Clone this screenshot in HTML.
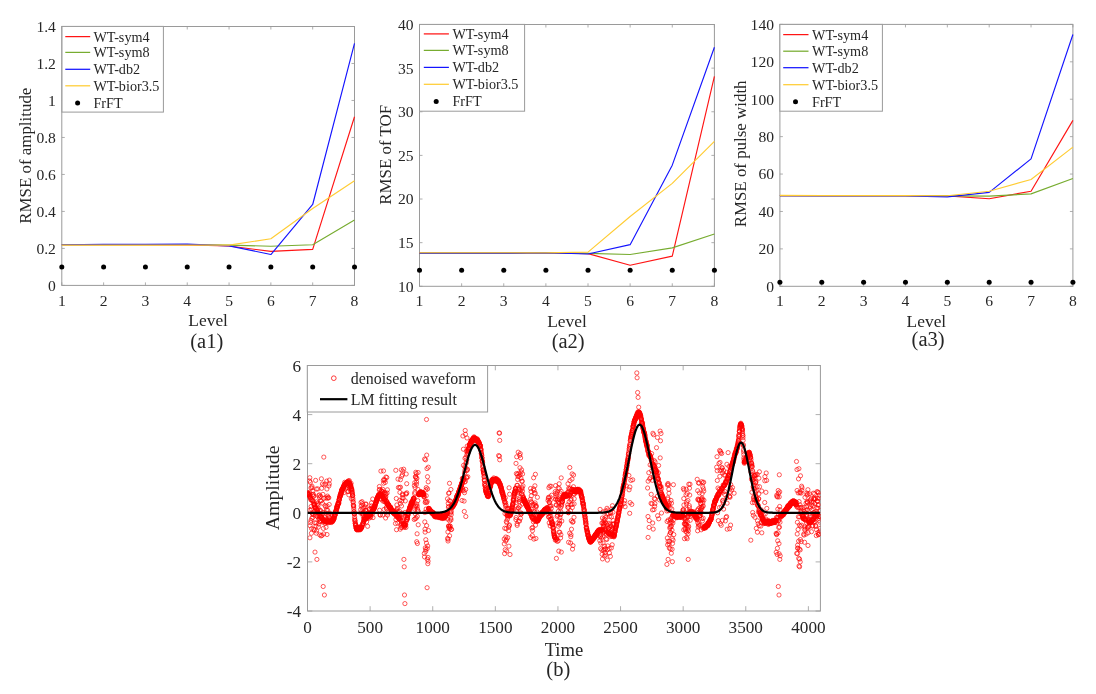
<!DOCTYPE html>
<html><head><meta charset="utf-8"><title>figure</title>
<style>html,body{margin:0;padding:0;background:#fff;width:1096px;height:694px;overflow:hidden}svg{display:block;will-change:transform}</style>
</head><body>
<svg width="1096" height="694" viewBox="0 0 1096 694" font-family='"Liberation Serif", serif'>
<defs><clipPath id="cb"><rect x="307.5" y="365.5" width="512.9" height="245.5"/></clipPath></defs>
<rect width="100%" height="100%" fill="#fff"/>
<rect x="61.8" y="26.5" width="292.7" height="258.9" fill="none" stroke="#9a9a9a" stroke-width="1"/>
<line x1="61.8" y1="285.4" x2="61.8" y2="282.4" stroke="#9a9a9a" stroke-width="0.8"/>
<line x1="61.8" y1="26.5" x2="61.8" y2="29.5" stroke="#9a9a9a" stroke-width="0.8"/>
<text x="61.8" y="306.2" font-size="15.6" text-anchor="middle" fill="#262626">1</text>
<line x1="103.61" y1="285.4" x2="103.61" y2="282.4" stroke="#9a9a9a" stroke-width="0.8"/>
<line x1="103.61" y1="26.5" x2="103.61" y2="29.5" stroke="#9a9a9a" stroke-width="0.8"/>
<text x="103.61" y="306.2" font-size="15.6" text-anchor="middle" fill="#262626">2</text>
<line x1="145.43" y1="285.4" x2="145.43" y2="282.4" stroke="#9a9a9a" stroke-width="0.8"/>
<line x1="145.43" y1="26.5" x2="145.43" y2="29.5" stroke="#9a9a9a" stroke-width="0.8"/>
<text x="145.43" y="306.2" font-size="15.6" text-anchor="middle" fill="#262626">3</text>
<line x1="187.24" y1="285.4" x2="187.24" y2="282.4" stroke="#9a9a9a" stroke-width="0.8"/>
<line x1="187.24" y1="26.5" x2="187.24" y2="29.5" stroke="#9a9a9a" stroke-width="0.8"/>
<text x="187.24" y="306.2" font-size="15.6" text-anchor="middle" fill="#262626">4</text>
<line x1="229.06" y1="285.4" x2="229.06" y2="282.4" stroke="#9a9a9a" stroke-width="0.8"/>
<line x1="229.06" y1="26.5" x2="229.06" y2="29.5" stroke="#9a9a9a" stroke-width="0.8"/>
<text x="229.06" y="306.2" font-size="15.6" text-anchor="middle" fill="#262626">5</text>
<line x1="270.87" y1="285.4" x2="270.87" y2="282.4" stroke="#9a9a9a" stroke-width="0.8"/>
<line x1="270.87" y1="26.5" x2="270.87" y2="29.5" stroke="#9a9a9a" stroke-width="0.8"/>
<text x="270.87" y="306.2" font-size="15.6" text-anchor="middle" fill="#262626">6</text>
<line x1="312.69" y1="285.4" x2="312.69" y2="282.4" stroke="#9a9a9a" stroke-width="0.8"/>
<line x1="312.69" y1="26.5" x2="312.69" y2="29.5" stroke="#9a9a9a" stroke-width="0.8"/>
<text x="312.69" y="306.2" font-size="15.6" text-anchor="middle" fill="#262626">7</text>
<line x1="354.5" y1="285.4" x2="354.5" y2="282.4" stroke="#9a9a9a" stroke-width="0.8"/>
<line x1="354.5" y1="26.5" x2="354.5" y2="29.5" stroke="#9a9a9a" stroke-width="0.8"/>
<text x="354.5" y="306.2" font-size="15.6" text-anchor="middle" fill="#262626">8</text>
<line x1="61.8" y1="285.4" x2="64.8" y2="285.4" stroke="#9a9a9a" stroke-width="0.8"/>
<line x1="354.5" y1="285.4" x2="351.5" y2="285.4" stroke="#9a9a9a" stroke-width="0.8"/>
<text x="55.9" y="290.8" font-size="15.6" text-anchor="end" fill="#262626">0</text>
<line x1="61.8" y1="248.41" x2="64.8" y2="248.41" stroke="#9a9a9a" stroke-width="0.8"/>
<line x1="354.5" y1="248.41" x2="351.5" y2="248.41" stroke="#9a9a9a" stroke-width="0.8"/>
<text x="55.9" y="253.81" font-size="15.6" text-anchor="end" fill="#262626">0.2</text>
<line x1="61.8" y1="211.43" x2="64.8" y2="211.43" stroke="#9a9a9a" stroke-width="0.8"/>
<line x1="354.5" y1="211.43" x2="351.5" y2="211.43" stroke="#9a9a9a" stroke-width="0.8"/>
<text x="55.9" y="216.83" font-size="15.6" text-anchor="end" fill="#262626">0.4</text>
<line x1="61.8" y1="174.44" x2="64.8" y2="174.44" stroke="#9a9a9a" stroke-width="0.8"/>
<line x1="354.5" y1="174.44" x2="351.5" y2="174.44" stroke="#9a9a9a" stroke-width="0.8"/>
<text x="55.9" y="179.84" font-size="15.6" text-anchor="end" fill="#262626">0.6</text>
<line x1="61.8" y1="137.46" x2="64.8" y2="137.46" stroke="#9a9a9a" stroke-width="0.8"/>
<line x1="354.5" y1="137.46" x2="351.5" y2="137.46" stroke="#9a9a9a" stroke-width="0.8"/>
<text x="55.9" y="142.86" font-size="15.6" text-anchor="end" fill="#262626">0.8</text>
<line x1="61.8" y1="100.47" x2="64.8" y2="100.47" stroke="#9a9a9a" stroke-width="0.8"/>
<line x1="354.5" y1="100.47" x2="351.5" y2="100.47" stroke="#9a9a9a" stroke-width="0.8"/>
<text x="55.9" y="105.87" font-size="15.6" text-anchor="end" fill="#262626">1</text>
<line x1="61.8" y1="63.49" x2="64.8" y2="63.49" stroke="#9a9a9a" stroke-width="0.8"/>
<line x1="354.5" y1="63.49" x2="351.5" y2="63.49" stroke="#9a9a9a" stroke-width="0.8"/>
<text x="55.9" y="68.89" font-size="15.6" text-anchor="end" fill="#262626">1.2</text>
<line x1="61.8" y1="26.5" x2="64.8" y2="26.5" stroke="#9a9a9a" stroke-width="0.8"/>
<line x1="354.5" y1="26.5" x2="351.5" y2="26.5" stroke="#9a9a9a" stroke-width="0.8"/>
<text x="55.9" y="31.9" font-size="15.6" text-anchor="end" fill="#262626">1.4</text>
<polyline points="61.8,244.72 103.61,244.72 145.43,244.72 187.24,244.9 229.06,246.01 270.87,251.37 312.69,249.34 354.5,116.75" fill="none" stroke="#ff1414" stroke-width="1.15" stroke-linejoin="round"/>
<polyline points="61.8,244.72 103.61,244.72 145.43,244.72 187.24,244.53 229.06,245.09 270.87,246.2 312.69,244.79 354.5,220.12" fill="none" stroke="#77ac30" stroke-width="1.15" stroke-linejoin="round"/>
<polyline points="61.8,244.72 103.61,244.35 145.43,244.35 187.24,244.16 229.06,245.83 270.87,254.52 312.69,204.49 354.5,43.33" fill="none" stroke="#1414ff" stroke-width="1.15" stroke-linejoin="round"/>
<polyline points="61.8,245.09 103.61,245.09 145.43,245.09 187.24,245.09 229.06,245.09 270.87,238.8 312.69,208.47 354.5,180.73" fill="none" stroke="#ffcc33" stroke-width="1.15" stroke-linejoin="round"/>
<circle cx="61.8" cy="266.91" r="2.5" fill="#000"/>
<circle cx="103.61" cy="266.91" r="2.5" fill="#000"/>
<circle cx="145.43" cy="266.91" r="2.5" fill="#000"/>
<circle cx="187.24" cy="266.91" r="2.5" fill="#000"/>
<circle cx="229.06" cy="266.91" r="2.5" fill="#000"/>
<circle cx="270.87" cy="266.91" r="2.5" fill="#000"/>
<circle cx="312.69" cy="266.91" r="2.5" fill="#000"/>
<circle cx="354.5" cy="266.91" r="2.5" fill="#000"/>
<rect x="62" y="26.4" width="101.4" height="85.7" fill="#fff" stroke="#9a9a9a" stroke-width="1"/>
<line x1="65.3" y1="36.6" x2="90.2" y2="36.6" stroke="#ff1414" stroke-width="1.25"/>
<text x="93.4" y="41.5" font-size="14.2" text-anchor="start" fill="#262626">WT-sym4</text>
<line x1="65.3" y1="52.4" x2="90.2" y2="52.4" stroke="#77ac30" stroke-width="1.25"/>
<text x="93.4" y="57.3" font-size="14.2" text-anchor="start" fill="#262626">WT-sym8</text>
<line x1="65.3" y1="69.3" x2="90.2" y2="69.3" stroke="#1414ff" stroke-width="1.25"/>
<text x="93.4" y="74.2" font-size="14.2" text-anchor="start" fill="#262626">WT-db2</text>
<line x1="65.3" y1="85.8" x2="90.2" y2="85.8" stroke="#ffcc33" stroke-width="1.25"/>
<text x="93.4" y="90.7" font-size="14.2" text-anchor="start" fill="#262626">WT-bior3.5</text>
<circle cx="77.6" cy="103.1" r="2.5" fill="#000"/>
<text x="93.4" y="108" font-size="14.2" text-anchor="start" fill="#262626">FrFT</text>
<text x="208.15" y="326.3" font-size="17.4" text-anchor="middle" fill="#262626">Level</text>
<text x="0" y="0" transform="translate(30.6 155.7) rotate(-90)" font-size="16.9" text-anchor="middle" fill="#262626">RMSE of amplitude</text>
<text x="206.8" y="347.8" font-size="20.5" text-anchor="middle" fill="#262626">(a1)</text>
<rect x="419.5" y="24.5" width="294.9" height="261.8" fill="none" stroke="#9a9a9a" stroke-width="1"/>
<line x1="419.5" y1="286.3" x2="419.5" y2="283.3" stroke="#9a9a9a" stroke-width="0.8"/>
<line x1="419.5" y1="24.5" x2="419.5" y2="27.5" stroke="#9a9a9a" stroke-width="0.8"/>
<text x="419.5" y="306.2" font-size="15.6" text-anchor="middle" fill="#262626">1</text>
<line x1="461.63" y1="286.3" x2="461.63" y2="283.3" stroke="#9a9a9a" stroke-width="0.8"/>
<line x1="461.63" y1="24.5" x2="461.63" y2="27.5" stroke="#9a9a9a" stroke-width="0.8"/>
<text x="461.63" y="306.2" font-size="15.6" text-anchor="middle" fill="#262626">2</text>
<line x1="503.76" y1="286.3" x2="503.76" y2="283.3" stroke="#9a9a9a" stroke-width="0.8"/>
<line x1="503.76" y1="24.5" x2="503.76" y2="27.5" stroke="#9a9a9a" stroke-width="0.8"/>
<text x="503.76" y="306.2" font-size="15.6" text-anchor="middle" fill="#262626">3</text>
<line x1="545.89" y1="286.3" x2="545.89" y2="283.3" stroke="#9a9a9a" stroke-width="0.8"/>
<line x1="545.89" y1="24.5" x2="545.89" y2="27.5" stroke="#9a9a9a" stroke-width="0.8"/>
<text x="545.89" y="306.2" font-size="15.6" text-anchor="middle" fill="#262626">4</text>
<line x1="588.01" y1="286.3" x2="588.01" y2="283.3" stroke="#9a9a9a" stroke-width="0.8"/>
<line x1="588.01" y1="24.5" x2="588.01" y2="27.5" stroke="#9a9a9a" stroke-width="0.8"/>
<text x="588.01" y="306.2" font-size="15.6" text-anchor="middle" fill="#262626">5</text>
<line x1="630.14" y1="286.3" x2="630.14" y2="283.3" stroke="#9a9a9a" stroke-width="0.8"/>
<line x1="630.14" y1="24.5" x2="630.14" y2="27.5" stroke="#9a9a9a" stroke-width="0.8"/>
<text x="630.14" y="306.2" font-size="15.6" text-anchor="middle" fill="#262626">6</text>
<line x1="672.27" y1="286.3" x2="672.27" y2="283.3" stroke="#9a9a9a" stroke-width="0.8"/>
<line x1="672.27" y1="24.5" x2="672.27" y2="27.5" stroke="#9a9a9a" stroke-width="0.8"/>
<text x="672.27" y="306.2" font-size="15.6" text-anchor="middle" fill="#262626">7</text>
<line x1="714.4" y1="286.3" x2="714.4" y2="283.3" stroke="#9a9a9a" stroke-width="0.8"/>
<line x1="714.4" y1="24.5" x2="714.4" y2="27.5" stroke="#9a9a9a" stroke-width="0.8"/>
<text x="714.4" y="306.2" font-size="15.6" text-anchor="middle" fill="#262626">8</text>
<line x1="419.5" y1="286.3" x2="422.5" y2="286.3" stroke="#9a9a9a" stroke-width="0.8"/>
<line x1="714.4" y1="286.3" x2="711.4" y2="286.3" stroke="#9a9a9a" stroke-width="0.8"/>
<text x="413.6" y="291.7" font-size="15.6" text-anchor="end" fill="#262626">10</text>
<line x1="419.5" y1="242.67" x2="422.5" y2="242.67" stroke="#9a9a9a" stroke-width="0.8"/>
<line x1="714.4" y1="242.67" x2="711.4" y2="242.67" stroke="#9a9a9a" stroke-width="0.8"/>
<text x="413.6" y="248.07" font-size="15.6" text-anchor="end" fill="#262626">15</text>
<line x1="419.5" y1="199.03" x2="422.5" y2="199.03" stroke="#9a9a9a" stroke-width="0.8"/>
<line x1="714.4" y1="199.03" x2="711.4" y2="199.03" stroke="#9a9a9a" stroke-width="0.8"/>
<text x="413.6" y="204.43" font-size="15.6" text-anchor="end" fill="#262626">20</text>
<line x1="419.5" y1="155.4" x2="422.5" y2="155.4" stroke="#9a9a9a" stroke-width="0.8"/>
<line x1="714.4" y1="155.4" x2="711.4" y2="155.4" stroke="#9a9a9a" stroke-width="0.8"/>
<text x="413.6" y="160.8" font-size="15.6" text-anchor="end" fill="#262626">25</text>
<line x1="419.5" y1="111.77" x2="422.5" y2="111.77" stroke="#9a9a9a" stroke-width="0.8"/>
<line x1="714.4" y1="111.77" x2="711.4" y2="111.77" stroke="#9a9a9a" stroke-width="0.8"/>
<text x="413.6" y="117.17" font-size="15.6" text-anchor="end" fill="#262626">30</text>
<line x1="419.5" y1="68.13" x2="422.5" y2="68.13" stroke="#9a9a9a" stroke-width="0.8"/>
<line x1="714.4" y1="68.13" x2="711.4" y2="68.13" stroke="#9a9a9a" stroke-width="0.8"/>
<text x="413.6" y="73.53" font-size="15.6" text-anchor="end" fill="#262626">35</text>
<line x1="419.5" y1="24.5" x2="422.5" y2="24.5" stroke="#9a9a9a" stroke-width="0.8"/>
<line x1="714.4" y1="24.5" x2="711.4" y2="24.5" stroke="#9a9a9a" stroke-width="0.8"/>
<text x="413.6" y="29.9" font-size="15.6" text-anchor="end" fill="#262626">40</text>
<polyline points="419.5,253.14 461.63,253.14 503.76,253.14 545.89,252.7 588.01,253.58 630.14,265.27 672.27,256.11 714.4,76.42" fill="none" stroke="#ff1414" stroke-width="1.15" stroke-linejoin="round"/>
<polyline points="419.5,253.14 461.63,253.14 503.76,253.14 545.89,252.7 588.01,253.31 630.14,254.53 672.27,247.9 714.4,233.94" fill="none" stroke="#77ac30" stroke-width="1.15" stroke-linejoin="round"/>
<polyline points="419.5,253.14 461.63,253.14 503.76,253.14 545.89,252.7 588.01,254.01 630.14,244.67 672.27,165.17 714.4,47.19" fill="none" stroke="#1414ff" stroke-width="1.15" stroke-linejoin="round"/>
<polyline points="419.5,252.7 461.63,252.7 503.76,252.7 545.89,252.7 588.01,252.09 630.14,216.49 672.27,183.33 714.4,141.44" fill="none" stroke="#ffcc33" stroke-width="1.15" stroke-linejoin="round"/>
<circle cx="419.5" cy="270.33" r="2.5" fill="#000"/>
<circle cx="461.63" cy="270.33" r="2.5" fill="#000"/>
<circle cx="503.76" cy="270.33" r="2.5" fill="#000"/>
<circle cx="545.89" cy="270.33" r="2.5" fill="#000"/>
<circle cx="588.01" cy="270.33" r="2.5" fill="#000"/>
<circle cx="630.14" cy="270.33" r="2.5" fill="#000"/>
<circle cx="672.27" cy="270.33" r="2.5" fill="#000"/>
<circle cx="714.4" cy="270.33" r="2.5" fill="#000"/>
<rect x="419.5" y="24.4" width="105.1" height="86.8" fill="#fff" stroke="#9a9a9a" stroke-width="1"/>
<line x1="423.8" y1="33.9" x2="448.9" y2="33.9" stroke="#ff1414" stroke-width="1.25"/>
<text x="452.4" y="38.8" font-size="14.2" text-anchor="start" fill="#262626">WT-sym4</text>
<line x1="423.8" y1="50.4" x2="448.9" y2="50.4" stroke="#77ac30" stroke-width="1.25"/>
<text x="452.4" y="55.3" font-size="14.2" text-anchor="start" fill="#262626">WT-sym8</text>
<line x1="423.8" y1="67.4" x2="448.9" y2="67.4" stroke="#1414ff" stroke-width="1.25"/>
<text x="452.4" y="72.3" font-size="14.2" text-anchor="start" fill="#262626">WT-db2</text>
<line x1="423.8" y1="84.3" x2="448.9" y2="84.3" stroke="#ffcc33" stroke-width="1.25"/>
<text x="452.4" y="89.2" font-size="14.2" text-anchor="start" fill="#262626">WT-bior3.5</text>
<circle cx="436.2" cy="101.4" r="2.5" fill="#000"/>
<text x="452.4" y="106.3" font-size="14.2" text-anchor="start" fill="#262626">FrFT</text>
<text x="566.95" y="327" font-size="17.4" text-anchor="middle" fill="#262626">Level</text>
<text x="0" y="0" transform="translate(391 154.8) rotate(-90)" font-size="16.9" text-anchor="middle" fill="#262626">RMSE of TOF</text>
<text x="568.2" y="347.7" font-size="20.5" text-anchor="middle" fill="#262626">(a2)</text>
<rect x="779.9" y="24.4" width="293" height="261.9" fill="none" stroke="#9a9a9a" stroke-width="1"/>
<line x1="779.9" y1="286.3" x2="779.9" y2="283.3" stroke="#9a9a9a" stroke-width="0.8"/>
<line x1="779.9" y1="24.4" x2="779.9" y2="27.4" stroke="#9a9a9a" stroke-width="0.8"/>
<text x="779.9" y="306.2" font-size="15.6" text-anchor="middle" fill="#262626">1</text>
<line x1="821.76" y1="286.3" x2="821.76" y2="283.3" stroke="#9a9a9a" stroke-width="0.8"/>
<line x1="821.76" y1="24.4" x2="821.76" y2="27.4" stroke="#9a9a9a" stroke-width="0.8"/>
<text x="821.76" y="306.2" font-size="15.6" text-anchor="middle" fill="#262626">2</text>
<line x1="863.61" y1="286.3" x2="863.61" y2="283.3" stroke="#9a9a9a" stroke-width="0.8"/>
<line x1="863.61" y1="24.4" x2="863.61" y2="27.4" stroke="#9a9a9a" stroke-width="0.8"/>
<text x="863.61" y="306.2" font-size="15.6" text-anchor="middle" fill="#262626">3</text>
<line x1="905.47" y1="286.3" x2="905.47" y2="283.3" stroke="#9a9a9a" stroke-width="0.8"/>
<line x1="905.47" y1="24.4" x2="905.47" y2="27.4" stroke="#9a9a9a" stroke-width="0.8"/>
<text x="905.47" y="306.2" font-size="15.6" text-anchor="middle" fill="#262626">4</text>
<line x1="947.33" y1="286.3" x2="947.33" y2="283.3" stroke="#9a9a9a" stroke-width="0.8"/>
<line x1="947.33" y1="24.4" x2="947.33" y2="27.4" stroke="#9a9a9a" stroke-width="0.8"/>
<text x="947.33" y="306.2" font-size="15.6" text-anchor="middle" fill="#262626">5</text>
<line x1="989.19" y1="286.3" x2="989.19" y2="283.3" stroke="#9a9a9a" stroke-width="0.8"/>
<line x1="989.19" y1="24.4" x2="989.19" y2="27.4" stroke="#9a9a9a" stroke-width="0.8"/>
<text x="989.19" y="306.2" font-size="15.6" text-anchor="middle" fill="#262626">6</text>
<line x1="1031.04" y1="286.3" x2="1031.04" y2="283.3" stroke="#9a9a9a" stroke-width="0.8"/>
<line x1="1031.04" y1="24.4" x2="1031.04" y2="27.4" stroke="#9a9a9a" stroke-width="0.8"/>
<text x="1031.04" y="306.2" font-size="15.6" text-anchor="middle" fill="#262626">7</text>
<line x1="1072.9" y1="286.3" x2="1072.9" y2="283.3" stroke="#9a9a9a" stroke-width="0.8"/>
<line x1="1072.9" y1="24.4" x2="1072.9" y2="27.4" stroke="#9a9a9a" stroke-width="0.8"/>
<text x="1072.9" y="306.2" font-size="15.6" text-anchor="middle" fill="#262626">8</text>
<line x1="779.9" y1="286.3" x2="782.9" y2="286.3" stroke="#9a9a9a" stroke-width="0.8"/>
<line x1="1072.9" y1="286.3" x2="1069.9" y2="286.3" stroke="#9a9a9a" stroke-width="0.8"/>
<text x="774" y="291.7" font-size="15.6" text-anchor="end" fill="#262626">0</text>
<line x1="779.9" y1="248.89" x2="782.9" y2="248.89" stroke="#9a9a9a" stroke-width="0.8"/>
<line x1="1072.9" y1="248.89" x2="1069.9" y2="248.89" stroke="#9a9a9a" stroke-width="0.8"/>
<text x="774" y="254.29" font-size="15.6" text-anchor="end" fill="#262626">20</text>
<line x1="779.9" y1="211.47" x2="782.9" y2="211.47" stroke="#9a9a9a" stroke-width="0.8"/>
<line x1="1072.9" y1="211.47" x2="1069.9" y2="211.47" stroke="#9a9a9a" stroke-width="0.8"/>
<text x="774" y="216.87" font-size="15.6" text-anchor="end" fill="#262626">40</text>
<line x1="779.9" y1="174.06" x2="782.9" y2="174.06" stroke="#9a9a9a" stroke-width="0.8"/>
<line x1="1072.9" y1="174.06" x2="1069.9" y2="174.06" stroke="#9a9a9a" stroke-width="0.8"/>
<text x="774" y="179.46" font-size="15.6" text-anchor="end" fill="#262626">60</text>
<line x1="779.9" y1="136.64" x2="782.9" y2="136.64" stroke="#9a9a9a" stroke-width="0.8"/>
<line x1="1072.9" y1="136.64" x2="1069.9" y2="136.64" stroke="#9a9a9a" stroke-width="0.8"/>
<text x="774" y="142.04" font-size="15.6" text-anchor="end" fill="#262626">80</text>
<line x1="779.9" y1="99.23" x2="782.9" y2="99.23" stroke="#9a9a9a" stroke-width="0.8"/>
<line x1="1072.9" y1="99.23" x2="1069.9" y2="99.23" stroke="#9a9a9a" stroke-width="0.8"/>
<text x="774" y="104.63" font-size="15.6" text-anchor="end" fill="#262626">100</text>
<line x1="779.9" y1="61.81" x2="782.9" y2="61.81" stroke="#9a9a9a" stroke-width="0.8"/>
<line x1="1072.9" y1="61.81" x2="1069.9" y2="61.81" stroke="#9a9a9a" stroke-width="0.8"/>
<text x="774" y="67.21" font-size="15.6" text-anchor="end" fill="#262626">120</text>
<line x1="779.9" y1="24.4" x2="782.9" y2="24.4" stroke="#9a9a9a" stroke-width="0.8"/>
<line x1="1072.9" y1="24.4" x2="1069.9" y2="24.4" stroke="#9a9a9a" stroke-width="0.8"/>
<text x="774" y="29.8" font-size="15.6" text-anchor="end" fill="#262626">140</text>
<polyline points="779.9,195.57 821.76,195.57 863.61,195.57 905.47,195.57 947.33,195.94 989.19,198.75 1031.04,191.27 1072.9,120.37" fill="none" stroke="#ff1414" stroke-width="1.15" stroke-linejoin="round"/>
<polyline points="779.9,195.57 821.76,195.57 863.61,195.57 905.47,195.57 947.33,195.94 989.19,196.13 1031.04,193.89 1072.9,178.55" fill="none" stroke="#77ac30" stroke-width="1.15" stroke-linejoin="round"/>
<polyline points="779.9,195.57 821.76,195.94 863.61,195.94 905.47,195.94 947.33,196.88 989.19,192.39 1031.04,158.9 1072.9,34.5" fill="none" stroke="#1414ff" stroke-width="1.15" stroke-linejoin="round"/>
<polyline points="779.9,195.38 821.76,195.57 863.61,195.57 905.47,195.57 947.33,195.76 989.19,191.27 1031.04,179.48 1072.9,147.12" fill="none" stroke="#ffcc33" stroke-width="1.15" stroke-linejoin="round"/>
<circle cx="779.9" cy="282.37" r="2.5" fill="#000"/>
<circle cx="821.76" cy="282.37" r="2.5" fill="#000"/>
<circle cx="863.61" cy="282.37" r="2.5" fill="#000"/>
<circle cx="905.47" cy="282.37" r="2.5" fill="#000"/>
<circle cx="947.33" cy="282.37" r="2.5" fill="#000"/>
<circle cx="989.19" cy="282.37" r="2.5" fill="#000"/>
<circle cx="1031.04" cy="282.37" r="2.5" fill="#000"/>
<circle cx="1072.9" cy="282.37" r="2.5" fill="#000"/>
<rect x="779.9" y="24.4" width="102.5" height="86.8" fill="#fff" stroke="#9a9a9a" stroke-width="1"/>
<line x1="783.2" y1="34.6" x2="808.5" y2="34.6" stroke="#ff1414" stroke-width="1.25"/>
<text x="812" y="39.5" font-size="14.2" text-anchor="start" fill="#262626">WT-sym4</text>
<line x1="783.2" y1="51.2" x2="808.5" y2="51.2" stroke="#77ac30" stroke-width="1.25"/>
<text x="812" y="56.1" font-size="14.2" text-anchor="start" fill="#262626">WT-sym8</text>
<line x1="783.2" y1="67.7" x2="808.5" y2="67.7" stroke="#1414ff" stroke-width="1.25"/>
<text x="812" y="72.6" font-size="14.2" text-anchor="start" fill="#262626">WT-db2</text>
<line x1="783.2" y1="84.7" x2="808.5" y2="84.7" stroke="#ffcc33" stroke-width="1.25"/>
<text x="812" y="89.6" font-size="14.2" text-anchor="start" fill="#262626">WT-bior3.5</text>
<circle cx="795.5" cy="101.8" r="2.5" fill="#000"/>
<text x="812" y="106.7" font-size="14.2" text-anchor="start" fill="#262626">FrFT</text>
<text x="926.4" y="326.8" font-size="17.4" text-anchor="middle" fill="#262626">Level</text>
<text x="0" y="0" transform="translate(745.7 153.9) rotate(-90)" font-size="16.9" text-anchor="middle" fill="#262626">RMSE of pulse width</text>
<text x="928.1" y="345.5" font-size="20.5" text-anchor="middle" fill="#262626">(a3)</text>
<rect x="307.5" y="365.5" width="512.9" height="245.5" fill="none" stroke="#9a9a9a" stroke-width="1"/>
<line x1="307.5" y1="611" x2="307.5" y2="606.2" stroke="#9a9a9a" stroke-width="0.8"/>
<line x1="307.5" y1="365.5" x2="307.5" y2="370.3" stroke="#9a9a9a" stroke-width="0.8"/>
<text x="307.5" y="633.4" font-size="17.2" text-anchor="middle" fill="#262626">0</text>
<line x1="370.11" y1="611" x2="370.11" y2="606.2" stroke="#9a9a9a" stroke-width="0.8"/>
<line x1="370.11" y1="365.5" x2="370.11" y2="370.3" stroke="#9a9a9a" stroke-width="0.8"/>
<text x="370.11" y="633.4" font-size="17.2" text-anchor="middle" fill="#262626">500</text>
<line x1="432.72" y1="611" x2="432.72" y2="606.2" stroke="#9a9a9a" stroke-width="0.8"/>
<line x1="432.72" y1="365.5" x2="432.72" y2="370.3" stroke="#9a9a9a" stroke-width="0.8"/>
<text x="432.72" y="633.4" font-size="17.2" text-anchor="middle" fill="#262626">1000</text>
<line x1="495.33" y1="611" x2="495.33" y2="606.2" stroke="#9a9a9a" stroke-width="0.8"/>
<line x1="495.33" y1="365.5" x2="495.33" y2="370.3" stroke="#9a9a9a" stroke-width="0.8"/>
<text x="495.33" y="633.4" font-size="17.2" text-anchor="middle" fill="#262626">1500</text>
<line x1="557.94" y1="611" x2="557.94" y2="606.2" stroke="#9a9a9a" stroke-width="0.8"/>
<line x1="557.94" y1="365.5" x2="557.94" y2="370.3" stroke="#9a9a9a" stroke-width="0.8"/>
<text x="557.94" y="633.4" font-size="17.2" text-anchor="middle" fill="#262626">2000</text>
<line x1="620.55" y1="611" x2="620.55" y2="606.2" stroke="#9a9a9a" stroke-width="0.8"/>
<line x1="620.55" y1="365.5" x2="620.55" y2="370.3" stroke="#9a9a9a" stroke-width="0.8"/>
<text x="620.55" y="633.4" font-size="17.2" text-anchor="middle" fill="#262626">2500</text>
<line x1="683.16" y1="611" x2="683.16" y2="606.2" stroke="#9a9a9a" stroke-width="0.8"/>
<line x1="683.16" y1="365.5" x2="683.16" y2="370.3" stroke="#9a9a9a" stroke-width="0.8"/>
<text x="683.16" y="633.4" font-size="17.2" text-anchor="middle" fill="#262626">3000</text>
<line x1="745.77" y1="611" x2="745.77" y2="606.2" stroke="#9a9a9a" stroke-width="0.8"/>
<line x1="745.77" y1="365.5" x2="745.77" y2="370.3" stroke="#9a9a9a" stroke-width="0.8"/>
<text x="745.77" y="633.4" font-size="17.2" text-anchor="middle" fill="#262626">3500</text>
<line x1="808.38" y1="611" x2="808.38" y2="606.2" stroke="#9a9a9a" stroke-width="0.8"/>
<line x1="808.38" y1="365.5" x2="808.38" y2="370.3" stroke="#9a9a9a" stroke-width="0.8"/>
<text x="808.38" y="633.4" font-size="17.2" text-anchor="middle" fill="#262626">4000</text>
<line x1="307.5" y1="611" x2="312.3" y2="611" stroke="#9a9a9a" stroke-width="0.8"/>
<line x1="820.4" y1="611" x2="815.6" y2="611" stroke="#9a9a9a" stroke-width="0.8"/>
<text x="301" y="617" font-size="17.2" text-anchor="end" fill="#262626">-4</text>
<line x1="307.5" y1="561.9" x2="312.3" y2="561.9" stroke="#9a9a9a" stroke-width="0.8"/>
<line x1="820.4" y1="561.9" x2="815.6" y2="561.9" stroke="#9a9a9a" stroke-width="0.8"/>
<text x="301" y="567.9" font-size="17.2" text-anchor="end" fill="#262626">-2</text>
<line x1="307.5" y1="512.8" x2="312.3" y2="512.8" stroke="#9a9a9a" stroke-width="0.8"/>
<line x1="820.4" y1="512.8" x2="815.6" y2="512.8" stroke="#9a9a9a" stroke-width="0.8"/>
<text x="301" y="518.8" font-size="17.2" text-anchor="end" fill="#262626">0</text>
<line x1="307.5" y1="463.7" x2="312.3" y2="463.7" stroke="#9a9a9a" stroke-width="0.8"/>
<line x1="820.4" y1="463.7" x2="815.6" y2="463.7" stroke="#9a9a9a" stroke-width="0.8"/>
<text x="301" y="469.7" font-size="17.2" text-anchor="end" fill="#262626">2</text>
<line x1="307.5" y1="414.6" x2="312.3" y2="414.6" stroke="#9a9a9a" stroke-width="0.8"/>
<line x1="820.4" y1="414.6" x2="815.6" y2="414.6" stroke="#9a9a9a" stroke-width="0.8"/>
<text x="301" y="420.6" font-size="17.2" text-anchor="end" fill="#262626">4</text>
<line x1="307.5" y1="365.5" x2="312.3" y2="365.5" stroke="#9a9a9a" stroke-width="0.8"/>
<line x1="820.4" y1="365.5" x2="815.6" y2="365.5" stroke="#9a9a9a" stroke-width="0.8"/>
<text x="301" y="371.5" font-size="17.2" text-anchor="end" fill="#262626">6</text>
<g clip-path="url(#cb)"><path d="M305.4 492.9a2.1 2.1 0 1 0 4.2 0a2.1 2.1 0 1 0 -4.2 0M305.5 492.8a2.1 2.1 0 1 0 4.2 0a2.1 2.1 0 1 0 -4.2 0M305.7 493.4a2.1 2.1 0 1 0 4.2 0a2.1 2.1 0 1 0 -4.2 0M305.8 494.1a2.1 2.1 0 1 0 4.2 0a2.1 2.1 0 1 0 -4.2 0M305.9 493.9a2.1 2.1 0 1 0 4.2 0a2.1 2.1 0 1 0 -4.2 0M306.0 494.5a2.1 2.1 0 1 0 4.2 0a2.1 2.1 0 1 0 -4.2 0M306.2 493.9a2.1 2.1 0 1 0 4.2 0a2.1 2.1 0 1 0 -4.2 0M306.3 493.2a2.1 2.1 0 1 0 4.2 0a2.1 2.1 0 1 0 -4.2 0M306.4 494.7a2.1 2.1 0 1 0 4.2 0a2.1 2.1 0 1 0 -4.2 0M306.5 495.0a2.1 2.1 0 1 0 4.2 0a2.1 2.1 0 1 0 -4.2 0M306.7 494.3a2.1 2.1 0 1 0 4.2 0a2.1 2.1 0 1 0 -4.2 0M306.8 494.6a2.1 2.1 0 1 0 4.2 0a2.1 2.1 0 1 0 -4.2 0M306.9 495.0a2.1 2.1 0 1 0 4.2 0a2.1 2.1 0 1 0 -4.2 0M307.0 496.0a2.1 2.1 0 1 0 4.2 0a2.1 2.1 0 1 0 -4.2 0M307.2 495.5a2.1 2.1 0 1 0 4.2 0a2.1 2.1 0 1 0 -4.2 0M307.3 492.5a2.1 2.1 0 1 0 4.2 0a2.1 2.1 0 1 0 -4.2 0M307.4 496.9a2.1 2.1 0 1 0 4.2 0a2.1 2.1 0 1 0 -4.2 0M307.5 481.0a2.1 2.1 0 1 0 4.2 0a2.1 2.1 0 1 0 -4.2 0M307.7 477.7a2.1 2.1 0 1 0 4.2 0a2.1 2.1 0 1 0 -4.2 0M307.8 537.8a2.1 2.1 0 1 0 4.2 0a2.1 2.1 0 1 0 -4.2 0M307.9 510.1a2.1 2.1 0 1 0 4.2 0a2.1 2.1 0 1 0 -4.2 0M308.0 525.7a2.1 2.1 0 1 0 4.2 0a2.1 2.1 0 1 0 -4.2 0M308.2 498.0a2.1 2.1 0 1 0 4.2 0a2.1 2.1 0 1 0 -4.2 0M308.3 482.4a2.1 2.1 0 1 0 4.2 0a2.1 2.1 0 1 0 -4.2 0M308.4 497.4a2.1 2.1 0 1 0 4.2 0a2.1 2.1 0 1 0 -4.2 0M308.5 522.5a2.1 2.1 0 1 0 4.2 0a2.1 2.1 0 1 0 -4.2 0M308.7 499.7a2.1 2.1 0 1 0 4.2 0a2.1 2.1 0 1 0 -4.2 0M308.8 487.9a2.1 2.1 0 1 0 4.2 0a2.1 2.1 0 1 0 -4.2 0M308.9 520.4a2.1 2.1 0 1 0 4.2 0a2.1 2.1 0 1 0 -4.2 0M309.0 506.5a2.1 2.1 0 1 0 4.2 0a2.1 2.1 0 1 0 -4.2 0M309.2 499.8a2.1 2.1 0 1 0 4.2 0a2.1 2.1 0 1 0 -4.2 0M309.3 533.3a2.1 2.1 0 1 0 4.2 0a2.1 2.1 0 1 0 -4.2 0M309.4 509.2a2.1 2.1 0 1 0 4.2 0a2.1 2.1 0 1 0 -4.2 0M309.5 528.6a2.1 2.1 0 1 0 4.2 0a2.1 2.1 0 1 0 -4.2 0M309.7 518.3a2.1 2.1 0 1 0 4.2 0a2.1 2.1 0 1 0 -4.2 0M309.8 487.8a2.1 2.1 0 1 0 4.2 0a2.1 2.1 0 1 0 -4.2 0M309.9 486.3a2.1 2.1 0 1 0 4.2 0a2.1 2.1 0 1 0 -4.2 0M310.0 499.5a2.1 2.1 0 1 0 4.2 0a2.1 2.1 0 1 0 -4.2 0M310.2 500.8a2.1 2.1 0 1 0 4.2 0a2.1 2.1 0 1 0 -4.2 0M310.3 512.9a2.1 2.1 0 1 0 4.2 0a2.1 2.1 0 1 0 -4.2 0M310.4 513.9a2.1 2.1 0 1 0 4.2 0a2.1 2.1 0 1 0 -4.2 0M310.5 494.7a2.1 2.1 0 1 0 4.2 0a2.1 2.1 0 1 0 -4.2 0M310.7 517.5a2.1 2.1 0 1 0 4.2 0a2.1 2.1 0 1 0 -4.2 0M310.8 491.0a2.1 2.1 0 1 0 4.2 0a2.1 2.1 0 1 0 -4.2 0M310.9 500.8a2.1 2.1 0 1 0 4.2 0a2.1 2.1 0 1 0 -4.2 0M311.0 514.5a2.1 2.1 0 1 0 4.2 0a2.1 2.1 0 1 0 -4.2 0M311.2 501.7a2.1 2.1 0 1 0 4.2 0a2.1 2.1 0 1 0 -4.2 0M311.3 494.2a2.1 2.1 0 1 0 4.2 0a2.1 2.1 0 1 0 -4.2 0M311.4 496.0a2.1 2.1 0 1 0 4.2 0a2.1 2.1 0 1 0 -4.2 0M311.5 529.2a2.1 2.1 0 1 0 4.2 0a2.1 2.1 0 1 0 -4.2 0M311.7 496.2a2.1 2.1 0 1 0 4.2 0a2.1 2.1 0 1 0 -4.2 0M311.8 504.5a2.1 2.1 0 1 0 4.2 0a2.1 2.1 0 1 0 -4.2 0M311.9 503.9a2.1 2.1 0 1 0 4.2 0a2.1 2.1 0 1 0 -4.2 0M312.0 503.8a2.1 2.1 0 1 0 4.2 0a2.1 2.1 0 1 0 -4.2 0M312.2 505.5a2.1 2.1 0 1 0 4.2 0a2.1 2.1 0 1 0 -4.2 0M312.3 530.0a2.1 2.1 0 1 0 4.2 0a2.1 2.1 0 1 0 -4.2 0M312.4 511.5a2.1 2.1 0 1 0 4.2 0a2.1 2.1 0 1 0 -4.2 0M312.5 504.8a2.1 2.1 0 1 0 4.2 0a2.1 2.1 0 1 0 -4.2 0M312.7 522.8a2.1 2.1 0 1 0 4.2 0a2.1 2.1 0 1 0 -4.2 0M312.8 506.4a2.1 2.1 0 1 0 4.2 0a2.1 2.1 0 1 0 -4.2 0M312.9 508.4a2.1 2.1 0 1 0 4.2 0a2.1 2.1 0 1 0 -4.2 0M313.0 506.8a2.1 2.1 0 1 0 4.2 0a2.1 2.1 0 1 0 -4.2 0M313.2 515.3a2.1 2.1 0 1 0 4.2 0a2.1 2.1 0 1 0 -4.2 0M313.3 507.9a2.1 2.1 0 1 0 4.2 0a2.1 2.1 0 1 0 -4.2 0M313.4 507.7a2.1 2.1 0 1 0 4.2 0a2.1 2.1 0 1 0 -4.2 0M313.5 480.4a2.1 2.1 0 1 0 4.2 0a2.1 2.1 0 1 0 -4.2 0M313.7 507.9a2.1 2.1 0 1 0 4.2 0a2.1 2.1 0 1 0 -4.2 0M313.8 512.9a2.1 2.1 0 1 0 4.2 0a2.1 2.1 0 1 0 -4.2 0M313.9 526.1a2.1 2.1 0 1 0 4.2 0a2.1 2.1 0 1 0 -4.2 0M314.0 523.1a2.1 2.1 0 1 0 4.2 0a2.1 2.1 0 1 0 -4.2 0M314.2 533.2a2.1 2.1 0 1 0 4.2 0a2.1 2.1 0 1 0 -4.2 0M314.3 489.0a2.1 2.1 0 1 0 4.2 0a2.1 2.1 0 1 0 -4.2 0M314.4 501.8a2.1 2.1 0 1 0 4.2 0a2.1 2.1 0 1 0 -4.2 0M314.5 530.9a2.1 2.1 0 1 0 4.2 0a2.1 2.1 0 1 0 -4.2 0M314.7 509.1a2.1 2.1 0 1 0 4.2 0a2.1 2.1 0 1 0 -4.2 0M314.8 509.5a2.1 2.1 0 1 0 4.2 0a2.1 2.1 0 1 0 -4.2 0M314.9 510.8a2.1 2.1 0 1 0 4.2 0a2.1 2.1 0 1 0 -4.2 0M315.0 516.2a2.1 2.1 0 1 0 4.2 0a2.1 2.1 0 1 0 -4.2 0M315.2 504.1a2.1 2.1 0 1 0 4.2 0a2.1 2.1 0 1 0 -4.2 0M315.3 510.2a2.1 2.1 0 1 0 4.2 0a2.1 2.1 0 1 0 -4.2 0M315.4 512.0a2.1 2.1 0 1 0 4.2 0a2.1 2.1 0 1 0 -4.2 0M315.5 516.7a2.1 2.1 0 1 0 4.2 0a2.1 2.1 0 1 0 -4.2 0M315.7 488.9a2.1 2.1 0 1 0 4.2 0a2.1 2.1 0 1 0 -4.2 0M315.8 512.3a2.1 2.1 0 1 0 4.2 0a2.1 2.1 0 1 0 -4.2 0M315.9 503.1a2.1 2.1 0 1 0 4.2 0a2.1 2.1 0 1 0 -4.2 0M316.0 505.2a2.1 2.1 0 1 0 4.2 0a2.1 2.1 0 1 0 -4.2 0M316.2 508.6a2.1 2.1 0 1 0 4.2 0a2.1 2.1 0 1 0 -4.2 0M316.3 527.0a2.1 2.1 0 1 0 4.2 0a2.1 2.1 0 1 0 -4.2 0M316.4 512.5a2.1 2.1 0 1 0 4.2 0a2.1 2.1 0 1 0 -4.2 0M316.5 495.7a2.1 2.1 0 1 0 4.2 0a2.1 2.1 0 1 0 -4.2 0M316.7 519.3a2.1 2.1 0 1 0 4.2 0a2.1 2.1 0 1 0 -4.2 0M316.8 513.4a2.1 2.1 0 1 0 4.2 0a2.1 2.1 0 1 0 -4.2 0M316.9 524.0a2.1 2.1 0 1 0 4.2 0a2.1 2.1 0 1 0 -4.2 0M317.0 515.9a2.1 2.1 0 1 0 4.2 0a2.1 2.1 0 1 0 -4.2 0M317.2 518.5a2.1 2.1 0 1 0 4.2 0a2.1 2.1 0 1 0 -4.2 0M317.3 494.9a2.1 2.1 0 1 0 4.2 0a2.1 2.1 0 1 0 -4.2 0M317.4 497.6a2.1 2.1 0 1 0 4.2 0a2.1 2.1 0 1 0 -4.2 0M317.5 521.6a2.1 2.1 0 1 0 4.2 0a2.1 2.1 0 1 0 -4.2 0M317.7 534.9a2.1 2.1 0 1 0 4.2 0a2.1 2.1 0 1 0 -4.2 0M317.8 516.8a2.1 2.1 0 1 0 4.2 0a2.1 2.1 0 1 0 -4.2 0M317.9 510.7a2.1 2.1 0 1 0 4.2 0a2.1 2.1 0 1 0 -4.2 0M318.0 516.3a2.1 2.1 0 1 0 4.2 0a2.1 2.1 0 1 0 -4.2 0M318.2 521.7a2.1 2.1 0 1 0 4.2 0a2.1 2.1 0 1 0 -4.2 0M318.3 500.8a2.1 2.1 0 1 0 4.2 0a2.1 2.1 0 1 0 -4.2 0M318.4 510.4a2.1 2.1 0 1 0 4.2 0a2.1 2.1 0 1 0 -4.2 0M318.5 496.2a2.1 2.1 0 1 0 4.2 0a2.1 2.1 0 1 0 -4.2 0M318.7 520.4a2.1 2.1 0 1 0 4.2 0a2.1 2.1 0 1 0 -4.2 0M318.8 516.3a2.1 2.1 0 1 0 4.2 0a2.1 2.1 0 1 0 -4.2 0M318.9 517.0a2.1 2.1 0 1 0 4.2 0a2.1 2.1 0 1 0 -4.2 0M319.0 535.9a2.1 2.1 0 1 0 4.2 0a2.1 2.1 0 1 0 -4.2 0M319.2 516.7a2.1 2.1 0 1 0 4.2 0a2.1 2.1 0 1 0 -4.2 0M319.3 478.8a2.1 2.1 0 1 0 4.2 0a2.1 2.1 0 1 0 -4.2 0M319.4 500.8a2.1 2.1 0 1 0 4.2 0a2.1 2.1 0 1 0 -4.2 0M319.5 488.3a2.1 2.1 0 1 0 4.2 0a2.1 2.1 0 1 0 -4.2 0M319.7 517.8a2.1 2.1 0 1 0 4.2 0a2.1 2.1 0 1 0 -4.2 0M319.8 535.4a2.1 2.1 0 1 0 4.2 0a2.1 2.1 0 1 0 -4.2 0M319.9 518.0a2.1 2.1 0 1 0 4.2 0a2.1 2.1 0 1 0 -4.2 0M320.1 514.2a2.1 2.1 0 1 0 4.2 0a2.1 2.1 0 1 0 -4.2 0M320.2 517.8a2.1 2.1 0 1 0 4.2 0a2.1 2.1 0 1 0 -4.2 0M320.3 484.0a2.1 2.1 0 1 0 4.2 0a2.1 2.1 0 1 0 -4.2 0M320.4 503.2a2.1 2.1 0 1 0 4.2 0a2.1 2.1 0 1 0 -4.2 0M320.6 519.4a2.1 2.1 0 1 0 4.2 0a2.1 2.1 0 1 0 -4.2 0M320.7 512.4a2.1 2.1 0 1 0 4.2 0a2.1 2.1 0 1 0 -4.2 0M320.8 494.4a2.1 2.1 0 1 0 4.2 0a2.1 2.1 0 1 0 -4.2 0M320.9 520.2a2.1 2.1 0 1 0 4.2 0a2.1 2.1 0 1 0 -4.2 0M321.1 520.0a2.1 2.1 0 1 0 4.2 0a2.1 2.1 0 1 0 -4.2 0M321.2 520.0a2.1 2.1 0 1 0 4.2 0a2.1 2.1 0 1 0 -4.2 0M321.3 528.4a2.1 2.1 0 1 0 4.2 0a2.1 2.1 0 1 0 -4.2 0M321.4 522.2a2.1 2.1 0 1 0 4.2 0a2.1 2.1 0 1 0 -4.2 0M321.6 533.9a2.1 2.1 0 1 0 4.2 0a2.1 2.1 0 1 0 -4.2 0M321.7 498.5a2.1 2.1 0 1 0 4.2 0a2.1 2.1 0 1 0 -4.2 0M321.8 484.9a2.1 2.1 0 1 0 4.2 0a2.1 2.1 0 1 0 -4.2 0M321.9 520.3a2.1 2.1 0 1 0 4.2 0a2.1 2.1 0 1 0 -4.2 0M322.1 521.6a2.1 2.1 0 1 0 4.2 0a2.1 2.1 0 1 0 -4.2 0M322.2 520.8a2.1 2.1 0 1 0 4.2 0a2.1 2.1 0 1 0 -4.2 0M322.3 517.4a2.1 2.1 0 1 0 4.2 0a2.1 2.1 0 1 0 -4.2 0M322.4 520.9a2.1 2.1 0 1 0 4.2 0a2.1 2.1 0 1 0 -4.2 0M322.6 521.1a2.1 2.1 0 1 0 4.2 0a2.1 2.1 0 1 0 -4.2 0M322.7 521.1a2.1 2.1 0 1 0 4.2 0a2.1 2.1 0 1 0 -4.2 0M322.8 523.4a2.1 2.1 0 1 0 4.2 0a2.1 2.1 0 1 0 -4.2 0M322.9 505.5a2.1 2.1 0 1 0 4.2 0a2.1 2.1 0 1 0 -4.2 0M323.1 521.6a2.1 2.1 0 1 0 4.2 0a2.1 2.1 0 1 0 -4.2 0M323.2 484.0a2.1 2.1 0 1 0 4.2 0a2.1 2.1 0 1 0 -4.2 0M323.3 512.8a2.1 2.1 0 1 0 4.2 0a2.1 2.1 0 1 0 -4.2 0M323.4 521.8a2.1 2.1 0 1 0 4.2 0a2.1 2.1 0 1 0 -4.2 0M323.6 506.9a2.1 2.1 0 1 0 4.2 0a2.1 2.1 0 1 0 -4.2 0M323.7 520.5a2.1 2.1 0 1 0 4.2 0a2.1 2.1 0 1 0 -4.2 0M323.8 497.9a2.1 2.1 0 1 0 4.2 0a2.1 2.1 0 1 0 -4.2 0M323.9 527.3a2.1 2.1 0 1 0 4.2 0a2.1 2.1 0 1 0 -4.2 0M324.1 519.4a2.1 2.1 0 1 0 4.2 0a2.1 2.1 0 1 0 -4.2 0M324.2 522.0a2.1 2.1 0 1 0 4.2 0a2.1 2.1 0 1 0 -4.2 0M324.3 510.1a2.1 2.1 0 1 0 4.2 0a2.1 2.1 0 1 0 -4.2 0M324.4 521.9a2.1 2.1 0 1 0 4.2 0a2.1 2.1 0 1 0 -4.2 0M324.6 481.1a2.1 2.1 0 1 0 4.2 0a2.1 2.1 0 1 0 -4.2 0M324.7 521.8a2.1 2.1 0 1 0 4.2 0a2.1 2.1 0 1 0 -4.2 0M324.8 489.0a2.1 2.1 0 1 0 4.2 0a2.1 2.1 0 1 0 -4.2 0M324.9 534.5a2.1 2.1 0 1 0 4.2 0a2.1 2.1 0 1 0 -4.2 0M325.1 506.0a2.1 2.1 0 1 0 4.2 0a2.1 2.1 0 1 0 -4.2 0M325.2 520.3a2.1 2.1 0 1 0 4.2 0a2.1 2.1 0 1 0 -4.2 0M325.3 498.3a2.1 2.1 0 1 0 4.2 0a2.1 2.1 0 1 0 -4.2 0M325.4 496.1a2.1 2.1 0 1 0 4.2 0a2.1 2.1 0 1 0 -4.2 0M325.6 510.3a2.1 2.1 0 1 0 4.2 0a2.1 2.1 0 1 0 -4.2 0M325.7 520.5a2.1 2.1 0 1 0 4.2 0a2.1 2.1 0 1 0 -4.2 0M325.8 522.6a2.1 2.1 0 1 0 4.2 0a2.1 2.1 0 1 0 -4.2 0M325.9 515.0a2.1 2.1 0 1 0 4.2 0a2.1 2.1 0 1 0 -4.2 0M326.1 497.6a2.1 2.1 0 1 0 4.2 0a2.1 2.1 0 1 0 -4.2 0M326.2 522.8a2.1 2.1 0 1 0 4.2 0a2.1 2.1 0 1 0 -4.2 0M326.3 521.0a2.1 2.1 0 1 0 4.2 0a2.1 2.1 0 1 0 -4.2 0M326.4 521.5a2.1 2.1 0 1 0 4.2 0a2.1 2.1 0 1 0 -4.2 0M326.6 516.6a2.1 2.1 0 1 0 4.2 0a2.1 2.1 0 1 0 -4.2 0M326.7 497.8a2.1 2.1 0 1 0 4.2 0a2.1 2.1 0 1 0 -4.2 0M326.8 486.0a2.1 2.1 0 1 0 4.2 0a2.1 2.1 0 1 0 -4.2 0M326.9 515.5a2.1 2.1 0 1 0 4.2 0a2.1 2.1 0 1 0 -4.2 0M327.1 504.5a2.1 2.1 0 1 0 4.2 0a2.1 2.1 0 1 0 -4.2 0M327.2 483.9a2.1 2.1 0 1 0 4.2 0a2.1 2.1 0 1 0 -4.2 0M327.3 480.1a2.1 2.1 0 1 0 4.2 0a2.1 2.1 0 1 0 -4.2 0M327.4 517.6a2.1 2.1 0 1 0 4.2 0a2.1 2.1 0 1 0 -4.2 0M327.6 513.2a2.1 2.1 0 1 0 4.2 0a2.1 2.1 0 1 0 -4.2 0M327.7 521.3a2.1 2.1 0 1 0 4.2 0a2.1 2.1 0 1 0 -4.2 0M327.8 521.5a2.1 2.1 0 1 0 4.2 0a2.1 2.1 0 1 0 -4.2 0M327.9 521.8a2.1 2.1 0 1 0 4.2 0a2.1 2.1 0 1 0 -4.2 0M328.1 521.9a2.1 2.1 0 1 0 4.2 0a2.1 2.1 0 1 0 -4.2 0M328.2 521.0a2.1 2.1 0 1 0 4.2 0a2.1 2.1 0 1 0 -4.2 0M328.3 521.7a2.1 2.1 0 1 0 4.2 0a2.1 2.1 0 1 0 -4.2 0M328.4 521.6a2.1 2.1 0 1 0 4.2 0a2.1 2.1 0 1 0 -4.2 0M328.6 521.5a2.1 2.1 0 1 0 4.2 0a2.1 2.1 0 1 0 -4.2 0M328.7 520.6a2.1 2.1 0 1 0 4.2 0a2.1 2.1 0 1 0 -4.2 0M328.8 521.0a2.1 2.1 0 1 0 4.2 0a2.1 2.1 0 1 0 -4.2 0M328.9 521.2a2.1 2.1 0 1 0 4.2 0a2.1 2.1 0 1 0 -4.2 0M329.1 521.9a2.1 2.1 0 1 0 4.2 0a2.1 2.1 0 1 0 -4.2 0M329.2 522.5a2.1 2.1 0 1 0 4.2 0a2.1 2.1 0 1 0 -4.2 0M329.3 520.8a2.1 2.1 0 1 0 4.2 0a2.1 2.1 0 1 0 -4.2 0M329.4 520.8a2.1 2.1 0 1 0 4.2 0a2.1 2.1 0 1 0 -4.2 0M329.6 521.6a2.1 2.1 0 1 0 4.2 0a2.1 2.1 0 1 0 -4.2 0M329.7 521.1a2.1 2.1 0 1 0 4.2 0a2.1 2.1 0 1 0 -4.2 0M329.8 520.9a2.1 2.1 0 1 0 4.2 0a2.1 2.1 0 1 0 -4.2 0M329.9 520.8a2.1 2.1 0 1 0 4.2 0a2.1 2.1 0 1 0 -4.2 0M330.1 520.6a2.1 2.1 0 1 0 4.2 0a2.1 2.1 0 1 0 -4.2 0M330.2 521.5a2.1 2.1 0 1 0 4.2 0a2.1 2.1 0 1 0 -4.2 0M330.3 519.9a2.1 2.1 0 1 0 4.2 0a2.1 2.1 0 1 0 -4.2 0M330.4 521.8a2.1 2.1 0 1 0 4.2 0a2.1 2.1 0 1 0 -4.2 0M330.6 520.0a2.1 2.1 0 1 0 4.2 0a2.1 2.1 0 1 0 -4.2 0M330.7 520.1a2.1 2.1 0 1 0 4.2 0a2.1 2.1 0 1 0 -4.2 0M330.8 519.6a2.1 2.1 0 1 0 4.2 0a2.1 2.1 0 1 0 -4.2 0M330.9 518.6a2.1 2.1 0 1 0 4.2 0a2.1 2.1 0 1 0 -4.2 0M331.1 518.6a2.1 2.1 0 1 0 4.2 0a2.1 2.1 0 1 0 -4.2 0M331.2 520.2a2.1 2.1 0 1 0 4.2 0a2.1 2.1 0 1 0 -4.2 0M331.3 520.3a2.1 2.1 0 1 0 4.2 0a2.1 2.1 0 1 0 -4.2 0M331.4 518.1a2.1 2.1 0 1 0 4.2 0a2.1 2.1 0 1 0 -4.2 0M331.6 519.2a2.1 2.1 0 1 0 4.2 0a2.1 2.1 0 1 0 -4.2 0M331.7 518.1a2.1 2.1 0 1 0 4.2 0a2.1 2.1 0 1 0 -4.2 0M331.8 517.1a2.1 2.1 0 1 0 4.2 0a2.1 2.1 0 1 0 -4.2 0M331.9 518.5a2.1 2.1 0 1 0 4.2 0a2.1 2.1 0 1 0 -4.2 0M332.1 518.5a2.1 2.1 0 1 0 4.2 0a2.1 2.1 0 1 0 -4.2 0M332.2 516.3a2.1 2.1 0 1 0 4.2 0a2.1 2.1 0 1 0 -4.2 0M332.3 516.1a2.1 2.1 0 1 0 4.2 0a2.1 2.1 0 1 0 -4.2 0M332.4 515.9a2.1 2.1 0 1 0 4.2 0a2.1 2.1 0 1 0 -4.2 0M332.6 515.2a2.1 2.1 0 1 0 4.2 0a2.1 2.1 0 1 0 -4.2 0M332.7 515.5a2.1 2.1 0 1 0 4.2 0a2.1 2.1 0 1 0 -4.2 0M332.8 515.5a2.1 2.1 0 1 0 4.2 0a2.1 2.1 0 1 0 -4.2 0M332.9 514.1a2.1 2.1 0 1 0 4.2 0a2.1 2.1 0 1 0 -4.2 0M333.1 514.2a2.1 2.1 0 1 0 4.2 0a2.1 2.1 0 1 0 -4.2 0M333.2 514.3a2.1 2.1 0 1 0 4.2 0a2.1 2.1 0 1 0 -4.2 0M333.3 512.3a2.1 2.1 0 1 0 4.2 0a2.1 2.1 0 1 0 -4.2 0M333.4 512.2a2.1 2.1 0 1 0 4.2 0a2.1 2.1 0 1 0 -4.2 0M333.6 511.4a2.1 2.1 0 1 0 4.2 0a2.1 2.1 0 1 0 -4.2 0M333.7 512.0a2.1 2.1 0 1 0 4.2 0a2.1 2.1 0 1 0 -4.2 0M333.8 511.3a2.1 2.1 0 1 0 4.2 0a2.1 2.1 0 1 0 -4.2 0M334.0 511.1a2.1 2.1 0 1 0 4.2 0a2.1 2.1 0 1 0 -4.2 0M334.1 510.6a2.1 2.1 0 1 0 4.2 0a2.1 2.1 0 1 0 -4.2 0M334.2 509.4a2.1 2.1 0 1 0 4.2 0a2.1 2.1 0 1 0 -4.2 0M334.3 509.7a2.1 2.1 0 1 0 4.2 0a2.1 2.1 0 1 0 -4.2 0M334.5 508.4a2.1 2.1 0 1 0 4.2 0a2.1 2.1 0 1 0 -4.2 0M334.6 508.1a2.1 2.1 0 1 0 4.2 0a2.1 2.1 0 1 0 -4.2 0M334.7 506.4a2.1 2.1 0 1 0 4.2 0a2.1 2.1 0 1 0 -4.2 0M334.8 508.6a2.1 2.1 0 1 0 4.2 0a2.1 2.1 0 1 0 -4.2 0M335.0 506.5a2.1 2.1 0 1 0 4.2 0a2.1 2.1 0 1 0 -4.2 0M335.1 506.8a2.1 2.1 0 1 0 4.2 0a2.1 2.1 0 1 0 -4.2 0M335.2 506.4a2.1 2.1 0 1 0 4.2 0a2.1 2.1 0 1 0 -4.2 0M335.3 507.0a2.1 2.1 0 1 0 4.2 0a2.1 2.1 0 1 0 -4.2 0M335.5 505.9a2.1 2.1 0 1 0 4.2 0a2.1 2.1 0 1 0 -4.2 0M335.6 504.6a2.1 2.1 0 1 0 4.2 0a2.1 2.1 0 1 0 -4.2 0M335.7 504.8a2.1 2.1 0 1 0 4.2 0a2.1 2.1 0 1 0 -4.2 0M335.8 504.2a2.1 2.1 0 1 0 4.2 0a2.1 2.1 0 1 0 -4.2 0M336.0 504.0a2.1 2.1 0 1 0 4.2 0a2.1 2.1 0 1 0 -4.2 0M336.1 502.5a2.1 2.1 0 1 0 4.2 0a2.1 2.1 0 1 0 -4.2 0M336.2 502.9a2.1 2.1 0 1 0 4.2 0a2.1 2.1 0 1 0 -4.2 0M336.3 504.1a2.1 2.1 0 1 0 4.2 0a2.1 2.1 0 1 0 -4.2 0M336.5 502.5a2.1 2.1 0 1 0 4.2 0a2.1 2.1 0 1 0 -4.2 0M336.6 502.9a2.1 2.1 0 1 0 4.2 0a2.1 2.1 0 1 0 -4.2 0M336.7 503.4a2.1 2.1 0 1 0 4.2 0a2.1 2.1 0 1 0 -4.2 0M336.8 500.9a2.1 2.1 0 1 0 4.2 0a2.1 2.1 0 1 0 -4.2 0M337.0 499.1a2.1 2.1 0 1 0 4.2 0a2.1 2.1 0 1 0 -4.2 0M337.1 499.5a2.1 2.1 0 1 0 4.2 0a2.1 2.1 0 1 0 -4.2 0M337.2 500.0a2.1 2.1 0 1 0 4.2 0a2.1 2.1 0 1 0 -4.2 0M337.3 499.3a2.1 2.1 0 1 0 4.2 0a2.1 2.1 0 1 0 -4.2 0M337.5 497.3a2.1 2.1 0 1 0 4.2 0a2.1 2.1 0 1 0 -4.2 0M337.6 497.5a2.1 2.1 0 1 0 4.2 0a2.1 2.1 0 1 0 -4.2 0M337.7 497.2a2.1 2.1 0 1 0 4.2 0a2.1 2.1 0 1 0 -4.2 0M337.8 496.8a2.1 2.1 0 1 0 4.2 0a2.1 2.1 0 1 0 -4.2 0M338.0 496.2a2.1 2.1 0 1 0 4.2 0a2.1 2.1 0 1 0 -4.2 0M338.1 495.2a2.1 2.1 0 1 0 4.2 0a2.1 2.1 0 1 0 -4.2 0M338.2 494.9a2.1 2.1 0 1 0 4.2 0a2.1 2.1 0 1 0 -4.2 0M338.3 494.7a2.1 2.1 0 1 0 4.2 0a2.1 2.1 0 1 0 -4.2 0M338.5 495.2a2.1 2.1 0 1 0 4.2 0a2.1 2.1 0 1 0 -4.2 0M338.6 493.7a2.1 2.1 0 1 0 4.2 0a2.1 2.1 0 1 0 -4.2 0M338.7 494.1a2.1 2.1 0 1 0 4.2 0a2.1 2.1 0 1 0 -4.2 0M338.8 495.0a2.1 2.1 0 1 0 4.2 0a2.1 2.1 0 1 0 -4.2 0M339.0 492.1a2.1 2.1 0 1 0 4.2 0a2.1 2.1 0 1 0 -4.2 0M339.1 492.5a2.1 2.1 0 1 0 4.2 0a2.1 2.1 0 1 0 -4.2 0M339.2 492.1a2.1 2.1 0 1 0 4.2 0a2.1 2.1 0 1 0 -4.2 0M339.3 492.7a2.1 2.1 0 1 0 4.2 0a2.1 2.1 0 1 0 -4.2 0M339.5 490.1a2.1 2.1 0 1 0 4.2 0a2.1 2.1 0 1 0 -4.2 0M339.6 489.9a2.1 2.1 0 1 0 4.2 0a2.1 2.1 0 1 0 -4.2 0M339.7 491.0a2.1 2.1 0 1 0 4.2 0a2.1 2.1 0 1 0 -4.2 0M339.8 489.8a2.1 2.1 0 1 0 4.2 0a2.1 2.1 0 1 0 -4.2 0M340.0 489.8a2.1 2.1 0 1 0 4.2 0a2.1 2.1 0 1 0 -4.2 0M340.1 491.7a2.1 2.1 0 1 0 4.2 0a2.1 2.1 0 1 0 -4.2 0M340.2 489.4a2.1 2.1 0 1 0 4.2 0a2.1 2.1 0 1 0 -4.2 0M340.3 489.4a2.1 2.1 0 1 0 4.2 0a2.1 2.1 0 1 0 -4.2 0M340.5 489.0a2.1 2.1 0 1 0 4.2 0a2.1 2.1 0 1 0 -4.2 0M340.6 489.6a2.1 2.1 0 1 0 4.2 0a2.1 2.1 0 1 0 -4.2 0M340.7 488.8a2.1 2.1 0 1 0 4.2 0a2.1 2.1 0 1 0 -4.2 0M340.8 488.5a2.1 2.1 0 1 0 4.2 0a2.1 2.1 0 1 0 -4.2 0M341.0 487.2a2.1 2.1 0 1 0 4.2 0a2.1 2.1 0 1 0 -4.2 0M341.1 487.6a2.1 2.1 0 1 0 4.2 0a2.1 2.1 0 1 0 -4.2 0M341.2 487.6a2.1 2.1 0 1 0 4.2 0a2.1 2.1 0 1 0 -4.2 0M341.3 486.3a2.1 2.1 0 1 0 4.2 0a2.1 2.1 0 1 0 -4.2 0M341.5 487.6a2.1 2.1 0 1 0 4.2 0a2.1 2.1 0 1 0 -4.2 0M341.6 487.2a2.1 2.1 0 1 0 4.2 0a2.1 2.1 0 1 0 -4.2 0M341.7 488.0a2.1 2.1 0 1 0 4.2 0a2.1 2.1 0 1 0 -4.2 0M341.8 485.3a2.1 2.1 0 1 0 4.2 0a2.1 2.1 0 1 0 -4.2 0M342.0 492.6a2.1 2.1 0 1 0 4.2 0a2.1 2.1 0 1 0 -4.2 0M342.1 485.3a2.1 2.1 0 1 0 4.2 0a2.1 2.1 0 1 0 -4.2 0M342.2 485.3a2.1 2.1 0 1 0 4.2 0a2.1 2.1 0 1 0 -4.2 0M342.3 485.5a2.1 2.1 0 1 0 4.2 0a2.1 2.1 0 1 0 -4.2 0M342.5 485.2a2.1 2.1 0 1 0 4.2 0a2.1 2.1 0 1 0 -4.2 0M342.6 482.3a2.1 2.1 0 1 0 4.2 0a2.1 2.1 0 1 0 -4.2 0M342.7 485.1a2.1 2.1 0 1 0 4.2 0a2.1 2.1 0 1 0 -4.2 0M342.8 484.7a2.1 2.1 0 1 0 4.2 0a2.1 2.1 0 1 0 -4.2 0M343.0 483.5a2.1 2.1 0 1 0 4.2 0a2.1 2.1 0 1 0 -4.2 0M343.1 484.0a2.1 2.1 0 1 0 4.2 0a2.1 2.1 0 1 0 -4.2 0M343.2 484.3a2.1 2.1 0 1 0 4.2 0a2.1 2.1 0 1 0 -4.2 0M343.3 485.1a2.1 2.1 0 1 0 4.2 0a2.1 2.1 0 1 0 -4.2 0M343.5 484.3a2.1 2.1 0 1 0 4.2 0a2.1 2.1 0 1 0 -4.2 0M343.6 488.1a2.1 2.1 0 1 0 4.2 0a2.1 2.1 0 1 0 -4.2 0M343.7 483.2a2.1 2.1 0 1 0 4.2 0a2.1 2.1 0 1 0 -4.2 0M343.8 483.4a2.1 2.1 0 1 0 4.2 0a2.1 2.1 0 1 0 -4.2 0M344.0 483.5a2.1 2.1 0 1 0 4.2 0a2.1 2.1 0 1 0 -4.2 0M344.1 484.0a2.1 2.1 0 1 0 4.2 0a2.1 2.1 0 1 0 -4.2 0M344.2 483.1a2.1 2.1 0 1 0 4.2 0a2.1 2.1 0 1 0 -4.2 0M344.3 482.3a2.1 2.1 0 1 0 4.2 0a2.1 2.1 0 1 0 -4.2 0M344.5 483.1a2.1 2.1 0 1 0 4.2 0a2.1 2.1 0 1 0 -4.2 0M344.6 482.9a2.1 2.1 0 1 0 4.2 0a2.1 2.1 0 1 0 -4.2 0M344.7 482.8a2.1 2.1 0 1 0 4.2 0a2.1 2.1 0 1 0 -4.2 0M344.8 482.5a2.1 2.1 0 1 0 4.2 0a2.1 2.1 0 1 0 -4.2 0M345.0 483.7a2.1 2.1 0 1 0 4.2 0a2.1 2.1 0 1 0 -4.2 0M345.1 482.6a2.1 2.1 0 1 0 4.2 0a2.1 2.1 0 1 0 -4.2 0M345.2 483.1a2.1 2.1 0 1 0 4.2 0a2.1 2.1 0 1 0 -4.2 0M345.3 481.7a2.1 2.1 0 1 0 4.2 0a2.1 2.1 0 1 0 -4.2 0M345.5 482.9a2.1 2.1 0 1 0 4.2 0a2.1 2.1 0 1 0 -4.2 0M345.6 482.0a2.1 2.1 0 1 0 4.2 0a2.1 2.1 0 1 0 -4.2 0M345.7 491.7a2.1 2.1 0 1 0 4.2 0a2.1 2.1 0 1 0 -4.2 0M345.8 482.6a2.1 2.1 0 1 0 4.2 0a2.1 2.1 0 1 0 -4.2 0M346.0 482.9a2.1 2.1 0 1 0 4.2 0a2.1 2.1 0 1 0 -4.2 0M346.1 482.4a2.1 2.1 0 1 0 4.2 0a2.1 2.1 0 1 0 -4.2 0M346.2 491.4a2.1 2.1 0 1 0 4.2 0a2.1 2.1 0 1 0 -4.2 0M346.3 480.8a2.1 2.1 0 1 0 4.2 0a2.1 2.1 0 1 0 -4.2 0M346.5 482.5a2.1 2.1 0 1 0 4.2 0a2.1 2.1 0 1 0 -4.2 0M346.6 481.4a2.1 2.1 0 1 0 4.2 0a2.1 2.1 0 1 0 -4.2 0M346.7 494.8a2.1 2.1 0 1 0 4.2 0a2.1 2.1 0 1 0 -4.2 0M346.8 486.2a2.1 2.1 0 1 0 4.2 0a2.1 2.1 0 1 0 -4.2 0M347.0 488.4a2.1 2.1 0 1 0 4.2 0a2.1 2.1 0 1 0 -4.2 0M347.1 483.3a2.1 2.1 0 1 0 4.2 0a2.1 2.1 0 1 0 -4.2 0M347.2 484.1a2.1 2.1 0 1 0 4.2 0a2.1 2.1 0 1 0 -4.2 0M347.3 480.7a2.1 2.1 0 1 0 4.2 0a2.1 2.1 0 1 0 -4.2 0M347.5 483.2a2.1 2.1 0 1 0 4.2 0a2.1 2.1 0 1 0 -4.2 0M347.6 485.1a2.1 2.1 0 1 0 4.2 0a2.1 2.1 0 1 0 -4.2 0M347.7 483.8a2.1 2.1 0 1 0 4.2 0a2.1 2.1 0 1 0 -4.2 0M347.8 483.7a2.1 2.1 0 1 0 4.2 0a2.1 2.1 0 1 0 -4.2 0M348.0 490.0a2.1 2.1 0 1 0 4.2 0a2.1 2.1 0 1 0 -4.2 0M348.1 485.0a2.1 2.1 0 1 0 4.2 0a2.1 2.1 0 1 0 -4.2 0M348.2 484.2a2.1 2.1 0 1 0 4.2 0a2.1 2.1 0 1 0 -4.2 0M348.4 486.0a2.1 2.1 0 1 0 4.2 0a2.1 2.1 0 1 0 -4.2 0M348.5 486.6a2.1 2.1 0 1 0 4.2 0a2.1 2.1 0 1 0 -4.2 0M348.6 487.4a2.1 2.1 0 1 0 4.2 0a2.1 2.1 0 1 0 -4.2 0M348.7 486.7a2.1 2.1 0 1 0 4.2 0a2.1 2.1 0 1 0 -4.2 0M348.9 485.9a2.1 2.1 0 1 0 4.2 0a2.1 2.1 0 1 0 -4.2 0M349.0 483.3a2.1 2.1 0 1 0 4.2 0a2.1 2.1 0 1 0 -4.2 0M349.1 488.3a2.1 2.1 0 1 0 4.2 0a2.1 2.1 0 1 0 -4.2 0M349.2 498.8a2.1 2.1 0 1 0 4.2 0a2.1 2.1 0 1 0 -4.2 0M349.4 488.7a2.1 2.1 0 1 0 4.2 0a2.1 2.1 0 1 0 -4.2 0M349.5 488.7a2.1 2.1 0 1 0 4.2 0a2.1 2.1 0 1 0 -4.2 0M349.6 489.7a2.1 2.1 0 1 0 4.2 0a2.1 2.1 0 1 0 -4.2 0M349.7 490.1a2.1 2.1 0 1 0 4.2 0a2.1 2.1 0 1 0 -4.2 0M349.9 490.8a2.1 2.1 0 1 0 4.2 0a2.1 2.1 0 1 0 -4.2 0M350.0 492.1a2.1 2.1 0 1 0 4.2 0a2.1 2.1 0 1 0 -4.2 0M350.1 492.8a2.1 2.1 0 1 0 4.2 0a2.1 2.1 0 1 0 -4.2 0M350.2 493.6a2.1 2.1 0 1 0 4.2 0a2.1 2.1 0 1 0 -4.2 0M350.4 494.9a2.1 2.1 0 1 0 4.2 0a2.1 2.1 0 1 0 -4.2 0M350.5 495.6a2.1 2.1 0 1 0 4.2 0a2.1 2.1 0 1 0 -4.2 0M350.6 495.7a2.1 2.1 0 1 0 4.2 0a2.1 2.1 0 1 0 -4.2 0M350.7 497.9a2.1 2.1 0 1 0 4.2 0a2.1 2.1 0 1 0 -4.2 0M350.9 499.5a2.1 2.1 0 1 0 4.2 0a2.1 2.1 0 1 0 -4.2 0M351.0 502.1a2.1 2.1 0 1 0 4.2 0a2.1 2.1 0 1 0 -4.2 0M351.1 501.9a2.1 2.1 0 1 0 4.2 0a2.1 2.1 0 1 0 -4.2 0M351.2 504.9a2.1 2.1 0 1 0 4.2 0a2.1 2.1 0 1 0 -4.2 0M351.4 505.9a2.1 2.1 0 1 0 4.2 0a2.1 2.1 0 1 0 -4.2 0M351.5 505.6a2.1 2.1 0 1 0 4.2 0a2.1 2.1 0 1 0 -4.2 0M351.6 507.1a2.1 2.1 0 1 0 4.2 0a2.1 2.1 0 1 0 -4.2 0M351.7 509.1a2.1 2.1 0 1 0 4.2 0a2.1 2.1 0 1 0 -4.2 0M351.9 511.6a2.1 2.1 0 1 0 4.2 0a2.1 2.1 0 1 0 -4.2 0M352.0 511.9a2.1 2.1 0 1 0 4.2 0a2.1 2.1 0 1 0 -4.2 0M352.1 513.5a2.1 2.1 0 1 0 4.2 0a2.1 2.1 0 1 0 -4.2 0M352.2 513.9a2.1 2.1 0 1 0 4.2 0a2.1 2.1 0 1 0 -4.2 0M352.4 514.0a2.1 2.1 0 1 0 4.2 0a2.1 2.1 0 1 0 -4.2 0M352.5 516.7a2.1 2.1 0 1 0 4.2 0a2.1 2.1 0 1 0 -4.2 0M352.6 518.7a2.1 2.1 0 1 0 4.2 0a2.1 2.1 0 1 0 -4.2 0M352.7 520.2a2.1 2.1 0 1 0 4.2 0a2.1 2.1 0 1 0 -4.2 0M352.9 520.5a2.1 2.1 0 1 0 4.2 0a2.1 2.1 0 1 0 -4.2 0M353.0 521.7a2.1 2.1 0 1 0 4.2 0a2.1 2.1 0 1 0 -4.2 0M353.1 523.4a2.1 2.1 0 1 0 4.2 0a2.1 2.1 0 1 0 -4.2 0M353.2 523.5a2.1 2.1 0 1 0 4.2 0a2.1 2.1 0 1 0 -4.2 0M353.4 525.3a2.1 2.1 0 1 0 4.2 0a2.1 2.1 0 1 0 -4.2 0M353.5 524.5a2.1 2.1 0 1 0 4.2 0a2.1 2.1 0 1 0 -4.2 0M353.6 525.2a2.1 2.1 0 1 0 4.2 0a2.1 2.1 0 1 0 -4.2 0M353.7 525.9a2.1 2.1 0 1 0 4.2 0a2.1 2.1 0 1 0 -4.2 0M353.9 527.6a2.1 2.1 0 1 0 4.2 0a2.1 2.1 0 1 0 -4.2 0M354.0 527.4a2.1 2.1 0 1 0 4.2 0a2.1 2.1 0 1 0 -4.2 0M354.1 528.2a2.1 2.1 0 1 0 4.2 0a2.1 2.1 0 1 0 -4.2 0M354.2 528.7a2.1 2.1 0 1 0 4.2 0a2.1 2.1 0 1 0 -4.2 0M354.4 528.8a2.1 2.1 0 1 0 4.2 0a2.1 2.1 0 1 0 -4.2 0M354.5 529.6a2.1 2.1 0 1 0 4.2 0a2.1 2.1 0 1 0 -4.2 0M354.6 529.7a2.1 2.1 0 1 0 4.2 0a2.1 2.1 0 1 0 -4.2 0M354.7 528.0a2.1 2.1 0 1 0 4.2 0a2.1 2.1 0 1 0 -4.2 0M354.9 528.8a2.1 2.1 0 1 0 4.2 0a2.1 2.1 0 1 0 -4.2 0M355.0 528.5a2.1 2.1 0 1 0 4.2 0a2.1 2.1 0 1 0 -4.2 0M355.1 527.9a2.1 2.1 0 1 0 4.2 0a2.1 2.1 0 1 0 -4.2 0M355.2 529.9a2.1 2.1 0 1 0 4.2 0a2.1 2.1 0 1 0 -4.2 0M355.4 529.2a2.1 2.1 0 1 0 4.2 0a2.1 2.1 0 1 0 -4.2 0M355.5 528.5a2.1 2.1 0 1 0 4.2 0a2.1 2.1 0 1 0 -4.2 0M355.6 528.3a2.1 2.1 0 1 0 4.2 0a2.1 2.1 0 1 0 -4.2 0M355.7 528.9a2.1 2.1 0 1 0 4.2 0a2.1 2.1 0 1 0 -4.2 0M355.9 527.9a2.1 2.1 0 1 0 4.2 0a2.1 2.1 0 1 0 -4.2 0M356.0 528.5a2.1 2.1 0 1 0 4.2 0a2.1 2.1 0 1 0 -4.2 0M356.1 529.5a2.1 2.1 0 1 0 4.2 0a2.1 2.1 0 1 0 -4.2 0M356.2 529.3a2.1 2.1 0 1 0 4.2 0a2.1 2.1 0 1 0 -4.2 0M356.4 528.0a2.1 2.1 0 1 0 4.2 0a2.1 2.1 0 1 0 -4.2 0M356.5 528.3a2.1 2.1 0 1 0 4.2 0a2.1 2.1 0 1 0 -4.2 0M356.6 530.0a2.1 2.1 0 1 0 4.2 0a2.1 2.1 0 1 0 -4.2 0M356.7 527.6a2.1 2.1 0 1 0 4.2 0a2.1 2.1 0 1 0 -4.2 0M356.9 528.2a2.1 2.1 0 1 0 4.2 0a2.1 2.1 0 1 0 -4.2 0M357.0 527.6a2.1 2.1 0 1 0 4.2 0a2.1 2.1 0 1 0 -4.2 0M357.1 528.9a2.1 2.1 0 1 0 4.2 0a2.1 2.1 0 1 0 -4.2 0M357.2 528.8a2.1 2.1 0 1 0 4.2 0a2.1 2.1 0 1 0 -4.2 0M357.4 529.4a2.1 2.1 0 1 0 4.2 0a2.1 2.1 0 1 0 -4.2 0M357.5 526.7a2.1 2.1 0 1 0 4.2 0a2.1 2.1 0 1 0 -4.2 0M357.6 528.7a2.1 2.1 0 1 0 4.2 0a2.1 2.1 0 1 0 -4.2 0M357.7 527.4a2.1 2.1 0 1 0 4.2 0a2.1 2.1 0 1 0 -4.2 0M357.9 529.1a2.1 2.1 0 1 0 4.2 0a2.1 2.1 0 1 0 -4.2 0M358.0 528.5a2.1 2.1 0 1 0 4.2 0a2.1 2.1 0 1 0 -4.2 0M358.1 529.8a2.1 2.1 0 1 0 4.2 0a2.1 2.1 0 1 0 -4.2 0M358.2 528.9a2.1 2.1 0 1 0 4.2 0a2.1 2.1 0 1 0 -4.2 0M358.4 513.0a2.1 2.1 0 1 0 4.2 0a2.1 2.1 0 1 0 -4.2 0M358.5 529.4a2.1 2.1 0 1 0 4.2 0a2.1 2.1 0 1 0 -4.2 0M358.6 509.6a2.1 2.1 0 1 0 4.2 0a2.1 2.1 0 1 0 -4.2 0M358.7 528.0a2.1 2.1 0 1 0 4.2 0a2.1 2.1 0 1 0 -4.2 0M358.9 502.5a2.1 2.1 0 1 0 4.2 0a2.1 2.1 0 1 0 -4.2 0M359.0 528.3a2.1 2.1 0 1 0 4.2 0a2.1 2.1 0 1 0 -4.2 0M359.1 506.0a2.1 2.1 0 1 0 4.2 0a2.1 2.1 0 1 0 -4.2 0M359.2 527.5a2.1 2.1 0 1 0 4.2 0a2.1 2.1 0 1 0 -4.2 0M359.4 527.7a2.1 2.1 0 1 0 4.2 0a2.1 2.1 0 1 0 -4.2 0M359.5 527.6a2.1 2.1 0 1 0 4.2 0a2.1 2.1 0 1 0 -4.2 0M359.6 527.0a2.1 2.1 0 1 0 4.2 0a2.1 2.1 0 1 0 -4.2 0M359.7 527.3a2.1 2.1 0 1 0 4.2 0a2.1 2.1 0 1 0 -4.2 0M359.9 501.6a2.1 2.1 0 1 0 4.2 0a2.1 2.1 0 1 0 -4.2 0M360.0 508.2a2.1 2.1 0 1 0 4.2 0a2.1 2.1 0 1 0 -4.2 0M360.1 525.0a2.1 2.1 0 1 0 4.2 0a2.1 2.1 0 1 0 -4.2 0M360.2 513.7a2.1 2.1 0 1 0 4.2 0a2.1 2.1 0 1 0 -4.2 0M360.4 503.8a2.1 2.1 0 1 0 4.2 0a2.1 2.1 0 1 0 -4.2 0M360.5 513.5a2.1 2.1 0 1 0 4.2 0a2.1 2.1 0 1 0 -4.2 0M360.6 525.1a2.1 2.1 0 1 0 4.2 0a2.1 2.1 0 1 0 -4.2 0M360.7 523.4a2.1 2.1 0 1 0 4.2 0a2.1 2.1 0 1 0 -4.2 0M360.9 523.7a2.1 2.1 0 1 0 4.2 0a2.1 2.1 0 1 0 -4.2 0M361.0 522.8a2.1 2.1 0 1 0 4.2 0a2.1 2.1 0 1 0 -4.2 0M361.1 516.0a2.1 2.1 0 1 0 4.2 0a2.1 2.1 0 1 0 -4.2 0M361.2 524.0a2.1 2.1 0 1 0 4.2 0a2.1 2.1 0 1 0 -4.2 0M361.4 508.2a2.1 2.1 0 1 0 4.2 0a2.1 2.1 0 1 0 -4.2 0M361.5 521.2a2.1 2.1 0 1 0 4.2 0a2.1 2.1 0 1 0 -4.2 0M361.6 519.5a2.1 2.1 0 1 0 4.2 0a2.1 2.1 0 1 0 -4.2 0M361.7 521.5a2.1 2.1 0 1 0 4.2 0a2.1 2.1 0 1 0 -4.2 0M361.9 518.3a2.1 2.1 0 1 0 4.2 0a2.1 2.1 0 1 0 -4.2 0M362.0 520.7a2.1 2.1 0 1 0 4.2 0a2.1 2.1 0 1 0 -4.2 0M362.1 512.4a2.1 2.1 0 1 0 4.2 0a2.1 2.1 0 1 0 -4.2 0M362.2 517.7a2.1 2.1 0 1 0 4.2 0a2.1 2.1 0 1 0 -4.2 0M362.4 519.8a2.1 2.1 0 1 0 4.2 0a2.1 2.1 0 1 0 -4.2 0M362.5 517.5a2.1 2.1 0 1 0 4.2 0a2.1 2.1 0 1 0 -4.2 0M362.6 512.8a2.1 2.1 0 1 0 4.2 0a2.1 2.1 0 1 0 -4.2 0M362.8 519.0a2.1 2.1 0 1 0 4.2 0a2.1 2.1 0 1 0 -4.2 0M362.9 506.8a2.1 2.1 0 1 0 4.2 0a2.1 2.1 0 1 0 -4.2 0M363.0 518.6a2.1 2.1 0 1 0 4.2 0a2.1 2.1 0 1 0 -4.2 0M363.1 519.1a2.1 2.1 0 1 0 4.2 0a2.1 2.1 0 1 0 -4.2 0M363.3 510.6a2.1 2.1 0 1 0 4.2 0a2.1 2.1 0 1 0 -4.2 0M363.4 518.0a2.1 2.1 0 1 0 4.2 0a2.1 2.1 0 1 0 -4.2 0M363.5 510.0a2.1 2.1 0 1 0 4.2 0a2.1 2.1 0 1 0 -4.2 0M363.6 518.7a2.1 2.1 0 1 0 4.2 0a2.1 2.1 0 1 0 -4.2 0M363.8 503.9a2.1 2.1 0 1 0 4.2 0a2.1 2.1 0 1 0 -4.2 0M363.9 504.5a2.1 2.1 0 1 0 4.2 0a2.1 2.1 0 1 0 -4.2 0M364.0 518.0a2.1 2.1 0 1 0 4.2 0a2.1 2.1 0 1 0 -4.2 0M364.1 516.7a2.1 2.1 0 1 0 4.2 0a2.1 2.1 0 1 0 -4.2 0M364.3 510.7a2.1 2.1 0 1 0 4.2 0a2.1 2.1 0 1 0 -4.2 0M364.4 517.2a2.1 2.1 0 1 0 4.2 0a2.1 2.1 0 1 0 -4.2 0M364.5 521.9a2.1 2.1 0 1 0 4.2 0a2.1 2.1 0 1 0 -4.2 0M364.6 518.4a2.1 2.1 0 1 0 4.2 0a2.1 2.1 0 1 0 -4.2 0M364.8 514.9a2.1 2.1 0 1 0 4.2 0a2.1 2.1 0 1 0 -4.2 0M364.9 516.9a2.1 2.1 0 1 0 4.2 0a2.1 2.1 0 1 0 -4.2 0M365.0 517.0a2.1 2.1 0 1 0 4.2 0a2.1 2.1 0 1 0 -4.2 0M365.1 517.3a2.1 2.1 0 1 0 4.2 0a2.1 2.1 0 1 0 -4.2 0M365.3 514.5a2.1 2.1 0 1 0 4.2 0a2.1 2.1 0 1 0 -4.2 0M365.4 518.1a2.1 2.1 0 1 0 4.2 0a2.1 2.1 0 1 0 -4.2 0M365.5 526.3a2.1 2.1 0 1 0 4.2 0a2.1 2.1 0 1 0 -4.2 0M365.6 516.0a2.1 2.1 0 1 0 4.2 0a2.1 2.1 0 1 0 -4.2 0M365.8 515.3a2.1 2.1 0 1 0 4.2 0a2.1 2.1 0 1 0 -4.2 0M365.9 515.2a2.1 2.1 0 1 0 4.2 0a2.1 2.1 0 1 0 -4.2 0M366.0 513.8a2.1 2.1 0 1 0 4.2 0a2.1 2.1 0 1 0 -4.2 0M366.1 515.8a2.1 2.1 0 1 0 4.2 0a2.1 2.1 0 1 0 -4.2 0M366.3 516.1a2.1 2.1 0 1 0 4.2 0a2.1 2.1 0 1 0 -4.2 0M366.4 515.6a2.1 2.1 0 1 0 4.2 0a2.1 2.1 0 1 0 -4.2 0M366.5 515.7a2.1 2.1 0 1 0 4.2 0a2.1 2.1 0 1 0 -4.2 0M366.6 514.1a2.1 2.1 0 1 0 4.2 0a2.1 2.1 0 1 0 -4.2 0M366.8 515.9a2.1 2.1 0 1 0 4.2 0a2.1 2.1 0 1 0 -4.2 0M366.9 515.2a2.1 2.1 0 1 0 4.2 0a2.1 2.1 0 1 0 -4.2 0M367.0 518.2a2.1 2.1 0 1 0 4.2 0a2.1 2.1 0 1 0 -4.2 0M367.1 514.5a2.1 2.1 0 1 0 4.2 0a2.1 2.1 0 1 0 -4.2 0M367.3 509.5a2.1 2.1 0 1 0 4.2 0a2.1 2.1 0 1 0 -4.2 0M367.4 516.1a2.1 2.1 0 1 0 4.2 0a2.1 2.1 0 1 0 -4.2 0M367.5 508.7a2.1 2.1 0 1 0 4.2 0a2.1 2.1 0 1 0 -4.2 0M367.6 514.6a2.1 2.1 0 1 0 4.2 0a2.1 2.1 0 1 0 -4.2 0M367.8 513.0a2.1 2.1 0 1 0 4.2 0a2.1 2.1 0 1 0 -4.2 0M367.9 515.5a2.1 2.1 0 1 0 4.2 0a2.1 2.1 0 1 0 -4.2 0M368.0 513.7a2.1 2.1 0 1 0 4.2 0a2.1 2.1 0 1 0 -4.2 0M368.1 514.5a2.1 2.1 0 1 0 4.2 0a2.1 2.1 0 1 0 -4.2 0M368.3 514.0a2.1 2.1 0 1 0 4.2 0a2.1 2.1 0 1 0 -4.2 0M368.4 516.6a2.1 2.1 0 1 0 4.2 0a2.1 2.1 0 1 0 -4.2 0M368.5 513.1a2.1 2.1 0 1 0 4.2 0a2.1 2.1 0 1 0 -4.2 0M368.6 517.2a2.1 2.1 0 1 0 4.2 0a2.1 2.1 0 1 0 -4.2 0M368.8 513.5a2.1 2.1 0 1 0 4.2 0a2.1 2.1 0 1 0 -4.2 0M368.9 514.1a2.1 2.1 0 1 0 4.2 0a2.1 2.1 0 1 0 -4.2 0M369.0 512.9a2.1 2.1 0 1 0 4.2 0a2.1 2.1 0 1 0 -4.2 0M369.1 512.5a2.1 2.1 0 1 0 4.2 0a2.1 2.1 0 1 0 -4.2 0M369.3 505.9a2.1 2.1 0 1 0 4.2 0a2.1 2.1 0 1 0 -4.2 0M369.4 502.9a2.1 2.1 0 1 0 4.2 0a2.1 2.1 0 1 0 -4.2 0M369.5 512.9a2.1 2.1 0 1 0 4.2 0a2.1 2.1 0 1 0 -4.2 0M369.6 511.9a2.1 2.1 0 1 0 4.2 0a2.1 2.1 0 1 0 -4.2 0M369.8 507.9a2.1 2.1 0 1 0 4.2 0a2.1 2.1 0 1 0 -4.2 0M369.9 508.7a2.1 2.1 0 1 0 4.2 0a2.1 2.1 0 1 0 -4.2 0M370.0 508.5a2.1 2.1 0 1 0 4.2 0a2.1 2.1 0 1 0 -4.2 0M370.1 511.4a2.1 2.1 0 1 0 4.2 0a2.1 2.1 0 1 0 -4.2 0M370.3 514.1a2.1 2.1 0 1 0 4.2 0a2.1 2.1 0 1 0 -4.2 0M370.4 511.0a2.1 2.1 0 1 0 4.2 0a2.1 2.1 0 1 0 -4.2 0M370.5 511.2a2.1 2.1 0 1 0 4.2 0a2.1 2.1 0 1 0 -4.2 0M370.6 499.0a2.1 2.1 0 1 0 4.2 0a2.1 2.1 0 1 0 -4.2 0M370.8 510.4a2.1 2.1 0 1 0 4.2 0a2.1 2.1 0 1 0 -4.2 0M370.9 517.6a2.1 2.1 0 1 0 4.2 0a2.1 2.1 0 1 0 -4.2 0M371.0 509.5a2.1 2.1 0 1 0 4.2 0a2.1 2.1 0 1 0 -4.2 0M371.1 509.8a2.1 2.1 0 1 0 4.2 0a2.1 2.1 0 1 0 -4.2 0M371.3 509.2a2.1 2.1 0 1 0 4.2 0a2.1 2.1 0 1 0 -4.2 0M371.4 509.3a2.1 2.1 0 1 0 4.2 0a2.1 2.1 0 1 0 -4.2 0M371.5 509.4a2.1 2.1 0 1 0 4.2 0a2.1 2.1 0 1 0 -4.2 0M371.6 509.3a2.1 2.1 0 1 0 4.2 0a2.1 2.1 0 1 0 -4.2 0M371.8 508.4a2.1 2.1 0 1 0 4.2 0a2.1 2.1 0 1 0 -4.2 0M371.9 508.3a2.1 2.1 0 1 0 4.2 0a2.1 2.1 0 1 0 -4.2 0M372.0 507.4a2.1 2.1 0 1 0 4.2 0a2.1 2.1 0 1 0 -4.2 0M372.1 507.3a2.1 2.1 0 1 0 4.2 0a2.1 2.1 0 1 0 -4.2 0M372.3 507.9a2.1 2.1 0 1 0 4.2 0a2.1 2.1 0 1 0 -4.2 0M372.4 506.5a2.1 2.1 0 1 0 4.2 0a2.1 2.1 0 1 0 -4.2 0M372.5 507.2a2.1 2.1 0 1 0 4.2 0a2.1 2.1 0 1 0 -4.2 0M372.6 506.3a2.1 2.1 0 1 0 4.2 0a2.1 2.1 0 1 0 -4.2 0M372.8 505.7a2.1 2.1 0 1 0 4.2 0a2.1 2.1 0 1 0 -4.2 0M372.9 506.6a2.1 2.1 0 1 0 4.2 0a2.1 2.1 0 1 0 -4.2 0M373.0 504.6a2.1 2.1 0 1 0 4.2 0a2.1 2.1 0 1 0 -4.2 0M373.1 504.2a2.1 2.1 0 1 0 4.2 0a2.1 2.1 0 1 0 -4.2 0M373.3 504.1a2.1 2.1 0 1 0 4.2 0a2.1 2.1 0 1 0 -4.2 0M373.4 503.9a2.1 2.1 0 1 0 4.2 0a2.1 2.1 0 1 0 -4.2 0M373.5 503.5a2.1 2.1 0 1 0 4.2 0a2.1 2.1 0 1 0 -4.2 0M373.6 503.5a2.1 2.1 0 1 0 4.2 0a2.1 2.1 0 1 0 -4.2 0M373.8 502.6a2.1 2.1 0 1 0 4.2 0a2.1 2.1 0 1 0 -4.2 0M373.9 502.4a2.1 2.1 0 1 0 4.2 0a2.1 2.1 0 1 0 -4.2 0M374.0 501.6a2.1 2.1 0 1 0 4.2 0a2.1 2.1 0 1 0 -4.2 0M374.1 502.2a2.1 2.1 0 1 0 4.2 0a2.1 2.1 0 1 0 -4.2 0M374.3 500.7a2.1 2.1 0 1 0 4.2 0a2.1 2.1 0 1 0 -4.2 0M374.4 500.4a2.1 2.1 0 1 0 4.2 0a2.1 2.1 0 1 0 -4.2 0M374.5 500.3a2.1 2.1 0 1 0 4.2 0a2.1 2.1 0 1 0 -4.2 0M374.6 500.1a2.1 2.1 0 1 0 4.2 0a2.1 2.1 0 1 0 -4.2 0M374.8 499.0a2.1 2.1 0 1 0 4.2 0a2.1 2.1 0 1 0 -4.2 0M374.9 500.3a2.1 2.1 0 1 0 4.2 0a2.1 2.1 0 1 0 -4.2 0M375.0 498.4a2.1 2.1 0 1 0 4.2 0a2.1 2.1 0 1 0 -4.2 0M375.1 498.3a2.1 2.1 0 1 0 4.2 0a2.1 2.1 0 1 0 -4.2 0M375.3 497.9a2.1 2.1 0 1 0 4.2 0a2.1 2.1 0 1 0 -4.2 0M375.4 497.5a2.1 2.1 0 1 0 4.2 0a2.1 2.1 0 1 0 -4.2 0M375.5 498.0a2.1 2.1 0 1 0 4.2 0a2.1 2.1 0 1 0 -4.2 0M375.6 497.4a2.1 2.1 0 1 0 4.2 0a2.1 2.1 0 1 0 -4.2 0M375.8 496.5a2.1 2.1 0 1 0 4.2 0a2.1 2.1 0 1 0 -4.2 0M375.9 496.4a2.1 2.1 0 1 0 4.2 0a2.1 2.1 0 1 0 -4.2 0M376.0 496.3a2.1 2.1 0 1 0 4.2 0a2.1 2.1 0 1 0 -4.2 0M376.1 497.3a2.1 2.1 0 1 0 4.2 0a2.1 2.1 0 1 0 -4.2 0M376.3 495.6a2.1 2.1 0 1 0 4.2 0a2.1 2.1 0 1 0 -4.2 0M376.4 494.9a2.1 2.1 0 1 0 4.2 0a2.1 2.1 0 1 0 -4.2 0M376.5 494.9a2.1 2.1 0 1 0 4.2 0a2.1 2.1 0 1 0 -4.2 0M376.7 495.3a2.1 2.1 0 1 0 4.2 0a2.1 2.1 0 1 0 -4.2 0M376.8 496.4a2.1 2.1 0 1 0 4.2 0a2.1 2.1 0 1 0 -4.2 0M376.9 494.5a2.1 2.1 0 1 0 4.2 0a2.1 2.1 0 1 0 -4.2 0M377.0 495.2a2.1 2.1 0 1 0 4.2 0a2.1 2.1 0 1 0 -4.2 0M377.2 489.9a2.1 2.1 0 1 0 4.2 0a2.1 2.1 0 1 0 -4.2 0M377.3 486.5a2.1 2.1 0 1 0 4.2 0a2.1 2.1 0 1 0 -4.2 0M377.4 496.0a2.1 2.1 0 1 0 4.2 0a2.1 2.1 0 1 0 -4.2 0M377.5 510.2a2.1 2.1 0 1 0 4.2 0a2.1 2.1 0 1 0 -4.2 0M377.7 489.4a2.1 2.1 0 1 0 4.2 0a2.1 2.1 0 1 0 -4.2 0M377.8 493.6a2.1 2.1 0 1 0 4.2 0a2.1 2.1 0 1 0 -4.2 0M377.9 495.1a2.1 2.1 0 1 0 4.2 0a2.1 2.1 0 1 0 -4.2 0M378.0 514.9a2.1 2.1 0 1 0 4.2 0a2.1 2.1 0 1 0 -4.2 0M378.2 515.0a2.1 2.1 0 1 0 4.2 0a2.1 2.1 0 1 0 -4.2 0M378.3 493.8a2.1 2.1 0 1 0 4.2 0a2.1 2.1 0 1 0 -4.2 0M378.4 495.1a2.1 2.1 0 1 0 4.2 0a2.1 2.1 0 1 0 -4.2 0M378.5 495.3a2.1 2.1 0 1 0 4.2 0a2.1 2.1 0 1 0 -4.2 0M378.7 499.2a2.1 2.1 0 1 0 4.2 0a2.1 2.1 0 1 0 -4.2 0M378.8 471.1a2.1 2.1 0 1 0 4.2 0a2.1 2.1 0 1 0 -4.2 0M378.9 498.9a2.1 2.1 0 1 0 4.2 0a2.1 2.1 0 1 0 -4.2 0M379.0 495.1a2.1 2.1 0 1 0 4.2 0a2.1 2.1 0 1 0 -4.2 0M379.2 494.4a2.1 2.1 0 1 0 4.2 0a2.1 2.1 0 1 0 -4.2 0M379.3 490.6a2.1 2.1 0 1 0 4.2 0a2.1 2.1 0 1 0 -4.2 0M379.4 491.3a2.1 2.1 0 1 0 4.2 0a2.1 2.1 0 1 0 -4.2 0M379.5 495.9a2.1 2.1 0 1 0 4.2 0a2.1 2.1 0 1 0 -4.2 0M379.7 494.2a2.1 2.1 0 1 0 4.2 0a2.1 2.1 0 1 0 -4.2 0M379.8 494.0a2.1 2.1 0 1 0 4.2 0a2.1 2.1 0 1 0 -4.2 0M379.9 495.5a2.1 2.1 0 1 0 4.2 0a2.1 2.1 0 1 0 -4.2 0M380.0 496.1a2.1 2.1 0 1 0 4.2 0a2.1 2.1 0 1 0 -4.2 0M380.2 496.8a2.1 2.1 0 1 0 4.2 0a2.1 2.1 0 1 0 -4.2 0M380.3 491.9a2.1 2.1 0 1 0 4.2 0a2.1 2.1 0 1 0 -4.2 0M380.4 492.0a2.1 2.1 0 1 0 4.2 0a2.1 2.1 0 1 0 -4.2 0M380.5 515.0a2.1 2.1 0 1 0 4.2 0a2.1 2.1 0 1 0 -4.2 0M380.7 489.3a2.1 2.1 0 1 0 4.2 0a2.1 2.1 0 1 0 -4.2 0M380.8 501.1a2.1 2.1 0 1 0 4.2 0a2.1 2.1 0 1 0 -4.2 0M380.9 497.3a2.1 2.1 0 1 0 4.2 0a2.1 2.1 0 1 0 -4.2 0M381.0 498.9a2.1 2.1 0 1 0 4.2 0a2.1 2.1 0 1 0 -4.2 0M381.2 498.1a2.1 2.1 0 1 0 4.2 0a2.1 2.1 0 1 0 -4.2 0M381.3 480.5a2.1 2.1 0 1 0 4.2 0a2.1 2.1 0 1 0 -4.2 0M381.4 470.9a2.1 2.1 0 1 0 4.2 0a2.1 2.1 0 1 0 -4.2 0M381.5 483.2a2.1 2.1 0 1 0 4.2 0a2.1 2.1 0 1 0 -4.2 0M381.7 493.2a2.1 2.1 0 1 0 4.2 0a2.1 2.1 0 1 0 -4.2 0M381.8 498.0a2.1 2.1 0 1 0 4.2 0a2.1 2.1 0 1 0 -4.2 0M381.9 479.3a2.1 2.1 0 1 0 4.2 0a2.1 2.1 0 1 0 -4.2 0M382.0 509.4a2.1 2.1 0 1 0 4.2 0a2.1 2.1 0 1 0 -4.2 0M382.2 496.5a2.1 2.1 0 1 0 4.2 0a2.1 2.1 0 1 0 -4.2 0M382.3 498.8a2.1 2.1 0 1 0 4.2 0a2.1 2.1 0 1 0 -4.2 0M382.4 501.5a2.1 2.1 0 1 0 4.2 0a2.1 2.1 0 1 0 -4.2 0M382.5 499.8a2.1 2.1 0 1 0 4.2 0a2.1 2.1 0 1 0 -4.2 0M382.7 492.4a2.1 2.1 0 1 0 4.2 0a2.1 2.1 0 1 0 -4.2 0M382.8 480.1a2.1 2.1 0 1 0 4.2 0a2.1 2.1 0 1 0 -4.2 0M382.9 501.7a2.1 2.1 0 1 0 4.2 0a2.1 2.1 0 1 0 -4.2 0M383.0 499.5a2.1 2.1 0 1 0 4.2 0a2.1 2.1 0 1 0 -4.2 0M383.2 482.4a2.1 2.1 0 1 0 4.2 0a2.1 2.1 0 1 0 -4.2 0M383.3 494.1a2.1 2.1 0 1 0 4.2 0a2.1 2.1 0 1 0 -4.2 0M383.4 497.8a2.1 2.1 0 1 0 4.2 0a2.1 2.1 0 1 0 -4.2 0M383.5 518.0a2.1 2.1 0 1 0 4.2 0a2.1 2.1 0 1 0 -4.2 0M383.7 496.7a2.1 2.1 0 1 0 4.2 0a2.1 2.1 0 1 0 -4.2 0M383.8 500.6a2.1 2.1 0 1 0 4.2 0a2.1 2.1 0 1 0 -4.2 0M383.9 477.0a2.1 2.1 0 1 0 4.2 0a2.1 2.1 0 1 0 -4.2 0M384.0 494.1a2.1 2.1 0 1 0 4.2 0a2.1 2.1 0 1 0 -4.2 0M384.2 507.4a2.1 2.1 0 1 0 4.2 0a2.1 2.1 0 1 0 -4.2 0M384.3 508.7a2.1 2.1 0 1 0 4.2 0a2.1 2.1 0 1 0 -4.2 0M384.4 501.2a2.1 2.1 0 1 0 4.2 0a2.1 2.1 0 1 0 -4.2 0M384.5 503.5a2.1 2.1 0 1 0 4.2 0a2.1 2.1 0 1 0 -4.2 0M384.7 477.5a2.1 2.1 0 1 0 4.2 0a2.1 2.1 0 1 0 -4.2 0M384.8 501.6a2.1 2.1 0 1 0 4.2 0a2.1 2.1 0 1 0 -4.2 0M384.9 503.1a2.1 2.1 0 1 0 4.2 0a2.1 2.1 0 1 0 -4.2 0M385.0 493.0a2.1 2.1 0 1 0 4.2 0a2.1 2.1 0 1 0 -4.2 0M385.2 502.8a2.1 2.1 0 1 0 4.2 0a2.1 2.1 0 1 0 -4.2 0M385.3 489.8a2.1 2.1 0 1 0 4.2 0a2.1 2.1 0 1 0 -4.2 0M385.4 515.1a2.1 2.1 0 1 0 4.2 0a2.1 2.1 0 1 0 -4.2 0M385.5 504.6a2.1 2.1 0 1 0 4.2 0a2.1 2.1 0 1 0 -4.2 0M385.7 503.9a2.1 2.1 0 1 0 4.2 0a2.1 2.1 0 1 0 -4.2 0M385.8 513.0a2.1 2.1 0 1 0 4.2 0a2.1 2.1 0 1 0 -4.2 0M385.9 505.7a2.1 2.1 0 1 0 4.2 0a2.1 2.1 0 1 0 -4.2 0M386.0 504.0a2.1 2.1 0 1 0 4.2 0a2.1 2.1 0 1 0 -4.2 0M386.2 504.6a2.1 2.1 0 1 0 4.2 0a2.1 2.1 0 1 0 -4.2 0M386.3 504.8a2.1 2.1 0 1 0 4.2 0a2.1 2.1 0 1 0 -4.2 0M386.4 505.7a2.1 2.1 0 1 0 4.2 0a2.1 2.1 0 1 0 -4.2 0M386.5 504.8a2.1 2.1 0 1 0 4.2 0a2.1 2.1 0 1 0 -4.2 0M386.7 506.0a2.1 2.1 0 1 0 4.2 0a2.1 2.1 0 1 0 -4.2 0M386.8 505.2a2.1 2.1 0 1 0 4.2 0a2.1 2.1 0 1 0 -4.2 0M386.9 506.9a2.1 2.1 0 1 0 4.2 0a2.1 2.1 0 1 0 -4.2 0M387.0 507.0a2.1 2.1 0 1 0 4.2 0a2.1 2.1 0 1 0 -4.2 0M387.2 506.5a2.1 2.1 0 1 0 4.2 0a2.1 2.1 0 1 0 -4.2 0M387.3 507.3a2.1 2.1 0 1 0 4.2 0a2.1 2.1 0 1 0 -4.2 0M387.4 506.5a2.1 2.1 0 1 0 4.2 0a2.1 2.1 0 1 0 -4.2 0M387.5 507.0a2.1 2.1 0 1 0 4.2 0a2.1 2.1 0 1 0 -4.2 0M387.7 508.1a2.1 2.1 0 1 0 4.2 0a2.1 2.1 0 1 0 -4.2 0M387.8 507.6a2.1 2.1 0 1 0 4.2 0a2.1 2.1 0 1 0 -4.2 0M387.9 508.1a2.1 2.1 0 1 0 4.2 0a2.1 2.1 0 1 0 -4.2 0M388.0 507.3a2.1 2.1 0 1 0 4.2 0a2.1 2.1 0 1 0 -4.2 0M388.2 508.7a2.1 2.1 0 1 0 4.2 0a2.1 2.1 0 1 0 -4.2 0M388.3 508.7a2.1 2.1 0 1 0 4.2 0a2.1 2.1 0 1 0 -4.2 0M388.4 507.7a2.1 2.1 0 1 0 4.2 0a2.1 2.1 0 1 0 -4.2 0M388.5 507.1a2.1 2.1 0 1 0 4.2 0a2.1 2.1 0 1 0 -4.2 0M388.7 507.5a2.1 2.1 0 1 0 4.2 0a2.1 2.1 0 1 0 -4.2 0M388.8 509.1a2.1 2.1 0 1 0 4.2 0a2.1 2.1 0 1 0 -4.2 0M388.9 509.2a2.1 2.1 0 1 0 4.2 0a2.1 2.1 0 1 0 -4.2 0M389.0 508.4a2.1 2.1 0 1 0 4.2 0a2.1 2.1 0 1 0 -4.2 0M389.2 509.8a2.1 2.1 0 1 0 4.2 0a2.1 2.1 0 1 0 -4.2 0M389.3 510.6a2.1 2.1 0 1 0 4.2 0a2.1 2.1 0 1 0 -4.2 0M389.4 510.0a2.1 2.1 0 1 0 4.2 0a2.1 2.1 0 1 0 -4.2 0M389.5 509.9a2.1 2.1 0 1 0 4.2 0a2.1 2.1 0 1 0 -4.2 0M389.7 511.0a2.1 2.1 0 1 0 4.2 0a2.1 2.1 0 1 0 -4.2 0M389.8 511.7a2.1 2.1 0 1 0 4.2 0a2.1 2.1 0 1 0 -4.2 0M389.9 511.7a2.1 2.1 0 1 0 4.2 0a2.1 2.1 0 1 0 -4.2 0M390.0 510.3a2.1 2.1 0 1 0 4.2 0a2.1 2.1 0 1 0 -4.2 0M390.2 511.5a2.1 2.1 0 1 0 4.2 0a2.1 2.1 0 1 0 -4.2 0M390.3 511.2a2.1 2.1 0 1 0 4.2 0a2.1 2.1 0 1 0 -4.2 0M390.4 511.1a2.1 2.1 0 1 0 4.2 0a2.1 2.1 0 1 0 -4.2 0M390.5 511.0a2.1 2.1 0 1 0 4.2 0a2.1 2.1 0 1 0 -4.2 0M390.7 511.8a2.1 2.1 0 1 0 4.2 0a2.1 2.1 0 1 0 -4.2 0M390.8 511.3a2.1 2.1 0 1 0 4.2 0a2.1 2.1 0 1 0 -4.2 0M390.9 512.5a2.1 2.1 0 1 0 4.2 0a2.1 2.1 0 1 0 -4.2 0M391.1 512.2a2.1 2.1 0 1 0 4.2 0a2.1 2.1 0 1 0 -4.2 0M391.2 512.9a2.1 2.1 0 1 0 4.2 0a2.1 2.1 0 1 0 -4.2 0M391.3 511.4a2.1 2.1 0 1 0 4.2 0a2.1 2.1 0 1 0 -4.2 0M391.4 512.4a2.1 2.1 0 1 0 4.2 0a2.1 2.1 0 1 0 -4.2 0M391.6 513.0a2.1 2.1 0 1 0 4.2 0a2.1 2.1 0 1 0 -4.2 0M391.7 512.9a2.1 2.1 0 1 0 4.2 0a2.1 2.1 0 1 0 -4.2 0M391.8 512.9a2.1 2.1 0 1 0 4.2 0a2.1 2.1 0 1 0 -4.2 0M391.9 512.3a2.1 2.1 0 1 0 4.2 0a2.1 2.1 0 1 0 -4.2 0M392.1 514.2a2.1 2.1 0 1 0 4.2 0a2.1 2.1 0 1 0 -4.2 0M392.2 513.9a2.1 2.1 0 1 0 4.2 0a2.1 2.1 0 1 0 -4.2 0M392.3 513.5a2.1 2.1 0 1 0 4.2 0a2.1 2.1 0 1 0 -4.2 0M392.4 511.5a2.1 2.1 0 1 0 4.2 0a2.1 2.1 0 1 0 -4.2 0M392.6 512.8a2.1 2.1 0 1 0 4.2 0a2.1 2.1 0 1 0 -4.2 0M392.7 513.7a2.1 2.1 0 1 0 4.2 0a2.1 2.1 0 1 0 -4.2 0M392.8 513.2a2.1 2.1 0 1 0 4.2 0a2.1 2.1 0 1 0 -4.2 0M392.9 512.3a2.1 2.1 0 1 0 4.2 0a2.1 2.1 0 1 0 -4.2 0M393.1 514.1a2.1 2.1 0 1 0 4.2 0a2.1 2.1 0 1 0 -4.2 0M393.2 514.3a2.1 2.1 0 1 0 4.2 0a2.1 2.1 0 1 0 -4.2 0M393.3 513.3a2.1 2.1 0 1 0 4.2 0a2.1 2.1 0 1 0 -4.2 0M393.4 523.5a2.1 2.1 0 1 0 4.2 0a2.1 2.1 0 1 0 -4.2 0M393.6 513.9a2.1 2.1 0 1 0 4.2 0a2.1 2.1 0 1 0 -4.2 0M393.7 470.3a2.1 2.1 0 1 0 4.2 0a2.1 2.1 0 1 0 -4.2 0M393.8 519.4a2.1 2.1 0 1 0 4.2 0a2.1 2.1 0 1 0 -4.2 0M393.9 510.6a2.1 2.1 0 1 0 4.2 0a2.1 2.1 0 1 0 -4.2 0M394.1 514.4a2.1 2.1 0 1 0 4.2 0a2.1 2.1 0 1 0 -4.2 0M394.2 498.5a2.1 2.1 0 1 0 4.2 0a2.1 2.1 0 1 0 -4.2 0M394.3 516.6a2.1 2.1 0 1 0 4.2 0a2.1 2.1 0 1 0 -4.2 0M394.4 529.7a2.1 2.1 0 1 0 4.2 0a2.1 2.1 0 1 0 -4.2 0M394.6 515.4a2.1 2.1 0 1 0 4.2 0a2.1 2.1 0 1 0 -4.2 0M394.7 509.5a2.1 2.1 0 1 0 4.2 0a2.1 2.1 0 1 0 -4.2 0M394.8 504.9a2.1 2.1 0 1 0 4.2 0a2.1 2.1 0 1 0 -4.2 0M394.9 515.9a2.1 2.1 0 1 0 4.2 0a2.1 2.1 0 1 0 -4.2 0M395.1 517.0a2.1 2.1 0 1 0 4.2 0a2.1 2.1 0 1 0 -4.2 0M395.2 515.6a2.1 2.1 0 1 0 4.2 0a2.1 2.1 0 1 0 -4.2 0M395.3 508.5a2.1 2.1 0 1 0 4.2 0a2.1 2.1 0 1 0 -4.2 0M395.4 516.4a2.1 2.1 0 1 0 4.2 0a2.1 2.1 0 1 0 -4.2 0M395.6 523.2a2.1 2.1 0 1 0 4.2 0a2.1 2.1 0 1 0 -4.2 0M395.7 511.3a2.1 2.1 0 1 0 4.2 0a2.1 2.1 0 1 0 -4.2 0M395.8 514.3a2.1 2.1 0 1 0 4.2 0a2.1 2.1 0 1 0 -4.2 0M395.9 479.1a2.1 2.1 0 1 0 4.2 0a2.1 2.1 0 1 0 -4.2 0M396.1 516.6a2.1 2.1 0 1 0 4.2 0a2.1 2.1 0 1 0 -4.2 0M396.2 516.5a2.1 2.1 0 1 0 4.2 0a2.1 2.1 0 1 0 -4.2 0M396.3 487.5a2.1 2.1 0 1 0 4.2 0a2.1 2.1 0 1 0 -4.2 0M396.4 517.1a2.1 2.1 0 1 0 4.2 0a2.1 2.1 0 1 0 -4.2 0M396.6 518.6a2.1 2.1 0 1 0 4.2 0a2.1 2.1 0 1 0 -4.2 0M396.7 518.1a2.1 2.1 0 1 0 4.2 0a2.1 2.1 0 1 0 -4.2 0M396.8 518.4a2.1 2.1 0 1 0 4.2 0a2.1 2.1 0 1 0 -4.2 0M396.9 518.1a2.1 2.1 0 1 0 4.2 0a2.1 2.1 0 1 0 -4.2 0M397.1 516.9a2.1 2.1 0 1 0 4.2 0a2.1 2.1 0 1 0 -4.2 0M397.2 519.5a2.1 2.1 0 1 0 4.2 0a2.1 2.1 0 1 0 -4.2 0M397.3 511.1a2.1 2.1 0 1 0 4.2 0a2.1 2.1 0 1 0 -4.2 0M397.4 487.6a2.1 2.1 0 1 0 4.2 0a2.1 2.1 0 1 0 -4.2 0M397.6 518.2a2.1 2.1 0 1 0 4.2 0a2.1 2.1 0 1 0 -4.2 0M397.7 500.5a2.1 2.1 0 1 0 4.2 0a2.1 2.1 0 1 0 -4.2 0M397.8 492.4a2.1 2.1 0 1 0 4.2 0a2.1 2.1 0 1 0 -4.2 0M397.9 515.3a2.1 2.1 0 1 0 4.2 0a2.1 2.1 0 1 0 -4.2 0M398.1 529.2a2.1 2.1 0 1 0 4.2 0a2.1 2.1 0 1 0 -4.2 0M398.2 503.7a2.1 2.1 0 1 0 4.2 0a2.1 2.1 0 1 0 -4.2 0M398.3 479.7a2.1 2.1 0 1 0 4.2 0a2.1 2.1 0 1 0 -4.2 0M398.4 487.2a2.1 2.1 0 1 0 4.2 0a2.1 2.1 0 1 0 -4.2 0M398.6 518.7a2.1 2.1 0 1 0 4.2 0a2.1 2.1 0 1 0 -4.2 0M398.7 524.9a2.1 2.1 0 1 0 4.2 0a2.1 2.1 0 1 0 -4.2 0M398.8 527.5a2.1 2.1 0 1 0 4.2 0a2.1 2.1 0 1 0 -4.2 0M398.9 520.2a2.1 2.1 0 1 0 4.2 0a2.1 2.1 0 1 0 -4.2 0M399.1 523.8a2.1 2.1 0 1 0 4.2 0a2.1 2.1 0 1 0 -4.2 0M399.2 469.8a2.1 2.1 0 1 0 4.2 0a2.1 2.1 0 1 0 -4.2 0M399.3 521.4a2.1 2.1 0 1 0 4.2 0a2.1 2.1 0 1 0 -4.2 0M399.4 506.0a2.1 2.1 0 1 0 4.2 0a2.1 2.1 0 1 0 -4.2 0M399.6 476.3a2.1 2.1 0 1 0 4.2 0a2.1 2.1 0 1 0 -4.2 0M399.7 501.0a2.1 2.1 0 1 0 4.2 0a2.1 2.1 0 1 0 -4.2 0M399.8 513.2a2.1 2.1 0 1 0 4.2 0a2.1 2.1 0 1 0 -4.2 0M399.9 527.4a2.1 2.1 0 1 0 4.2 0a2.1 2.1 0 1 0 -4.2 0M400.1 497.7a2.1 2.1 0 1 0 4.2 0a2.1 2.1 0 1 0 -4.2 0M400.2 474.8a2.1 2.1 0 1 0 4.2 0a2.1 2.1 0 1 0 -4.2 0M400.3 494.1a2.1 2.1 0 1 0 4.2 0a2.1 2.1 0 1 0 -4.2 0M400.4 523.3a2.1 2.1 0 1 0 4.2 0a2.1 2.1 0 1 0 -4.2 0M400.6 520.7a2.1 2.1 0 1 0 4.2 0a2.1 2.1 0 1 0 -4.2 0M400.7 471.2a2.1 2.1 0 1 0 4.2 0a2.1 2.1 0 1 0 -4.2 0M400.8 495.1a2.1 2.1 0 1 0 4.2 0a2.1 2.1 0 1 0 -4.2 0M400.9 514.4a2.1 2.1 0 1 0 4.2 0a2.1 2.1 0 1 0 -4.2 0M401.1 498.2a2.1 2.1 0 1 0 4.2 0a2.1 2.1 0 1 0 -4.2 0M401.2 523.6a2.1 2.1 0 1 0 4.2 0a2.1 2.1 0 1 0 -4.2 0M401.3 524.2a2.1 2.1 0 1 0 4.2 0a2.1 2.1 0 1 0 -4.2 0M401.4 524.4a2.1 2.1 0 1 0 4.2 0a2.1 2.1 0 1 0 -4.2 0M401.6 469.2a2.1 2.1 0 1 0 4.2 0a2.1 2.1 0 1 0 -4.2 0M401.7 525.2a2.1 2.1 0 1 0 4.2 0a2.1 2.1 0 1 0 -4.2 0M401.8 524.8a2.1 2.1 0 1 0 4.2 0a2.1 2.1 0 1 0 -4.2 0M401.9 525.3a2.1 2.1 0 1 0 4.2 0a2.1 2.1 0 1 0 -4.2 0M402.1 523.9a2.1 2.1 0 1 0 4.2 0a2.1 2.1 0 1 0 -4.2 0M402.2 527.3a2.1 2.1 0 1 0 4.2 0a2.1 2.1 0 1 0 -4.2 0M402.3 525.5a2.1 2.1 0 1 0 4.2 0a2.1 2.1 0 1 0 -4.2 0M402.4 526.7a2.1 2.1 0 1 0 4.2 0a2.1 2.1 0 1 0 -4.2 0M402.6 524.6a2.1 2.1 0 1 0 4.2 0a2.1 2.1 0 1 0 -4.2 0M402.7 524.6a2.1 2.1 0 1 0 4.2 0a2.1 2.1 0 1 0 -4.2 0M402.8 512.5a2.1 2.1 0 1 0 4.2 0a2.1 2.1 0 1 0 -4.2 0M402.9 525.9a2.1 2.1 0 1 0 4.2 0a2.1 2.1 0 1 0 -4.2 0M403.1 516.4a2.1 2.1 0 1 0 4.2 0a2.1 2.1 0 1 0 -4.2 0M403.2 500.9a2.1 2.1 0 1 0 4.2 0a2.1 2.1 0 1 0 -4.2 0M403.3 524.7a2.1 2.1 0 1 0 4.2 0a2.1 2.1 0 1 0 -4.2 0M403.4 523.5a2.1 2.1 0 1 0 4.2 0a2.1 2.1 0 1 0 -4.2 0M403.6 493.8a2.1 2.1 0 1 0 4.2 0a2.1 2.1 0 1 0 -4.2 0M403.7 524.8a2.1 2.1 0 1 0 4.2 0a2.1 2.1 0 1 0 -4.2 0M403.8 527.5a2.1 2.1 0 1 0 4.2 0a2.1 2.1 0 1 0 -4.2 0M403.9 515.9a2.1 2.1 0 1 0 4.2 0a2.1 2.1 0 1 0 -4.2 0M404.1 474.0a2.1 2.1 0 1 0 4.2 0a2.1 2.1 0 1 0 -4.2 0M404.2 521.4a2.1 2.1 0 1 0 4.2 0a2.1 2.1 0 1 0 -4.2 0M404.3 493.9a2.1 2.1 0 1 0 4.2 0a2.1 2.1 0 1 0 -4.2 0M404.4 519.6a2.1 2.1 0 1 0 4.2 0a2.1 2.1 0 1 0 -4.2 0M404.6 483.7a2.1 2.1 0 1 0 4.2 0a2.1 2.1 0 1 0 -4.2 0M404.7 492.8a2.1 2.1 0 1 0 4.2 0a2.1 2.1 0 1 0 -4.2 0M404.8 519.8a2.1 2.1 0 1 0 4.2 0a2.1 2.1 0 1 0 -4.2 0M404.9 519.4a2.1 2.1 0 1 0 4.2 0a2.1 2.1 0 1 0 -4.2 0M405.1 519.1a2.1 2.1 0 1 0 4.2 0a2.1 2.1 0 1 0 -4.2 0M405.2 517.3a2.1 2.1 0 1 0 4.2 0a2.1 2.1 0 1 0 -4.2 0M405.3 517.6a2.1 2.1 0 1 0 4.2 0a2.1 2.1 0 1 0 -4.2 0M405.5 518.0a2.1 2.1 0 1 0 4.2 0a2.1 2.1 0 1 0 -4.2 0M405.6 515.5a2.1 2.1 0 1 0 4.2 0a2.1 2.1 0 1 0 -4.2 0M405.7 515.5a2.1 2.1 0 1 0 4.2 0a2.1 2.1 0 1 0 -4.2 0M405.8 514.6a2.1 2.1 0 1 0 4.2 0a2.1 2.1 0 1 0 -4.2 0M406.0 514.2a2.1 2.1 0 1 0 4.2 0a2.1 2.1 0 1 0 -4.2 0M406.1 513.3a2.1 2.1 0 1 0 4.2 0a2.1 2.1 0 1 0 -4.2 0M406.2 513.2a2.1 2.1 0 1 0 4.2 0a2.1 2.1 0 1 0 -4.2 0M406.3 511.7a2.1 2.1 0 1 0 4.2 0a2.1 2.1 0 1 0 -4.2 0M406.5 511.8a2.1 2.1 0 1 0 4.2 0a2.1 2.1 0 1 0 -4.2 0M406.6 511.3a2.1 2.1 0 1 0 4.2 0a2.1 2.1 0 1 0 -4.2 0M406.7 510.8a2.1 2.1 0 1 0 4.2 0a2.1 2.1 0 1 0 -4.2 0M406.8 511.6a2.1 2.1 0 1 0 4.2 0a2.1 2.1 0 1 0 -4.2 0M407.0 510.2a2.1 2.1 0 1 0 4.2 0a2.1 2.1 0 1 0 -4.2 0M407.1 509.8a2.1 2.1 0 1 0 4.2 0a2.1 2.1 0 1 0 -4.2 0M407.2 509.0a2.1 2.1 0 1 0 4.2 0a2.1 2.1 0 1 0 -4.2 0M407.3 509.7a2.1 2.1 0 1 0 4.2 0a2.1 2.1 0 1 0 -4.2 0M407.5 507.1a2.1 2.1 0 1 0 4.2 0a2.1 2.1 0 1 0 -4.2 0M407.6 507.9a2.1 2.1 0 1 0 4.2 0a2.1 2.1 0 1 0 -4.2 0M407.7 508.5a2.1 2.1 0 1 0 4.2 0a2.1 2.1 0 1 0 -4.2 0M407.8 508.5a2.1 2.1 0 1 0 4.2 0a2.1 2.1 0 1 0 -4.2 0M408.0 507.2a2.1 2.1 0 1 0 4.2 0a2.1 2.1 0 1 0 -4.2 0M408.1 506.7a2.1 2.1 0 1 0 4.2 0a2.1 2.1 0 1 0 -4.2 0M408.2 506.9a2.1 2.1 0 1 0 4.2 0a2.1 2.1 0 1 0 -4.2 0M408.3 505.9a2.1 2.1 0 1 0 4.2 0a2.1 2.1 0 1 0 -4.2 0M408.5 506.2a2.1 2.1 0 1 0 4.2 0a2.1 2.1 0 1 0 -4.2 0M408.6 505.0a2.1 2.1 0 1 0 4.2 0a2.1 2.1 0 1 0 -4.2 0M408.7 505.6a2.1 2.1 0 1 0 4.2 0a2.1 2.1 0 1 0 -4.2 0M408.8 504.8a2.1 2.1 0 1 0 4.2 0a2.1 2.1 0 1 0 -4.2 0M409.0 503.7a2.1 2.1 0 1 0 4.2 0a2.1 2.1 0 1 0 -4.2 0M409.1 502.2a2.1 2.1 0 1 0 4.2 0a2.1 2.1 0 1 0 -4.2 0M409.2 504.6a2.1 2.1 0 1 0 4.2 0a2.1 2.1 0 1 0 -4.2 0M409.3 503.9a2.1 2.1 0 1 0 4.2 0a2.1 2.1 0 1 0 -4.2 0M409.5 503.8a2.1 2.1 0 1 0 4.2 0a2.1 2.1 0 1 0 -4.2 0M409.6 502.3a2.1 2.1 0 1 0 4.2 0a2.1 2.1 0 1 0 -4.2 0M409.7 503.5a2.1 2.1 0 1 0 4.2 0a2.1 2.1 0 1 0 -4.2 0M409.8 502.7a2.1 2.1 0 1 0 4.2 0a2.1 2.1 0 1 0 -4.2 0M410.0 502.0a2.1 2.1 0 1 0 4.2 0a2.1 2.1 0 1 0 -4.2 0M410.1 502.5a2.1 2.1 0 1 0 4.2 0a2.1 2.1 0 1 0 -4.2 0M410.2 502.2a2.1 2.1 0 1 0 4.2 0a2.1 2.1 0 1 0 -4.2 0M410.3 501.5a2.1 2.1 0 1 0 4.2 0a2.1 2.1 0 1 0 -4.2 0M410.5 502.4a2.1 2.1 0 1 0 4.2 0a2.1 2.1 0 1 0 -4.2 0M410.6 501.7a2.1 2.1 0 1 0 4.2 0a2.1 2.1 0 1 0 -4.2 0M410.7 500.7a2.1 2.1 0 1 0 4.2 0a2.1 2.1 0 1 0 -4.2 0M410.8 500.0a2.1 2.1 0 1 0 4.2 0a2.1 2.1 0 1 0 -4.2 0M411.0 500.0a2.1 2.1 0 1 0 4.2 0a2.1 2.1 0 1 0 -4.2 0M411.1 500.9a2.1 2.1 0 1 0 4.2 0a2.1 2.1 0 1 0 -4.2 0M411.2 499.7a2.1 2.1 0 1 0 4.2 0a2.1 2.1 0 1 0 -4.2 0M411.3 498.5a2.1 2.1 0 1 0 4.2 0a2.1 2.1 0 1 0 -4.2 0M411.5 498.5a2.1 2.1 0 1 0 4.2 0a2.1 2.1 0 1 0 -4.2 0M411.6 498.7a2.1 2.1 0 1 0 4.2 0a2.1 2.1 0 1 0 -4.2 0M411.7 499.1a2.1 2.1 0 1 0 4.2 0a2.1 2.1 0 1 0 -4.2 0M411.8 497.8a2.1 2.1 0 1 0 4.2 0a2.1 2.1 0 1 0 -4.2 0M412.0 498.5a2.1 2.1 0 1 0 4.2 0a2.1 2.1 0 1 0 -4.2 0M412.1 519.5a2.1 2.1 0 1 0 4.2 0a2.1 2.1 0 1 0 -4.2 0M412.2 508.9a2.1 2.1 0 1 0 4.2 0a2.1 2.1 0 1 0 -4.2 0M412.3 485.5a2.1 2.1 0 1 0 4.2 0a2.1 2.1 0 1 0 -4.2 0M412.5 507.2a2.1 2.1 0 1 0 4.2 0a2.1 2.1 0 1 0 -4.2 0M412.6 493.8a2.1 2.1 0 1 0 4.2 0a2.1 2.1 0 1 0 -4.2 0M412.7 482.6a2.1 2.1 0 1 0 4.2 0a2.1 2.1 0 1 0 -4.2 0M412.8 492.3a2.1 2.1 0 1 0 4.2 0a2.1 2.1 0 1 0 -4.2 0M413.0 487.6a2.1 2.1 0 1 0 4.2 0a2.1 2.1 0 1 0 -4.2 0M413.1 518.6a2.1 2.1 0 1 0 4.2 0a2.1 2.1 0 1 0 -4.2 0M413.2 513.8a2.1 2.1 0 1 0 4.2 0a2.1 2.1 0 1 0 -4.2 0M413.3 476.8a2.1 2.1 0 1 0 4.2 0a2.1 2.1 0 1 0 -4.2 0M413.5 506.4a2.1 2.1 0 1 0 4.2 0a2.1 2.1 0 1 0 -4.2 0M413.6 476.6a2.1 2.1 0 1 0 4.2 0a2.1 2.1 0 1 0 -4.2 0M413.7 472.3a2.1 2.1 0 1 0 4.2 0a2.1 2.1 0 1 0 -4.2 0M413.8 505.7a2.1 2.1 0 1 0 4.2 0a2.1 2.1 0 1 0 -4.2 0M414.0 478.0a2.1 2.1 0 1 0 4.2 0a2.1 2.1 0 1 0 -4.2 0M414.1 518.1a2.1 2.1 0 1 0 4.2 0a2.1 2.1 0 1 0 -4.2 0M414.2 473.7a2.1 2.1 0 1 0 4.2 0a2.1 2.1 0 1 0 -4.2 0M414.3 484.3a2.1 2.1 0 1 0 4.2 0a2.1 2.1 0 1 0 -4.2 0M414.5 482.1a2.1 2.1 0 1 0 4.2 0a2.1 2.1 0 1 0 -4.2 0M414.6 541.7a2.1 2.1 0 1 0 4.2 0a2.1 2.1 0 1 0 -4.2 0M414.7 504.1a2.1 2.1 0 1 0 4.2 0a2.1 2.1 0 1 0 -4.2 0M414.8 478.4a2.1 2.1 0 1 0 4.2 0a2.1 2.1 0 1 0 -4.2 0M415.0 533.8a2.1 2.1 0 1 0 4.2 0a2.1 2.1 0 1 0 -4.2 0M415.1 506.0a2.1 2.1 0 1 0 4.2 0a2.1 2.1 0 1 0 -4.2 0M415.2 516.4a2.1 2.1 0 1 0 4.2 0a2.1 2.1 0 1 0 -4.2 0M415.3 543.5a2.1 2.1 0 1 0 4.2 0a2.1 2.1 0 1 0 -4.2 0M415.5 509.0a2.1 2.1 0 1 0 4.2 0a2.1 2.1 0 1 0 -4.2 0M415.6 510.7a2.1 2.1 0 1 0 4.2 0a2.1 2.1 0 1 0 -4.2 0M415.7 500.7a2.1 2.1 0 1 0 4.2 0a2.1 2.1 0 1 0 -4.2 0M415.8 489.3a2.1 2.1 0 1 0 4.2 0a2.1 2.1 0 1 0 -4.2 0M416.0 472.5a2.1 2.1 0 1 0 4.2 0a2.1 2.1 0 1 0 -4.2 0M416.1 524.8a2.1 2.1 0 1 0 4.2 0a2.1 2.1 0 1 0 -4.2 0M416.2 511.3a2.1 2.1 0 1 0 4.2 0a2.1 2.1 0 1 0 -4.2 0M416.3 494.6a2.1 2.1 0 1 0 4.2 0a2.1 2.1 0 1 0 -4.2 0M416.5 494.0a2.1 2.1 0 1 0 4.2 0a2.1 2.1 0 1 0 -4.2 0M416.6 494.4a2.1 2.1 0 1 0 4.2 0a2.1 2.1 0 1 0 -4.2 0M416.7 494.0a2.1 2.1 0 1 0 4.2 0a2.1 2.1 0 1 0 -4.2 0M416.8 494.1a2.1 2.1 0 1 0 4.2 0a2.1 2.1 0 1 0 -4.2 0M417.0 494.8a2.1 2.1 0 1 0 4.2 0a2.1 2.1 0 1 0 -4.2 0M417.1 493.9a2.1 2.1 0 1 0 4.2 0a2.1 2.1 0 1 0 -4.2 0M417.2 493.2a2.1 2.1 0 1 0 4.2 0a2.1 2.1 0 1 0 -4.2 0M417.3 494.5a2.1 2.1 0 1 0 4.2 0a2.1 2.1 0 1 0 -4.2 0M417.5 493.9a2.1 2.1 0 1 0 4.2 0a2.1 2.1 0 1 0 -4.2 0M417.6 493.2a2.1 2.1 0 1 0 4.2 0a2.1 2.1 0 1 0 -4.2 0M417.7 494.4a2.1 2.1 0 1 0 4.2 0a2.1 2.1 0 1 0 -4.2 0M417.8 493.4a2.1 2.1 0 1 0 4.2 0a2.1 2.1 0 1 0 -4.2 0M418.0 494.3a2.1 2.1 0 1 0 4.2 0a2.1 2.1 0 1 0 -4.2 0M418.1 492.6a2.1 2.1 0 1 0 4.2 0a2.1 2.1 0 1 0 -4.2 0M418.2 491.7a2.1 2.1 0 1 0 4.2 0a2.1 2.1 0 1 0 -4.2 0M418.3 491.9a2.1 2.1 0 1 0 4.2 0a2.1 2.1 0 1 0 -4.2 0M418.5 493.5a2.1 2.1 0 1 0 4.2 0a2.1 2.1 0 1 0 -4.2 0M418.6 492.8a2.1 2.1 0 1 0 4.2 0a2.1 2.1 0 1 0 -4.2 0M418.7 493.2a2.1 2.1 0 1 0 4.2 0a2.1 2.1 0 1 0 -4.2 0M418.8 493.2a2.1 2.1 0 1 0 4.2 0a2.1 2.1 0 1 0 -4.2 0M419.0 492.1a2.1 2.1 0 1 0 4.2 0a2.1 2.1 0 1 0 -4.2 0M419.1 494.1a2.1 2.1 0 1 0 4.2 0a2.1 2.1 0 1 0 -4.2 0M419.2 492.4a2.1 2.1 0 1 0 4.2 0a2.1 2.1 0 1 0 -4.2 0M419.3 493.2a2.1 2.1 0 1 0 4.2 0a2.1 2.1 0 1 0 -4.2 0M419.5 492.1a2.1 2.1 0 1 0 4.2 0a2.1 2.1 0 1 0 -4.2 0M419.6 492.9a2.1 2.1 0 1 0 4.2 0a2.1 2.1 0 1 0 -4.2 0M419.7 493.6a2.1 2.1 0 1 0 4.2 0a2.1 2.1 0 1 0 -4.2 0M419.9 492.9a2.1 2.1 0 1 0 4.2 0a2.1 2.1 0 1 0 -4.2 0M420.0 492.5a2.1 2.1 0 1 0 4.2 0a2.1 2.1 0 1 0 -4.2 0M420.1 493.0a2.1 2.1 0 1 0 4.2 0a2.1 2.1 0 1 0 -4.2 0M420.2 492.7a2.1 2.1 0 1 0 4.2 0a2.1 2.1 0 1 0 -4.2 0M420.4 493.4a2.1 2.1 0 1 0 4.2 0a2.1 2.1 0 1 0 -4.2 0M420.5 494.7a2.1 2.1 0 1 0 4.2 0a2.1 2.1 0 1 0 -4.2 0M420.6 492.5a2.1 2.1 0 1 0 4.2 0a2.1 2.1 0 1 0 -4.2 0M420.7 492.8a2.1 2.1 0 1 0 4.2 0a2.1 2.1 0 1 0 -4.2 0M420.9 493.3a2.1 2.1 0 1 0 4.2 0a2.1 2.1 0 1 0 -4.2 0M421.0 493.6a2.1 2.1 0 1 0 4.2 0a2.1 2.1 0 1 0 -4.2 0M421.1 493.0a2.1 2.1 0 1 0 4.2 0a2.1 2.1 0 1 0 -4.2 0M421.2 494.4a2.1 2.1 0 1 0 4.2 0a2.1 2.1 0 1 0 -4.2 0M421.4 494.8a2.1 2.1 0 1 0 4.2 0a2.1 2.1 0 1 0 -4.2 0M421.5 494.7a2.1 2.1 0 1 0 4.2 0a2.1 2.1 0 1 0 -4.2 0M421.6 494.0a2.1 2.1 0 1 0 4.2 0a2.1 2.1 0 1 0 -4.2 0M421.7 496.2a2.1 2.1 0 1 0 4.2 0a2.1 2.1 0 1 0 -4.2 0M421.9 494.7a2.1 2.1 0 1 0 4.2 0a2.1 2.1 0 1 0 -4.2 0M422.0 496.4a2.1 2.1 0 1 0 4.2 0a2.1 2.1 0 1 0 -4.2 0M422.1 497.1a2.1 2.1 0 1 0 4.2 0a2.1 2.1 0 1 0 -4.2 0M422.2 553.4a2.1 2.1 0 1 0 4.2 0a2.1 2.1 0 1 0 -4.2 0M422.4 556.9a2.1 2.1 0 1 0 4.2 0a2.1 2.1 0 1 0 -4.2 0M422.5 459.1a2.1 2.1 0 1 0 4.2 0a2.1 2.1 0 1 0 -4.2 0M422.6 512.5a2.1 2.1 0 1 0 4.2 0a2.1 2.1 0 1 0 -4.2 0M422.7 521.9a2.1 2.1 0 1 0 4.2 0a2.1 2.1 0 1 0 -4.2 0M422.9 529.2a2.1 2.1 0 1 0 4.2 0a2.1 2.1 0 1 0 -4.2 0M423.0 532.1a2.1 2.1 0 1 0 4.2 0a2.1 2.1 0 1 0 -4.2 0M423.1 502.5a2.1 2.1 0 1 0 4.2 0a2.1 2.1 0 1 0 -4.2 0M423.2 547.9a2.1 2.1 0 1 0 4.2 0a2.1 2.1 0 1 0 -4.2 0M423.4 501.2a2.1 2.1 0 1 0 4.2 0a2.1 2.1 0 1 0 -4.2 0M423.5 459.8a2.1 2.1 0 1 0 4.2 0a2.1 2.1 0 1 0 -4.2 0M423.6 551.4a2.1 2.1 0 1 0 4.2 0a2.1 2.1 0 1 0 -4.2 0M423.7 539.7a2.1 2.1 0 1 0 4.2 0a2.1 2.1 0 1 0 -4.2 0M423.9 489.8a2.1 2.1 0 1 0 4.2 0a2.1 2.1 0 1 0 -4.2 0M424.0 509.0a2.1 2.1 0 1 0 4.2 0a2.1 2.1 0 1 0 -4.2 0M424.1 495.7a2.1 2.1 0 1 0 4.2 0a2.1 2.1 0 1 0 -4.2 0M424.2 487.6a2.1 2.1 0 1 0 4.2 0a2.1 2.1 0 1 0 -4.2 0M424.4 543.1a2.1 2.1 0 1 0 4.2 0a2.1 2.1 0 1 0 -4.2 0M424.5 525.6a2.1 2.1 0 1 0 4.2 0a2.1 2.1 0 1 0 -4.2 0M424.6 502.6a2.1 2.1 0 1 0 4.2 0a2.1 2.1 0 1 0 -4.2 0M424.7 511.8a2.1 2.1 0 1 0 4.2 0a2.1 2.1 0 1 0 -4.2 0M424.9 468.6a2.1 2.1 0 1 0 4.2 0a2.1 2.1 0 1 0 -4.2 0M425.0 501.4a2.1 2.1 0 1 0 4.2 0a2.1 2.1 0 1 0 -4.2 0M425.1 548.6a2.1 2.1 0 1 0 4.2 0a2.1 2.1 0 1 0 -4.2 0M425.2 559.2a2.1 2.1 0 1 0 4.2 0a2.1 2.1 0 1 0 -4.2 0M425.4 476.7a2.1 2.1 0 1 0 4.2 0a2.1 2.1 0 1 0 -4.2 0M425.5 488.9a2.1 2.1 0 1 0 4.2 0a2.1 2.1 0 1 0 -4.2 0M425.6 546.0a2.1 2.1 0 1 0 4.2 0a2.1 2.1 0 1 0 -4.2 0M425.7 563.7a2.1 2.1 0 1 0 4.2 0a2.1 2.1 0 1 0 -4.2 0M425.9 557.4a2.1 2.1 0 1 0 4.2 0a2.1 2.1 0 1 0 -4.2 0M426.0 561.2a2.1 2.1 0 1 0 4.2 0a2.1 2.1 0 1 0 -4.2 0M426.1 481.8a2.1 2.1 0 1 0 4.2 0a2.1 2.1 0 1 0 -4.2 0M426.2 467.2a2.1 2.1 0 1 0 4.2 0a2.1 2.1 0 1 0 -4.2 0M426.4 530.5a2.1 2.1 0 1 0 4.2 0a2.1 2.1 0 1 0 -4.2 0M426.5 508.6a2.1 2.1 0 1 0 4.2 0a2.1 2.1 0 1 0 -4.2 0M426.6 508.4a2.1 2.1 0 1 0 4.2 0a2.1 2.1 0 1 0 -4.2 0M426.7 508.4a2.1 2.1 0 1 0 4.2 0a2.1 2.1 0 1 0 -4.2 0M426.9 509.1a2.1 2.1 0 1 0 4.2 0a2.1 2.1 0 1 0 -4.2 0M427.0 508.5a2.1 2.1 0 1 0 4.2 0a2.1 2.1 0 1 0 -4.2 0M427.1 511.1a2.1 2.1 0 1 0 4.2 0a2.1 2.1 0 1 0 -4.2 0M427.2 509.1a2.1 2.1 0 1 0 4.2 0a2.1 2.1 0 1 0 -4.2 0M427.4 510.5a2.1 2.1 0 1 0 4.2 0a2.1 2.1 0 1 0 -4.2 0M427.5 509.2a2.1 2.1 0 1 0 4.2 0a2.1 2.1 0 1 0 -4.2 0M427.6 510.2a2.1 2.1 0 1 0 4.2 0a2.1 2.1 0 1 0 -4.2 0M427.7 510.9a2.1 2.1 0 1 0 4.2 0a2.1 2.1 0 1 0 -4.2 0M427.9 510.1a2.1 2.1 0 1 0 4.2 0a2.1 2.1 0 1 0 -4.2 0M428.0 511.2a2.1 2.1 0 1 0 4.2 0a2.1 2.1 0 1 0 -4.2 0M428.1 511.4a2.1 2.1 0 1 0 4.2 0a2.1 2.1 0 1 0 -4.2 0M428.2 512.0a2.1 2.1 0 1 0 4.2 0a2.1 2.1 0 1 0 -4.2 0M428.4 511.0a2.1 2.1 0 1 0 4.2 0a2.1 2.1 0 1 0 -4.2 0M428.5 510.8a2.1 2.1 0 1 0 4.2 0a2.1 2.1 0 1 0 -4.2 0M428.6 510.6a2.1 2.1 0 1 0 4.2 0a2.1 2.1 0 1 0 -4.2 0M428.7 511.6a2.1 2.1 0 1 0 4.2 0a2.1 2.1 0 1 0 -4.2 0M428.9 510.9a2.1 2.1 0 1 0 4.2 0a2.1 2.1 0 1 0 -4.2 0M429.0 511.8a2.1 2.1 0 1 0 4.2 0a2.1 2.1 0 1 0 -4.2 0M429.1 512.0a2.1 2.1 0 1 0 4.2 0a2.1 2.1 0 1 0 -4.2 0M429.2 511.6a2.1 2.1 0 1 0 4.2 0a2.1 2.1 0 1 0 -4.2 0M429.4 511.4a2.1 2.1 0 1 0 4.2 0a2.1 2.1 0 1 0 -4.2 0M429.5 512.6a2.1 2.1 0 1 0 4.2 0a2.1 2.1 0 1 0 -4.2 0M429.6 512.7a2.1 2.1 0 1 0 4.2 0a2.1 2.1 0 1 0 -4.2 0M429.7 512.7a2.1 2.1 0 1 0 4.2 0a2.1 2.1 0 1 0 -4.2 0M429.9 512.7a2.1 2.1 0 1 0 4.2 0a2.1 2.1 0 1 0 -4.2 0M430.0 513.5a2.1 2.1 0 1 0 4.2 0a2.1 2.1 0 1 0 -4.2 0M430.1 512.2a2.1 2.1 0 1 0 4.2 0a2.1 2.1 0 1 0 -4.2 0M430.2 513.4a2.1 2.1 0 1 0 4.2 0a2.1 2.1 0 1 0 -4.2 0M430.4 512.9a2.1 2.1 0 1 0 4.2 0a2.1 2.1 0 1 0 -4.2 0M430.5 514.0a2.1 2.1 0 1 0 4.2 0a2.1 2.1 0 1 0 -4.2 0M430.6 513.2a2.1 2.1 0 1 0 4.2 0a2.1 2.1 0 1 0 -4.2 0M430.7 513.3a2.1 2.1 0 1 0 4.2 0a2.1 2.1 0 1 0 -4.2 0M430.9 514.0a2.1 2.1 0 1 0 4.2 0a2.1 2.1 0 1 0 -4.2 0M431.0 512.3a2.1 2.1 0 1 0 4.2 0a2.1 2.1 0 1 0 -4.2 0M431.1 513.7a2.1 2.1 0 1 0 4.2 0a2.1 2.1 0 1 0 -4.2 0M431.2 512.7a2.1 2.1 0 1 0 4.2 0a2.1 2.1 0 1 0 -4.2 0M431.4 513.4a2.1 2.1 0 1 0 4.2 0a2.1 2.1 0 1 0 -4.2 0M431.5 514.7a2.1 2.1 0 1 0 4.2 0a2.1 2.1 0 1 0 -4.2 0M431.6 514.6a2.1 2.1 0 1 0 4.2 0a2.1 2.1 0 1 0 -4.2 0M431.7 514.1a2.1 2.1 0 1 0 4.2 0a2.1 2.1 0 1 0 -4.2 0M431.9 514.5a2.1 2.1 0 1 0 4.2 0a2.1 2.1 0 1 0 -4.2 0M432.0 514.6a2.1 2.1 0 1 0 4.2 0a2.1 2.1 0 1 0 -4.2 0M432.1 514.9a2.1 2.1 0 1 0 4.2 0a2.1 2.1 0 1 0 -4.2 0M432.2 516.1a2.1 2.1 0 1 0 4.2 0a2.1 2.1 0 1 0 -4.2 0M432.4 515.0a2.1 2.1 0 1 0 4.2 0a2.1 2.1 0 1 0 -4.2 0M432.5 516.6a2.1 2.1 0 1 0 4.2 0a2.1 2.1 0 1 0 -4.2 0M432.6 514.8a2.1 2.1 0 1 0 4.2 0a2.1 2.1 0 1 0 -4.2 0M432.7 515.6a2.1 2.1 0 1 0 4.2 0a2.1 2.1 0 1 0 -4.2 0M432.9 515.7a2.1 2.1 0 1 0 4.2 0a2.1 2.1 0 1 0 -4.2 0M433.0 515.4a2.1 2.1 0 1 0 4.2 0a2.1 2.1 0 1 0 -4.2 0M433.1 515.1a2.1 2.1 0 1 0 4.2 0a2.1 2.1 0 1 0 -4.2 0M433.2 516.4a2.1 2.1 0 1 0 4.2 0a2.1 2.1 0 1 0 -4.2 0M433.4 516.7a2.1 2.1 0 1 0 4.2 0a2.1 2.1 0 1 0 -4.2 0M433.5 516.3a2.1 2.1 0 1 0 4.2 0a2.1 2.1 0 1 0 -4.2 0M433.6 517.0a2.1 2.1 0 1 0 4.2 0a2.1 2.1 0 1 0 -4.2 0M433.8 516.3a2.1 2.1 0 1 0 4.2 0a2.1 2.1 0 1 0 -4.2 0M433.9 514.5a2.1 2.1 0 1 0 4.2 0a2.1 2.1 0 1 0 -4.2 0M434.0 516.5a2.1 2.1 0 1 0 4.2 0a2.1 2.1 0 1 0 -4.2 0M434.1 515.2a2.1 2.1 0 1 0 4.2 0a2.1 2.1 0 1 0 -4.2 0M434.3 516.8a2.1 2.1 0 1 0 4.2 0a2.1 2.1 0 1 0 -4.2 0M434.4 515.6a2.1 2.1 0 1 0 4.2 0a2.1 2.1 0 1 0 -4.2 0M434.5 516.0a2.1 2.1 0 1 0 4.2 0a2.1 2.1 0 1 0 -4.2 0M434.6 515.9a2.1 2.1 0 1 0 4.2 0a2.1 2.1 0 1 0 -4.2 0M434.8 515.4a2.1 2.1 0 1 0 4.2 0a2.1 2.1 0 1 0 -4.2 0M434.9 514.6a2.1 2.1 0 1 0 4.2 0a2.1 2.1 0 1 0 -4.2 0M435.0 515.8a2.1 2.1 0 1 0 4.2 0a2.1 2.1 0 1 0 -4.2 0M435.1 515.8a2.1 2.1 0 1 0 4.2 0a2.1 2.1 0 1 0 -4.2 0M435.3 516.7a2.1 2.1 0 1 0 4.2 0a2.1 2.1 0 1 0 -4.2 0M435.4 515.6a2.1 2.1 0 1 0 4.2 0a2.1 2.1 0 1 0 -4.2 0M435.5 516.2a2.1 2.1 0 1 0 4.2 0a2.1 2.1 0 1 0 -4.2 0M435.6 515.4a2.1 2.1 0 1 0 4.2 0a2.1 2.1 0 1 0 -4.2 0M435.8 516.1a2.1 2.1 0 1 0 4.2 0a2.1 2.1 0 1 0 -4.2 0M435.9 514.8a2.1 2.1 0 1 0 4.2 0a2.1 2.1 0 1 0 -4.2 0M436.0 517.6a2.1 2.1 0 1 0 4.2 0a2.1 2.1 0 1 0 -4.2 0M436.1 516.4a2.1 2.1 0 1 0 4.2 0a2.1 2.1 0 1 0 -4.2 0M436.3 515.5a2.1 2.1 0 1 0 4.2 0a2.1 2.1 0 1 0 -4.2 0M436.4 516.4a2.1 2.1 0 1 0 4.2 0a2.1 2.1 0 1 0 -4.2 0M436.5 516.8a2.1 2.1 0 1 0 4.2 0a2.1 2.1 0 1 0 -4.2 0M436.6 516.4a2.1 2.1 0 1 0 4.2 0a2.1 2.1 0 1 0 -4.2 0M436.8 517.3a2.1 2.1 0 1 0 4.2 0a2.1 2.1 0 1 0 -4.2 0M436.9 516.2a2.1 2.1 0 1 0 4.2 0a2.1 2.1 0 1 0 -4.2 0M437.0 514.5a2.1 2.1 0 1 0 4.2 0a2.1 2.1 0 1 0 -4.2 0M437.1 515.5a2.1 2.1 0 1 0 4.2 0a2.1 2.1 0 1 0 -4.2 0M437.3 517.1a2.1 2.1 0 1 0 4.2 0a2.1 2.1 0 1 0 -4.2 0M437.4 517.0a2.1 2.1 0 1 0 4.2 0a2.1 2.1 0 1 0 -4.2 0M437.5 516.7a2.1 2.1 0 1 0 4.2 0a2.1 2.1 0 1 0 -4.2 0M437.6 515.7a2.1 2.1 0 1 0 4.2 0a2.1 2.1 0 1 0 -4.2 0M437.8 517.0a2.1 2.1 0 1 0 4.2 0a2.1 2.1 0 1 0 -4.2 0M437.9 516.9a2.1 2.1 0 1 0 4.2 0a2.1 2.1 0 1 0 -4.2 0M438.0 515.8a2.1 2.1 0 1 0 4.2 0a2.1 2.1 0 1 0 -4.2 0M438.1 515.8a2.1 2.1 0 1 0 4.2 0a2.1 2.1 0 1 0 -4.2 0M438.3 516.8a2.1 2.1 0 1 0 4.2 0a2.1 2.1 0 1 0 -4.2 0M438.4 517.3a2.1 2.1 0 1 0 4.2 0a2.1 2.1 0 1 0 -4.2 0M438.5 517.7a2.1 2.1 0 1 0 4.2 0a2.1 2.1 0 1 0 -4.2 0M438.6 517.1a2.1 2.1 0 1 0 4.2 0a2.1 2.1 0 1 0 -4.2 0M438.8 518.2a2.1 2.1 0 1 0 4.2 0a2.1 2.1 0 1 0 -4.2 0M438.9 516.0a2.1 2.1 0 1 0 4.2 0a2.1 2.1 0 1 0 -4.2 0M439.0 517.1a2.1 2.1 0 1 0 4.2 0a2.1 2.1 0 1 0 -4.2 0M439.1 516.2a2.1 2.1 0 1 0 4.2 0a2.1 2.1 0 1 0 -4.2 0M439.3 515.2a2.1 2.1 0 1 0 4.2 0a2.1 2.1 0 1 0 -4.2 0M439.4 515.8a2.1 2.1 0 1 0 4.2 0a2.1 2.1 0 1 0 -4.2 0M439.5 517.5a2.1 2.1 0 1 0 4.2 0a2.1 2.1 0 1 0 -4.2 0M439.6 516.0a2.1 2.1 0 1 0 4.2 0a2.1 2.1 0 1 0 -4.2 0M439.8 515.8a2.1 2.1 0 1 0 4.2 0a2.1 2.1 0 1 0 -4.2 0M439.9 517.2a2.1 2.1 0 1 0 4.2 0a2.1 2.1 0 1 0 -4.2 0M440.0 517.4a2.1 2.1 0 1 0 4.2 0a2.1 2.1 0 1 0 -4.2 0M440.1 516.8a2.1 2.1 0 1 0 4.2 0a2.1 2.1 0 1 0 -4.2 0M440.3 517.9a2.1 2.1 0 1 0 4.2 0a2.1 2.1 0 1 0 -4.2 0M440.4 515.7a2.1 2.1 0 1 0 4.2 0a2.1 2.1 0 1 0 -4.2 0M440.5 518.5a2.1 2.1 0 1 0 4.2 0a2.1 2.1 0 1 0 -4.2 0M440.6 517.6a2.1 2.1 0 1 0 4.2 0a2.1 2.1 0 1 0 -4.2 0M440.8 517.0a2.1 2.1 0 1 0 4.2 0a2.1 2.1 0 1 0 -4.2 0M440.9 516.9a2.1 2.1 0 1 0 4.2 0a2.1 2.1 0 1 0 -4.2 0M441.0 516.7a2.1 2.1 0 1 0 4.2 0a2.1 2.1 0 1 0 -4.2 0M441.1 516.6a2.1 2.1 0 1 0 4.2 0a2.1 2.1 0 1 0 -4.2 0M441.3 517.0a2.1 2.1 0 1 0 4.2 0a2.1 2.1 0 1 0 -4.2 0M441.4 516.0a2.1 2.1 0 1 0 4.2 0a2.1 2.1 0 1 0 -4.2 0M441.5 518.4a2.1 2.1 0 1 0 4.2 0a2.1 2.1 0 1 0 -4.2 0M441.6 516.8a2.1 2.1 0 1 0 4.2 0a2.1 2.1 0 1 0 -4.2 0M441.8 517.4a2.1 2.1 0 1 0 4.2 0a2.1 2.1 0 1 0 -4.2 0M441.9 516.7a2.1 2.1 0 1 0 4.2 0a2.1 2.1 0 1 0 -4.2 0M442.0 516.7a2.1 2.1 0 1 0 4.2 0a2.1 2.1 0 1 0 -4.2 0M442.1 517.5a2.1 2.1 0 1 0 4.2 0a2.1 2.1 0 1 0 -4.2 0M442.3 517.3a2.1 2.1 0 1 0 4.2 0a2.1 2.1 0 1 0 -4.2 0M442.4 516.3a2.1 2.1 0 1 0 4.2 0a2.1 2.1 0 1 0 -4.2 0M442.5 516.6a2.1 2.1 0 1 0 4.2 0a2.1 2.1 0 1 0 -4.2 0M442.6 517.4a2.1 2.1 0 1 0 4.2 0a2.1 2.1 0 1 0 -4.2 0M442.8 515.4a2.1 2.1 0 1 0 4.2 0a2.1 2.1 0 1 0 -4.2 0M442.9 515.2a2.1 2.1 0 1 0 4.2 0a2.1 2.1 0 1 0 -4.2 0M443.0 518.0a2.1 2.1 0 1 0 4.2 0a2.1 2.1 0 1 0 -4.2 0M443.1 516.7a2.1 2.1 0 1 0 4.2 0a2.1 2.1 0 1 0 -4.2 0M443.3 515.0a2.1 2.1 0 1 0 4.2 0a2.1 2.1 0 1 0 -4.2 0M443.4 516.3a2.1 2.1 0 1 0 4.2 0a2.1 2.1 0 1 0 -4.2 0M443.5 516.1a2.1 2.1 0 1 0 4.2 0a2.1 2.1 0 1 0 -4.2 0M443.6 515.5a2.1 2.1 0 1 0 4.2 0a2.1 2.1 0 1 0 -4.2 0M443.8 515.5a2.1 2.1 0 1 0 4.2 0a2.1 2.1 0 1 0 -4.2 0M443.9 514.9a2.1 2.1 0 1 0 4.2 0a2.1 2.1 0 1 0 -4.2 0M444.0 514.9a2.1 2.1 0 1 0 4.2 0a2.1 2.1 0 1 0 -4.2 0M444.1 513.7a2.1 2.1 0 1 0 4.2 0a2.1 2.1 0 1 0 -4.2 0M444.3 514.3a2.1 2.1 0 1 0 4.2 0a2.1 2.1 0 1 0 -4.2 0M444.4 514.1a2.1 2.1 0 1 0 4.2 0a2.1 2.1 0 1 0 -4.2 0M444.5 514.5a2.1 2.1 0 1 0 4.2 0a2.1 2.1 0 1 0 -4.2 0M444.6 513.5a2.1 2.1 0 1 0 4.2 0a2.1 2.1 0 1 0 -4.2 0M444.8 513.9a2.1 2.1 0 1 0 4.2 0a2.1 2.1 0 1 0 -4.2 0M444.9 513.2a2.1 2.1 0 1 0 4.2 0a2.1 2.1 0 1 0 -4.2 0M445.0 512.2a2.1 2.1 0 1 0 4.2 0a2.1 2.1 0 1 0 -4.2 0M445.1 512.5a2.1 2.1 0 1 0 4.2 0a2.1 2.1 0 1 0 -4.2 0M445.3 512.3a2.1 2.1 0 1 0 4.2 0a2.1 2.1 0 1 0 -4.2 0M445.4 498.8a2.1 2.1 0 1 0 4.2 0a2.1 2.1 0 1 0 -4.2 0M445.5 538.4a2.1 2.1 0 1 0 4.2 0a2.1 2.1 0 1 0 -4.2 0M445.6 519.1a2.1 2.1 0 1 0 4.2 0a2.1 2.1 0 1 0 -4.2 0M445.8 531.9a2.1 2.1 0 1 0 4.2 0a2.1 2.1 0 1 0 -4.2 0M445.9 541.0a2.1 2.1 0 1 0 4.2 0a2.1 2.1 0 1 0 -4.2 0M446.0 539.2a2.1 2.1 0 1 0 4.2 0a2.1 2.1 0 1 0 -4.2 0M446.1 503.3a2.1 2.1 0 1 0 4.2 0a2.1 2.1 0 1 0 -4.2 0M446.3 507.1a2.1 2.1 0 1 0 4.2 0a2.1 2.1 0 1 0 -4.2 0M446.4 526.1a2.1 2.1 0 1 0 4.2 0a2.1 2.1 0 1 0 -4.2 0M446.5 526.2a2.1 2.1 0 1 0 4.2 0a2.1 2.1 0 1 0 -4.2 0M446.6 493.4a2.1 2.1 0 1 0 4.2 0a2.1 2.1 0 1 0 -4.2 0M446.8 506.6a2.1 2.1 0 1 0 4.2 0a2.1 2.1 0 1 0 -4.2 0M446.9 492.9a2.1 2.1 0 1 0 4.2 0a2.1 2.1 0 1 0 -4.2 0M447.0 500.7a2.1 2.1 0 1 0 4.2 0a2.1 2.1 0 1 0 -4.2 0M447.1 528.5a2.1 2.1 0 1 0 4.2 0a2.1 2.1 0 1 0 -4.2 0M447.3 527.2a2.1 2.1 0 1 0 4.2 0a2.1 2.1 0 1 0 -4.2 0M447.4 483.3a2.1 2.1 0 1 0 4.2 0a2.1 2.1 0 1 0 -4.2 0M447.5 535.8a2.1 2.1 0 1 0 4.2 0a2.1 2.1 0 1 0 -4.2 0M447.6 520.9a2.1 2.1 0 1 0 4.2 0a2.1 2.1 0 1 0 -4.2 0M447.8 528.1a2.1 2.1 0 1 0 4.2 0a2.1 2.1 0 1 0 -4.2 0M447.9 526.1a2.1 2.1 0 1 0 4.2 0a2.1 2.1 0 1 0 -4.2 0M448.0 526.1a2.1 2.1 0 1 0 4.2 0a2.1 2.1 0 1 0 -4.2 0M448.2 508.0a2.1 2.1 0 1 0 4.2 0a2.1 2.1 0 1 0 -4.2 0M448.3 501.1a2.1 2.1 0 1 0 4.2 0a2.1 2.1 0 1 0 -4.2 0M448.4 513.3a2.1 2.1 0 1 0 4.2 0a2.1 2.1 0 1 0 -4.2 0M448.5 512.1a2.1 2.1 0 1 0 4.2 0a2.1 2.1 0 1 0 -4.2 0M448.7 518.3a2.1 2.1 0 1 0 4.2 0a2.1 2.1 0 1 0 -4.2 0M448.8 489.5a2.1 2.1 0 1 0 4.2 0a2.1 2.1 0 1 0 -4.2 0M448.9 519.9a2.1 2.1 0 1 0 4.2 0a2.1 2.1 0 1 0 -4.2 0M449.0 529.5a2.1 2.1 0 1 0 4.2 0a2.1 2.1 0 1 0 -4.2 0M449.2 514.6a2.1 2.1 0 1 0 4.2 0a2.1 2.1 0 1 0 -4.2 0M449.3 511.6a2.1 2.1 0 1 0 4.2 0a2.1 2.1 0 1 0 -4.2 0M449.4 505.3a2.1 2.1 0 1 0 4.2 0a2.1 2.1 0 1 0 -4.2 0M449.5 529.3a2.1 2.1 0 1 0 4.2 0a2.1 2.1 0 1 0 -4.2 0M449.7 506.7a2.1 2.1 0 1 0 4.2 0a2.1 2.1 0 1 0 -4.2 0M449.8 508.1a2.1 2.1 0 1 0 4.2 0a2.1 2.1 0 1 0 -4.2 0M449.9 507.3a2.1 2.1 0 1 0 4.2 0a2.1 2.1 0 1 0 -4.2 0M450.0 507.0a2.1 2.1 0 1 0 4.2 0a2.1 2.1 0 1 0 -4.2 0M450.2 505.1a2.1 2.1 0 1 0 4.2 0a2.1 2.1 0 1 0 -4.2 0M450.3 507.2a2.1 2.1 0 1 0 4.2 0a2.1 2.1 0 1 0 -4.2 0M450.4 506.5a2.1 2.1 0 1 0 4.2 0a2.1 2.1 0 1 0 -4.2 0M450.5 506.3a2.1 2.1 0 1 0 4.2 0a2.1 2.1 0 1 0 -4.2 0M450.7 505.7a2.1 2.1 0 1 0 4.2 0a2.1 2.1 0 1 0 -4.2 0M450.8 505.0a2.1 2.1 0 1 0 4.2 0a2.1 2.1 0 1 0 -4.2 0M450.9 505.9a2.1 2.1 0 1 0 4.2 0a2.1 2.1 0 1 0 -4.2 0M451.0 505.9a2.1 2.1 0 1 0 4.2 0a2.1 2.1 0 1 0 -4.2 0M451.2 506.3a2.1 2.1 0 1 0 4.2 0a2.1 2.1 0 1 0 -4.2 0M451.3 505.5a2.1 2.1 0 1 0 4.2 0a2.1 2.1 0 1 0 -4.2 0M451.4 504.2a2.1 2.1 0 1 0 4.2 0a2.1 2.1 0 1 0 -4.2 0M451.5 504.4a2.1 2.1 0 1 0 4.2 0a2.1 2.1 0 1 0 -4.2 0M451.7 504.9a2.1 2.1 0 1 0 4.2 0a2.1 2.1 0 1 0 -4.2 0M451.8 504.2a2.1 2.1 0 1 0 4.2 0a2.1 2.1 0 1 0 -4.2 0M451.9 503.7a2.1 2.1 0 1 0 4.2 0a2.1 2.1 0 1 0 -4.2 0M452.0 503.1a2.1 2.1 0 1 0 4.2 0a2.1 2.1 0 1 0 -4.2 0M452.2 503.7a2.1 2.1 0 1 0 4.2 0a2.1 2.1 0 1 0 -4.2 0M452.3 503.2a2.1 2.1 0 1 0 4.2 0a2.1 2.1 0 1 0 -4.2 0M452.4 504.1a2.1 2.1 0 1 0 4.2 0a2.1 2.1 0 1 0 -4.2 0M452.5 503.3a2.1 2.1 0 1 0 4.2 0a2.1 2.1 0 1 0 -4.2 0M452.7 501.0a2.1 2.1 0 1 0 4.2 0a2.1 2.1 0 1 0 -4.2 0M452.8 503.6a2.1 2.1 0 1 0 4.2 0a2.1 2.1 0 1 0 -4.2 0M452.9 501.9a2.1 2.1 0 1 0 4.2 0a2.1 2.1 0 1 0 -4.2 0M453.0 501.3a2.1 2.1 0 1 0 4.2 0a2.1 2.1 0 1 0 -4.2 0M453.2 501.4a2.1 2.1 0 1 0 4.2 0a2.1 2.1 0 1 0 -4.2 0M453.3 501.5a2.1 2.1 0 1 0 4.2 0a2.1 2.1 0 1 0 -4.2 0M453.4 500.6a2.1 2.1 0 1 0 4.2 0a2.1 2.1 0 1 0 -4.2 0M453.5 500.3a2.1 2.1 0 1 0 4.2 0a2.1 2.1 0 1 0 -4.2 0M453.7 500.1a2.1 2.1 0 1 0 4.2 0a2.1 2.1 0 1 0 -4.2 0M453.8 501.1a2.1 2.1 0 1 0 4.2 0a2.1 2.1 0 1 0 -4.2 0M453.9 499.5a2.1 2.1 0 1 0 4.2 0a2.1 2.1 0 1 0 -4.2 0M454.0 499.8a2.1 2.1 0 1 0 4.2 0a2.1 2.1 0 1 0 -4.2 0M454.2 499.2a2.1 2.1 0 1 0 4.2 0a2.1 2.1 0 1 0 -4.2 0M454.3 498.4a2.1 2.1 0 1 0 4.2 0a2.1 2.1 0 1 0 -4.2 0M454.4 497.8a2.1 2.1 0 1 0 4.2 0a2.1 2.1 0 1 0 -4.2 0M454.5 497.3a2.1 2.1 0 1 0 4.2 0a2.1 2.1 0 1 0 -4.2 0M454.7 498.0a2.1 2.1 0 1 0 4.2 0a2.1 2.1 0 1 0 -4.2 0M454.8 496.6a2.1 2.1 0 1 0 4.2 0a2.1 2.1 0 1 0 -4.2 0M454.9 496.1a2.1 2.1 0 1 0 4.2 0a2.1 2.1 0 1 0 -4.2 0M455.0 495.8a2.1 2.1 0 1 0 4.2 0a2.1 2.1 0 1 0 -4.2 0M455.2 495.3a2.1 2.1 0 1 0 4.2 0a2.1 2.1 0 1 0 -4.2 0M455.3 496.1a2.1 2.1 0 1 0 4.2 0a2.1 2.1 0 1 0 -4.2 0M455.4 495.8a2.1 2.1 0 1 0 4.2 0a2.1 2.1 0 1 0 -4.2 0M455.5 494.8a2.1 2.1 0 1 0 4.2 0a2.1 2.1 0 1 0 -4.2 0M455.7 496.1a2.1 2.1 0 1 0 4.2 0a2.1 2.1 0 1 0 -4.2 0M455.8 494.6a2.1 2.1 0 1 0 4.2 0a2.1 2.1 0 1 0 -4.2 0M455.9 494.8a2.1 2.1 0 1 0 4.2 0a2.1 2.1 0 1 0 -4.2 0M456.0 494.3a2.1 2.1 0 1 0 4.2 0a2.1 2.1 0 1 0 -4.2 0M456.2 495.0a2.1 2.1 0 1 0 4.2 0a2.1 2.1 0 1 0 -4.2 0M456.3 494.0a2.1 2.1 0 1 0 4.2 0a2.1 2.1 0 1 0 -4.2 0M456.4 493.1a2.1 2.1 0 1 0 4.2 0a2.1 2.1 0 1 0 -4.2 0M456.5 492.1a2.1 2.1 0 1 0 4.2 0a2.1 2.1 0 1 0 -4.2 0M456.7 491.6a2.1 2.1 0 1 0 4.2 0a2.1 2.1 0 1 0 -4.2 0M456.8 492.1a2.1 2.1 0 1 0 4.2 0a2.1 2.1 0 1 0 -4.2 0M456.9 491.8a2.1 2.1 0 1 0 4.2 0a2.1 2.1 0 1 0 -4.2 0M457.0 492.0a2.1 2.1 0 1 0 4.2 0a2.1 2.1 0 1 0 -4.2 0M457.2 490.7a2.1 2.1 0 1 0 4.2 0a2.1 2.1 0 1 0 -4.2 0M457.3 490.9a2.1 2.1 0 1 0 4.2 0a2.1 2.1 0 1 0 -4.2 0M457.4 489.9a2.1 2.1 0 1 0 4.2 0a2.1 2.1 0 1 0 -4.2 0M457.5 488.7a2.1 2.1 0 1 0 4.2 0a2.1 2.1 0 1 0 -4.2 0M457.7 489.7a2.1 2.1 0 1 0 4.2 0a2.1 2.1 0 1 0 -4.2 0M457.8 490.4a2.1 2.1 0 1 0 4.2 0a2.1 2.1 0 1 0 -4.2 0M457.9 489.6a2.1 2.1 0 1 0 4.2 0a2.1 2.1 0 1 0 -4.2 0M458.0 489.7a2.1 2.1 0 1 0 4.2 0a2.1 2.1 0 1 0 -4.2 0M458.2 489.1a2.1 2.1 0 1 0 4.2 0a2.1 2.1 0 1 0 -4.2 0M458.3 487.0a2.1 2.1 0 1 0 4.2 0a2.1 2.1 0 1 0 -4.2 0M458.4 487.4a2.1 2.1 0 1 0 4.2 0a2.1 2.1 0 1 0 -4.2 0M458.5 488.4a2.1 2.1 0 1 0 4.2 0a2.1 2.1 0 1 0 -4.2 0M458.7 486.4a2.1 2.1 0 1 0 4.2 0a2.1 2.1 0 1 0 -4.2 0M458.8 485.6a2.1 2.1 0 1 0 4.2 0a2.1 2.1 0 1 0 -4.2 0M458.9 486.5a2.1 2.1 0 1 0 4.2 0a2.1 2.1 0 1 0 -4.2 0M459.0 486.4a2.1 2.1 0 1 0 4.2 0a2.1 2.1 0 1 0 -4.2 0M459.2 485.8a2.1 2.1 0 1 0 4.2 0a2.1 2.1 0 1 0 -4.2 0M459.3 485.0a2.1 2.1 0 1 0 4.2 0a2.1 2.1 0 1 0 -4.2 0M459.4 484.4a2.1 2.1 0 1 0 4.2 0a2.1 2.1 0 1 0 -4.2 0M459.5 483.6a2.1 2.1 0 1 0 4.2 0a2.1 2.1 0 1 0 -4.2 0M459.7 483.3a2.1 2.1 0 1 0 4.2 0a2.1 2.1 0 1 0 -4.2 0M459.8 482.9a2.1 2.1 0 1 0 4.2 0a2.1 2.1 0 1 0 -4.2 0M459.9 500.5a2.1 2.1 0 1 0 4.2 0a2.1 2.1 0 1 0 -4.2 0M460.0 482.5a2.1 2.1 0 1 0 4.2 0a2.1 2.1 0 1 0 -4.2 0M460.2 478.4a2.1 2.1 0 1 0 4.2 0a2.1 2.1 0 1 0 -4.2 0M460.3 488.0a2.1 2.1 0 1 0 4.2 0a2.1 2.1 0 1 0 -4.2 0M460.4 483.2a2.1 2.1 0 1 0 4.2 0a2.1 2.1 0 1 0 -4.2 0M460.5 490.0a2.1 2.1 0 1 0 4.2 0a2.1 2.1 0 1 0 -4.2 0M460.7 480.3a2.1 2.1 0 1 0 4.2 0a2.1 2.1 0 1 0 -4.2 0M460.8 436.0a2.1 2.1 0 1 0 4.2 0a2.1 2.1 0 1 0 -4.2 0M460.9 480.7a2.1 2.1 0 1 0 4.2 0a2.1 2.1 0 1 0 -4.2 0M461.0 478.5a2.1 2.1 0 1 0 4.2 0a2.1 2.1 0 1 0 -4.2 0M461.2 478.5a2.1 2.1 0 1 0 4.2 0a2.1 2.1 0 1 0 -4.2 0M461.3 449.2a2.1 2.1 0 1 0 4.2 0a2.1 2.1 0 1 0 -4.2 0M461.4 465.4a2.1 2.1 0 1 0 4.2 0a2.1 2.1 0 1 0 -4.2 0M461.5 480.3a2.1 2.1 0 1 0 4.2 0a2.1 2.1 0 1 0 -4.2 0M461.7 479.8a2.1 2.1 0 1 0 4.2 0a2.1 2.1 0 1 0 -4.2 0M461.8 477.8a2.1 2.1 0 1 0 4.2 0a2.1 2.1 0 1 0 -4.2 0M461.9 490.7a2.1 2.1 0 1 0 4.2 0a2.1 2.1 0 1 0 -4.2 0M462.0 501.1a2.1 2.1 0 1 0 4.2 0a2.1 2.1 0 1 0 -4.2 0M462.2 511.5a2.1 2.1 0 1 0 4.2 0a2.1 2.1 0 1 0 -4.2 0M462.3 473.0a2.1 2.1 0 1 0 4.2 0a2.1 2.1 0 1 0 -4.2 0M462.4 492.7a2.1 2.1 0 1 0 4.2 0a2.1 2.1 0 1 0 -4.2 0M462.6 482.1a2.1 2.1 0 1 0 4.2 0a2.1 2.1 0 1 0 -4.2 0M462.7 466.6a2.1 2.1 0 1 0 4.2 0a2.1 2.1 0 1 0 -4.2 0M462.8 470.4a2.1 2.1 0 1 0 4.2 0a2.1 2.1 0 1 0 -4.2 0M462.9 458.4a2.1 2.1 0 1 0 4.2 0a2.1 2.1 0 1 0 -4.2 0M463.1 430.5a2.1 2.1 0 1 0 4.2 0a2.1 2.1 0 1 0 -4.2 0M463.2 467.7a2.1 2.1 0 1 0 4.2 0a2.1 2.1 0 1 0 -4.2 0M463.3 481.3a2.1 2.1 0 1 0 4.2 0a2.1 2.1 0 1 0 -4.2 0M463.4 434.3a2.1 2.1 0 1 0 4.2 0a2.1 2.1 0 1 0 -4.2 0M463.6 489.4a2.1 2.1 0 1 0 4.2 0a2.1 2.1 0 1 0 -4.2 0M463.7 516.5a2.1 2.1 0 1 0 4.2 0a2.1 2.1 0 1 0 -4.2 0M463.8 457.2a2.1 2.1 0 1 0 4.2 0a2.1 2.1 0 1 0 -4.2 0M463.9 463.5a2.1 2.1 0 1 0 4.2 0a2.1 2.1 0 1 0 -4.2 0M464.1 462.3a2.1 2.1 0 1 0 4.2 0a2.1 2.1 0 1 0 -4.2 0M464.2 451.1a2.1 2.1 0 1 0 4.2 0a2.1 2.1 0 1 0 -4.2 0M464.3 470.7a2.1 2.1 0 1 0 4.2 0a2.1 2.1 0 1 0 -4.2 0M464.4 477.1a2.1 2.1 0 1 0 4.2 0a2.1 2.1 0 1 0 -4.2 0M464.6 477.9a2.1 2.1 0 1 0 4.2 0a2.1 2.1 0 1 0 -4.2 0M464.7 459.6a2.1 2.1 0 1 0 4.2 0a2.1 2.1 0 1 0 -4.2 0M464.8 454.6a2.1 2.1 0 1 0 4.2 0a2.1 2.1 0 1 0 -4.2 0M464.9 438.0a2.1 2.1 0 1 0 4.2 0a2.1 2.1 0 1 0 -4.2 0M465.1 446.1a2.1 2.1 0 1 0 4.2 0a2.1 2.1 0 1 0 -4.2 0M465.2 470.1a2.1 2.1 0 1 0 4.2 0a2.1 2.1 0 1 0 -4.2 0M465.3 469.2a2.1 2.1 0 1 0 4.2 0a2.1 2.1 0 1 0 -4.2 0M465.4 451.2a2.1 2.1 0 1 0 4.2 0a2.1 2.1 0 1 0 -4.2 0M465.6 453.5a2.1 2.1 0 1 0 4.2 0a2.1 2.1 0 1 0 -4.2 0M465.7 476.8a2.1 2.1 0 1 0 4.2 0a2.1 2.1 0 1 0 -4.2 0M465.8 452.8a2.1 2.1 0 1 0 4.2 0a2.1 2.1 0 1 0 -4.2 0M465.9 451.3a2.1 2.1 0 1 0 4.2 0a2.1 2.1 0 1 0 -4.2 0M466.1 450.6a2.1 2.1 0 1 0 4.2 0a2.1 2.1 0 1 0 -4.2 0M466.2 449.4a2.1 2.1 0 1 0 4.2 0a2.1 2.1 0 1 0 -4.2 0M466.3 449.5a2.1 2.1 0 1 0 4.2 0a2.1 2.1 0 1 0 -4.2 0M466.4 448.5a2.1 2.1 0 1 0 4.2 0a2.1 2.1 0 1 0 -4.2 0M466.6 447.7a2.1 2.1 0 1 0 4.2 0a2.1 2.1 0 1 0 -4.2 0M466.7 448.2a2.1 2.1 0 1 0 4.2 0a2.1 2.1 0 1 0 -4.2 0M466.8 449.0a2.1 2.1 0 1 0 4.2 0a2.1 2.1 0 1 0 -4.2 0M466.9 448.3a2.1 2.1 0 1 0 4.2 0a2.1 2.1 0 1 0 -4.2 0M467.1 448.1a2.1 2.1 0 1 0 4.2 0a2.1 2.1 0 1 0 -4.2 0M467.2 445.4a2.1 2.1 0 1 0 4.2 0a2.1 2.1 0 1 0 -4.2 0M467.3 446.8a2.1 2.1 0 1 0 4.2 0a2.1 2.1 0 1 0 -4.2 0M467.4 444.9a2.1 2.1 0 1 0 4.2 0a2.1 2.1 0 1 0 -4.2 0M467.6 445.0a2.1 2.1 0 1 0 4.2 0a2.1 2.1 0 1 0 -4.2 0M467.7 443.8a2.1 2.1 0 1 0 4.2 0a2.1 2.1 0 1 0 -4.2 0M467.8 444.0a2.1 2.1 0 1 0 4.2 0a2.1 2.1 0 1 0 -4.2 0M467.9 444.4a2.1 2.1 0 1 0 4.2 0a2.1 2.1 0 1 0 -4.2 0M468.1 444.1a2.1 2.1 0 1 0 4.2 0a2.1 2.1 0 1 0 -4.2 0M468.2 443.6a2.1 2.1 0 1 0 4.2 0a2.1 2.1 0 1 0 -4.2 0M468.3 443.2a2.1 2.1 0 1 0 4.2 0a2.1 2.1 0 1 0 -4.2 0M468.4 443.4a2.1 2.1 0 1 0 4.2 0a2.1 2.1 0 1 0 -4.2 0M468.6 442.8a2.1 2.1 0 1 0 4.2 0a2.1 2.1 0 1 0 -4.2 0M468.7 441.3a2.1 2.1 0 1 0 4.2 0a2.1 2.1 0 1 0 -4.2 0M468.8 443.4a2.1 2.1 0 1 0 4.2 0a2.1 2.1 0 1 0 -4.2 0M468.9 441.8a2.1 2.1 0 1 0 4.2 0a2.1 2.1 0 1 0 -4.2 0M469.1 442.4a2.1 2.1 0 1 0 4.2 0a2.1 2.1 0 1 0 -4.2 0M469.2 441.4a2.1 2.1 0 1 0 4.2 0a2.1 2.1 0 1 0 -4.2 0M469.3 440.7a2.1 2.1 0 1 0 4.2 0a2.1 2.1 0 1 0 -4.2 0M469.4 441.2a2.1 2.1 0 1 0 4.2 0a2.1 2.1 0 1 0 -4.2 0M469.6 440.4a2.1 2.1 0 1 0 4.2 0a2.1 2.1 0 1 0 -4.2 0M469.7 442.0a2.1 2.1 0 1 0 4.2 0a2.1 2.1 0 1 0 -4.2 0M469.8 439.8a2.1 2.1 0 1 0 4.2 0a2.1 2.1 0 1 0 -4.2 0M469.9 441.0a2.1 2.1 0 1 0 4.2 0a2.1 2.1 0 1 0 -4.2 0M470.1 439.9a2.1 2.1 0 1 0 4.2 0a2.1 2.1 0 1 0 -4.2 0M470.2 440.1a2.1 2.1 0 1 0 4.2 0a2.1 2.1 0 1 0 -4.2 0M470.3 442.0a2.1 2.1 0 1 0 4.2 0a2.1 2.1 0 1 0 -4.2 0M470.4 440.5a2.1 2.1 0 1 0 4.2 0a2.1 2.1 0 1 0 -4.2 0M470.6 439.7a2.1 2.1 0 1 0 4.2 0a2.1 2.1 0 1 0 -4.2 0M470.7 438.6a2.1 2.1 0 1 0 4.2 0a2.1 2.1 0 1 0 -4.2 0M470.8 439.4a2.1 2.1 0 1 0 4.2 0a2.1 2.1 0 1 0 -4.2 0M470.9 439.3a2.1 2.1 0 1 0 4.2 0a2.1 2.1 0 1 0 -4.2 0M471.1 440.4a2.1 2.1 0 1 0 4.2 0a2.1 2.1 0 1 0 -4.2 0M471.2 438.2a2.1 2.1 0 1 0 4.2 0a2.1 2.1 0 1 0 -4.2 0M471.3 437.8a2.1 2.1 0 1 0 4.2 0a2.1 2.1 0 1 0 -4.2 0M471.4 439.1a2.1 2.1 0 1 0 4.2 0a2.1 2.1 0 1 0 -4.2 0M471.6 439.2a2.1 2.1 0 1 0 4.2 0a2.1 2.1 0 1 0 -4.2 0M471.7 440.1a2.1 2.1 0 1 0 4.2 0a2.1 2.1 0 1 0 -4.2 0M471.8 438.2a2.1 2.1 0 1 0 4.2 0a2.1 2.1 0 1 0 -4.2 0M471.9 436.8a2.1 2.1 0 1 0 4.2 0a2.1 2.1 0 1 0 -4.2 0M472.1 438.2a2.1 2.1 0 1 0 4.2 0a2.1 2.1 0 1 0 -4.2 0M472.2 437.8a2.1 2.1 0 1 0 4.2 0a2.1 2.1 0 1 0 -4.2 0M472.3 438.3a2.1 2.1 0 1 0 4.2 0a2.1 2.1 0 1 0 -4.2 0M472.4 439.4a2.1 2.1 0 1 0 4.2 0a2.1 2.1 0 1 0 -4.2 0M472.6 437.7a2.1 2.1 0 1 0 4.2 0a2.1 2.1 0 1 0 -4.2 0M472.7 439.6a2.1 2.1 0 1 0 4.2 0a2.1 2.1 0 1 0 -4.2 0M472.8 438.9a2.1 2.1 0 1 0 4.2 0a2.1 2.1 0 1 0 -4.2 0M472.9 438.6a2.1 2.1 0 1 0 4.2 0a2.1 2.1 0 1 0 -4.2 0M473.1 438.1a2.1 2.1 0 1 0 4.2 0a2.1 2.1 0 1 0 -4.2 0M473.2 438.5a2.1 2.1 0 1 0 4.2 0a2.1 2.1 0 1 0 -4.2 0M473.3 438.6a2.1 2.1 0 1 0 4.2 0a2.1 2.1 0 1 0 -4.2 0M473.4 439.5a2.1 2.1 0 1 0 4.2 0a2.1 2.1 0 1 0 -4.2 0M473.6 440.0a2.1 2.1 0 1 0 4.2 0a2.1 2.1 0 1 0 -4.2 0M473.7 439.0a2.1 2.1 0 1 0 4.2 0a2.1 2.1 0 1 0 -4.2 0M473.8 439.7a2.1 2.1 0 1 0 4.2 0a2.1 2.1 0 1 0 -4.2 0M473.9 440.2a2.1 2.1 0 1 0 4.2 0a2.1 2.1 0 1 0 -4.2 0M474.1 440.3a2.1 2.1 0 1 0 4.2 0a2.1 2.1 0 1 0 -4.2 0M474.2 439.8a2.1 2.1 0 1 0 4.2 0a2.1 2.1 0 1 0 -4.2 0M474.3 440.9a2.1 2.1 0 1 0 4.2 0a2.1 2.1 0 1 0 -4.2 0M474.4 440.6a2.1 2.1 0 1 0 4.2 0a2.1 2.1 0 1 0 -4.2 0M474.6 441.0a2.1 2.1 0 1 0 4.2 0a2.1 2.1 0 1 0 -4.2 0M474.7 439.7a2.1 2.1 0 1 0 4.2 0a2.1 2.1 0 1 0 -4.2 0M474.8 439.7a2.1 2.1 0 1 0 4.2 0a2.1 2.1 0 1 0 -4.2 0M474.9 438.6a2.1 2.1 0 1 0 4.2 0a2.1 2.1 0 1 0 -4.2 0M475.1 441.3a2.1 2.1 0 1 0 4.2 0a2.1 2.1 0 1 0 -4.2 0M475.2 440.9a2.1 2.1 0 1 0 4.2 0a2.1 2.1 0 1 0 -4.2 0M475.3 439.8a2.1 2.1 0 1 0 4.2 0a2.1 2.1 0 1 0 -4.2 0M475.4 440.8a2.1 2.1 0 1 0 4.2 0a2.1 2.1 0 1 0 -4.2 0M475.6 441.0a2.1 2.1 0 1 0 4.2 0a2.1 2.1 0 1 0 -4.2 0M475.7 439.6a2.1 2.1 0 1 0 4.2 0a2.1 2.1 0 1 0 -4.2 0M475.8 441.3a2.1 2.1 0 1 0 4.2 0a2.1 2.1 0 1 0 -4.2 0M475.9 442.0a2.1 2.1 0 1 0 4.2 0a2.1 2.1 0 1 0 -4.2 0M476.1 442.3a2.1 2.1 0 1 0 4.2 0a2.1 2.1 0 1 0 -4.2 0M476.2 441.3a2.1 2.1 0 1 0 4.2 0a2.1 2.1 0 1 0 -4.2 0M476.3 441.5a2.1 2.1 0 1 0 4.2 0a2.1 2.1 0 1 0 -4.2 0M476.5 443.0a2.1 2.1 0 1 0 4.2 0a2.1 2.1 0 1 0 -4.2 0M476.6 442.9a2.1 2.1 0 1 0 4.2 0a2.1 2.1 0 1 0 -4.2 0M476.7 442.1a2.1 2.1 0 1 0 4.2 0a2.1 2.1 0 1 0 -4.2 0M476.8 442.3a2.1 2.1 0 1 0 4.2 0a2.1 2.1 0 1 0 -4.2 0M477.0 443.5a2.1 2.1 0 1 0 4.2 0a2.1 2.1 0 1 0 -4.2 0M477.1 442.8a2.1 2.1 0 1 0 4.2 0a2.1 2.1 0 1 0 -4.2 0M477.2 443.2a2.1 2.1 0 1 0 4.2 0a2.1 2.1 0 1 0 -4.2 0M477.3 445.2a2.1 2.1 0 1 0 4.2 0a2.1 2.1 0 1 0 -4.2 0M477.5 444.5a2.1 2.1 0 1 0 4.2 0a2.1 2.1 0 1 0 -4.2 0M477.6 444.3a2.1 2.1 0 1 0 4.2 0a2.1 2.1 0 1 0 -4.2 0M477.7 445.4a2.1 2.1 0 1 0 4.2 0a2.1 2.1 0 1 0 -4.2 0M477.8 446.9a2.1 2.1 0 1 0 4.2 0a2.1 2.1 0 1 0 -4.2 0M478.0 446.0a2.1 2.1 0 1 0 4.2 0a2.1 2.1 0 1 0 -4.2 0M478.1 445.6a2.1 2.1 0 1 0 4.2 0a2.1 2.1 0 1 0 -4.2 0M478.2 445.5a2.1 2.1 0 1 0 4.2 0a2.1 2.1 0 1 0 -4.2 0M478.3 448.9a2.1 2.1 0 1 0 4.2 0a2.1 2.1 0 1 0 -4.2 0M478.5 446.0a2.1 2.1 0 1 0 4.2 0a2.1 2.1 0 1 0 -4.2 0M478.6 449.5a2.1 2.1 0 1 0 4.2 0a2.1 2.1 0 1 0 -4.2 0M478.7 448.7a2.1 2.1 0 1 0 4.2 0a2.1 2.1 0 1 0 -4.2 0M478.8 449.3a2.1 2.1 0 1 0 4.2 0a2.1 2.1 0 1 0 -4.2 0M479.0 450.4a2.1 2.1 0 1 0 4.2 0a2.1 2.1 0 1 0 -4.2 0M479.1 451.9a2.1 2.1 0 1 0 4.2 0a2.1 2.1 0 1 0 -4.2 0M479.2 453.8a2.1 2.1 0 1 0 4.2 0a2.1 2.1 0 1 0 -4.2 0M479.3 453.5a2.1 2.1 0 1 0 4.2 0a2.1 2.1 0 1 0 -4.2 0M479.5 455.5a2.1 2.1 0 1 0 4.2 0a2.1 2.1 0 1 0 -4.2 0M479.6 457.9a2.1 2.1 0 1 0 4.2 0a2.1 2.1 0 1 0 -4.2 0M479.7 455.1a2.1 2.1 0 1 0 4.2 0a2.1 2.1 0 1 0 -4.2 0M479.8 457.7a2.1 2.1 0 1 0 4.2 0a2.1 2.1 0 1 0 -4.2 0M480.0 458.0a2.1 2.1 0 1 0 4.2 0a2.1 2.1 0 1 0 -4.2 0M480.1 461.1a2.1 2.1 0 1 0 4.2 0a2.1 2.1 0 1 0 -4.2 0M480.2 460.5a2.1 2.1 0 1 0 4.2 0a2.1 2.1 0 1 0 -4.2 0M480.3 461.5a2.1 2.1 0 1 0 4.2 0a2.1 2.1 0 1 0 -4.2 0M480.5 462.6a2.1 2.1 0 1 0 4.2 0a2.1 2.1 0 1 0 -4.2 0M480.6 464.9a2.1 2.1 0 1 0 4.2 0a2.1 2.1 0 1 0 -4.2 0M480.7 466.8a2.1 2.1 0 1 0 4.2 0a2.1 2.1 0 1 0 -4.2 0M480.8 467.1a2.1 2.1 0 1 0 4.2 0a2.1 2.1 0 1 0 -4.2 0M481.0 469.7a2.1 2.1 0 1 0 4.2 0a2.1 2.1 0 1 0 -4.2 0M481.1 470.3a2.1 2.1 0 1 0 4.2 0a2.1 2.1 0 1 0 -4.2 0M481.2 469.9a2.1 2.1 0 1 0 4.2 0a2.1 2.1 0 1 0 -4.2 0M481.3 471.7a2.1 2.1 0 1 0 4.2 0a2.1 2.1 0 1 0 -4.2 0M481.5 472.2a2.1 2.1 0 1 0 4.2 0a2.1 2.1 0 1 0 -4.2 0M481.6 473.2a2.1 2.1 0 1 0 4.2 0a2.1 2.1 0 1 0 -4.2 0M481.7 472.8a2.1 2.1 0 1 0 4.2 0a2.1 2.1 0 1 0 -4.2 0M481.8 474.4a2.1 2.1 0 1 0 4.2 0a2.1 2.1 0 1 0 -4.2 0M482.0 476.6a2.1 2.1 0 1 0 4.2 0a2.1 2.1 0 1 0 -4.2 0M482.1 476.9a2.1 2.1 0 1 0 4.2 0a2.1 2.1 0 1 0 -4.2 0M482.2 479.5a2.1 2.1 0 1 0 4.2 0a2.1 2.1 0 1 0 -4.2 0M482.3 480.4a2.1 2.1 0 1 0 4.2 0a2.1 2.1 0 1 0 -4.2 0M482.5 480.6a2.1 2.1 0 1 0 4.2 0a2.1 2.1 0 1 0 -4.2 0M482.6 483.3a2.1 2.1 0 1 0 4.2 0a2.1 2.1 0 1 0 -4.2 0M482.7 483.8a2.1 2.1 0 1 0 4.2 0a2.1 2.1 0 1 0 -4.2 0M482.8 485.6a2.1 2.1 0 1 0 4.2 0a2.1 2.1 0 1 0 -4.2 0M483.0 485.6a2.1 2.1 0 1 0 4.2 0a2.1 2.1 0 1 0 -4.2 0M483.1 485.5a2.1 2.1 0 1 0 4.2 0a2.1 2.1 0 1 0 -4.2 0M483.2 488.2a2.1 2.1 0 1 0 4.2 0a2.1 2.1 0 1 0 -4.2 0M483.3 488.4a2.1 2.1 0 1 0 4.2 0a2.1 2.1 0 1 0 -4.2 0M483.5 490.0a2.1 2.1 0 1 0 4.2 0a2.1 2.1 0 1 0 -4.2 0M483.6 491.0a2.1 2.1 0 1 0 4.2 0a2.1 2.1 0 1 0 -4.2 0M483.7 491.7a2.1 2.1 0 1 0 4.2 0a2.1 2.1 0 1 0 -4.2 0M483.8 490.3a2.1 2.1 0 1 0 4.2 0a2.1 2.1 0 1 0 -4.2 0M484.0 490.1a2.1 2.1 0 1 0 4.2 0a2.1 2.1 0 1 0 -4.2 0M484.1 491.8a2.1 2.1 0 1 0 4.2 0a2.1 2.1 0 1 0 -4.2 0M484.2 493.0a2.1 2.1 0 1 0 4.2 0a2.1 2.1 0 1 0 -4.2 0M484.3 492.3a2.1 2.1 0 1 0 4.2 0a2.1 2.1 0 1 0 -4.2 0M484.5 493.4a2.1 2.1 0 1 0 4.2 0a2.1 2.1 0 1 0 -4.2 0M484.6 492.8a2.1 2.1 0 1 0 4.2 0a2.1 2.1 0 1 0 -4.2 0M484.7 493.5a2.1 2.1 0 1 0 4.2 0a2.1 2.1 0 1 0 -4.2 0M484.8 493.8a2.1 2.1 0 1 0 4.2 0a2.1 2.1 0 1 0 -4.2 0M485.0 493.8a2.1 2.1 0 1 0 4.2 0a2.1 2.1 0 1 0 -4.2 0M485.1 494.9a2.1 2.1 0 1 0 4.2 0a2.1 2.1 0 1 0 -4.2 0M485.2 495.0a2.1 2.1 0 1 0 4.2 0a2.1 2.1 0 1 0 -4.2 0M485.3 496.2a2.1 2.1 0 1 0 4.2 0a2.1 2.1 0 1 0 -4.2 0M485.5 495.4a2.1 2.1 0 1 0 4.2 0a2.1 2.1 0 1 0 -4.2 0M485.6 496.3a2.1 2.1 0 1 0 4.2 0a2.1 2.1 0 1 0 -4.2 0M485.7 495.5a2.1 2.1 0 1 0 4.2 0a2.1 2.1 0 1 0 -4.2 0M485.8 496.2a2.1 2.1 0 1 0 4.2 0a2.1 2.1 0 1 0 -4.2 0M486.0 495.5a2.1 2.1 0 1 0 4.2 0a2.1 2.1 0 1 0 -4.2 0M486.1 495.3a2.1 2.1 0 1 0 4.2 0a2.1 2.1 0 1 0 -4.2 0M486.2 496.7a2.1 2.1 0 1 0 4.2 0a2.1 2.1 0 1 0 -4.2 0M486.3 496.2a2.1 2.1 0 1 0 4.2 0a2.1 2.1 0 1 0 -4.2 0M486.5 496.1a2.1 2.1 0 1 0 4.2 0a2.1 2.1 0 1 0 -4.2 0M486.6 494.5a2.1 2.1 0 1 0 4.2 0a2.1 2.1 0 1 0 -4.2 0M486.7 493.4a2.1 2.1 0 1 0 4.2 0a2.1 2.1 0 1 0 -4.2 0M486.8 493.4a2.1 2.1 0 1 0 4.2 0a2.1 2.1 0 1 0 -4.2 0M487.0 493.7a2.1 2.1 0 1 0 4.2 0a2.1 2.1 0 1 0 -4.2 0M487.1 491.7a2.1 2.1 0 1 0 4.2 0a2.1 2.1 0 1 0 -4.2 0M487.2 493.2a2.1 2.1 0 1 0 4.2 0a2.1 2.1 0 1 0 -4.2 0M487.3 490.2a2.1 2.1 0 1 0 4.2 0a2.1 2.1 0 1 0 -4.2 0M487.5 491.0a2.1 2.1 0 1 0 4.2 0a2.1 2.1 0 1 0 -4.2 0M487.6 491.8a2.1 2.1 0 1 0 4.2 0a2.1 2.1 0 1 0 -4.2 0M487.7 487.0a2.1 2.1 0 1 0 4.2 0a2.1 2.1 0 1 0 -4.2 0M487.8 487.0a2.1 2.1 0 1 0 4.2 0a2.1 2.1 0 1 0 -4.2 0M488.0 488.2a2.1 2.1 0 1 0 4.2 0a2.1 2.1 0 1 0 -4.2 0M488.1 486.7a2.1 2.1 0 1 0 4.2 0a2.1 2.1 0 1 0 -4.2 0M488.2 486.4a2.1 2.1 0 1 0 4.2 0a2.1 2.1 0 1 0 -4.2 0M488.3 485.6a2.1 2.1 0 1 0 4.2 0a2.1 2.1 0 1 0 -4.2 0M488.5 486.4a2.1 2.1 0 1 0 4.2 0a2.1 2.1 0 1 0 -4.2 0M488.6 485.3a2.1 2.1 0 1 0 4.2 0a2.1 2.1 0 1 0 -4.2 0M488.7 484.0a2.1 2.1 0 1 0 4.2 0a2.1 2.1 0 1 0 -4.2 0M488.8 483.8a2.1 2.1 0 1 0 4.2 0a2.1 2.1 0 1 0 -4.2 0M489.0 482.6a2.1 2.1 0 1 0 4.2 0a2.1 2.1 0 1 0 -4.2 0M489.1 483.0a2.1 2.1 0 1 0 4.2 0a2.1 2.1 0 1 0 -4.2 0M489.2 480.9a2.1 2.1 0 1 0 4.2 0a2.1 2.1 0 1 0 -4.2 0M489.3 482.7a2.1 2.1 0 1 0 4.2 0a2.1 2.1 0 1 0 -4.2 0M489.5 481.6a2.1 2.1 0 1 0 4.2 0a2.1 2.1 0 1 0 -4.2 0M489.6 482.8a2.1 2.1 0 1 0 4.2 0a2.1 2.1 0 1 0 -4.2 0M489.7 481.9a2.1 2.1 0 1 0 4.2 0a2.1 2.1 0 1 0 -4.2 0M489.8 479.7a2.1 2.1 0 1 0 4.2 0a2.1 2.1 0 1 0 -4.2 0M490.0 481.1a2.1 2.1 0 1 0 4.2 0a2.1 2.1 0 1 0 -4.2 0M490.1 479.8a2.1 2.1 0 1 0 4.2 0a2.1 2.1 0 1 0 -4.2 0M490.2 480.1a2.1 2.1 0 1 0 4.2 0a2.1 2.1 0 1 0 -4.2 0M490.3 480.7a2.1 2.1 0 1 0 4.2 0a2.1 2.1 0 1 0 -4.2 0M490.5 480.1a2.1 2.1 0 1 0 4.2 0a2.1 2.1 0 1 0 -4.2 0M490.6 480.2a2.1 2.1 0 1 0 4.2 0a2.1 2.1 0 1 0 -4.2 0M490.7 480.2a2.1 2.1 0 1 0 4.2 0a2.1 2.1 0 1 0 -4.2 0M490.9 479.3a2.1 2.1 0 1 0 4.2 0a2.1 2.1 0 1 0 -4.2 0M491.0 479.3a2.1 2.1 0 1 0 4.2 0a2.1 2.1 0 1 0 -4.2 0M491.1 480.3a2.1 2.1 0 1 0 4.2 0a2.1 2.1 0 1 0 -4.2 0M491.2 480.5a2.1 2.1 0 1 0 4.2 0a2.1 2.1 0 1 0 -4.2 0M491.4 479.6a2.1 2.1 0 1 0 4.2 0a2.1 2.1 0 1 0 -4.2 0M491.5 479.9a2.1 2.1 0 1 0 4.2 0a2.1 2.1 0 1 0 -4.2 0M491.6 479.1a2.1 2.1 0 1 0 4.2 0a2.1 2.1 0 1 0 -4.2 0M491.7 477.9a2.1 2.1 0 1 0 4.2 0a2.1 2.1 0 1 0 -4.2 0M491.9 479.3a2.1 2.1 0 1 0 4.2 0a2.1 2.1 0 1 0 -4.2 0M492.0 479.9a2.1 2.1 0 1 0 4.2 0a2.1 2.1 0 1 0 -4.2 0M492.1 480.1a2.1 2.1 0 1 0 4.2 0a2.1 2.1 0 1 0 -4.2 0M492.2 480.6a2.1 2.1 0 1 0 4.2 0a2.1 2.1 0 1 0 -4.2 0M492.4 480.6a2.1 2.1 0 1 0 4.2 0a2.1 2.1 0 1 0 -4.2 0M492.5 480.7a2.1 2.1 0 1 0 4.2 0a2.1 2.1 0 1 0 -4.2 0M492.6 480.3a2.1 2.1 0 1 0 4.2 0a2.1 2.1 0 1 0 -4.2 0M492.7 480.4a2.1 2.1 0 1 0 4.2 0a2.1 2.1 0 1 0 -4.2 0M492.9 479.5a2.1 2.1 0 1 0 4.2 0a2.1 2.1 0 1 0 -4.2 0M493.0 480.4a2.1 2.1 0 1 0 4.2 0a2.1 2.1 0 1 0 -4.2 0M493.1 480.3a2.1 2.1 0 1 0 4.2 0a2.1 2.1 0 1 0 -4.2 0M493.2 481.1a2.1 2.1 0 1 0 4.2 0a2.1 2.1 0 1 0 -4.2 0M493.4 479.0a2.1 2.1 0 1 0 4.2 0a2.1 2.1 0 1 0 -4.2 0M493.5 479.9a2.1 2.1 0 1 0 4.2 0a2.1 2.1 0 1 0 -4.2 0M493.6 479.0a2.1 2.1 0 1 0 4.2 0a2.1 2.1 0 1 0 -4.2 0M493.7 479.7a2.1 2.1 0 1 0 4.2 0a2.1 2.1 0 1 0 -4.2 0M493.9 479.2a2.1 2.1 0 1 0 4.2 0a2.1 2.1 0 1 0 -4.2 0M494.0 480.6a2.1 2.1 0 1 0 4.2 0a2.1 2.1 0 1 0 -4.2 0M494.1 479.9a2.1 2.1 0 1 0 4.2 0a2.1 2.1 0 1 0 -4.2 0M494.2 478.5a2.1 2.1 0 1 0 4.2 0a2.1 2.1 0 1 0 -4.2 0M494.4 481.4a2.1 2.1 0 1 0 4.2 0a2.1 2.1 0 1 0 -4.2 0M494.5 479.7a2.1 2.1 0 1 0 4.2 0a2.1 2.1 0 1 0 -4.2 0M494.6 479.3a2.1 2.1 0 1 0 4.2 0a2.1 2.1 0 1 0 -4.2 0M494.7 480.3a2.1 2.1 0 1 0 4.2 0a2.1 2.1 0 1 0 -4.2 0M494.9 480.1a2.1 2.1 0 1 0 4.2 0a2.1 2.1 0 1 0 -4.2 0M495.0 479.8a2.1 2.1 0 1 0 4.2 0a2.1 2.1 0 1 0 -4.2 0M495.1 481.3a2.1 2.1 0 1 0 4.2 0a2.1 2.1 0 1 0 -4.2 0M495.2 480.5a2.1 2.1 0 1 0 4.2 0a2.1 2.1 0 1 0 -4.2 0M495.4 481.5a2.1 2.1 0 1 0 4.2 0a2.1 2.1 0 1 0 -4.2 0M495.5 481.4a2.1 2.1 0 1 0 4.2 0a2.1 2.1 0 1 0 -4.2 0M495.6 481.4a2.1 2.1 0 1 0 4.2 0a2.1 2.1 0 1 0 -4.2 0M495.7 481.1a2.1 2.1 0 1 0 4.2 0a2.1 2.1 0 1 0 -4.2 0M495.9 481.0a2.1 2.1 0 1 0 4.2 0a2.1 2.1 0 1 0 -4.2 0M496.0 480.9a2.1 2.1 0 1 0 4.2 0a2.1 2.1 0 1 0 -4.2 0M496.1 482.4a2.1 2.1 0 1 0 4.2 0a2.1 2.1 0 1 0 -4.2 0M496.2 480.0a2.1 2.1 0 1 0 4.2 0a2.1 2.1 0 1 0 -4.2 0M496.4 480.7a2.1 2.1 0 1 0 4.2 0a2.1 2.1 0 1 0 -4.2 0M496.5 455.6a2.1 2.1 0 1 0 4.2 0a2.1 2.1 0 1 0 -4.2 0M496.6 482.2a2.1 2.1 0 1 0 4.2 0a2.1 2.1 0 1 0 -4.2 0M496.7 482.2a2.1 2.1 0 1 0 4.2 0a2.1 2.1 0 1 0 -4.2 0M496.9 481.9a2.1 2.1 0 1 0 4.2 0a2.1 2.1 0 1 0 -4.2 0M497.0 482.3a2.1 2.1 0 1 0 4.2 0a2.1 2.1 0 1 0 -4.2 0M497.1 484.1a2.1 2.1 0 1 0 4.2 0a2.1 2.1 0 1 0 -4.2 0M497.2 482.5a2.1 2.1 0 1 0 4.2 0a2.1 2.1 0 1 0 -4.2 0M497.4 456.2a2.1 2.1 0 1 0 4.2 0a2.1 2.1 0 1 0 -4.2 0M497.5 433.1a2.1 2.1 0 1 0 4.2 0a2.1 2.1 0 1 0 -4.2 0M497.6 459.8a2.1 2.1 0 1 0 4.2 0a2.1 2.1 0 1 0 -4.2 0M497.7 483.9a2.1 2.1 0 1 0 4.2 0a2.1 2.1 0 1 0 -4.2 0M497.9 484.6a2.1 2.1 0 1 0 4.2 0a2.1 2.1 0 1 0 -4.2 0M498.0 483.8a2.1 2.1 0 1 0 4.2 0a2.1 2.1 0 1 0 -4.2 0M498.1 486.1a2.1 2.1 0 1 0 4.2 0a2.1 2.1 0 1 0 -4.2 0M498.2 485.4a2.1 2.1 0 1 0 4.2 0a2.1 2.1 0 1 0 -4.2 0M498.4 484.8a2.1 2.1 0 1 0 4.2 0a2.1 2.1 0 1 0 -4.2 0M498.5 486.5a2.1 2.1 0 1 0 4.2 0a2.1 2.1 0 1 0 -4.2 0M498.6 487.0a2.1 2.1 0 1 0 4.2 0a2.1 2.1 0 1 0 -4.2 0M498.7 487.0a2.1 2.1 0 1 0 4.2 0a2.1 2.1 0 1 0 -4.2 0M498.9 487.8a2.1 2.1 0 1 0 4.2 0a2.1 2.1 0 1 0 -4.2 0M499.0 486.7a2.1 2.1 0 1 0 4.2 0a2.1 2.1 0 1 0 -4.2 0M499.1 489.0a2.1 2.1 0 1 0 4.2 0a2.1 2.1 0 1 0 -4.2 0M499.2 488.1a2.1 2.1 0 1 0 4.2 0a2.1 2.1 0 1 0 -4.2 0M499.4 490.1a2.1 2.1 0 1 0 4.2 0a2.1 2.1 0 1 0 -4.2 0M499.5 489.1a2.1 2.1 0 1 0 4.2 0a2.1 2.1 0 1 0 -4.2 0M499.6 490.1a2.1 2.1 0 1 0 4.2 0a2.1 2.1 0 1 0 -4.2 0M499.7 492.5a2.1 2.1 0 1 0 4.2 0a2.1 2.1 0 1 0 -4.2 0M499.9 491.0a2.1 2.1 0 1 0 4.2 0a2.1 2.1 0 1 0 -4.2 0M500.0 492.3a2.1 2.1 0 1 0 4.2 0a2.1 2.1 0 1 0 -4.2 0M500.1 492.3a2.1 2.1 0 1 0 4.2 0a2.1 2.1 0 1 0 -4.2 0M500.2 491.2a2.1 2.1 0 1 0 4.2 0a2.1 2.1 0 1 0 -4.2 0M500.4 493.7a2.1 2.1 0 1 0 4.2 0a2.1 2.1 0 1 0 -4.2 0M500.5 494.2a2.1 2.1 0 1 0 4.2 0a2.1 2.1 0 1 0 -4.2 0M500.6 492.8a2.1 2.1 0 1 0 4.2 0a2.1 2.1 0 1 0 -4.2 0M500.7 494.3a2.1 2.1 0 1 0 4.2 0a2.1 2.1 0 1 0 -4.2 0M500.9 493.7a2.1 2.1 0 1 0 4.2 0a2.1 2.1 0 1 0 -4.2 0M501.0 495.1a2.1 2.1 0 1 0 4.2 0a2.1 2.1 0 1 0 -4.2 0M501.1 496.5a2.1 2.1 0 1 0 4.2 0a2.1 2.1 0 1 0 -4.2 0M501.2 496.4a2.1 2.1 0 1 0 4.2 0a2.1 2.1 0 1 0 -4.2 0M501.4 496.0a2.1 2.1 0 1 0 4.2 0a2.1 2.1 0 1 0 -4.2 0M501.5 496.7a2.1 2.1 0 1 0 4.2 0a2.1 2.1 0 1 0 -4.2 0M501.6 497.9a2.1 2.1 0 1 0 4.2 0a2.1 2.1 0 1 0 -4.2 0M501.7 498.4a2.1 2.1 0 1 0 4.2 0a2.1 2.1 0 1 0 -4.2 0M501.9 499.0a2.1 2.1 0 1 0 4.2 0a2.1 2.1 0 1 0 -4.2 0M502.0 499.9a2.1 2.1 0 1 0 4.2 0a2.1 2.1 0 1 0 -4.2 0M502.1 539.0a2.1 2.1 0 1 0 4.2 0a2.1 2.1 0 1 0 -4.2 0M502.2 543.9a2.1 2.1 0 1 0 4.2 0a2.1 2.1 0 1 0 -4.2 0M502.4 501.8a2.1 2.1 0 1 0 4.2 0a2.1 2.1 0 1 0 -4.2 0M502.5 553.6a2.1 2.1 0 1 0 4.2 0a2.1 2.1 0 1 0 -4.2 0M502.6 528.2a2.1 2.1 0 1 0 4.2 0a2.1 2.1 0 1 0 -4.2 0M502.7 502.0a2.1 2.1 0 1 0 4.2 0a2.1 2.1 0 1 0 -4.2 0M502.9 513.6a2.1 2.1 0 1 0 4.2 0a2.1 2.1 0 1 0 -4.2 0M503.0 504.0a2.1 2.1 0 1 0 4.2 0a2.1 2.1 0 1 0 -4.2 0M503.1 549.7a2.1 2.1 0 1 0 4.2 0a2.1 2.1 0 1 0 -4.2 0M503.2 497.9a2.1 2.1 0 1 0 4.2 0a2.1 2.1 0 1 0 -4.2 0M503.4 506.2a2.1 2.1 0 1 0 4.2 0a2.1 2.1 0 1 0 -4.2 0M503.5 502.5a2.1 2.1 0 1 0 4.2 0a2.1 2.1 0 1 0 -4.2 0M503.6 541.1a2.1 2.1 0 1 0 4.2 0a2.1 2.1 0 1 0 -4.2 0M503.7 537.0a2.1 2.1 0 1 0 4.2 0a2.1 2.1 0 1 0 -4.2 0M503.9 508.7a2.1 2.1 0 1 0 4.2 0a2.1 2.1 0 1 0 -4.2 0M504.0 505.0a2.1 2.1 0 1 0 4.2 0a2.1 2.1 0 1 0 -4.2 0M504.1 528.7a2.1 2.1 0 1 0 4.2 0a2.1 2.1 0 1 0 -4.2 0M504.2 521.4a2.1 2.1 0 1 0 4.2 0a2.1 2.1 0 1 0 -4.2 0M504.4 539.7a2.1 2.1 0 1 0 4.2 0a2.1 2.1 0 1 0 -4.2 0M504.5 512.6a2.1 2.1 0 1 0 4.2 0a2.1 2.1 0 1 0 -4.2 0M504.6 551.0a2.1 2.1 0 1 0 4.2 0a2.1 2.1 0 1 0 -4.2 0M504.7 522.7a2.1 2.1 0 1 0 4.2 0a2.1 2.1 0 1 0 -4.2 0M504.9 515.2a2.1 2.1 0 1 0 4.2 0a2.1 2.1 0 1 0 -4.2 0M505.0 515.1a2.1 2.1 0 1 0 4.2 0a2.1 2.1 0 1 0 -4.2 0M505.1 515.8a2.1 2.1 0 1 0 4.2 0a2.1 2.1 0 1 0 -4.2 0M505.3 519.4a2.1 2.1 0 1 0 4.2 0a2.1 2.1 0 1 0 -4.2 0M505.4 508.4a2.1 2.1 0 1 0 4.2 0a2.1 2.1 0 1 0 -4.2 0M505.5 509.2a2.1 2.1 0 1 0 4.2 0a2.1 2.1 0 1 0 -4.2 0M505.6 537.7a2.1 2.1 0 1 0 4.2 0a2.1 2.1 0 1 0 -4.2 0M505.8 514.6a2.1 2.1 0 1 0 4.2 0a2.1 2.1 0 1 0 -4.2 0M505.9 517.1a2.1 2.1 0 1 0 4.2 0a2.1 2.1 0 1 0 -4.2 0M506.0 511.9a2.1 2.1 0 1 0 4.2 0a2.1 2.1 0 1 0 -4.2 0M506.1 515.7a2.1 2.1 0 1 0 4.2 0a2.1 2.1 0 1 0 -4.2 0M506.3 508.4a2.1 2.1 0 1 0 4.2 0a2.1 2.1 0 1 0 -4.2 0M506.4 514.3a2.1 2.1 0 1 0 4.2 0a2.1 2.1 0 1 0 -4.2 0M506.5 530.6a2.1 2.1 0 1 0 4.2 0a2.1 2.1 0 1 0 -4.2 0M506.6 527.3a2.1 2.1 0 1 0 4.2 0a2.1 2.1 0 1 0 -4.2 0M506.8 546.2a2.1 2.1 0 1 0 4.2 0a2.1 2.1 0 1 0 -4.2 0M506.9 512.9a2.1 2.1 0 1 0 4.2 0a2.1 2.1 0 1 0 -4.2 0M507.0 487.8a2.1 2.1 0 1 0 4.2 0a2.1 2.1 0 1 0 -4.2 0M507.1 525.8a2.1 2.1 0 1 0 4.2 0a2.1 2.1 0 1 0 -4.2 0M507.3 516.0a2.1 2.1 0 1 0 4.2 0a2.1 2.1 0 1 0 -4.2 0M507.4 525.0a2.1 2.1 0 1 0 4.2 0a2.1 2.1 0 1 0 -4.2 0M507.5 494.2a2.1 2.1 0 1 0 4.2 0a2.1 2.1 0 1 0 -4.2 0M507.6 514.5a2.1 2.1 0 1 0 4.2 0a2.1 2.1 0 1 0 -4.2 0M507.8 508.3a2.1 2.1 0 1 0 4.2 0a2.1 2.1 0 1 0 -4.2 0M507.9 554.5a2.1 2.1 0 1 0 4.2 0a2.1 2.1 0 1 0 -4.2 0M508.0 515.5a2.1 2.1 0 1 0 4.2 0a2.1 2.1 0 1 0 -4.2 0M508.1 515.3a2.1 2.1 0 1 0 4.2 0a2.1 2.1 0 1 0 -4.2 0M508.3 515.0a2.1 2.1 0 1 0 4.2 0a2.1 2.1 0 1 0 -4.2 0M508.4 514.8a2.1 2.1 0 1 0 4.2 0a2.1 2.1 0 1 0 -4.2 0M508.5 513.7a2.1 2.1 0 1 0 4.2 0a2.1 2.1 0 1 0 -4.2 0M508.6 514.3a2.1 2.1 0 1 0 4.2 0a2.1 2.1 0 1 0 -4.2 0M508.8 513.2a2.1 2.1 0 1 0 4.2 0a2.1 2.1 0 1 0 -4.2 0M508.9 512.6a2.1 2.1 0 1 0 4.2 0a2.1 2.1 0 1 0 -4.2 0M509.0 513.0a2.1 2.1 0 1 0 4.2 0a2.1 2.1 0 1 0 -4.2 0M509.1 511.9a2.1 2.1 0 1 0 4.2 0a2.1 2.1 0 1 0 -4.2 0M509.3 510.3a2.1 2.1 0 1 0 4.2 0a2.1 2.1 0 1 0 -4.2 0M509.4 510.8a2.1 2.1 0 1 0 4.2 0a2.1 2.1 0 1 0 -4.2 0M509.5 510.9a2.1 2.1 0 1 0 4.2 0a2.1 2.1 0 1 0 -4.2 0M509.6 509.9a2.1 2.1 0 1 0 4.2 0a2.1 2.1 0 1 0 -4.2 0M509.8 509.9a2.1 2.1 0 1 0 4.2 0a2.1 2.1 0 1 0 -4.2 0M509.9 508.4a2.1 2.1 0 1 0 4.2 0a2.1 2.1 0 1 0 -4.2 0M510.0 507.3a2.1 2.1 0 1 0 4.2 0a2.1 2.1 0 1 0 -4.2 0M510.1 507.9a2.1 2.1 0 1 0 4.2 0a2.1 2.1 0 1 0 -4.2 0M510.3 506.7a2.1 2.1 0 1 0 4.2 0a2.1 2.1 0 1 0 -4.2 0M510.4 505.0a2.1 2.1 0 1 0 4.2 0a2.1 2.1 0 1 0 -4.2 0M510.5 505.5a2.1 2.1 0 1 0 4.2 0a2.1 2.1 0 1 0 -4.2 0M510.6 504.2a2.1 2.1 0 1 0 4.2 0a2.1 2.1 0 1 0 -4.2 0M510.8 504.4a2.1 2.1 0 1 0 4.2 0a2.1 2.1 0 1 0 -4.2 0M510.9 503.5a2.1 2.1 0 1 0 4.2 0a2.1 2.1 0 1 0 -4.2 0M511.0 502.5a2.1 2.1 0 1 0 4.2 0a2.1 2.1 0 1 0 -4.2 0M511.1 499.7a2.1 2.1 0 1 0 4.2 0a2.1 2.1 0 1 0 -4.2 0M511.3 500.8a2.1 2.1 0 1 0 4.2 0a2.1 2.1 0 1 0 -4.2 0M511.4 500.1a2.1 2.1 0 1 0 4.2 0a2.1 2.1 0 1 0 -4.2 0M511.5 499.4a2.1 2.1 0 1 0 4.2 0a2.1 2.1 0 1 0 -4.2 0M511.6 498.3a2.1 2.1 0 1 0 4.2 0a2.1 2.1 0 1 0 -4.2 0M511.8 496.9a2.1 2.1 0 1 0 4.2 0a2.1 2.1 0 1 0 -4.2 0M511.9 496.5a2.1 2.1 0 1 0 4.2 0a2.1 2.1 0 1 0 -4.2 0M512.0 494.4a2.1 2.1 0 1 0 4.2 0a2.1 2.1 0 1 0 -4.2 0M512.1 495.0a2.1 2.1 0 1 0 4.2 0a2.1 2.1 0 1 0 -4.2 0M512.3 493.3a2.1 2.1 0 1 0 4.2 0a2.1 2.1 0 1 0 -4.2 0M512.4 493.5a2.1 2.1 0 1 0 4.2 0a2.1 2.1 0 1 0 -4.2 0M512.5 492.5a2.1 2.1 0 1 0 4.2 0a2.1 2.1 0 1 0 -4.2 0M512.6 493.4a2.1 2.1 0 1 0 4.2 0a2.1 2.1 0 1 0 -4.2 0M512.8 491.7a2.1 2.1 0 1 0 4.2 0a2.1 2.1 0 1 0 -4.2 0M512.9 491.1a2.1 2.1 0 1 0 4.2 0a2.1 2.1 0 1 0 -4.2 0M513.0 490.6a2.1 2.1 0 1 0 4.2 0a2.1 2.1 0 1 0 -4.2 0M513.1 491.4a2.1 2.1 0 1 0 4.2 0a2.1 2.1 0 1 0 -4.2 0M513.3 488.6a2.1 2.1 0 1 0 4.2 0a2.1 2.1 0 1 0 -4.2 0M513.4 489.0a2.1 2.1 0 1 0 4.2 0a2.1 2.1 0 1 0 -4.2 0M513.5 488.6a2.1 2.1 0 1 0 4.2 0a2.1 2.1 0 1 0 -4.2 0M513.6 488.0a2.1 2.1 0 1 0 4.2 0a2.1 2.1 0 1 0 -4.2 0M513.8 519.6a2.1 2.1 0 1 0 4.2 0a2.1 2.1 0 1 0 -4.2 0M513.9 463.4a2.1 2.1 0 1 0 4.2 0a2.1 2.1 0 1 0 -4.2 0M514.0 517.5a2.1 2.1 0 1 0 4.2 0a2.1 2.1 0 1 0 -4.2 0M514.1 502.5a2.1 2.1 0 1 0 4.2 0a2.1 2.1 0 1 0 -4.2 0M514.3 473.6a2.1 2.1 0 1 0 4.2 0a2.1 2.1 0 1 0 -4.2 0M514.4 499.9a2.1 2.1 0 1 0 4.2 0a2.1 2.1 0 1 0 -4.2 0M514.5 510.9a2.1 2.1 0 1 0 4.2 0a2.1 2.1 0 1 0 -4.2 0M514.6 456.8a2.1 2.1 0 1 0 4.2 0a2.1 2.1 0 1 0 -4.2 0M514.8 485.4a2.1 2.1 0 1 0 4.2 0a2.1 2.1 0 1 0 -4.2 0M514.9 509.2a2.1 2.1 0 1 0 4.2 0a2.1 2.1 0 1 0 -4.2 0M515.0 523.8a2.1 2.1 0 1 0 4.2 0a2.1 2.1 0 1 0 -4.2 0M515.1 525.4a2.1 2.1 0 1 0 4.2 0a2.1 2.1 0 1 0 -4.2 0M515.3 474.2a2.1 2.1 0 1 0 4.2 0a2.1 2.1 0 1 0 -4.2 0M515.4 485.3a2.1 2.1 0 1 0 4.2 0a2.1 2.1 0 1 0 -4.2 0M515.5 479.4a2.1 2.1 0 1 0 4.2 0a2.1 2.1 0 1 0 -4.2 0M515.6 492.0a2.1 2.1 0 1 0 4.2 0a2.1 2.1 0 1 0 -4.2 0M515.8 494.4a2.1 2.1 0 1 0 4.2 0a2.1 2.1 0 1 0 -4.2 0M515.9 476.7a2.1 2.1 0 1 0 4.2 0a2.1 2.1 0 1 0 -4.2 0M516.0 507.7a2.1 2.1 0 1 0 4.2 0a2.1 2.1 0 1 0 -4.2 0M516.1 452.2a2.1 2.1 0 1 0 4.2 0a2.1 2.1 0 1 0 -4.2 0M516.3 521.3a2.1 2.1 0 1 0 4.2 0a2.1 2.1 0 1 0 -4.2 0M516.4 489.4a2.1 2.1 0 1 0 4.2 0a2.1 2.1 0 1 0 -4.2 0M516.5 508.2a2.1 2.1 0 1 0 4.2 0a2.1 2.1 0 1 0 -4.2 0M516.6 487.7a2.1 2.1 0 1 0 4.2 0a2.1 2.1 0 1 0 -4.2 0M516.8 473.2a2.1 2.1 0 1 0 4.2 0a2.1 2.1 0 1 0 -4.2 0M516.9 476.4a2.1 2.1 0 1 0 4.2 0a2.1 2.1 0 1 0 -4.2 0M517.0 501.5a2.1 2.1 0 1 0 4.2 0a2.1 2.1 0 1 0 -4.2 0M517.1 499.4a2.1 2.1 0 1 0 4.2 0a2.1 2.1 0 1 0 -4.2 0M517.3 493.1a2.1 2.1 0 1 0 4.2 0a2.1 2.1 0 1 0 -4.2 0M517.4 489.4a2.1 2.1 0 1 0 4.2 0a2.1 2.1 0 1 0 -4.2 0M517.5 521.0a2.1 2.1 0 1 0 4.2 0a2.1 2.1 0 1 0 -4.2 0M517.6 455.4a2.1 2.1 0 1 0 4.2 0a2.1 2.1 0 1 0 -4.2 0M517.8 506.1a2.1 2.1 0 1 0 4.2 0a2.1 2.1 0 1 0 -4.2 0M517.9 467.7a2.1 2.1 0 1 0 4.2 0a2.1 2.1 0 1 0 -4.2 0M518.0 474.7a2.1 2.1 0 1 0 4.2 0a2.1 2.1 0 1 0 -4.2 0M518.1 453.6a2.1 2.1 0 1 0 4.2 0a2.1 2.1 0 1 0 -4.2 0M518.3 518.3a2.1 2.1 0 1 0 4.2 0a2.1 2.1 0 1 0 -4.2 0M518.4 490.2a2.1 2.1 0 1 0 4.2 0a2.1 2.1 0 1 0 -4.2 0M518.5 457.9a2.1 2.1 0 1 0 4.2 0a2.1 2.1 0 1 0 -4.2 0M518.6 514.6a2.1 2.1 0 1 0 4.2 0a2.1 2.1 0 1 0 -4.2 0M518.8 512.9a2.1 2.1 0 1 0 4.2 0a2.1 2.1 0 1 0 -4.2 0M518.9 478.3a2.1 2.1 0 1 0 4.2 0a2.1 2.1 0 1 0 -4.2 0M519.0 472.1a2.1 2.1 0 1 0 4.2 0a2.1 2.1 0 1 0 -4.2 0M519.2 500.1a2.1 2.1 0 1 0 4.2 0a2.1 2.1 0 1 0 -4.2 0M519.3 513.8a2.1 2.1 0 1 0 4.2 0a2.1 2.1 0 1 0 -4.2 0M519.4 493.9a2.1 2.1 0 1 0 4.2 0a2.1 2.1 0 1 0 -4.2 0M519.5 469.9a2.1 2.1 0 1 0 4.2 0a2.1 2.1 0 1 0 -4.2 0M519.7 481.2a2.1 2.1 0 1 0 4.2 0a2.1 2.1 0 1 0 -4.2 0M519.8 487.3a2.1 2.1 0 1 0 4.2 0a2.1 2.1 0 1 0 -4.2 0M519.9 493.8a2.1 2.1 0 1 0 4.2 0a2.1 2.1 0 1 0 -4.2 0M520.0 488.7a2.1 2.1 0 1 0 4.2 0a2.1 2.1 0 1 0 -4.2 0M520.2 481.2a2.1 2.1 0 1 0 4.2 0a2.1 2.1 0 1 0 -4.2 0M520.3 504.0a2.1 2.1 0 1 0 4.2 0a2.1 2.1 0 1 0 -4.2 0M520.4 491.2a2.1 2.1 0 1 0 4.2 0a2.1 2.1 0 1 0 -4.2 0M520.5 473.9a2.1 2.1 0 1 0 4.2 0a2.1 2.1 0 1 0 -4.2 0M520.7 495.7a2.1 2.1 0 1 0 4.2 0a2.1 2.1 0 1 0 -4.2 0M520.8 499.6a2.1 2.1 0 1 0 4.2 0a2.1 2.1 0 1 0 -4.2 0M520.9 485.9a2.1 2.1 0 1 0 4.2 0a2.1 2.1 0 1 0 -4.2 0M521.0 497.0a2.1 2.1 0 1 0 4.2 0a2.1 2.1 0 1 0 -4.2 0M521.2 497.4a2.1 2.1 0 1 0 4.2 0a2.1 2.1 0 1 0 -4.2 0M521.3 499.5a2.1 2.1 0 1 0 4.2 0a2.1 2.1 0 1 0 -4.2 0M521.4 498.3a2.1 2.1 0 1 0 4.2 0a2.1 2.1 0 1 0 -4.2 0M521.5 498.1a2.1 2.1 0 1 0 4.2 0a2.1 2.1 0 1 0 -4.2 0M521.7 499.5a2.1 2.1 0 1 0 4.2 0a2.1 2.1 0 1 0 -4.2 0M521.8 499.1a2.1 2.1 0 1 0 4.2 0a2.1 2.1 0 1 0 -4.2 0M521.9 501.3a2.1 2.1 0 1 0 4.2 0a2.1 2.1 0 1 0 -4.2 0M522.0 499.4a2.1 2.1 0 1 0 4.2 0a2.1 2.1 0 1 0 -4.2 0M522.2 500.6a2.1 2.1 0 1 0 4.2 0a2.1 2.1 0 1 0 -4.2 0M522.3 499.8a2.1 2.1 0 1 0 4.2 0a2.1 2.1 0 1 0 -4.2 0M522.4 502.1a2.1 2.1 0 1 0 4.2 0a2.1 2.1 0 1 0 -4.2 0M522.5 500.6a2.1 2.1 0 1 0 4.2 0a2.1 2.1 0 1 0 -4.2 0M522.7 501.5a2.1 2.1 0 1 0 4.2 0a2.1 2.1 0 1 0 -4.2 0M522.8 501.1a2.1 2.1 0 1 0 4.2 0a2.1 2.1 0 1 0 -4.2 0M522.9 502.6a2.1 2.1 0 1 0 4.2 0a2.1 2.1 0 1 0 -4.2 0M523.0 502.7a2.1 2.1 0 1 0 4.2 0a2.1 2.1 0 1 0 -4.2 0M523.2 500.8a2.1 2.1 0 1 0 4.2 0a2.1 2.1 0 1 0 -4.2 0M523.3 503.4a2.1 2.1 0 1 0 4.2 0a2.1 2.1 0 1 0 -4.2 0M523.4 503.5a2.1 2.1 0 1 0 4.2 0a2.1 2.1 0 1 0 -4.2 0M523.5 503.5a2.1 2.1 0 1 0 4.2 0a2.1 2.1 0 1 0 -4.2 0M523.7 504.2a2.1 2.1 0 1 0 4.2 0a2.1 2.1 0 1 0 -4.2 0M523.8 502.9a2.1 2.1 0 1 0 4.2 0a2.1 2.1 0 1 0 -4.2 0M523.9 502.7a2.1 2.1 0 1 0 4.2 0a2.1 2.1 0 1 0 -4.2 0M524.0 504.7a2.1 2.1 0 1 0 4.2 0a2.1 2.1 0 1 0 -4.2 0M524.2 505.7a2.1 2.1 0 1 0 4.2 0a2.1 2.1 0 1 0 -4.2 0M524.3 503.8a2.1 2.1 0 1 0 4.2 0a2.1 2.1 0 1 0 -4.2 0M524.4 504.1a2.1 2.1 0 1 0 4.2 0a2.1 2.1 0 1 0 -4.2 0M524.5 504.5a2.1 2.1 0 1 0 4.2 0a2.1 2.1 0 1 0 -4.2 0M524.7 504.5a2.1 2.1 0 1 0 4.2 0a2.1 2.1 0 1 0 -4.2 0M524.8 506.3a2.1 2.1 0 1 0 4.2 0a2.1 2.1 0 1 0 -4.2 0M524.9 506.0a2.1 2.1 0 1 0 4.2 0a2.1 2.1 0 1 0 -4.2 0M525.0 507.1a2.1 2.1 0 1 0 4.2 0a2.1 2.1 0 1 0 -4.2 0M525.2 507.4a2.1 2.1 0 1 0 4.2 0a2.1 2.1 0 1 0 -4.2 0M525.3 505.9a2.1 2.1 0 1 0 4.2 0a2.1 2.1 0 1 0 -4.2 0M525.4 507.4a2.1 2.1 0 1 0 4.2 0a2.1 2.1 0 1 0 -4.2 0M525.5 505.5a2.1 2.1 0 1 0 4.2 0a2.1 2.1 0 1 0 -4.2 0M525.7 507.4a2.1 2.1 0 1 0 4.2 0a2.1 2.1 0 1 0 -4.2 0M525.8 508.2a2.1 2.1 0 1 0 4.2 0a2.1 2.1 0 1 0 -4.2 0M525.9 507.4a2.1 2.1 0 1 0 4.2 0a2.1 2.1 0 1 0 -4.2 0M526.0 506.9a2.1 2.1 0 1 0 4.2 0a2.1 2.1 0 1 0 -4.2 0M526.2 508.1a2.1 2.1 0 1 0 4.2 0a2.1 2.1 0 1 0 -4.2 0M526.3 509.7a2.1 2.1 0 1 0 4.2 0a2.1 2.1 0 1 0 -4.2 0M526.4 508.8a2.1 2.1 0 1 0 4.2 0a2.1 2.1 0 1 0 -4.2 0M526.5 508.3a2.1 2.1 0 1 0 4.2 0a2.1 2.1 0 1 0 -4.2 0M526.7 509.9a2.1 2.1 0 1 0 4.2 0a2.1 2.1 0 1 0 -4.2 0M526.8 510.4a2.1 2.1 0 1 0 4.2 0a2.1 2.1 0 1 0 -4.2 0M526.9 509.4a2.1 2.1 0 1 0 4.2 0a2.1 2.1 0 1 0 -4.2 0M527.0 510.3a2.1 2.1 0 1 0 4.2 0a2.1 2.1 0 1 0 -4.2 0M527.2 511.5a2.1 2.1 0 1 0 4.2 0a2.1 2.1 0 1 0 -4.2 0M527.3 511.2a2.1 2.1 0 1 0 4.2 0a2.1 2.1 0 1 0 -4.2 0M527.4 511.8a2.1 2.1 0 1 0 4.2 0a2.1 2.1 0 1 0 -4.2 0M527.5 511.3a2.1 2.1 0 1 0 4.2 0a2.1 2.1 0 1 0 -4.2 0M527.7 511.7a2.1 2.1 0 1 0 4.2 0a2.1 2.1 0 1 0 -4.2 0M527.8 511.2a2.1 2.1 0 1 0 4.2 0a2.1 2.1 0 1 0 -4.2 0M527.9 511.8a2.1 2.1 0 1 0 4.2 0a2.1 2.1 0 1 0 -4.2 0M528.0 513.7a2.1 2.1 0 1 0 4.2 0a2.1 2.1 0 1 0 -4.2 0M528.2 512.5a2.1 2.1 0 1 0 4.2 0a2.1 2.1 0 1 0 -4.2 0M528.3 499.4a2.1 2.1 0 1 0 4.2 0a2.1 2.1 0 1 0 -4.2 0M528.4 537.5a2.1 2.1 0 1 0 4.2 0a2.1 2.1 0 1 0 -4.2 0M528.5 488.5a2.1 2.1 0 1 0 4.2 0a2.1 2.1 0 1 0 -4.2 0M528.7 514.3a2.1 2.1 0 1 0 4.2 0a2.1 2.1 0 1 0 -4.2 0M528.8 501.6a2.1 2.1 0 1 0 4.2 0a2.1 2.1 0 1 0 -4.2 0M528.9 513.7a2.1 2.1 0 1 0 4.2 0a2.1 2.1 0 1 0 -4.2 0M529.0 491.6a2.1 2.1 0 1 0 4.2 0a2.1 2.1 0 1 0 -4.2 0M529.2 495.9a2.1 2.1 0 1 0 4.2 0a2.1 2.1 0 1 0 -4.2 0M529.3 509.4a2.1 2.1 0 1 0 4.2 0a2.1 2.1 0 1 0 -4.2 0M529.4 515.9a2.1 2.1 0 1 0 4.2 0a2.1 2.1 0 1 0 -4.2 0M529.5 502.4a2.1 2.1 0 1 0 4.2 0a2.1 2.1 0 1 0 -4.2 0M529.7 516.9a2.1 2.1 0 1 0 4.2 0a2.1 2.1 0 1 0 -4.2 0M529.8 528.1a2.1 2.1 0 1 0 4.2 0a2.1 2.1 0 1 0 -4.2 0M529.9 517.1a2.1 2.1 0 1 0 4.2 0a2.1 2.1 0 1 0 -4.2 0M530.0 516.8a2.1 2.1 0 1 0 4.2 0a2.1 2.1 0 1 0 -4.2 0M530.2 535.6a2.1 2.1 0 1 0 4.2 0a2.1 2.1 0 1 0 -4.2 0M530.3 518.6a2.1 2.1 0 1 0 4.2 0a2.1 2.1 0 1 0 -4.2 0M530.4 530.6a2.1 2.1 0 1 0 4.2 0a2.1 2.1 0 1 0 -4.2 0M530.5 517.9a2.1 2.1 0 1 0 4.2 0a2.1 2.1 0 1 0 -4.2 0M530.7 527.4a2.1 2.1 0 1 0 4.2 0a2.1 2.1 0 1 0 -4.2 0M530.8 504.1a2.1 2.1 0 1 0 4.2 0a2.1 2.1 0 1 0 -4.2 0M530.9 518.4a2.1 2.1 0 1 0 4.2 0a2.1 2.1 0 1 0 -4.2 0M531.0 505.5a2.1 2.1 0 1 0 4.2 0a2.1 2.1 0 1 0 -4.2 0M531.2 516.2a2.1 2.1 0 1 0 4.2 0a2.1 2.1 0 1 0 -4.2 0M531.3 521.8a2.1 2.1 0 1 0 4.2 0a2.1 2.1 0 1 0 -4.2 0M531.4 488.8a2.1 2.1 0 1 0 4.2 0a2.1 2.1 0 1 0 -4.2 0M531.5 477.8a2.1 2.1 0 1 0 4.2 0a2.1 2.1 0 1 0 -4.2 0M531.7 511.3a2.1 2.1 0 1 0 4.2 0a2.1 2.1 0 1 0 -4.2 0M531.8 539.1a2.1 2.1 0 1 0 4.2 0a2.1 2.1 0 1 0 -4.2 0M531.9 518.1a2.1 2.1 0 1 0 4.2 0a2.1 2.1 0 1 0 -4.2 0M532.0 490.4a2.1 2.1 0 1 0 4.2 0a2.1 2.1 0 1 0 -4.2 0M532.2 493.0a2.1 2.1 0 1 0 4.2 0a2.1 2.1 0 1 0 -4.2 0M532.3 520.3a2.1 2.1 0 1 0 4.2 0a2.1 2.1 0 1 0 -4.2 0M532.4 520.1a2.1 2.1 0 1 0 4.2 0a2.1 2.1 0 1 0 -4.2 0M532.5 504.5a2.1 2.1 0 1 0 4.2 0a2.1 2.1 0 1 0 -4.2 0M532.7 512.0a2.1 2.1 0 1 0 4.2 0a2.1 2.1 0 1 0 -4.2 0M532.8 485.8a2.1 2.1 0 1 0 4.2 0a2.1 2.1 0 1 0 -4.2 0M532.9 520.2a2.1 2.1 0 1 0 4.2 0a2.1 2.1 0 1 0 -4.2 0M533.0 502.9a2.1 2.1 0 1 0 4.2 0a2.1 2.1 0 1 0 -4.2 0M533.2 493.3a2.1 2.1 0 1 0 4.2 0a2.1 2.1 0 1 0 -4.2 0M533.3 474.3a2.1 2.1 0 1 0 4.2 0a2.1 2.1 0 1 0 -4.2 0M533.4 525.2a2.1 2.1 0 1 0 4.2 0a2.1 2.1 0 1 0 -4.2 0M533.6 519.8a2.1 2.1 0 1 0 4.2 0a2.1 2.1 0 1 0 -4.2 0M533.7 506.4a2.1 2.1 0 1 0 4.2 0a2.1 2.1 0 1 0 -4.2 0M533.8 538.5a2.1 2.1 0 1 0 4.2 0a2.1 2.1 0 1 0 -4.2 0M533.9 505.5a2.1 2.1 0 1 0 4.2 0a2.1 2.1 0 1 0 -4.2 0M534.1 518.0a2.1 2.1 0 1 0 4.2 0a2.1 2.1 0 1 0 -4.2 0M534.2 506.7a2.1 2.1 0 1 0 4.2 0a2.1 2.1 0 1 0 -4.2 0M534.3 521.5a2.1 2.1 0 1 0 4.2 0a2.1 2.1 0 1 0 -4.2 0M534.4 515.1a2.1 2.1 0 1 0 4.2 0a2.1 2.1 0 1 0 -4.2 0M534.6 519.9a2.1 2.1 0 1 0 4.2 0a2.1 2.1 0 1 0 -4.2 0M534.7 511.8a2.1 2.1 0 1 0 4.2 0a2.1 2.1 0 1 0 -4.2 0M534.8 516.3a2.1 2.1 0 1 0 4.2 0a2.1 2.1 0 1 0 -4.2 0M534.9 520.8a2.1 2.1 0 1 0 4.2 0a2.1 2.1 0 1 0 -4.2 0M535.1 520.3a2.1 2.1 0 1 0 4.2 0a2.1 2.1 0 1 0 -4.2 0M535.2 521.3a2.1 2.1 0 1 0 4.2 0a2.1 2.1 0 1 0 -4.2 0M535.3 497.3a2.1 2.1 0 1 0 4.2 0a2.1 2.1 0 1 0 -4.2 0M535.4 516.7a2.1 2.1 0 1 0 4.2 0a2.1 2.1 0 1 0 -4.2 0M535.6 520.5a2.1 2.1 0 1 0 4.2 0a2.1 2.1 0 1 0 -4.2 0M535.7 520.9a2.1 2.1 0 1 0 4.2 0a2.1 2.1 0 1 0 -4.2 0M535.8 520.6a2.1 2.1 0 1 0 4.2 0a2.1 2.1 0 1 0 -4.2 0M535.9 519.3a2.1 2.1 0 1 0 4.2 0a2.1 2.1 0 1 0 -4.2 0M536.1 520.2a2.1 2.1 0 1 0 4.2 0a2.1 2.1 0 1 0 -4.2 0M536.2 519.2a2.1 2.1 0 1 0 4.2 0a2.1 2.1 0 1 0 -4.2 0M536.3 518.3a2.1 2.1 0 1 0 4.2 0a2.1 2.1 0 1 0 -4.2 0M536.4 518.2a2.1 2.1 0 1 0 4.2 0a2.1 2.1 0 1 0 -4.2 0M536.6 517.6a2.1 2.1 0 1 0 4.2 0a2.1 2.1 0 1 0 -4.2 0M536.7 518.8a2.1 2.1 0 1 0 4.2 0a2.1 2.1 0 1 0 -4.2 0M536.8 519.1a2.1 2.1 0 1 0 4.2 0a2.1 2.1 0 1 0 -4.2 0M536.9 517.4a2.1 2.1 0 1 0 4.2 0a2.1 2.1 0 1 0 -4.2 0M537.1 517.7a2.1 2.1 0 1 0 4.2 0a2.1 2.1 0 1 0 -4.2 0M537.2 516.9a2.1 2.1 0 1 0 4.2 0a2.1 2.1 0 1 0 -4.2 0M537.3 517.5a2.1 2.1 0 1 0 4.2 0a2.1 2.1 0 1 0 -4.2 0M537.4 516.4a2.1 2.1 0 1 0 4.2 0a2.1 2.1 0 1 0 -4.2 0M537.6 516.5a2.1 2.1 0 1 0 4.2 0a2.1 2.1 0 1 0 -4.2 0M537.7 516.4a2.1 2.1 0 1 0 4.2 0a2.1 2.1 0 1 0 -4.2 0M537.8 516.3a2.1 2.1 0 1 0 4.2 0a2.1 2.1 0 1 0 -4.2 0M537.9 516.2a2.1 2.1 0 1 0 4.2 0a2.1 2.1 0 1 0 -4.2 0M538.1 516.1a2.1 2.1 0 1 0 4.2 0a2.1 2.1 0 1 0 -4.2 0M538.2 515.9a2.1 2.1 0 1 0 4.2 0a2.1 2.1 0 1 0 -4.2 0M538.3 515.1a2.1 2.1 0 1 0 4.2 0a2.1 2.1 0 1 0 -4.2 0M538.4 516.1a2.1 2.1 0 1 0 4.2 0a2.1 2.1 0 1 0 -4.2 0M538.6 514.2a2.1 2.1 0 1 0 4.2 0a2.1 2.1 0 1 0 -4.2 0M538.7 515.4a2.1 2.1 0 1 0 4.2 0a2.1 2.1 0 1 0 -4.2 0M538.8 514.4a2.1 2.1 0 1 0 4.2 0a2.1 2.1 0 1 0 -4.2 0M538.9 515.0a2.1 2.1 0 1 0 4.2 0a2.1 2.1 0 1 0 -4.2 0M539.1 515.0a2.1 2.1 0 1 0 4.2 0a2.1 2.1 0 1 0 -4.2 0M539.2 513.1a2.1 2.1 0 1 0 4.2 0a2.1 2.1 0 1 0 -4.2 0M539.3 514.7a2.1 2.1 0 1 0 4.2 0a2.1 2.1 0 1 0 -4.2 0M539.4 515.3a2.1 2.1 0 1 0 4.2 0a2.1 2.1 0 1 0 -4.2 0M539.6 514.7a2.1 2.1 0 1 0 4.2 0a2.1 2.1 0 1 0 -4.2 0M539.7 514.3a2.1 2.1 0 1 0 4.2 0a2.1 2.1 0 1 0 -4.2 0M539.8 512.3a2.1 2.1 0 1 0 4.2 0a2.1 2.1 0 1 0 -4.2 0M539.9 513.6a2.1 2.1 0 1 0 4.2 0a2.1 2.1 0 1 0 -4.2 0M540.1 512.9a2.1 2.1 0 1 0 4.2 0a2.1 2.1 0 1 0 -4.2 0M540.2 514.1a2.1 2.1 0 1 0 4.2 0a2.1 2.1 0 1 0 -4.2 0M540.3 513.0a2.1 2.1 0 1 0 4.2 0a2.1 2.1 0 1 0 -4.2 0M540.4 512.6a2.1 2.1 0 1 0 4.2 0a2.1 2.1 0 1 0 -4.2 0M540.6 511.6a2.1 2.1 0 1 0 4.2 0a2.1 2.1 0 1 0 -4.2 0M540.7 513.3a2.1 2.1 0 1 0 4.2 0a2.1 2.1 0 1 0 -4.2 0M540.8 512.1a2.1 2.1 0 1 0 4.2 0a2.1 2.1 0 1 0 -4.2 0M540.9 512.2a2.1 2.1 0 1 0 4.2 0a2.1 2.1 0 1 0 -4.2 0M541.1 513.0a2.1 2.1 0 1 0 4.2 0a2.1 2.1 0 1 0 -4.2 0M541.2 512.1a2.1 2.1 0 1 0 4.2 0a2.1 2.1 0 1 0 -4.2 0M541.3 512.1a2.1 2.1 0 1 0 4.2 0a2.1 2.1 0 1 0 -4.2 0M541.4 513.5a2.1 2.1 0 1 0 4.2 0a2.1 2.1 0 1 0 -4.2 0M541.6 511.1a2.1 2.1 0 1 0 4.2 0a2.1 2.1 0 1 0 -4.2 0M541.7 511.0a2.1 2.1 0 1 0 4.2 0a2.1 2.1 0 1 0 -4.2 0M541.8 511.6a2.1 2.1 0 1 0 4.2 0a2.1 2.1 0 1 0 -4.2 0M541.9 512.1a2.1 2.1 0 1 0 4.2 0a2.1 2.1 0 1 0 -4.2 0M542.1 509.9a2.1 2.1 0 1 0 4.2 0a2.1 2.1 0 1 0 -4.2 0M542.2 510.6a2.1 2.1 0 1 0 4.2 0a2.1 2.1 0 1 0 -4.2 0M542.3 509.9a2.1 2.1 0 1 0 4.2 0a2.1 2.1 0 1 0 -4.2 0M542.4 509.5a2.1 2.1 0 1 0 4.2 0a2.1 2.1 0 1 0 -4.2 0M542.6 510.8a2.1 2.1 0 1 0 4.2 0a2.1 2.1 0 1 0 -4.2 0M542.7 509.6a2.1 2.1 0 1 0 4.2 0a2.1 2.1 0 1 0 -4.2 0M542.8 510.3a2.1 2.1 0 1 0 4.2 0a2.1 2.1 0 1 0 -4.2 0M542.9 510.0a2.1 2.1 0 1 0 4.2 0a2.1 2.1 0 1 0 -4.2 0M543.1 509.9a2.1 2.1 0 1 0 4.2 0a2.1 2.1 0 1 0 -4.2 0M543.2 509.8a2.1 2.1 0 1 0 4.2 0a2.1 2.1 0 1 0 -4.2 0M543.3 508.8a2.1 2.1 0 1 0 4.2 0a2.1 2.1 0 1 0 -4.2 0M543.4 509.5a2.1 2.1 0 1 0 4.2 0a2.1 2.1 0 1 0 -4.2 0M543.6 509.6a2.1 2.1 0 1 0 4.2 0a2.1 2.1 0 1 0 -4.2 0M543.7 509.6a2.1 2.1 0 1 0 4.2 0a2.1 2.1 0 1 0 -4.2 0M543.8 509.1a2.1 2.1 0 1 0 4.2 0a2.1 2.1 0 1 0 -4.2 0M543.9 509.9a2.1 2.1 0 1 0 4.2 0a2.1 2.1 0 1 0 -4.2 0M544.1 509.6a2.1 2.1 0 1 0 4.2 0a2.1 2.1 0 1 0 -4.2 0M544.2 509.2a2.1 2.1 0 1 0 4.2 0a2.1 2.1 0 1 0 -4.2 0M544.3 509.5a2.1 2.1 0 1 0 4.2 0a2.1 2.1 0 1 0 -4.2 0M544.4 509.2a2.1 2.1 0 1 0 4.2 0a2.1 2.1 0 1 0 -4.2 0M544.6 509.5a2.1 2.1 0 1 0 4.2 0a2.1 2.1 0 1 0 -4.2 0M544.7 507.6a2.1 2.1 0 1 0 4.2 0a2.1 2.1 0 1 0 -4.2 0M544.8 508.1a2.1 2.1 0 1 0 4.2 0a2.1 2.1 0 1 0 -4.2 0M544.9 508.8a2.1 2.1 0 1 0 4.2 0a2.1 2.1 0 1 0 -4.2 0M545.1 509.3a2.1 2.1 0 1 0 4.2 0a2.1 2.1 0 1 0 -4.2 0M545.2 507.7a2.1 2.1 0 1 0 4.2 0a2.1 2.1 0 1 0 -4.2 0M545.3 509.2a2.1 2.1 0 1 0 4.2 0a2.1 2.1 0 1 0 -4.2 0M545.4 509.6a2.1 2.1 0 1 0 4.2 0a2.1 2.1 0 1 0 -4.2 0M545.6 509.5a2.1 2.1 0 1 0 4.2 0a2.1 2.1 0 1 0 -4.2 0M545.7 509.7a2.1 2.1 0 1 0 4.2 0a2.1 2.1 0 1 0 -4.2 0M545.8 513.2a2.1 2.1 0 1 0 4.2 0a2.1 2.1 0 1 0 -4.2 0M545.9 500.4a2.1 2.1 0 1 0 4.2 0a2.1 2.1 0 1 0 -4.2 0M546.1 509.0a2.1 2.1 0 1 0 4.2 0a2.1 2.1 0 1 0 -4.2 0M546.2 511.4a2.1 2.1 0 1 0 4.2 0a2.1 2.1 0 1 0 -4.2 0M546.3 498.5a2.1 2.1 0 1 0 4.2 0a2.1 2.1 0 1 0 -4.2 0M546.4 497.3a2.1 2.1 0 1 0 4.2 0a2.1 2.1 0 1 0 -4.2 0M546.6 517.0a2.1 2.1 0 1 0 4.2 0a2.1 2.1 0 1 0 -4.2 0M546.7 517.1a2.1 2.1 0 1 0 4.2 0a2.1 2.1 0 1 0 -4.2 0M546.8 487.7a2.1 2.1 0 1 0 4.2 0a2.1 2.1 0 1 0 -4.2 0M546.9 510.8a2.1 2.1 0 1 0 4.2 0a2.1 2.1 0 1 0 -4.2 0M547.1 522.9a2.1 2.1 0 1 0 4.2 0a2.1 2.1 0 1 0 -4.2 0M547.2 502.1a2.1 2.1 0 1 0 4.2 0a2.1 2.1 0 1 0 -4.2 0M547.3 506.3a2.1 2.1 0 1 0 4.2 0a2.1 2.1 0 1 0 -4.2 0M547.4 502.6a2.1 2.1 0 1 0 4.2 0a2.1 2.1 0 1 0 -4.2 0M547.6 516.1a2.1 2.1 0 1 0 4.2 0a2.1 2.1 0 1 0 -4.2 0M547.7 486.1a2.1 2.1 0 1 0 4.2 0a2.1 2.1 0 1 0 -4.2 0M547.8 497.0a2.1 2.1 0 1 0 4.2 0a2.1 2.1 0 1 0 -4.2 0M548.0 512.6a2.1 2.1 0 1 0 4.2 0a2.1 2.1 0 1 0 -4.2 0M548.1 525.9a2.1 2.1 0 1 0 4.2 0a2.1 2.1 0 1 0 -4.2 0M548.2 500.3a2.1 2.1 0 1 0 4.2 0a2.1 2.1 0 1 0 -4.2 0M548.3 506.1a2.1 2.1 0 1 0 4.2 0a2.1 2.1 0 1 0 -4.2 0M548.5 519.7a2.1 2.1 0 1 0 4.2 0a2.1 2.1 0 1 0 -4.2 0M548.6 519.2a2.1 2.1 0 1 0 4.2 0a2.1 2.1 0 1 0 -4.2 0M548.7 516.1a2.1 2.1 0 1 0 4.2 0a2.1 2.1 0 1 0 -4.2 0M548.8 511.8a2.1 2.1 0 1 0 4.2 0a2.1 2.1 0 1 0 -4.2 0M549.0 486.3a2.1 2.1 0 1 0 4.2 0a2.1 2.1 0 1 0 -4.2 0M549.1 505.9a2.1 2.1 0 1 0 4.2 0a2.1 2.1 0 1 0 -4.2 0M549.2 508.3a2.1 2.1 0 1 0 4.2 0a2.1 2.1 0 1 0 -4.2 0M549.3 523.6a2.1 2.1 0 1 0 4.2 0a2.1 2.1 0 1 0 -4.2 0M549.5 495.2a2.1 2.1 0 1 0 4.2 0a2.1 2.1 0 1 0 -4.2 0M549.6 518.7a2.1 2.1 0 1 0 4.2 0a2.1 2.1 0 1 0 -4.2 0M549.7 521.7a2.1 2.1 0 1 0 4.2 0a2.1 2.1 0 1 0 -4.2 0M549.8 521.7a2.1 2.1 0 1 0 4.2 0a2.1 2.1 0 1 0 -4.2 0M550.0 522.6a2.1 2.1 0 1 0 4.2 0a2.1 2.1 0 1 0 -4.2 0M550.1 524.1a2.1 2.1 0 1 0 4.2 0a2.1 2.1 0 1 0 -4.2 0M550.2 523.0a2.1 2.1 0 1 0 4.2 0a2.1 2.1 0 1 0 -4.2 0M550.3 523.9a2.1 2.1 0 1 0 4.2 0a2.1 2.1 0 1 0 -4.2 0M550.5 524.8a2.1 2.1 0 1 0 4.2 0a2.1 2.1 0 1 0 -4.2 0M550.6 524.6a2.1 2.1 0 1 0 4.2 0a2.1 2.1 0 1 0 -4.2 0M550.7 525.2a2.1 2.1 0 1 0 4.2 0a2.1 2.1 0 1 0 -4.2 0M550.8 527.6a2.1 2.1 0 1 0 4.2 0a2.1 2.1 0 1 0 -4.2 0M551.0 528.1a2.1 2.1 0 1 0 4.2 0a2.1 2.1 0 1 0 -4.2 0M551.1 527.2a2.1 2.1 0 1 0 4.2 0a2.1 2.1 0 1 0 -4.2 0M551.2 528.0a2.1 2.1 0 1 0 4.2 0a2.1 2.1 0 1 0 -4.2 0M551.3 530.4a2.1 2.1 0 1 0 4.2 0a2.1 2.1 0 1 0 -4.2 0M551.5 531.5a2.1 2.1 0 1 0 4.2 0a2.1 2.1 0 1 0 -4.2 0M551.6 531.9a2.1 2.1 0 1 0 4.2 0a2.1 2.1 0 1 0 -4.2 0M551.7 532.6a2.1 2.1 0 1 0 4.2 0a2.1 2.1 0 1 0 -4.2 0M551.8 534.2a2.1 2.1 0 1 0 4.2 0a2.1 2.1 0 1 0 -4.2 0M552.0 533.7a2.1 2.1 0 1 0 4.2 0a2.1 2.1 0 1 0 -4.2 0M552.1 535.4a2.1 2.1 0 1 0 4.2 0a2.1 2.1 0 1 0 -4.2 0M552.2 536.1a2.1 2.1 0 1 0 4.2 0a2.1 2.1 0 1 0 -4.2 0M552.3 535.2a2.1 2.1 0 1 0 4.2 0a2.1 2.1 0 1 0 -4.2 0M552.5 537.1a2.1 2.1 0 1 0 4.2 0a2.1 2.1 0 1 0 -4.2 0M552.6 537.2a2.1 2.1 0 1 0 4.2 0a2.1 2.1 0 1 0 -4.2 0M552.7 537.3a2.1 2.1 0 1 0 4.2 0a2.1 2.1 0 1 0 -4.2 0M552.8 537.7a2.1 2.1 0 1 0 4.2 0a2.1 2.1 0 1 0 -4.2 0M553.0 537.4a2.1 2.1 0 1 0 4.2 0a2.1 2.1 0 1 0 -4.2 0M553.1 491.6a2.1 2.1 0 1 0 4.2 0a2.1 2.1 0 1 0 -4.2 0M553.2 540.1a2.1 2.1 0 1 0 4.2 0a2.1 2.1 0 1 0 -4.2 0M553.3 499.2a2.1 2.1 0 1 0 4.2 0a2.1 2.1 0 1 0 -4.2 0M553.5 485.6a2.1 2.1 0 1 0 4.2 0a2.1 2.1 0 1 0 -4.2 0M553.6 493.4a2.1 2.1 0 1 0 4.2 0a2.1 2.1 0 1 0 -4.2 0M553.7 499.1a2.1 2.1 0 1 0 4.2 0a2.1 2.1 0 1 0 -4.2 0M553.8 539.7a2.1 2.1 0 1 0 4.2 0a2.1 2.1 0 1 0 -4.2 0M554.0 496.8a2.1 2.1 0 1 0 4.2 0a2.1 2.1 0 1 0 -4.2 0M554.1 504.8a2.1 2.1 0 1 0 4.2 0a2.1 2.1 0 1 0 -4.2 0M554.2 538.7a2.1 2.1 0 1 0 4.2 0a2.1 2.1 0 1 0 -4.2 0M554.3 558.4a2.1 2.1 0 1 0 4.2 0a2.1 2.1 0 1 0 -4.2 0M554.5 505.1a2.1 2.1 0 1 0 4.2 0a2.1 2.1 0 1 0 -4.2 0M554.6 539.5a2.1 2.1 0 1 0 4.2 0a2.1 2.1 0 1 0 -4.2 0M554.7 537.9a2.1 2.1 0 1 0 4.2 0a2.1 2.1 0 1 0 -4.2 0M554.8 494.1a2.1 2.1 0 1 0 4.2 0a2.1 2.1 0 1 0 -4.2 0M555.0 516.4a2.1 2.1 0 1 0 4.2 0a2.1 2.1 0 1 0 -4.2 0M555.1 541.3a2.1 2.1 0 1 0 4.2 0a2.1 2.1 0 1 0 -4.2 0M555.2 492.1a2.1 2.1 0 1 0 4.2 0a2.1 2.1 0 1 0 -4.2 0M555.3 499.9a2.1 2.1 0 1 0 4.2 0a2.1 2.1 0 1 0 -4.2 0M555.5 499.9a2.1 2.1 0 1 0 4.2 0a2.1 2.1 0 1 0 -4.2 0M555.6 515.3a2.1 2.1 0 1 0 4.2 0a2.1 2.1 0 1 0 -4.2 0M555.7 522.9a2.1 2.1 0 1 0 4.2 0a2.1 2.1 0 1 0 -4.2 0M555.8 498.4a2.1 2.1 0 1 0 4.2 0a2.1 2.1 0 1 0 -4.2 0M556.0 487.8a2.1 2.1 0 1 0 4.2 0a2.1 2.1 0 1 0 -4.2 0M556.1 540.9a2.1 2.1 0 1 0 4.2 0a2.1 2.1 0 1 0 -4.2 0M556.2 526.2a2.1 2.1 0 1 0 4.2 0a2.1 2.1 0 1 0 -4.2 0M556.3 511.2a2.1 2.1 0 1 0 4.2 0a2.1 2.1 0 1 0 -4.2 0M556.5 502.1a2.1 2.1 0 1 0 4.2 0a2.1 2.1 0 1 0 -4.2 0M556.6 506.4a2.1 2.1 0 1 0 4.2 0a2.1 2.1 0 1 0 -4.2 0M556.7 551.1a2.1 2.1 0 1 0 4.2 0a2.1 2.1 0 1 0 -4.2 0M556.8 503.8a2.1 2.1 0 1 0 4.2 0a2.1 2.1 0 1 0 -4.2 0M557.0 532.1a2.1 2.1 0 1 0 4.2 0a2.1 2.1 0 1 0 -4.2 0M557.1 483.8a2.1 2.1 0 1 0 4.2 0a2.1 2.1 0 1 0 -4.2 0M557.2 488.6a2.1 2.1 0 1 0 4.2 0a2.1 2.1 0 1 0 -4.2 0M557.3 524.5a2.1 2.1 0 1 0 4.2 0a2.1 2.1 0 1 0 -4.2 0M557.5 520.8a2.1 2.1 0 1 0 4.2 0a2.1 2.1 0 1 0 -4.2 0M557.6 523.3a2.1 2.1 0 1 0 4.2 0a2.1 2.1 0 1 0 -4.2 0M557.7 532.3a2.1 2.1 0 1 0 4.2 0a2.1 2.1 0 1 0 -4.2 0M557.8 517.3a2.1 2.1 0 1 0 4.2 0a2.1 2.1 0 1 0 -4.2 0M558.0 499.7a2.1 2.1 0 1 0 4.2 0a2.1 2.1 0 1 0 -4.2 0M558.1 514.8a2.1 2.1 0 1 0 4.2 0a2.1 2.1 0 1 0 -4.2 0M558.2 493.3a2.1 2.1 0 1 0 4.2 0a2.1 2.1 0 1 0 -4.2 0M558.3 508.1a2.1 2.1 0 1 0 4.2 0a2.1 2.1 0 1 0 -4.2 0M558.5 537.9a2.1 2.1 0 1 0 4.2 0a2.1 2.1 0 1 0 -4.2 0M558.6 511.7a2.1 2.1 0 1 0 4.2 0a2.1 2.1 0 1 0 -4.2 0M558.7 514.2a2.1 2.1 0 1 0 4.2 0a2.1 2.1 0 1 0 -4.2 0M558.8 534.7a2.1 2.1 0 1 0 4.2 0a2.1 2.1 0 1 0 -4.2 0M559.0 491.3a2.1 2.1 0 1 0 4.2 0a2.1 2.1 0 1 0 -4.2 0M559.1 477.9a2.1 2.1 0 1 0 4.2 0a2.1 2.1 0 1 0 -4.2 0M559.2 552.1a2.1 2.1 0 1 0 4.2 0a2.1 2.1 0 1 0 -4.2 0M559.3 506.3a2.1 2.1 0 1 0 4.2 0a2.1 2.1 0 1 0 -4.2 0M559.5 503.3a2.1 2.1 0 1 0 4.2 0a2.1 2.1 0 1 0 -4.2 0M559.6 504.6a2.1 2.1 0 1 0 4.2 0a2.1 2.1 0 1 0 -4.2 0M559.7 521.0a2.1 2.1 0 1 0 4.2 0a2.1 2.1 0 1 0 -4.2 0M559.8 501.2a2.1 2.1 0 1 0 4.2 0a2.1 2.1 0 1 0 -4.2 0M560.0 497.4a2.1 2.1 0 1 0 4.2 0a2.1 2.1 0 1 0 -4.2 0M560.1 501.5a2.1 2.1 0 1 0 4.2 0a2.1 2.1 0 1 0 -4.2 0M560.2 501.5a2.1 2.1 0 1 0 4.2 0a2.1 2.1 0 1 0 -4.2 0M560.3 502.0a2.1 2.1 0 1 0 4.2 0a2.1 2.1 0 1 0 -4.2 0M560.5 498.9a2.1 2.1 0 1 0 4.2 0a2.1 2.1 0 1 0 -4.2 0M560.6 498.8a2.1 2.1 0 1 0 4.2 0a2.1 2.1 0 1 0 -4.2 0M560.7 498.6a2.1 2.1 0 1 0 4.2 0a2.1 2.1 0 1 0 -4.2 0M560.8 496.2a2.1 2.1 0 1 0 4.2 0a2.1 2.1 0 1 0 -4.2 0M561.0 497.2a2.1 2.1 0 1 0 4.2 0a2.1 2.1 0 1 0 -4.2 0M561.1 497.4a2.1 2.1 0 1 0 4.2 0a2.1 2.1 0 1 0 -4.2 0M561.2 496.5a2.1 2.1 0 1 0 4.2 0a2.1 2.1 0 1 0 -4.2 0M561.3 497.1a2.1 2.1 0 1 0 4.2 0a2.1 2.1 0 1 0 -4.2 0M561.5 496.7a2.1 2.1 0 1 0 4.2 0a2.1 2.1 0 1 0 -4.2 0M561.6 495.8a2.1 2.1 0 1 0 4.2 0a2.1 2.1 0 1 0 -4.2 0M561.7 496.4a2.1 2.1 0 1 0 4.2 0a2.1 2.1 0 1 0 -4.2 0M561.9 496.3a2.1 2.1 0 1 0 4.2 0a2.1 2.1 0 1 0 -4.2 0M562.0 494.6a2.1 2.1 0 1 0 4.2 0a2.1 2.1 0 1 0 -4.2 0M562.1 495.2a2.1 2.1 0 1 0 4.2 0a2.1 2.1 0 1 0 -4.2 0M562.2 495.1a2.1 2.1 0 1 0 4.2 0a2.1 2.1 0 1 0 -4.2 0M562.4 495.3a2.1 2.1 0 1 0 4.2 0a2.1 2.1 0 1 0 -4.2 0M562.5 495.3a2.1 2.1 0 1 0 4.2 0a2.1 2.1 0 1 0 -4.2 0M562.6 494.5a2.1 2.1 0 1 0 4.2 0a2.1 2.1 0 1 0 -4.2 0M562.7 495.6a2.1 2.1 0 1 0 4.2 0a2.1 2.1 0 1 0 -4.2 0M562.9 494.1a2.1 2.1 0 1 0 4.2 0a2.1 2.1 0 1 0 -4.2 0M563.0 496.2a2.1 2.1 0 1 0 4.2 0a2.1 2.1 0 1 0 -4.2 0M563.1 495.6a2.1 2.1 0 1 0 4.2 0a2.1 2.1 0 1 0 -4.2 0M563.2 496.4a2.1 2.1 0 1 0 4.2 0a2.1 2.1 0 1 0 -4.2 0M563.4 495.6a2.1 2.1 0 1 0 4.2 0a2.1 2.1 0 1 0 -4.2 0M563.5 494.9a2.1 2.1 0 1 0 4.2 0a2.1 2.1 0 1 0 -4.2 0M563.6 494.2a2.1 2.1 0 1 0 4.2 0a2.1 2.1 0 1 0 -4.2 0M563.7 495.7a2.1 2.1 0 1 0 4.2 0a2.1 2.1 0 1 0 -4.2 0M563.9 495.2a2.1 2.1 0 1 0 4.2 0a2.1 2.1 0 1 0 -4.2 0M564.0 495.5a2.1 2.1 0 1 0 4.2 0a2.1 2.1 0 1 0 -4.2 0M564.1 495.7a2.1 2.1 0 1 0 4.2 0a2.1 2.1 0 1 0 -4.2 0M564.2 496.0a2.1 2.1 0 1 0 4.2 0a2.1 2.1 0 1 0 -4.2 0M564.4 495.1a2.1 2.1 0 1 0 4.2 0a2.1 2.1 0 1 0 -4.2 0M564.5 496.4a2.1 2.1 0 1 0 4.2 0a2.1 2.1 0 1 0 -4.2 0M564.6 495.0a2.1 2.1 0 1 0 4.2 0a2.1 2.1 0 1 0 -4.2 0M564.7 495.0a2.1 2.1 0 1 0 4.2 0a2.1 2.1 0 1 0 -4.2 0M564.9 495.5a2.1 2.1 0 1 0 4.2 0a2.1 2.1 0 1 0 -4.2 0M565.0 495.7a2.1 2.1 0 1 0 4.2 0a2.1 2.1 0 1 0 -4.2 0M565.1 495.9a2.1 2.1 0 1 0 4.2 0a2.1 2.1 0 1 0 -4.2 0M565.2 493.5a2.1 2.1 0 1 0 4.2 0a2.1 2.1 0 1 0 -4.2 0M565.4 495.8a2.1 2.1 0 1 0 4.2 0a2.1 2.1 0 1 0 -4.2 0M565.5 492.3a2.1 2.1 0 1 0 4.2 0a2.1 2.1 0 1 0 -4.2 0M565.6 504.9a2.1 2.1 0 1 0 4.2 0a2.1 2.1 0 1 0 -4.2 0M565.7 507.4a2.1 2.1 0 1 0 4.2 0a2.1 2.1 0 1 0 -4.2 0M565.9 483.8a2.1 2.1 0 1 0 4.2 0a2.1 2.1 0 1 0 -4.2 0M566.0 495.2a2.1 2.1 0 1 0 4.2 0a2.1 2.1 0 1 0 -4.2 0M566.1 507.2a2.1 2.1 0 1 0 4.2 0a2.1 2.1 0 1 0 -4.2 0M566.2 512.7a2.1 2.1 0 1 0 4.2 0a2.1 2.1 0 1 0 -4.2 0M566.4 512.6a2.1 2.1 0 1 0 4.2 0a2.1 2.1 0 1 0 -4.2 0M566.5 542.3a2.1 2.1 0 1 0 4.2 0a2.1 2.1 0 1 0 -4.2 0M566.6 488.3a2.1 2.1 0 1 0 4.2 0a2.1 2.1 0 1 0 -4.2 0M566.7 491.6a2.1 2.1 0 1 0 4.2 0a2.1 2.1 0 1 0 -4.2 0M566.9 494.7a2.1 2.1 0 1 0 4.2 0a2.1 2.1 0 1 0 -4.2 0M567.0 501.8a2.1 2.1 0 1 0 4.2 0a2.1 2.1 0 1 0 -4.2 0M567.1 495.1a2.1 2.1 0 1 0 4.2 0a2.1 2.1 0 1 0 -4.2 0M567.2 489.1a2.1 2.1 0 1 0 4.2 0a2.1 2.1 0 1 0 -4.2 0M567.4 496.1a2.1 2.1 0 1 0 4.2 0a2.1 2.1 0 1 0 -4.2 0M567.5 495.6a2.1 2.1 0 1 0 4.2 0a2.1 2.1 0 1 0 -4.2 0M567.6 533.2a2.1 2.1 0 1 0 4.2 0a2.1 2.1 0 1 0 -4.2 0M567.7 467.5a2.1 2.1 0 1 0 4.2 0a2.1 2.1 0 1 0 -4.2 0M567.9 480.6a2.1 2.1 0 1 0 4.2 0a2.1 2.1 0 1 0 -4.2 0M568.0 495.1a2.1 2.1 0 1 0 4.2 0a2.1 2.1 0 1 0 -4.2 0M568.1 493.3a2.1 2.1 0 1 0 4.2 0a2.1 2.1 0 1 0 -4.2 0M568.2 488.1a2.1 2.1 0 1 0 4.2 0a2.1 2.1 0 1 0 -4.2 0M568.4 510.8a2.1 2.1 0 1 0 4.2 0a2.1 2.1 0 1 0 -4.2 0M568.5 543.0a2.1 2.1 0 1 0 4.2 0a2.1 2.1 0 1 0 -4.2 0M568.6 500.1a2.1 2.1 0 1 0 4.2 0a2.1 2.1 0 1 0 -4.2 0M568.7 536.7a2.1 2.1 0 1 0 4.2 0a2.1 2.1 0 1 0 -4.2 0M568.9 534.7a2.1 2.1 0 1 0 4.2 0a2.1 2.1 0 1 0 -4.2 0M569.0 504.8a2.1 2.1 0 1 0 4.2 0a2.1 2.1 0 1 0 -4.2 0M569.1 499.0a2.1 2.1 0 1 0 4.2 0a2.1 2.1 0 1 0 -4.2 0M569.2 520.8a2.1 2.1 0 1 0 4.2 0a2.1 2.1 0 1 0 -4.2 0M569.4 529.2a2.1 2.1 0 1 0 4.2 0a2.1 2.1 0 1 0 -4.2 0M569.5 489.2a2.1 2.1 0 1 0 4.2 0a2.1 2.1 0 1 0 -4.2 0M569.6 489.8a2.1 2.1 0 1 0 4.2 0a2.1 2.1 0 1 0 -4.2 0M569.7 492.2a2.1 2.1 0 1 0 4.2 0a2.1 2.1 0 1 0 -4.2 0M569.9 479.1a2.1 2.1 0 1 0 4.2 0a2.1 2.1 0 1 0 -4.2 0M570.0 473.9a2.1 2.1 0 1 0 4.2 0a2.1 2.1 0 1 0 -4.2 0M570.1 504.2a2.1 2.1 0 1 0 4.2 0a2.1 2.1 0 1 0 -4.2 0M570.2 507.5a2.1 2.1 0 1 0 4.2 0a2.1 2.1 0 1 0 -4.2 0M570.4 549.1a2.1 2.1 0 1 0 4.2 0a2.1 2.1 0 1 0 -4.2 0M570.5 522.2a2.1 2.1 0 1 0 4.2 0a2.1 2.1 0 1 0 -4.2 0M570.6 491.7a2.1 2.1 0 1 0 4.2 0a2.1 2.1 0 1 0 -4.2 0M570.7 489.4a2.1 2.1 0 1 0 4.2 0a2.1 2.1 0 1 0 -4.2 0M570.9 545.6a2.1 2.1 0 1 0 4.2 0a2.1 2.1 0 1 0 -4.2 0M571.0 521.7a2.1 2.1 0 1 0 4.2 0a2.1 2.1 0 1 0 -4.2 0M571.1 491.2a2.1 2.1 0 1 0 4.2 0a2.1 2.1 0 1 0 -4.2 0M571.2 489.5a2.1 2.1 0 1 0 4.2 0a2.1 2.1 0 1 0 -4.2 0M571.4 486.7a2.1 2.1 0 1 0 4.2 0a2.1 2.1 0 1 0 -4.2 0M571.5 475.0a2.1 2.1 0 1 0 4.2 0a2.1 2.1 0 1 0 -4.2 0M571.6 491.4a2.1 2.1 0 1 0 4.2 0a2.1 2.1 0 1 0 -4.2 0M571.7 494.0a2.1 2.1 0 1 0 4.2 0a2.1 2.1 0 1 0 -4.2 0M571.9 517.3a2.1 2.1 0 1 0 4.2 0a2.1 2.1 0 1 0 -4.2 0M572.0 503.9a2.1 2.1 0 1 0 4.2 0a2.1 2.1 0 1 0 -4.2 0M572.1 498.8a2.1 2.1 0 1 0 4.2 0a2.1 2.1 0 1 0 -4.2 0M572.2 489.8a2.1 2.1 0 1 0 4.2 0a2.1 2.1 0 1 0 -4.2 0M572.4 494.0a2.1 2.1 0 1 0 4.2 0a2.1 2.1 0 1 0 -4.2 0M572.5 491.5a2.1 2.1 0 1 0 4.2 0a2.1 2.1 0 1 0 -4.2 0M572.6 491.7a2.1 2.1 0 1 0 4.2 0a2.1 2.1 0 1 0 -4.2 0M572.7 491.2a2.1 2.1 0 1 0 4.2 0a2.1 2.1 0 1 0 -4.2 0M572.9 490.9a2.1 2.1 0 1 0 4.2 0a2.1 2.1 0 1 0 -4.2 0M573.0 490.4a2.1 2.1 0 1 0 4.2 0a2.1 2.1 0 1 0 -4.2 0M573.1 492.0a2.1 2.1 0 1 0 4.2 0a2.1 2.1 0 1 0 -4.2 0M573.2 490.1a2.1 2.1 0 1 0 4.2 0a2.1 2.1 0 1 0 -4.2 0M573.4 491.9a2.1 2.1 0 1 0 4.2 0a2.1 2.1 0 1 0 -4.2 0M573.5 490.9a2.1 2.1 0 1 0 4.2 0a2.1 2.1 0 1 0 -4.2 0M573.6 490.3a2.1 2.1 0 1 0 4.2 0a2.1 2.1 0 1 0 -4.2 0M573.7 490.5a2.1 2.1 0 1 0 4.2 0a2.1 2.1 0 1 0 -4.2 0M573.9 491.7a2.1 2.1 0 1 0 4.2 0a2.1 2.1 0 1 0 -4.2 0M574.0 491.5a2.1 2.1 0 1 0 4.2 0a2.1 2.1 0 1 0 -4.2 0M574.1 491.3a2.1 2.1 0 1 0 4.2 0a2.1 2.1 0 1 0 -4.2 0M574.2 490.9a2.1 2.1 0 1 0 4.2 0a2.1 2.1 0 1 0 -4.2 0M574.4 490.0a2.1 2.1 0 1 0 4.2 0a2.1 2.1 0 1 0 -4.2 0M574.5 491.8a2.1 2.1 0 1 0 4.2 0a2.1 2.1 0 1 0 -4.2 0M574.6 490.4a2.1 2.1 0 1 0 4.2 0a2.1 2.1 0 1 0 -4.2 0M574.7 490.3a2.1 2.1 0 1 0 4.2 0a2.1 2.1 0 1 0 -4.2 0M574.9 490.3a2.1 2.1 0 1 0 4.2 0a2.1 2.1 0 1 0 -4.2 0M575.0 490.3a2.1 2.1 0 1 0 4.2 0a2.1 2.1 0 1 0 -4.2 0M575.1 489.5a2.1 2.1 0 1 0 4.2 0a2.1 2.1 0 1 0 -4.2 0M575.2 490.2a2.1 2.1 0 1 0 4.2 0a2.1 2.1 0 1 0 -4.2 0M575.4 489.9a2.1 2.1 0 1 0 4.2 0a2.1 2.1 0 1 0 -4.2 0M575.5 490.1a2.1 2.1 0 1 0 4.2 0a2.1 2.1 0 1 0 -4.2 0M575.6 489.2a2.1 2.1 0 1 0 4.2 0a2.1 2.1 0 1 0 -4.2 0M575.7 491.9a2.1 2.1 0 1 0 4.2 0a2.1 2.1 0 1 0 -4.2 0M575.9 489.5a2.1 2.1 0 1 0 4.2 0a2.1 2.1 0 1 0 -4.2 0M576.0 490.6a2.1 2.1 0 1 0 4.2 0a2.1 2.1 0 1 0 -4.2 0M576.1 490.6a2.1 2.1 0 1 0 4.2 0a2.1 2.1 0 1 0 -4.2 0M576.3 491.1a2.1 2.1 0 1 0 4.2 0a2.1 2.1 0 1 0 -4.2 0M576.4 491.8a2.1 2.1 0 1 0 4.2 0a2.1 2.1 0 1 0 -4.2 0M576.5 490.7a2.1 2.1 0 1 0 4.2 0a2.1 2.1 0 1 0 -4.2 0M576.6 490.9a2.1 2.1 0 1 0 4.2 0a2.1 2.1 0 1 0 -4.2 0M576.8 490.0a2.1 2.1 0 1 0 4.2 0a2.1 2.1 0 1 0 -4.2 0M576.9 491.4a2.1 2.1 0 1 0 4.2 0a2.1 2.1 0 1 0 -4.2 0M577.0 489.3a2.1 2.1 0 1 0 4.2 0a2.1 2.1 0 1 0 -4.2 0M577.1 490.1a2.1 2.1 0 1 0 4.2 0a2.1 2.1 0 1 0 -4.2 0M577.3 490.5a2.1 2.1 0 1 0 4.2 0a2.1 2.1 0 1 0 -4.2 0M577.4 490.8a2.1 2.1 0 1 0 4.2 0a2.1 2.1 0 1 0 -4.2 0M577.5 490.9a2.1 2.1 0 1 0 4.2 0a2.1 2.1 0 1 0 -4.2 0M577.6 491.2a2.1 2.1 0 1 0 4.2 0a2.1 2.1 0 1 0 -4.2 0M577.8 490.8a2.1 2.1 0 1 0 4.2 0a2.1 2.1 0 1 0 -4.2 0M577.9 490.6a2.1 2.1 0 1 0 4.2 0a2.1 2.1 0 1 0 -4.2 0M578.0 490.9a2.1 2.1 0 1 0 4.2 0a2.1 2.1 0 1 0 -4.2 0M578.1 492.1a2.1 2.1 0 1 0 4.2 0a2.1 2.1 0 1 0 -4.2 0M578.3 491.5a2.1 2.1 0 1 0 4.2 0a2.1 2.1 0 1 0 -4.2 0M578.4 492.3a2.1 2.1 0 1 0 4.2 0a2.1 2.1 0 1 0 -4.2 0M578.5 491.9a2.1 2.1 0 1 0 4.2 0a2.1 2.1 0 1 0 -4.2 0M578.6 491.0a2.1 2.1 0 1 0 4.2 0a2.1 2.1 0 1 0 -4.2 0M578.8 492.4a2.1 2.1 0 1 0 4.2 0a2.1 2.1 0 1 0 -4.2 0M578.9 493.5a2.1 2.1 0 1 0 4.2 0a2.1 2.1 0 1 0 -4.2 0M579.0 495.0a2.1 2.1 0 1 0 4.2 0a2.1 2.1 0 1 0 -4.2 0M579.1 495.4a2.1 2.1 0 1 0 4.2 0a2.1 2.1 0 1 0 -4.2 0M579.3 496.1a2.1 2.1 0 1 0 4.2 0a2.1 2.1 0 1 0 -4.2 0M579.4 494.9a2.1 2.1 0 1 0 4.2 0a2.1 2.1 0 1 0 -4.2 0M579.5 496.6a2.1 2.1 0 1 0 4.2 0a2.1 2.1 0 1 0 -4.2 0M579.6 496.6a2.1 2.1 0 1 0 4.2 0a2.1 2.1 0 1 0 -4.2 0M579.8 497.7a2.1 2.1 0 1 0 4.2 0a2.1 2.1 0 1 0 -4.2 0M579.9 497.8a2.1 2.1 0 1 0 4.2 0a2.1 2.1 0 1 0 -4.2 0M580.0 497.5a2.1 2.1 0 1 0 4.2 0a2.1 2.1 0 1 0 -4.2 0M580.1 499.7a2.1 2.1 0 1 0 4.2 0a2.1 2.1 0 1 0 -4.2 0M580.3 500.1a2.1 2.1 0 1 0 4.2 0a2.1 2.1 0 1 0 -4.2 0M580.4 501.1a2.1 2.1 0 1 0 4.2 0a2.1 2.1 0 1 0 -4.2 0M580.5 500.5a2.1 2.1 0 1 0 4.2 0a2.1 2.1 0 1 0 -4.2 0M580.6 502.5a2.1 2.1 0 1 0 4.2 0a2.1 2.1 0 1 0 -4.2 0M580.8 503.3a2.1 2.1 0 1 0 4.2 0a2.1 2.1 0 1 0 -4.2 0M580.9 504.1a2.1 2.1 0 1 0 4.2 0a2.1 2.1 0 1 0 -4.2 0M581.0 504.7a2.1 2.1 0 1 0 4.2 0a2.1 2.1 0 1 0 -4.2 0M581.1 504.0a2.1 2.1 0 1 0 4.2 0a2.1 2.1 0 1 0 -4.2 0M581.3 503.1a2.1 2.1 0 1 0 4.2 0a2.1 2.1 0 1 0 -4.2 0M581.4 506.5a2.1 2.1 0 1 0 4.2 0a2.1 2.1 0 1 0 -4.2 0M581.5 505.8a2.1 2.1 0 1 0 4.2 0a2.1 2.1 0 1 0 -4.2 0M581.6 507.2a2.1 2.1 0 1 0 4.2 0a2.1 2.1 0 1 0 -4.2 0M581.8 509.0a2.1 2.1 0 1 0 4.2 0a2.1 2.1 0 1 0 -4.2 0M581.9 509.3a2.1 2.1 0 1 0 4.2 0a2.1 2.1 0 1 0 -4.2 0M582.0 510.2a2.1 2.1 0 1 0 4.2 0a2.1 2.1 0 1 0 -4.2 0M582.1 511.5a2.1 2.1 0 1 0 4.2 0a2.1 2.1 0 1 0 -4.2 0M582.3 510.5a2.1 2.1 0 1 0 4.2 0a2.1 2.1 0 1 0 -4.2 0M582.4 514.3a2.1 2.1 0 1 0 4.2 0a2.1 2.1 0 1 0 -4.2 0M582.5 513.6a2.1 2.1 0 1 0 4.2 0a2.1 2.1 0 1 0 -4.2 0M582.6 514.7a2.1 2.1 0 1 0 4.2 0a2.1 2.1 0 1 0 -4.2 0M582.8 516.4a2.1 2.1 0 1 0 4.2 0a2.1 2.1 0 1 0 -4.2 0M582.9 516.8a2.1 2.1 0 1 0 4.2 0a2.1 2.1 0 1 0 -4.2 0M583.0 517.3a2.1 2.1 0 1 0 4.2 0a2.1 2.1 0 1 0 -4.2 0M583.1 518.9a2.1 2.1 0 1 0 4.2 0a2.1 2.1 0 1 0 -4.2 0M583.3 519.7a2.1 2.1 0 1 0 4.2 0a2.1 2.1 0 1 0 -4.2 0M583.4 520.4a2.1 2.1 0 1 0 4.2 0a2.1 2.1 0 1 0 -4.2 0M583.5 523.4a2.1 2.1 0 1 0 4.2 0a2.1 2.1 0 1 0 -4.2 0M583.6 521.7a2.1 2.1 0 1 0 4.2 0a2.1 2.1 0 1 0 -4.2 0M583.8 522.1a2.1 2.1 0 1 0 4.2 0a2.1 2.1 0 1 0 -4.2 0M583.9 523.9a2.1 2.1 0 1 0 4.2 0a2.1 2.1 0 1 0 -4.2 0M584.0 524.7a2.1 2.1 0 1 0 4.2 0a2.1 2.1 0 1 0 -4.2 0M584.1 527.3a2.1 2.1 0 1 0 4.2 0a2.1 2.1 0 1 0 -4.2 0M584.3 527.1a2.1 2.1 0 1 0 4.2 0a2.1 2.1 0 1 0 -4.2 0M584.4 528.3a2.1 2.1 0 1 0 4.2 0a2.1 2.1 0 1 0 -4.2 0M584.5 528.8a2.1 2.1 0 1 0 4.2 0a2.1 2.1 0 1 0 -4.2 0M584.6 528.2a2.1 2.1 0 1 0 4.2 0a2.1 2.1 0 1 0 -4.2 0M584.8 530.1a2.1 2.1 0 1 0 4.2 0a2.1 2.1 0 1 0 -4.2 0M584.9 530.2a2.1 2.1 0 1 0 4.2 0a2.1 2.1 0 1 0 -4.2 0M585.0 532.1a2.1 2.1 0 1 0 4.2 0a2.1 2.1 0 1 0 -4.2 0M585.1 531.5a2.1 2.1 0 1 0 4.2 0a2.1 2.1 0 1 0 -4.2 0M585.3 531.9a2.1 2.1 0 1 0 4.2 0a2.1 2.1 0 1 0 -4.2 0M585.4 533.1a2.1 2.1 0 1 0 4.2 0a2.1 2.1 0 1 0 -4.2 0M585.5 533.7a2.1 2.1 0 1 0 4.2 0a2.1 2.1 0 1 0 -4.2 0M585.6 532.4a2.1 2.1 0 1 0 4.2 0a2.1 2.1 0 1 0 -4.2 0M585.8 535.3a2.1 2.1 0 1 0 4.2 0a2.1 2.1 0 1 0 -4.2 0M585.9 535.7a2.1 2.1 0 1 0 4.2 0a2.1 2.1 0 1 0 -4.2 0M586.0 536.1a2.1 2.1 0 1 0 4.2 0a2.1 2.1 0 1 0 -4.2 0M586.1 535.2a2.1 2.1 0 1 0 4.2 0a2.1 2.1 0 1 0 -4.2 0M586.3 535.1a2.1 2.1 0 1 0 4.2 0a2.1 2.1 0 1 0 -4.2 0M586.4 536.9a2.1 2.1 0 1 0 4.2 0a2.1 2.1 0 1 0 -4.2 0M586.5 538.1a2.1 2.1 0 1 0 4.2 0a2.1 2.1 0 1 0 -4.2 0M586.6 538.4a2.1 2.1 0 1 0 4.2 0a2.1 2.1 0 1 0 -4.2 0M586.8 537.8a2.1 2.1 0 1 0 4.2 0a2.1 2.1 0 1 0 -4.2 0M586.9 539.6a2.1 2.1 0 1 0 4.2 0a2.1 2.1 0 1 0 -4.2 0M587.0 538.3a2.1 2.1 0 1 0 4.2 0a2.1 2.1 0 1 0 -4.2 0M587.1 538.7a2.1 2.1 0 1 0 4.2 0a2.1 2.1 0 1 0 -4.2 0M587.3 540.0a2.1 2.1 0 1 0 4.2 0a2.1 2.1 0 1 0 -4.2 0M587.4 539.9a2.1 2.1 0 1 0 4.2 0a2.1 2.1 0 1 0 -4.2 0M587.5 540.0a2.1 2.1 0 1 0 4.2 0a2.1 2.1 0 1 0 -4.2 0M587.6 539.7a2.1 2.1 0 1 0 4.2 0a2.1 2.1 0 1 0 -4.2 0M587.8 541.8a2.1 2.1 0 1 0 4.2 0a2.1 2.1 0 1 0 -4.2 0M587.9 540.2a2.1 2.1 0 1 0 4.2 0a2.1 2.1 0 1 0 -4.2 0M588.0 541.5a2.1 2.1 0 1 0 4.2 0a2.1 2.1 0 1 0 -4.2 0M588.1 541.8a2.1 2.1 0 1 0 4.2 0a2.1 2.1 0 1 0 -4.2 0M588.3 541.1a2.1 2.1 0 1 0 4.2 0a2.1 2.1 0 1 0 -4.2 0M588.4 541.3a2.1 2.1 0 1 0 4.2 0a2.1 2.1 0 1 0 -4.2 0M588.5 541.9a2.1 2.1 0 1 0 4.2 0a2.1 2.1 0 1 0 -4.2 0M588.6 542.3a2.1 2.1 0 1 0 4.2 0a2.1 2.1 0 1 0 -4.2 0M588.8 541.7a2.1 2.1 0 1 0 4.2 0a2.1 2.1 0 1 0 -4.2 0M588.9 539.9a2.1 2.1 0 1 0 4.2 0a2.1 2.1 0 1 0 -4.2 0M589.0 539.4a2.1 2.1 0 1 0 4.2 0a2.1 2.1 0 1 0 -4.2 0M589.1 540.3a2.1 2.1 0 1 0 4.2 0a2.1 2.1 0 1 0 -4.2 0M589.3 539.8a2.1 2.1 0 1 0 4.2 0a2.1 2.1 0 1 0 -4.2 0M589.4 540.9a2.1 2.1 0 1 0 4.2 0a2.1 2.1 0 1 0 -4.2 0M589.5 540.5a2.1 2.1 0 1 0 4.2 0a2.1 2.1 0 1 0 -4.2 0M589.6 540.1a2.1 2.1 0 1 0 4.2 0a2.1 2.1 0 1 0 -4.2 0M589.8 540.9a2.1 2.1 0 1 0 4.2 0a2.1 2.1 0 1 0 -4.2 0M589.9 540.7a2.1 2.1 0 1 0 4.2 0a2.1 2.1 0 1 0 -4.2 0M590.0 539.8a2.1 2.1 0 1 0 4.2 0a2.1 2.1 0 1 0 -4.2 0M590.1 539.9a2.1 2.1 0 1 0 4.2 0a2.1 2.1 0 1 0 -4.2 0M590.3 540.3a2.1 2.1 0 1 0 4.2 0a2.1 2.1 0 1 0 -4.2 0M590.4 539.1a2.1 2.1 0 1 0 4.2 0a2.1 2.1 0 1 0 -4.2 0M590.5 539.4a2.1 2.1 0 1 0 4.2 0a2.1 2.1 0 1 0 -4.2 0M590.7 538.3a2.1 2.1 0 1 0 4.2 0a2.1 2.1 0 1 0 -4.2 0M590.8 538.9a2.1 2.1 0 1 0 4.2 0a2.1 2.1 0 1 0 -4.2 0M590.9 538.9a2.1 2.1 0 1 0 4.2 0a2.1 2.1 0 1 0 -4.2 0M591.0 538.4a2.1 2.1 0 1 0 4.2 0a2.1 2.1 0 1 0 -4.2 0M591.2 538.5a2.1 2.1 0 1 0 4.2 0a2.1 2.1 0 1 0 -4.2 0M591.3 538.7a2.1 2.1 0 1 0 4.2 0a2.1 2.1 0 1 0 -4.2 0M591.4 538.3a2.1 2.1 0 1 0 4.2 0a2.1 2.1 0 1 0 -4.2 0M591.5 537.3a2.1 2.1 0 1 0 4.2 0a2.1 2.1 0 1 0 -4.2 0M591.7 537.3a2.1 2.1 0 1 0 4.2 0a2.1 2.1 0 1 0 -4.2 0M591.8 536.6a2.1 2.1 0 1 0 4.2 0a2.1 2.1 0 1 0 -4.2 0M591.9 538.7a2.1 2.1 0 1 0 4.2 0a2.1 2.1 0 1 0 -4.2 0M592.0 537.6a2.1 2.1 0 1 0 4.2 0a2.1 2.1 0 1 0 -4.2 0M592.2 537.4a2.1 2.1 0 1 0 4.2 0a2.1 2.1 0 1 0 -4.2 0M592.3 536.8a2.1 2.1 0 1 0 4.2 0a2.1 2.1 0 1 0 -4.2 0M592.4 537.1a2.1 2.1 0 1 0 4.2 0a2.1 2.1 0 1 0 -4.2 0M592.5 537.0a2.1 2.1 0 1 0 4.2 0a2.1 2.1 0 1 0 -4.2 0M592.7 535.8a2.1 2.1 0 1 0 4.2 0a2.1 2.1 0 1 0 -4.2 0M592.8 536.1a2.1 2.1 0 1 0 4.2 0a2.1 2.1 0 1 0 -4.2 0M592.9 536.9a2.1 2.1 0 1 0 4.2 0a2.1 2.1 0 1 0 -4.2 0M593.0 534.8a2.1 2.1 0 1 0 4.2 0a2.1 2.1 0 1 0 -4.2 0M593.2 534.9a2.1 2.1 0 1 0 4.2 0a2.1 2.1 0 1 0 -4.2 0M593.3 535.8a2.1 2.1 0 1 0 4.2 0a2.1 2.1 0 1 0 -4.2 0M593.4 534.6a2.1 2.1 0 1 0 4.2 0a2.1 2.1 0 1 0 -4.2 0M593.5 535.5a2.1 2.1 0 1 0 4.2 0a2.1 2.1 0 1 0 -4.2 0M593.7 534.0a2.1 2.1 0 1 0 4.2 0a2.1 2.1 0 1 0 -4.2 0M593.8 534.7a2.1 2.1 0 1 0 4.2 0a2.1 2.1 0 1 0 -4.2 0M593.9 535.0a2.1 2.1 0 1 0 4.2 0a2.1 2.1 0 1 0 -4.2 0M594.0 534.4a2.1 2.1 0 1 0 4.2 0a2.1 2.1 0 1 0 -4.2 0M594.2 534.5a2.1 2.1 0 1 0 4.2 0a2.1 2.1 0 1 0 -4.2 0M594.3 533.6a2.1 2.1 0 1 0 4.2 0a2.1 2.1 0 1 0 -4.2 0M594.4 533.4a2.1 2.1 0 1 0 4.2 0a2.1 2.1 0 1 0 -4.2 0M594.5 533.3a2.1 2.1 0 1 0 4.2 0a2.1 2.1 0 1 0 -4.2 0M594.7 533.6a2.1 2.1 0 1 0 4.2 0a2.1 2.1 0 1 0 -4.2 0M594.8 535.6a2.1 2.1 0 1 0 4.2 0a2.1 2.1 0 1 0 -4.2 0M594.9 532.7a2.1 2.1 0 1 0 4.2 0a2.1 2.1 0 1 0 -4.2 0M595.0 534.0a2.1 2.1 0 1 0 4.2 0a2.1 2.1 0 1 0 -4.2 0M595.2 532.2a2.1 2.1 0 1 0 4.2 0a2.1 2.1 0 1 0 -4.2 0M595.3 531.4a2.1 2.1 0 1 0 4.2 0a2.1 2.1 0 1 0 -4.2 0M595.4 531.8a2.1 2.1 0 1 0 4.2 0a2.1 2.1 0 1 0 -4.2 0M595.5 532.2a2.1 2.1 0 1 0 4.2 0a2.1 2.1 0 1 0 -4.2 0M595.7 531.8a2.1 2.1 0 1 0 4.2 0a2.1 2.1 0 1 0 -4.2 0M595.8 531.7a2.1 2.1 0 1 0 4.2 0a2.1 2.1 0 1 0 -4.2 0M595.9 531.8a2.1 2.1 0 1 0 4.2 0a2.1 2.1 0 1 0 -4.2 0M596.0 531.7a2.1 2.1 0 1 0 4.2 0a2.1 2.1 0 1 0 -4.2 0M596.2 531.8a2.1 2.1 0 1 0 4.2 0a2.1 2.1 0 1 0 -4.2 0M596.3 530.2a2.1 2.1 0 1 0 4.2 0a2.1 2.1 0 1 0 -4.2 0M596.4 530.9a2.1 2.1 0 1 0 4.2 0a2.1 2.1 0 1 0 -4.2 0M596.5 530.1a2.1 2.1 0 1 0 4.2 0a2.1 2.1 0 1 0 -4.2 0M596.7 530.9a2.1 2.1 0 1 0 4.2 0a2.1 2.1 0 1 0 -4.2 0M596.8 530.6a2.1 2.1 0 1 0 4.2 0a2.1 2.1 0 1 0 -4.2 0M596.9 530.7a2.1 2.1 0 1 0 4.2 0a2.1 2.1 0 1 0 -4.2 0M597.0 530.2a2.1 2.1 0 1 0 4.2 0a2.1 2.1 0 1 0 -4.2 0M597.2 529.9a2.1 2.1 0 1 0 4.2 0a2.1 2.1 0 1 0 -4.2 0M597.3 530.3a2.1 2.1 0 1 0 4.2 0a2.1 2.1 0 1 0 -4.2 0M597.4 530.9a2.1 2.1 0 1 0 4.2 0a2.1 2.1 0 1 0 -4.2 0M597.5 531.0a2.1 2.1 0 1 0 4.2 0a2.1 2.1 0 1 0 -4.2 0M597.7 540.6a2.1 2.1 0 1 0 4.2 0a2.1 2.1 0 1 0 -4.2 0M597.8 530.5a2.1 2.1 0 1 0 4.2 0a2.1 2.1 0 1 0 -4.2 0M597.9 530.5a2.1 2.1 0 1 0 4.2 0a2.1 2.1 0 1 0 -4.2 0M598.0 509.4a2.1 2.1 0 1 0 4.2 0a2.1 2.1 0 1 0 -4.2 0M598.2 529.4a2.1 2.1 0 1 0 4.2 0a2.1 2.1 0 1 0 -4.2 0M598.3 536.8a2.1 2.1 0 1 0 4.2 0a2.1 2.1 0 1 0 -4.2 0M598.4 536.0a2.1 2.1 0 1 0 4.2 0a2.1 2.1 0 1 0 -4.2 0M598.5 548.6a2.1 2.1 0 1 0 4.2 0a2.1 2.1 0 1 0 -4.2 0M598.7 543.1a2.1 2.1 0 1 0 4.2 0a2.1 2.1 0 1 0 -4.2 0M598.8 529.6a2.1 2.1 0 1 0 4.2 0a2.1 2.1 0 1 0 -4.2 0M598.9 530.1a2.1 2.1 0 1 0 4.2 0a2.1 2.1 0 1 0 -4.2 0M599.0 534.7a2.1 2.1 0 1 0 4.2 0a2.1 2.1 0 1 0 -4.2 0M599.2 530.9a2.1 2.1 0 1 0 4.2 0a2.1 2.1 0 1 0 -4.2 0M599.3 530.9a2.1 2.1 0 1 0 4.2 0a2.1 2.1 0 1 0 -4.2 0M599.4 538.2a2.1 2.1 0 1 0 4.2 0a2.1 2.1 0 1 0 -4.2 0M599.5 530.0a2.1 2.1 0 1 0 4.2 0a2.1 2.1 0 1 0 -4.2 0M599.7 549.9a2.1 2.1 0 1 0 4.2 0a2.1 2.1 0 1 0 -4.2 0M599.8 523.1a2.1 2.1 0 1 0 4.2 0a2.1 2.1 0 1 0 -4.2 0M599.9 530.6a2.1 2.1 0 1 0 4.2 0a2.1 2.1 0 1 0 -4.2 0M600.0 554.3a2.1 2.1 0 1 0 4.2 0a2.1 2.1 0 1 0 -4.2 0M600.2 529.0a2.1 2.1 0 1 0 4.2 0a2.1 2.1 0 1 0 -4.2 0M600.3 518.0a2.1 2.1 0 1 0 4.2 0a2.1 2.1 0 1 0 -4.2 0M600.4 558.9a2.1 2.1 0 1 0 4.2 0a2.1 2.1 0 1 0 -4.2 0M600.5 536.7a2.1 2.1 0 1 0 4.2 0a2.1 2.1 0 1 0 -4.2 0M600.7 530.0a2.1 2.1 0 1 0 4.2 0a2.1 2.1 0 1 0 -4.2 0M600.8 523.1a2.1 2.1 0 1 0 4.2 0a2.1 2.1 0 1 0 -4.2 0M600.9 532.1a2.1 2.1 0 1 0 4.2 0a2.1 2.1 0 1 0 -4.2 0M601.0 543.1a2.1 2.1 0 1 0 4.2 0a2.1 2.1 0 1 0 -4.2 0M601.2 511.9a2.1 2.1 0 1 0 4.2 0a2.1 2.1 0 1 0 -4.2 0M601.3 525.9a2.1 2.1 0 1 0 4.2 0a2.1 2.1 0 1 0 -4.2 0M601.4 524.0a2.1 2.1 0 1 0 4.2 0a2.1 2.1 0 1 0 -4.2 0M601.5 550.3a2.1 2.1 0 1 0 4.2 0a2.1 2.1 0 1 0 -4.2 0M601.7 531.9a2.1 2.1 0 1 0 4.2 0a2.1 2.1 0 1 0 -4.2 0M601.8 520.9a2.1 2.1 0 1 0 4.2 0a2.1 2.1 0 1 0 -4.2 0M601.9 526.1a2.1 2.1 0 1 0 4.2 0a2.1 2.1 0 1 0 -4.2 0M602.0 518.8a2.1 2.1 0 1 0 4.2 0a2.1 2.1 0 1 0 -4.2 0M602.2 556.0a2.1 2.1 0 1 0 4.2 0a2.1 2.1 0 1 0 -4.2 0M602.3 524.0a2.1 2.1 0 1 0 4.2 0a2.1 2.1 0 1 0 -4.2 0M602.4 549.3a2.1 2.1 0 1 0 4.2 0a2.1 2.1 0 1 0 -4.2 0M602.5 546.2a2.1 2.1 0 1 0 4.2 0a2.1 2.1 0 1 0 -4.2 0M602.7 528.9a2.1 2.1 0 1 0 4.2 0a2.1 2.1 0 1 0 -4.2 0M602.8 530.4a2.1 2.1 0 1 0 4.2 0a2.1 2.1 0 1 0 -4.2 0M602.9 552.8a2.1 2.1 0 1 0 4.2 0a2.1 2.1 0 1 0 -4.2 0M603.0 519.6a2.1 2.1 0 1 0 4.2 0a2.1 2.1 0 1 0 -4.2 0M603.2 529.6a2.1 2.1 0 1 0 4.2 0a2.1 2.1 0 1 0 -4.2 0M603.3 522.6a2.1 2.1 0 1 0 4.2 0a2.1 2.1 0 1 0 -4.2 0M603.4 548.7a2.1 2.1 0 1 0 4.2 0a2.1 2.1 0 1 0 -4.2 0M603.5 555.0a2.1 2.1 0 1 0 4.2 0a2.1 2.1 0 1 0 -4.2 0M603.7 510.9a2.1 2.1 0 1 0 4.2 0a2.1 2.1 0 1 0 -4.2 0M603.8 517.0a2.1 2.1 0 1 0 4.2 0a2.1 2.1 0 1 0 -4.2 0M603.9 528.0a2.1 2.1 0 1 0 4.2 0a2.1 2.1 0 1 0 -4.2 0M604.0 538.9a2.1 2.1 0 1 0 4.2 0a2.1 2.1 0 1 0 -4.2 0M604.2 530.7a2.1 2.1 0 1 0 4.2 0a2.1 2.1 0 1 0 -4.2 0M604.3 523.7a2.1 2.1 0 1 0 4.2 0a2.1 2.1 0 1 0 -4.2 0M604.4 533.6a2.1 2.1 0 1 0 4.2 0a2.1 2.1 0 1 0 -4.2 0M604.5 534.5a2.1 2.1 0 1 0 4.2 0a2.1 2.1 0 1 0 -4.2 0M604.7 539.5a2.1 2.1 0 1 0 4.2 0a2.1 2.1 0 1 0 -4.2 0M604.8 532.2a2.1 2.1 0 1 0 4.2 0a2.1 2.1 0 1 0 -4.2 0M604.9 508.3a2.1 2.1 0 1 0 4.2 0a2.1 2.1 0 1 0 -4.2 0M605.1 514.2a2.1 2.1 0 1 0 4.2 0a2.1 2.1 0 1 0 -4.2 0M605.2 549.7a2.1 2.1 0 1 0 4.2 0a2.1 2.1 0 1 0 -4.2 0M605.3 560.1a2.1 2.1 0 1 0 4.2 0a2.1 2.1 0 1 0 -4.2 0M605.4 525.1a2.1 2.1 0 1 0 4.2 0a2.1 2.1 0 1 0 -4.2 0M605.6 545.9a2.1 2.1 0 1 0 4.2 0a2.1 2.1 0 1 0 -4.2 0M605.7 532.5a2.1 2.1 0 1 0 4.2 0a2.1 2.1 0 1 0 -4.2 0M605.8 510.0a2.1 2.1 0 1 0 4.2 0a2.1 2.1 0 1 0 -4.2 0M605.9 532.6a2.1 2.1 0 1 0 4.2 0a2.1 2.1 0 1 0 -4.2 0M606.1 528.6a2.1 2.1 0 1 0 4.2 0a2.1 2.1 0 1 0 -4.2 0M606.2 532.8a2.1 2.1 0 1 0 4.2 0a2.1 2.1 0 1 0 -4.2 0M606.3 528.4a2.1 2.1 0 1 0 4.2 0a2.1 2.1 0 1 0 -4.2 0M606.4 513.8a2.1 2.1 0 1 0 4.2 0a2.1 2.1 0 1 0 -4.2 0M606.6 532.8a2.1 2.1 0 1 0 4.2 0a2.1 2.1 0 1 0 -4.2 0M606.7 533.8a2.1 2.1 0 1 0 4.2 0a2.1 2.1 0 1 0 -4.2 0M606.8 523.3a2.1 2.1 0 1 0 4.2 0a2.1 2.1 0 1 0 -4.2 0M606.9 533.0a2.1 2.1 0 1 0 4.2 0a2.1 2.1 0 1 0 -4.2 0M607.1 548.6a2.1 2.1 0 1 0 4.2 0a2.1 2.1 0 1 0 -4.2 0M607.2 534.0a2.1 2.1 0 1 0 4.2 0a2.1 2.1 0 1 0 -4.2 0M607.3 552.9a2.1 2.1 0 1 0 4.2 0a2.1 2.1 0 1 0 -4.2 0M607.4 516.5a2.1 2.1 0 1 0 4.2 0a2.1 2.1 0 1 0 -4.2 0M607.6 533.7a2.1 2.1 0 1 0 4.2 0a2.1 2.1 0 1 0 -4.2 0M607.7 527.5a2.1 2.1 0 1 0 4.2 0a2.1 2.1 0 1 0 -4.2 0M607.8 534.7a2.1 2.1 0 1 0 4.2 0a2.1 2.1 0 1 0 -4.2 0M607.9 529.4a2.1 2.1 0 1 0 4.2 0a2.1 2.1 0 1 0 -4.2 0M608.1 512.5a2.1 2.1 0 1 0 4.2 0a2.1 2.1 0 1 0 -4.2 0M608.2 532.9a2.1 2.1 0 1 0 4.2 0a2.1 2.1 0 1 0 -4.2 0M608.3 556.4a2.1 2.1 0 1 0 4.2 0a2.1 2.1 0 1 0 -4.2 0M608.4 524.4a2.1 2.1 0 1 0 4.2 0a2.1 2.1 0 1 0 -4.2 0M608.6 536.5a2.1 2.1 0 1 0 4.2 0a2.1 2.1 0 1 0 -4.2 0M608.7 512.8a2.1 2.1 0 1 0 4.2 0a2.1 2.1 0 1 0 -4.2 0M608.8 526.1a2.1 2.1 0 1 0 4.2 0a2.1 2.1 0 1 0 -4.2 0M608.9 533.9a2.1 2.1 0 1 0 4.2 0a2.1 2.1 0 1 0 -4.2 0M609.1 530.5a2.1 2.1 0 1 0 4.2 0a2.1 2.1 0 1 0 -4.2 0M609.2 548.0a2.1 2.1 0 1 0 4.2 0a2.1 2.1 0 1 0 -4.2 0M609.3 516.9a2.1 2.1 0 1 0 4.2 0a2.1 2.1 0 1 0 -4.2 0M609.4 535.1a2.1 2.1 0 1 0 4.2 0a2.1 2.1 0 1 0 -4.2 0M609.6 535.7a2.1 2.1 0 1 0 4.2 0a2.1 2.1 0 1 0 -4.2 0M609.7 529.1a2.1 2.1 0 1 0 4.2 0a2.1 2.1 0 1 0 -4.2 0M609.8 536.4a2.1 2.1 0 1 0 4.2 0a2.1 2.1 0 1 0 -4.2 0M609.9 508.9a2.1 2.1 0 1 0 4.2 0a2.1 2.1 0 1 0 -4.2 0M610.1 544.8a2.1 2.1 0 1 0 4.2 0a2.1 2.1 0 1 0 -4.2 0M610.2 534.2a2.1 2.1 0 1 0 4.2 0a2.1 2.1 0 1 0 -4.2 0M610.3 505.7a2.1 2.1 0 1 0 4.2 0a2.1 2.1 0 1 0 -4.2 0M610.4 528.9a2.1 2.1 0 1 0 4.2 0a2.1 2.1 0 1 0 -4.2 0M610.6 524.6a2.1 2.1 0 1 0 4.2 0a2.1 2.1 0 1 0 -4.2 0M610.7 535.0a2.1 2.1 0 1 0 4.2 0a2.1 2.1 0 1 0 -4.2 0M610.8 534.6a2.1 2.1 0 1 0 4.2 0a2.1 2.1 0 1 0 -4.2 0M610.9 512.3a2.1 2.1 0 1 0 4.2 0a2.1 2.1 0 1 0 -4.2 0M611.1 520.5a2.1 2.1 0 1 0 4.2 0a2.1 2.1 0 1 0 -4.2 0M611.2 524.1a2.1 2.1 0 1 0 4.2 0a2.1 2.1 0 1 0 -4.2 0M611.3 535.7a2.1 2.1 0 1 0 4.2 0a2.1 2.1 0 1 0 -4.2 0M611.4 523.9a2.1 2.1 0 1 0 4.2 0a2.1 2.1 0 1 0 -4.2 0M611.6 535.6a2.1 2.1 0 1 0 4.2 0a2.1 2.1 0 1 0 -4.2 0M611.7 536.2a2.1 2.1 0 1 0 4.2 0a2.1 2.1 0 1 0 -4.2 0M611.8 536.9a2.1 2.1 0 1 0 4.2 0a2.1 2.1 0 1 0 -4.2 0M611.9 535.6a2.1 2.1 0 1 0 4.2 0a2.1 2.1 0 1 0 -4.2 0M612.1 536.3a2.1 2.1 0 1 0 4.2 0a2.1 2.1 0 1 0 -4.2 0M612.2 534.4a2.1 2.1 0 1 0 4.2 0a2.1 2.1 0 1 0 -4.2 0M612.3 534.0a2.1 2.1 0 1 0 4.2 0a2.1 2.1 0 1 0 -4.2 0M612.4 534.8a2.1 2.1 0 1 0 4.2 0a2.1 2.1 0 1 0 -4.2 0M612.6 532.5a2.1 2.1 0 1 0 4.2 0a2.1 2.1 0 1 0 -4.2 0M612.7 531.9a2.1 2.1 0 1 0 4.2 0a2.1 2.1 0 1 0 -4.2 0M612.8 531.9a2.1 2.1 0 1 0 4.2 0a2.1 2.1 0 1 0 -4.2 0M612.9 530.2a2.1 2.1 0 1 0 4.2 0a2.1 2.1 0 1 0 -4.2 0M613.1 529.4a2.1 2.1 0 1 0 4.2 0a2.1 2.1 0 1 0 -4.2 0M613.2 531.1a2.1 2.1 0 1 0 4.2 0a2.1 2.1 0 1 0 -4.2 0M613.3 528.8a2.1 2.1 0 1 0 4.2 0a2.1 2.1 0 1 0 -4.2 0M613.4 528.6a2.1 2.1 0 1 0 4.2 0a2.1 2.1 0 1 0 -4.2 0M613.6 527.9a2.1 2.1 0 1 0 4.2 0a2.1 2.1 0 1 0 -4.2 0M613.7 526.9a2.1 2.1 0 1 0 4.2 0a2.1 2.1 0 1 0 -4.2 0M613.8 527.4a2.1 2.1 0 1 0 4.2 0a2.1 2.1 0 1 0 -4.2 0M613.9 526.7a2.1 2.1 0 1 0 4.2 0a2.1 2.1 0 1 0 -4.2 0M614.1 526.2a2.1 2.1 0 1 0 4.2 0a2.1 2.1 0 1 0 -4.2 0M614.2 525.5a2.1 2.1 0 1 0 4.2 0a2.1 2.1 0 1 0 -4.2 0M614.3 524.3a2.1 2.1 0 1 0 4.2 0a2.1 2.1 0 1 0 -4.2 0M614.4 524.7a2.1 2.1 0 1 0 4.2 0a2.1 2.1 0 1 0 -4.2 0M614.6 523.8a2.1 2.1 0 1 0 4.2 0a2.1 2.1 0 1 0 -4.2 0M614.7 522.0a2.1 2.1 0 1 0 4.2 0a2.1 2.1 0 1 0 -4.2 0M614.8 521.9a2.1 2.1 0 1 0 4.2 0a2.1 2.1 0 1 0 -4.2 0M614.9 521.0a2.1 2.1 0 1 0 4.2 0a2.1 2.1 0 1 0 -4.2 0M615.1 522.1a2.1 2.1 0 1 0 4.2 0a2.1 2.1 0 1 0 -4.2 0M615.2 520.7a2.1 2.1 0 1 0 4.2 0a2.1 2.1 0 1 0 -4.2 0M615.3 520.0a2.1 2.1 0 1 0 4.2 0a2.1 2.1 0 1 0 -4.2 0M615.4 519.0a2.1 2.1 0 1 0 4.2 0a2.1 2.1 0 1 0 -4.2 0M615.6 518.8a2.1 2.1 0 1 0 4.2 0a2.1 2.1 0 1 0 -4.2 0M615.7 517.1a2.1 2.1 0 1 0 4.2 0a2.1 2.1 0 1 0 -4.2 0M615.8 517.3a2.1 2.1 0 1 0 4.2 0a2.1 2.1 0 1 0 -4.2 0M615.9 516.6a2.1 2.1 0 1 0 4.2 0a2.1 2.1 0 1 0 -4.2 0M616.1 516.0a2.1 2.1 0 1 0 4.2 0a2.1 2.1 0 1 0 -4.2 0M616.2 514.9a2.1 2.1 0 1 0 4.2 0a2.1 2.1 0 1 0 -4.2 0M616.3 515.1a2.1 2.1 0 1 0 4.2 0a2.1 2.1 0 1 0 -4.2 0M616.4 513.3a2.1 2.1 0 1 0 4.2 0a2.1 2.1 0 1 0 -4.2 0M616.6 513.2a2.1 2.1 0 1 0 4.2 0a2.1 2.1 0 1 0 -4.2 0M616.7 512.8a2.1 2.1 0 1 0 4.2 0a2.1 2.1 0 1 0 -4.2 0M616.8 512.2a2.1 2.1 0 1 0 4.2 0a2.1 2.1 0 1 0 -4.2 0M616.9 511.3a2.1 2.1 0 1 0 4.2 0a2.1 2.1 0 1 0 -4.2 0M617.1 510.2a2.1 2.1 0 1 0 4.2 0a2.1 2.1 0 1 0 -4.2 0M617.2 509.6a2.1 2.1 0 1 0 4.2 0a2.1 2.1 0 1 0 -4.2 0M617.3 509.4a2.1 2.1 0 1 0 4.2 0a2.1 2.1 0 1 0 -4.2 0M617.4 508.4a2.1 2.1 0 1 0 4.2 0a2.1 2.1 0 1 0 -4.2 0M617.6 508.3a2.1 2.1 0 1 0 4.2 0a2.1 2.1 0 1 0 -4.2 0M617.7 506.8a2.1 2.1 0 1 0 4.2 0a2.1 2.1 0 1 0 -4.2 0M617.8 507.1a2.1 2.1 0 1 0 4.2 0a2.1 2.1 0 1 0 -4.2 0M617.9 507.9a2.1 2.1 0 1 0 4.2 0a2.1 2.1 0 1 0 -4.2 0M618.1 504.7a2.1 2.1 0 1 0 4.2 0a2.1 2.1 0 1 0 -4.2 0M618.2 505.0a2.1 2.1 0 1 0 4.2 0a2.1 2.1 0 1 0 -4.2 0M618.3 505.2a2.1 2.1 0 1 0 4.2 0a2.1 2.1 0 1 0 -4.2 0M618.4 503.8a2.1 2.1 0 1 0 4.2 0a2.1 2.1 0 1 0 -4.2 0M618.6 503.6a2.1 2.1 0 1 0 4.2 0a2.1 2.1 0 1 0 -4.2 0M618.7 500.7a2.1 2.1 0 1 0 4.2 0a2.1 2.1 0 1 0 -4.2 0M618.8 501.2a2.1 2.1 0 1 0 4.2 0a2.1 2.1 0 1 0 -4.2 0M619.0 502.0a2.1 2.1 0 1 0 4.2 0a2.1 2.1 0 1 0 -4.2 0M619.1 499.7a2.1 2.1 0 1 0 4.2 0a2.1 2.1 0 1 0 -4.2 0M619.2 499.7a2.1 2.1 0 1 0 4.2 0a2.1 2.1 0 1 0 -4.2 0M619.3 497.3a2.1 2.1 0 1 0 4.2 0a2.1 2.1 0 1 0 -4.2 0M619.5 498.7a2.1 2.1 0 1 0 4.2 0a2.1 2.1 0 1 0 -4.2 0M619.6 498.8a2.1 2.1 0 1 0 4.2 0a2.1 2.1 0 1 0 -4.2 0M619.7 496.4a2.1 2.1 0 1 0 4.2 0a2.1 2.1 0 1 0 -4.2 0M619.8 505.3a2.1 2.1 0 1 0 4.2 0a2.1 2.1 0 1 0 -4.2 0M620.0 495.2a2.1 2.1 0 1 0 4.2 0a2.1 2.1 0 1 0 -4.2 0M620.1 495.7a2.1 2.1 0 1 0 4.2 0a2.1 2.1 0 1 0 -4.2 0M620.2 493.1a2.1 2.1 0 1 0 4.2 0a2.1 2.1 0 1 0 -4.2 0M620.3 491.4a2.1 2.1 0 1 0 4.2 0a2.1 2.1 0 1 0 -4.2 0M620.5 493.3a2.1 2.1 0 1 0 4.2 0a2.1 2.1 0 1 0 -4.2 0M620.6 490.2a2.1 2.1 0 1 0 4.2 0a2.1 2.1 0 1 0 -4.2 0M620.7 490.7a2.1 2.1 0 1 0 4.2 0a2.1 2.1 0 1 0 -4.2 0M620.8 487.8a2.1 2.1 0 1 0 4.2 0a2.1 2.1 0 1 0 -4.2 0M621.0 488.4a2.1 2.1 0 1 0 4.2 0a2.1 2.1 0 1 0 -4.2 0M621.1 488.1a2.1 2.1 0 1 0 4.2 0a2.1 2.1 0 1 0 -4.2 0M621.2 486.4a2.1 2.1 0 1 0 4.2 0a2.1 2.1 0 1 0 -4.2 0M621.3 486.0a2.1 2.1 0 1 0 4.2 0a2.1 2.1 0 1 0 -4.2 0M621.5 486.1a2.1 2.1 0 1 0 4.2 0a2.1 2.1 0 1 0 -4.2 0M621.6 484.4a2.1 2.1 0 1 0 4.2 0a2.1 2.1 0 1 0 -4.2 0M621.7 484.5a2.1 2.1 0 1 0 4.2 0a2.1 2.1 0 1 0 -4.2 0M621.8 484.7a2.1 2.1 0 1 0 4.2 0a2.1 2.1 0 1 0 -4.2 0M622.0 503.4a2.1 2.1 0 1 0 4.2 0a2.1 2.1 0 1 0 -4.2 0M622.1 482.1a2.1 2.1 0 1 0 4.2 0a2.1 2.1 0 1 0 -4.2 0M622.2 481.6a2.1 2.1 0 1 0 4.2 0a2.1 2.1 0 1 0 -4.2 0M622.3 480.1a2.1 2.1 0 1 0 4.2 0a2.1 2.1 0 1 0 -4.2 0M622.5 500.7a2.1 2.1 0 1 0 4.2 0a2.1 2.1 0 1 0 -4.2 0M622.6 479.9a2.1 2.1 0 1 0 4.2 0a2.1 2.1 0 1 0 -4.2 0M622.7 478.5a2.1 2.1 0 1 0 4.2 0a2.1 2.1 0 1 0 -4.2 0M622.8 477.8a2.1 2.1 0 1 0 4.2 0a2.1 2.1 0 1 0 -4.2 0M623.0 506.7a2.1 2.1 0 1 0 4.2 0a2.1 2.1 0 1 0 -4.2 0M623.1 475.1a2.1 2.1 0 1 0 4.2 0a2.1 2.1 0 1 0 -4.2 0M623.2 475.6a2.1 2.1 0 1 0 4.2 0a2.1 2.1 0 1 0 -4.2 0M623.3 474.1a2.1 2.1 0 1 0 4.2 0a2.1 2.1 0 1 0 -4.2 0M623.5 473.3a2.1 2.1 0 1 0 4.2 0a2.1 2.1 0 1 0 -4.2 0M623.6 473.8a2.1 2.1 0 1 0 4.2 0a2.1 2.1 0 1 0 -4.2 0M623.7 472.1a2.1 2.1 0 1 0 4.2 0a2.1 2.1 0 1 0 -4.2 0M623.8 472.3a2.1 2.1 0 1 0 4.2 0a2.1 2.1 0 1 0 -4.2 0M624.0 470.0a2.1 2.1 0 1 0 4.2 0a2.1 2.1 0 1 0 -4.2 0M624.1 485.7a2.1 2.1 0 1 0 4.2 0a2.1 2.1 0 1 0 -4.2 0M624.2 469.3a2.1 2.1 0 1 0 4.2 0a2.1 2.1 0 1 0 -4.2 0M624.3 469.6a2.1 2.1 0 1 0 4.2 0a2.1 2.1 0 1 0 -4.2 0M624.5 467.8a2.1 2.1 0 1 0 4.2 0a2.1 2.1 0 1 0 -4.2 0M624.6 467.6a2.1 2.1 0 1 0 4.2 0a2.1 2.1 0 1 0 -4.2 0M624.7 465.8a2.1 2.1 0 1 0 4.2 0a2.1 2.1 0 1 0 -4.2 0M624.8 465.6a2.1 2.1 0 1 0 4.2 0a2.1 2.1 0 1 0 -4.2 0M625.0 465.4a2.1 2.1 0 1 0 4.2 0a2.1 2.1 0 1 0 -4.2 0M625.1 463.3a2.1 2.1 0 1 0 4.2 0a2.1 2.1 0 1 0 -4.2 0M625.2 462.7a2.1 2.1 0 1 0 4.2 0a2.1 2.1 0 1 0 -4.2 0M625.3 462.9a2.1 2.1 0 1 0 4.2 0a2.1 2.1 0 1 0 -4.2 0M625.5 460.8a2.1 2.1 0 1 0 4.2 0a2.1 2.1 0 1 0 -4.2 0M625.6 461.0a2.1 2.1 0 1 0 4.2 0a2.1 2.1 0 1 0 -4.2 0M625.7 460.2a2.1 2.1 0 1 0 4.2 0a2.1 2.1 0 1 0 -4.2 0M625.8 459.0a2.1 2.1 0 1 0 4.2 0a2.1 2.1 0 1 0 -4.2 0M626.0 458.8a2.1 2.1 0 1 0 4.2 0a2.1 2.1 0 1 0 -4.2 0M626.1 457.7a2.1 2.1 0 1 0 4.2 0a2.1 2.1 0 1 0 -4.2 0M626.2 456.6a2.1 2.1 0 1 0 4.2 0a2.1 2.1 0 1 0 -4.2 0M626.3 454.4a2.1 2.1 0 1 0 4.2 0a2.1 2.1 0 1 0 -4.2 0M626.5 453.5a2.1 2.1 0 1 0 4.2 0a2.1 2.1 0 1 0 -4.2 0M626.6 453.9a2.1 2.1 0 1 0 4.2 0a2.1 2.1 0 1 0 -4.2 0M626.7 451.5a2.1 2.1 0 1 0 4.2 0a2.1 2.1 0 1 0 -4.2 0M626.8 475.5a2.1 2.1 0 1 0 4.2 0a2.1 2.1 0 1 0 -4.2 0M627.0 489.8a2.1 2.1 0 1 0 4.2 0a2.1 2.1 0 1 0 -4.2 0M627.1 449.2a2.1 2.1 0 1 0 4.2 0a2.1 2.1 0 1 0 -4.2 0M627.2 448.7a2.1 2.1 0 1 0 4.2 0a2.1 2.1 0 1 0 -4.2 0M627.3 446.2a2.1 2.1 0 1 0 4.2 0a2.1 2.1 0 1 0 -4.2 0M627.5 446.9a2.1 2.1 0 1 0 4.2 0a2.1 2.1 0 1 0 -4.2 0M627.6 513.3a2.1 2.1 0 1 0 4.2 0a2.1 2.1 0 1 0 -4.2 0M627.7 444.2a2.1 2.1 0 1 0 4.2 0a2.1 2.1 0 1 0 -4.2 0M627.8 487.0a2.1 2.1 0 1 0 4.2 0a2.1 2.1 0 1 0 -4.2 0M628.0 502.6a2.1 2.1 0 1 0 4.2 0a2.1 2.1 0 1 0 -4.2 0M628.1 444.7a2.1 2.1 0 1 0 4.2 0a2.1 2.1 0 1 0 -4.2 0M628.2 440.9a2.1 2.1 0 1 0 4.2 0a2.1 2.1 0 1 0 -4.2 0M628.3 440.2a2.1 2.1 0 1 0 4.2 0a2.1 2.1 0 1 0 -4.2 0M628.5 439.3a2.1 2.1 0 1 0 4.2 0a2.1 2.1 0 1 0 -4.2 0M628.6 438.4a2.1 2.1 0 1 0 4.2 0a2.1 2.1 0 1 0 -4.2 0M628.7 437.1a2.1 2.1 0 1 0 4.2 0a2.1 2.1 0 1 0 -4.2 0M628.8 480.4a2.1 2.1 0 1 0 4.2 0a2.1 2.1 0 1 0 -4.2 0M629.0 436.2a2.1 2.1 0 1 0 4.2 0a2.1 2.1 0 1 0 -4.2 0M629.1 436.8a2.1 2.1 0 1 0 4.2 0a2.1 2.1 0 1 0 -4.2 0M629.2 435.8a2.1 2.1 0 1 0 4.2 0a2.1 2.1 0 1 0 -4.2 0M629.3 434.1a2.1 2.1 0 1 0 4.2 0a2.1 2.1 0 1 0 -4.2 0M629.5 434.0a2.1 2.1 0 1 0 4.2 0a2.1 2.1 0 1 0 -4.2 0M629.6 434.6a2.1 2.1 0 1 0 4.2 0a2.1 2.1 0 1 0 -4.2 0M629.7 504.4a2.1 2.1 0 1 0 4.2 0a2.1 2.1 0 1 0 -4.2 0M629.8 432.5a2.1 2.1 0 1 0 4.2 0a2.1 2.1 0 1 0 -4.2 0M630.0 432.3a2.1 2.1 0 1 0 4.2 0a2.1 2.1 0 1 0 -4.2 0M630.1 430.7a2.1 2.1 0 1 0 4.2 0a2.1 2.1 0 1 0 -4.2 0M630.2 430.7a2.1 2.1 0 1 0 4.2 0a2.1 2.1 0 1 0 -4.2 0M630.3 431.0a2.1 2.1 0 1 0 4.2 0a2.1 2.1 0 1 0 -4.2 0M630.5 430.0a2.1 2.1 0 1 0 4.2 0a2.1 2.1 0 1 0 -4.2 0M630.6 479.8a2.1 2.1 0 1 0 4.2 0a2.1 2.1 0 1 0 -4.2 0M630.7 429.1a2.1 2.1 0 1 0 4.2 0a2.1 2.1 0 1 0 -4.2 0M630.8 427.2a2.1 2.1 0 1 0 4.2 0a2.1 2.1 0 1 0 -4.2 0M631.0 426.4a2.1 2.1 0 1 0 4.2 0a2.1 2.1 0 1 0 -4.2 0M631.1 425.8a2.1 2.1 0 1 0 4.2 0a2.1 2.1 0 1 0 -4.2 0M631.2 426.6a2.1 2.1 0 1 0 4.2 0a2.1 2.1 0 1 0 -4.2 0M631.3 425.4a2.1 2.1 0 1 0 4.2 0a2.1 2.1 0 1 0 -4.2 0M631.5 424.5a2.1 2.1 0 1 0 4.2 0a2.1 2.1 0 1 0 -4.2 0M631.6 423.5a2.1 2.1 0 1 0 4.2 0a2.1 2.1 0 1 0 -4.2 0M631.7 424.1a2.1 2.1 0 1 0 4.2 0a2.1 2.1 0 1 0 -4.2 0M631.8 424.0a2.1 2.1 0 1 0 4.2 0a2.1 2.1 0 1 0 -4.2 0M632.0 421.9a2.1 2.1 0 1 0 4.2 0a2.1 2.1 0 1 0 -4.2 0M632.1 421.3a2.1 2.1 0 1 0 4.2 0a2.1 2.1 0 1 0 -4.2 0M632.2 421.4a2.1 2.1 0 1 0 4.2 0a2.1 2.1 0 1 0 -4.2 0M632.3 421.7a2.1 2.1 0 1 0 4.2 0a2.1 2.1 0 1 0 -4.2 0M632.5 420.6a2.1 2.1 0 1 0 4.2 0a2.1 2.1 0 1 0 -4.2 0M632.6 420.4a2.1 2.1 0 1 0 4.2 0a2.1 2.1 0 1 0 -4.2 0M632.7 419.5a2.1 2.1 0 1 0 4.2 0a2.1 2.1 0 1 0 -4.2 0M632.8 420.6a2.1 2.1 0 1 0 4.2 0a2.1 2.1 0 1 0 -4.2 0M633.0 419.3a2.1 2.1 0 1 0 4.2 0a2.1 2.1 0 1 0 -4.2 0M633.1 419.2a2.1 2.1 0 1 0 4.2 0a2.1 2.1 0 1 0 -4.2 0M633.2 419.5a2.1 2.1 0 1 0 4.2 0a2.1 2.1 0 1 0 -4.2 0M633.4 418.3a2.1 2.1 0 1 0 4.2 0a2.1 2.1 0 1 0 -4.2 0M633.5 418.1a2.1 2.1 0 1 0 4.2 0a2.1 2.1 0 1 0 -4.2 0M633.6 418.2a2.1 2.1 0 1 0 4.2 0a2.1 2.1 0 1 0 -4.2 0M633.7 417.3a2.1 2.1 0 1 0 4.2 0a2.1 2.1 0 1 0 -4.2 0M633.9 418.4a2.1 2.1 0 1 0 4.2 0a2.1 2.1 0 1 0 -4.2 0M634.0 417.1a2.1 2.1 0 1 0 4.2 0a2.1 2.1 0 1 0 -4.2 0M634.1 416.5a2.1 2.1 0 1 0 4.2 0a2.1 2.1 0 1 0 -4.2 0M634.2 416.3a2.1 2.1 0 1 0 4.2 0a2.1 2.1 0 1 0 -4.2 0M634.4 415.5a2.1 2.1 0 1 0 4.2 0a2.1 2.1 0 1 0 -4.2 0M634.5 416.9a2.1 2.1 0 1 0 4.2 0a2.1 2.1 0 1 0 -4.2 0M634.6 416.9a2.1 2.1 0 1 0 4.2 0a2.1 2.1 0 1 0 -4.2 0M634.7 415.4a2.1 2.1 0 1 0 4.2 0a2.1 2.1 0 1 0 -4.2 0M634.9 415.0a2.1 2.1 0 1 0 4.2 0a2.1 2.1 0 1 0 -4.2 0M635.0 413.5a2.1 2.1 0 1 0 4.2 0a2.1 2.1 0 1 0 -4.2 0M635.1 414.4a2.1 2.1 0 1 0 4.2 0a2.1 2.1 0 1 0 -4.2 0M635.2 415.3a2.1 2.1 0 1 0 4.2 0a2.1 2.1 0 1 0 -4.2 0M635.4 413.8a2.1 2.1 0 1 0 4.2 0a2.1 2.1 0 1 0 -4.2 0M635.5 414.9a2.1 2.1 0 1 0 4.2 0a2.1 2.1 0 1 0 -4.2 0M635.6 415.2a2.1 2.1 0 1 0 4.2 0a2.1 2.1 0 1 0 -4.2 0M635.7 412.0a2.1 2.1 0 1 0 4.2 0a2.1 2.1 0 1 0 -4.2 0M635.9 413.5a2.1 2.1 0 1 0 4.2 0a2.1 2.1 0 1 0 -4.2 0M636.0 413.1a2.1 2.1 0 1 0 4.2 0a2.1 2.1 0 1 0 -4.2 0M636.1 413.1a2.1 2.1 0 1 0 4.2 0a2.1 2.1 0 1 0 -4.2 0M636.2 412.0a2.1 2.1 0 1 0 4.2 0a2.1 2.1 0 1 0 -4.2 0M636.4 413.1a2.1 2.1 0 1 0 4.2 0a2.1 2.1 0 1 0 -4.2 0M636.5 412.3a2.1 2.1 0 1 0 4.2 0a2.1 2.1 0 1 0 -4.2 0M636.6 413.9a2.1 2.1 0 1 0 4.2 0a2.1 2.1 0 1 0 -4.2 0M636.7 414.1a2.1 2.1 0 1 0 4.2 0a2.1 2.1 0 1 0 -4.2 0M636.9 412.0a2.1 2.1 0 1 0 4.2 0a2.1 2.1 0 1 0 -4.2 0M637.0 412.0a2.1 2.1 0 1 0 4.2 0a2.1 2.1 0 1 0 -4.2 0M637.1 412.7a2.1 2.1 0 1 0 4.2 0a2.1 2.1 0 1 0 -4.2 0M637.2 413.1a2.1 2.1 0 1 0 4.2 0a2.1 2.1 0 1 0 -4.2 0M637.4 413.3a2.1 2.1 0 1 0 4.2 0a2.1 2.1 0 1 0 -4.2 0M637.5 414.1a2.1 2.1 0 1 0 4.2 0a2.1 2.1 0 1 0 -4.2 0M637.6 412.7a2.1 2.1 0 1 0 4.2 0a2.1 2.1 0 1 0 -4.2 0M637.7 413.6a2.1 2.1 0 1 0 4.2 0a2.1 2.1 0 1 0 -4.2 0M637.9 414.1a2.1 2.1 0 1 0 4.2 0a2.1 2.1 0 1 0 -4.2 0M638.0 414.5a2.1 2.1 0 1 0 4.2 0a2.1 2.1 0 1 0 -4.2 0M638.1 414.4a2.1 2.1 0 1 0 4.2 0a2.1 2.1 0 1 0 -4.2 0M638.2 415.3a2.1 2.1 0 1 0 4.2 0a2.1 2.1 0 1 0 -4.2 0M638.4 415.6a2.1 2.1 0 1 0 4.2 0a2.1 2.1 0 1 0 -4.2 0M638.5 417.5a2.1 2.1 0 1 0 4.2 0a2.1 2.1 0 1 0 -4.2 0M638.6 416.7a2.1 2.1 0 1 0 4.2 0a2.1 2.1 0 1 0 -4.2 0M638.7 416.0a2.1 2.1 0 1 0 4.2 0a2.1 2.1 0 1 0 -4.2 0M638.9 418.6a2.1 2.1 0 1 0 4.2 0a2.1 2.1 0 1 0 -4.2 0M639.0 418.8a2.1 2.1 0 1 0 4.2 0a2.1 2.1 0 1 0 -4.2 0M639.1 418.6a2.1 2.1 0 1 0 4.2 0a2.1 2.1 0 1 0 -4.2 0M639.2 419.2a2.1 2.1 0 1 0 4.2 0a2.1 2.1 0 1 0 -4.2 0M639.4 420.0a2.1 2.1 0 1 0 4.2 0a2.1 2.1 0 1 0 -4.2 0M639.5 422.2a2.1 2.1 0 1 0 4.2 0a2.1 2.1 0 1 0 -4.2 0M639.6 421.3a2.1 2.1 0 1 0 4.2 0a2.1 2.1 0 1 0 -4.2 0M639.7 423.1a2.1 2.1 0 1 0 4.2 0a2.1 2.1 0 1 0 -4.2 0M639.9 423.4a2.1 2.1 0 1 0 4.2 0a2.1 2.1 0 1 0 -4.2 0M640.0 423.0a2.1 2.1 0 1 0 4.2 0a2.1 2.1 0 1 0 -4.2 0M640.1 424.1a2.1 2.1 0 1 0 4.2 0a2.1 2.1 0 1 0 -4.2 0M640.2 423.9a2.1 2.1 0 1 0 4.2 0a2.1 2.1 0 1 0 -4.2 0M640.4 422.7a2.1 2.1 0 1 0 4.2 0a2.1 2.1 0 1 0 -4.2 0M640.5 424.9a2.1 2.1 0 1 0 4.2 0a2.1 2.1 0 1 0 -4.2 0M640.6 425.5a2.1 2.1 0 1 0 4.2 0a2.1 2.1 0 1 0 -4.2 0M640.7 427.2a2.1 2.1 0 1 0 4.2 0a2.1 2.1 0 1 0 -4.2 0M640.9 427.5a2.1 2.1 0 1 0 4.2 0a2.1 2.1 0 1 0 -4.2 0M641.0 428.4a2.1 2.1 0 1 0 4.2 0a2.1 2.1 0 1 0 -4.2 0M641.1 428.5a2.1 2.1 0 1 0 4.2 0a2.1 2.1 0 1 0 -4.2 0M641.2 429.5a2.1 2.1 0 1 0 4.2 0a2.1 2.1 0 1 0 -4.2 0M641.4 429.8a2.1 2.1 0 1 0 4.2 0a2.1 2.1 0 1 0 -4.2 0M641.5 430.0a2.1 2.1 0 1 0 4.2 0a2.1 2.1 0 1 0 -4.2 0M641.6 431.2a2.1 2.1 0 1 0 4.2 0a2.1 2.1 0 1 0 -4.2 0M641.7 432.1a2.1 2.1 0 1 0 4.2 0a2.1 2.1 0 1 0 -4.2 0M641.9 432.7a2.1 2.1 0 1 0 4.2 0a2.1 2.1 0 1 0 -4.2 0M642.0 432.0a2.1 2.1 0 1 0 4.2 0a2.1 2.1 0 1 0 -4.2 0M642.1 432.9a2.1 2.1 0 1 0 4.2 0a2.1 2.1 0 1 0 -4.2 0M642.2 432.8a2.1 2.1 0 1 0 4.2 0a2.1 2.1 0 1 0 -4.2 0M642.4 433.4a2.1 2.1 0 1 0 4.2 0a2.1 2.1 0 1 0 -4.2 0M642.5 435.0a2.1 2.1 0 1 0 4.2 0a2.1 2.1 0 1 0 -4.2 0M642.6 434.9a2.1 2.1 0 1 0 4.2 0a2.1 2.1 0 1 0 -4.2 0M642.7 437.1a2.1 2.1 0 1 0 4.2 0a2.1 2.1 0 1 0 -4.2 0M642.9 435.0a2.1 2.1 0 1 0 4.2 0a2.1 2.1 0 1 0 -4.2 0M643.0 436.4a2.1 2.1 0 1 0 4.2 0a2.1 2.1 0 1 0 -4.2 0M643.1 438.1a2.1 2.1 0 1 0 4.2 0a2.1 2.1 0 1 0 -4.2 0M643.2 439.4a2.1 2.1 0 1 0 4.2 0a2.1 2.1 0 1 0 -4.2 0M643.4 438.9a2.1 2.1 0 1 0 4.2 0a2.1 2.1 0 1 0 -4.2 0M643.5 441.1a2.1 2.1 0 1 0 4.2 0a2.1 2.1 0 1 0 -4.2 0M643.6 440.9a2.1 2.1 0 1 0 4.2 0a2.1 2.1 0 1 0 -4.2 0M643.7 440.4a2.1 2.1 0 1 0 4.2 0a2.1 2.1 0 1 0 -4.2 0M643.9 441.5a2.1 2.1 0 1 0 4.2 0a2.1 2.1 0 1 0 -4.2 0M644.0 442.5a2.1 2.1 0 1 0 4.2 0a2.1 2.1 0 1 0 -4.2 0M644.1 442.0a2.1 2.1 0 1 0 4.2 0a2.1 2.1 0 1 0 -4.2 0M644.2 444.0a2.1 2.1 0 1 0 4.2 0a2.1 2.1 0 1 0 -4.2 0M644.4 443.6a2.1 2.1 0 1 0 4.2 0a2.1 2.1 0 1 0 -4.2 0M644.5 444.7a2.1 2.1 0 1 0 4.2 0a2.1 2.1 0 1 0 -4.2 0M644.6 445.5a2.1 2.1 0 1 0 4.2 0a2.1 2.1 0 1 0 -4.2 0M644.7 445.1a2.1 2.1 0 1 0 4.2 0a2.1 2.1 0 1 0 -4.2 0M644.9 446.7a2.1 2.1 0 1 0 4.2 0a2.1 2.1 0 1 0 -4.2 0M645.0 445.0a2.1 2.1 0 1 0 4.2 0a2.1 2.1 0 1 0 -4.2 0M645.1 447.3a2.1 2.1 0 1 0 4.2 0a2.1 2.1 0 1 0 -4.2 0M645.2 445.9a2.1 2.1 0 1 0 4.2 0a2.1 2.1 0 1 0 -4.2 0M645.4 448.6a2.1 2.1 0 1 0 4.2 0a2.1 2.1 0 1 0 -4.2 0M645.5 488.0a2.1 2.1 0 1 0 4.2 0a2.1 2.1 0 1 0 -4.2 0M645.6 450.7a2.1 2.1 0 1 0 4.2 0a2.1 2.1 0 1 0 -4.2 0M645.7 450.1a2.1 2.1 0 1 0 4.2 0a2.1 2.1 0 1 0 -4.2 0M645.9 516.5a2.1 2.1 0 1 0 4.2 0a2.1 2.1 0 1 0 -4.2 0M646.0 481.2a2.1 2.1 0 1 0 4.2 0a2.1 2.1 0 1 0 -4.2 0M646.1 451.3a2.1 2.1 0 1 0 4.2 0a2.1 2.1 0 1 0 -4.2 0M646.2 452.6a2.1 2.1 0 1 0 4.2 0a2.1 2.1 0 1 0 -4.2 0M646.4 451.8a2.1 2.1 0 1 0 4.2 0a2.1 2.1 0 1 0 -4.2 0M646.5 455.2a2.1 2.1 0 1 0 4.2 0a2.1 2.1 0 1 0 -4.2 0M646.6 451.8a2.1 2.1 0 1 0 4.2 0a2.1 2.1 0 1 0 -4.2 0M646.7 472.7a2.1 2.1 0 1 0 4.2 0a2.1 2.1 0 1 0 -4.2 0M646.9 454.2a2.1 2.1 0 1 0 4.2 0a2.1 2.1 0 1 0 -4.2 0M647.0 527.4a2.1 2.1 0 1 0 4.2 0a2.1 2.1 0 1 0 -4.2 0M647.1 520.6a2.1 2.1 0 1 0 4.2 0a2.1 2.1 0 1 0 -4.2 0M647.2 454.3a2.1 2.1 0 1 0 4.2 0a2.1 2.1 0 1 0 -4.2 0M647.4 455.1a2.1 2.1 0 1 0 4.2 0a2.1 2.1 0 1 0 -4.2 0M647.5 478.9a2.1 2.1 0 1 0 4.2 0a2.1 2.1 0 1 0 -4.2 0M647.6 456.1a2.1 2.1 0 1 0 4.2 0a2.1 2.1 0 1 0 -4.2 0M647.8 455.1a2.1 2.1 0 1 0 4.2 0a2.1 2.1 0 1 0 -4.2 0M647.9 456.1a2.1 2.1 0 1 0 4.2 0a2.1 2.1 0 1 0 -4.2 0M648.0 464.9a2.1 2.1 0 1 0 4.2 0a2.1 2.1 0 1 0 -4.2 0M648.1 457.0a2.1 2.1 0 1 0 4.2 0a2.1 2.1 0 1 0 -4.2 0M648.3 455.8a2.1 2.1 0 1 0 4.2 0a2.1 2.1 0 1 0 -4.2 0M648.4 457.5a2.1 2.1 0 1 0 4.2 0a2.1 2.1 0 1 0 -4.2 0M648.5 477.7a2.1 2.1 0 1 0 4.2 0a2.1 2.1 0 1 0 -4.2 0M648.6 457.0a2.1 2.1 0 1 0 4.2 0a2.1 2.1 0 1 0 -4.2 0M648.8 458.0a2.1 2.1 0 1 0 4.2 0a2.1 2.1 0 1 0 -4.2 0M648.9 458.7a2.1 2.1 0 1 0 4.2 0a2.1 2.1 0 1 0 -4.2 0M649.0 503.3a2.1 2.1 0 1 0 4.2 0a2.1 2.1 0 1 0 -4.2 0M649.1 494.3a2.1 2.1 0 1 0 4.2 0a2.1 2.1 0 1 0 -4.2 0M649.3 460.6a2.1 2.1 0 1 0 4.2 0a2.1 2.1 0 1 0 -4.2 0M649.4 460.5a2.1 2.1 0 1 0 4.2 0a2.1 2.1 0 1 0 -4.2 0M649.5 453.6a2.1 2.1 0 1 0 4.2 0a2.1 2.1 0 1 0 -4.2 0M649.6 470.8a2.1 2.1 0 1 0 4.2 0a2.1 2.1 0 1 0 -4.2 0M649.8 460.7a2.1 2.1 0 1 0 4.2 0a2.1 2.1 0 1 0 -4.2 0M649.9 465.8a2.1 2.1 0 1 0 4.2 0a2.1 2.1 0 1 0 -4.2 0M650.0 503.9a2.1 2.1 0 1 0 4.2 0a2.1 2.1 0 1 0 -4.2 0M650.1 462.9a2.1 2.1 0 1 0 4.2 0a2.1 2.1 0 1 0 -4.2 0M650.3 480.3a2.1 2.1 0 1 0 4.2 0a2.1 2.1 0 1 0 -4.2 0M650.4 509.9a2.1 2.1 0 1 0 4.2 0a2.1 2.1 0 1 0 -4.2 0M650.5 463.8a2.1 2.1 0 1 0 4.2 0a2.1 2.1 0 1 0 -4.2 0M650.6 523.0a2.1 2.1 0 1 0 4.2 0a2.1 2.1 0 1 0 -4.2 0M650.8 433.3a2.1 2.1 0 1 0 4.2 0a2.1 2.1 0 1 0 -4.2 0M650.9 464.9a2.1 2.1 0 1 0 4.2 0a2.1 2.1 0 1 0 -4.2 0M651.0 465.1a2.1 2.1 0 1 0 4.2 0a2.1 2.1 0 1 0 -4.2 0M651.1 529.1a2.1 2.1 0 1 0 4.2 0a2.1 2.1 0 1 0 -4.2 0M651.3 464.8a2.1 2.1 0 1 0 4.2 0a2.1 2.1 0 1 0 -4.2 0M651.4 476.6a2.1 2.1 0 1 0 4.2 0a2.1 2.1 0 1 0 -4.2 0M651.5 434.7a2.1 2.1 0 1 0 4.2 0a2.1 2.1 0 1 0 -4.2 0M651.6 465.9a2.1 2.1 0 1 0 4.2 0a2.1 2.1 0 1 0 -4.2 0M651.8 466.8a2.1 2.1 0 1 0 4.2 0a2.1 2.1 0 1 0 -4.2 0M651.9 509.6a2.1 2.1 0 1 0 4.2 0a2.1 2.1 0 1 0 -4.2 0M652.0 465.2a2.1 2.1 0 1 0 4.2 0a2.1 2.1 0 1 0 -4.2 0M652.1 460.6a2.1 2.1 0 1 0 4.2 0a2.1 2.1 0 1 0 -4.2 0M652.3 498.5a2.1 2.1 0 1 0 4.2 0a2.1 2.1 0 1 0 -4.2 0M652.4 466.5a2.1 2.1 0 1 0 4.2 0a2.1 2.1 0 1 0 -4.2 0M652.5 466.7a2.1 2.1 0 1 0 4.2 0a2.1 2.1 0 1 0 -4.2 0M652.6 506.3a2.1 2.1 0 1 0 4.2 0a2.1 2.1 0 1 0 -4.2 0M652.8 503.7a2.1 2.1 0 1 0 4.2 0a2.1 2.1 0 1 0 -4.2 0M652.9 499.2a2.1 2.1 0 1 0 4.2 0a2.1 2.1 0 1 0 -4.2 0M653.0 462.0a2.1 2.1 0 1 0 4.2 0a2.1 2.1 0 1 0 -4.2 0M653.1 469.5a2.1 2.1 0 1 0 4.2 0a2.1 2.1 0 1 0 -4.2 0M653.3 469.2a2.1 2.1 0 1 0 4.2 0a2.1 2.1 0 1 0 -4.2 0M653.4 469.9a2.1 2.1 0 1 0 4.2 0a2.1 2.1 0 1 0 -4.2 0M653.5 470.5a2.1 2.1 0 1 0 4.2 0a2.1 2.1 0 1 0 -4.2 0M653.6 469.7a2.1 2.1 0 1 0 4.2 0a2.1 2.1 0 1 0 -4.2 0M653.8 471.6a2.1 2.1 0 1 0 4.2 0a2.1 2.1 0 1 0 -4.2 0M653.9 472.2a2.1 2.1 0 1 0 4.2 0a2.1 2.1 0 1 0 -4.2 0M654.0 471.2a2.1 2.1 0 1 0 4.2 0a2.1 2.1 0 1 0 -4.2 0M654.1 471.6a2.1 2.1 0 1 0 4.2 0a2.1 2.1 0 1 0 -4.2 0M654.3 471.8a2.1 2.1 0 1 0 4.2 0a2.1 2.1 0 1 0 -4.2 0M654.4 447.7a2.1 2.1 0 1 0 4.2 0a2.1 2.1 0 1 0 -4.2 0M654.5 472.6a2.1 2.1 0 1 0 4.2 0a2.1 2.1 0 1 0 -4.2 0M654.6 470.8a2.1 2.1 0 1 0 4.2 0a2.1 2.1 0 1 0 -4.2 0M654.8 477.3a2.1 2.1 0 1 0 4.2 0a2.1 2.1 0 1 0 -4.2 0M654.9 475.7a2.1 2.1 0 1 0 4.2 0a2.1 2.1 0 1 0 -4.2 0M655.0 473.6a2.1 2.1 0 1 0 4.2 0a2.1 2.1 0 1 0 -4.2 0M655.1 476.0a2.1 2.1 0 1 0 4.2 0a2.1 2.1 0 1 0 -4.2 0M655.3 437.5a2.1 2.1 0 1 0 4.2 0a2.1 2.1 0 1 0 -4.2 0M655.4 496.1a2.1 2.1 0 1 0 4.2 0a2.1 2.1 0 1 0 -4.2 0M655.5 515.7a2.1 2.1 0 1 0 4.2 0a2.1 2.1 0 1 0 -4.2 0M655.6 478.2a2.1 2.1 0 1 0 4.2 0a2.1 2.1 0 1 0 -4.2 0M655.8 478.9a2.1 2.1 0 1 0 4.2 0a2.1 2.1 0 1 0 -4.2 0M655.9 478.2a2.1 2.1 0 1 0 4.2 0a2.1 2.1 0 1 0 -4.2 0M656.0 478.7a2.1 2.1 0 1 0 4.2 0a2.1 2.1 0 1 0 -4.2 0M656.1 479.2a2.1 2.1 0 1 0 4.2 0a2.1 2.1 0 1 0 -4.2 0M656.3 472.8a2.1 2.1 0 1 0 4.2 0a2.1 2.1 0 1 0 -4.2 0M656.4 481.1a2.1 2.1 0 1 0 4.2 0a2.1 2.1 0 1 0 -4.2 0M656.5 465.5a2.1 2.1 0 1 0 4.2 0a2.1 2.1 0 1 0 -4.2 0M656.6 518.8a2.1 2.1 0 1 0 4.2 0a2.1 2.1 0 1 0 -4.2 0M656.8 483.3a2.1 2.1 0 1 0 4.2 0a2.1 2.1 0 1 0 -4.2 0M656.9 482.7a2.1 2.1 0 1 0 4.2 0a2.1 2.1 0 1 0 -4.2 0M657.0 482.7a2.1 2.1 0 1 0 4.2 0a2.1 2.1 0 1 0 -4.2 0M657.1 485.2a2.1 2.1 0 1 0 4.2 0a2.1 2.1 0 1 0 -4.2 0M657.3 483.4a2.1 2.1 0 1 0 4.2 0a2.1 2.1 0 1 0 -4.2 0M657.4 486.6a2.1 2.1 0 1 0 4.2 0a2.1 2.1 0 1 0 -4.2 0M657.5 499.9a2.1 2.1 0 1 0 4.2 0a2.1 2.1 0 1 0 -4.2 0M657.6 486.7a2.1 2.1 0 1 0 4.2 0a2.1 2.1 0 1 0 -4.2 0M657.8 486.7a2.1 2.1 0 1 0 4.2 0a2.1 2.1 0 1 0 -4.2 0M657.9 487.7a2.1 2.1 0 1 0 4.2 0a2.1 2.1 0 1 0 -4.2 0M658.0 431.1a2.1 2.1 0 1 0 4.2 0a2.1 2.1 0 1 0 -4.2 0M658.1 457.9a2.1 2.1 0 1 0 4.2 0a2.1 2.1 0 1 0 -4.2 0M658.3 486.4a2.1 2.1 0 1 0 4.2 0a2.1 2.1 0 1 0 -4.2 0M658.4 440.8a2.1 2.1 0 1 0 4.2 0a2.1 2.1 0 1 0 -4.2 0M658.5 490.6a2.1 2.1 0 1 0 4.2 0a2.1 2.1 0 1 0 -4.2 0M658.6 492.3a2.1 2.1 0 1 0 4.2 0a2.1 2.1 0 1 0 -4.2 0M658.8 494.3a2.1 2.1 0 1 0 4.2 0a2.1 2.1 0 1 0 -4.2 0M658.9 433.5a2.1 2.1 0 1 0 4.2 0a2.1 2.1 0 1 0 -4.2 0M659.0 486.6a2.1 2.1 0 1 0 4.2 0a2.1 2.1 0 1 0 -4.2 0M659.1 492.8a2.1 2.1 0 1 0 4.2 0a2.1 2.1 0 1 0 -4.2 0M659.3 488.8a2.1 2.1 0 1 0 4.2 0a2.1 2.1 0 1 0 -4.2 0M659.4 513.0a2.1 2.1 0 1 0 4.2 0a2.1 2.1 0 1 0 -4.2 0M659.5 494.2a2.1 2.1 0 1 0 4.2 0a2.1 2.1 0 1 0 -4.2 0M659.6 493.4a2.1 2.1 0 1 0 4.2 0a2.1 2.1 0 1 0 -4.2 0M659.8 494.8a2.1 2.1 0 1 0 4.2 0a2.1 2.1 0 1 0 -4.2 0M659.9 495.5a2.1 2.1 0 1 0 4.2 0a2.1 2.1 0 1 0 -4.2 0M660.0 496.2a2.1 2.1 0 1 0 4.2 0a2.1 2.1 0 1 0 -4.2 0M660.1 496.5a2.1 2.1 0 1 0 4.2 0a2.1 2.1 0 1 0 -4.2 0M660.3 496.1a2.1 2.1 0 1 0 4.2 0a2.1 2.1 0 1 0 -4.2 0M660.4 496.6a2.1 2.1 0 1 0 4.2 0a2.1 2.1 0 1 0 -4.2 0M660.5 496.0a2.1 2.1 0 1 0 4.2 0a2.1 2.1 0 1 0 -4.2 0M660.6 497.7a2.1 2.1 0 1 0 4.2 0a2.1 2.1 0 1 0 -4.2 0M660.8 496.8a2.1 2.1 0 1 0 4.2 0a2.1 2.1 0 1 0 -4.2 0M660.9 497.8a2.1 2.1 0 1 0 4.2 0a2.1 2.1 0 1 0 -4.2 0M661.0 498.3a2.1 2.1 0 1 0 4.2 0a2.1 2.1 0 1 0 -4.2 0M661.1 500.2a2.1 2.1 0 1 0 4.2 0a2.1 2.1 0 1 0 -4.2 0M661.3 500.0a2.1 2.1 0 1 0 4.2 0a2.1 2.1 0 1 0 -4.2 0M661.4 498.9a2.1 2.1 0 1 0 4.2 0a2.1 2.1 0 1 0 -4.2 0M661.5 498.8a2.1 2.1 0 1 0 4.2 0a2.1 2.1 0 1 0 -4.2 0M661.7 500.0a2.1 2.1 0 1 0 4.2 0a2.1 2.1 0 1 0 -4.2 0M661.8 500.0a2.1 2.1 0 1 0 4.2 0a2.1 2.1 0 1 0 -4.2 0M661.9 501.2a2.1 2.1 0 1 0 4.2 0a2.1 2.1 0 1 0 -4.2 0M662.0 501.5a2.1 2.1 0 1 0 4.2 0a2.1 2.1 0 1 0 -4.2 0M662.2 502.0a2.1 2.1 0 1 0 4.2 0a2.1 2.1 0 1 0 -4.2 0M662.3 501.2a2.1 2.1 0 1 0 4.2 0a2.1 2.1 0 1 0 -4.2 0M662.4 502.0a2.1 2.1 0 1 0 4.2 0a2.1 2.1 0 1 0 -4.2 0M662.5 502.7a2.1 2.1 0 1 0 4.2 0a2.1 2.1 0 1 0 -4.2 0M662.7 503.1a2.1 2.1 0 1 0 4.2 0a2.1 2.1 0 1 0 -4.2 0M662.8 502.8a2.1 2.1 0 1 0 4.2 0a2.1 2.1 0 1 0 -4.2 0M662.9 503.3a2.1 2.1 0 1 0 4.2 0a2.1 2.1 0 1 0 -4.2 0M663.0 504.4a2.1 2.1 0 1 0 4.2 0a2.1 2.1 0 1 0 -4.2 0M663.2 502.9a2.1 2.1 0 1 0 4.2 0a2.1 2.1 0 1 0 -4.2 0M663.3 504.2a2.1 2.1 0 1 0 4.2 0a2.1 2.1 0 1 0 -4.2 0M663.4 504.7a2.1 2.1 0 1 0 4.2 0a2.1 2.1 0 1 0 -4.2 0M663.5 503.9a2.1 2.1 0 1 0 4.2 0a2.1 2.1 0 1 0 -4.2 0M663.7 504.5a2.1 2.1 0 1 0 4.2 0a2.1 2.1 0 1 0 -4.2 0M663.8 505.6a2.1 2.1 0 1 0 4.2 0a2.1 2.1 0 1 0 -4.2 0M663.9 505.4a2.1 2.1 0 1 0 4.2 0a2.1 2.1 0 1 0 -4.2 0M664.0 506.9a2.1 2.1 0 1 0 4.2 0a2.1 2.1 0 1 0 -4.2 0M664.2 506.8a2.1 2.1 0 1 0 4.2 0a2.1 2.1 0 1 0 -4.2 0M664.3 508.3a2.1 2.1 0 1 0 4.2 0a2.1 2.1 0 1 0 -4.2 0M664.4 506.0a2.1 2.1 0 1 0 4.2 0a2.1 2.1 0 1 0 -4.2 0M664.5 508.5a2.1 2.1 0 1 0 4.2 0a2.1 2.1 0 1 0 -4.2 0M664.7 506.8a2.1 2.1 0 1 0 4.2 0a2.1 2.1 0 1 0 -4.2 0M664.8 511.0a2.1 2.1 0 1 0 4.2 0a2.1 2.1 0 1 0 -4.2 0M664.9 504.6a2.1 2.1 0 1 0 4.2 0a2.1 2.1 0 1 0 -4.2 0M665.0 521.5a2.1 2.1 0 1 0 4.2 0a2.1 2.1 0 1 0 -4.2 0M665.2 538.0a2.1 2.1 0 1 0 4.2 0a2.1 2.1 0 1 0 -4.2 0M665.3 484.9a2.1 2.1 0 1 0 4.2 0a2.1 2.1 0 1 0 -4.2 0M665.4 506.4a2.1 2.1 0 1 0 4.2 0a2.1 2.1 0 1 0 -4.2 0M665.5 544.8a2.1 2.1 0 1 0 4.2 0a2.1 2.1 0 1 0 -4.2 0M665.7 497.8a2.1 2.1 0 1 0 4.2 0a2.1 2.1 0 1 0 -4.2 0M665.8 499.2a2.1 2.1 0 1 0 4.2 0a2.1 2.1 0 1 0 -4.2 0M665.9 483.5a2.1 2.1 0 1 0 4.2 0a2.1 2.1 0 1 0 -4.2 0M666.0 541.3a2.1 2.1 0 1 0 4.2 0a2.1 2.1 0 1 0 -4.2 0M666.2 520.0a2.1 2.1 0 1 0 4.2 0a2.1 2.1 0 1 0 -4.2 0M666.3 505.4a2.1 2.1 0 1 0 4.2 0a2.1 2.1 0 1 0 -4.2 0M666.4 484.9a2.1 2.1 0 1 0 4.2 0a2.1 2.1 0 1 0 -4.2 0M666.5 510.7a2.1 2.1 0 1 0 4.2 0a2.1 2.1 0 1 0 -4.2 0M666.7 489.3a2.1 2.1 0 1 0 4.2 0a2.1 2.1 0 1 0 -4.2 0M666.8 504.9a2.1 2.1 0 1 0 4.2 0a2.1 2.1 0 1 0 -4.2 0M666.9 493.2a2.1 2.1 0 1 0 4.2 0a2.1 2.1 0 1 0 -4.2 0M667.0 543.8a2.1 2.1 0 1 0 4.2 0a2.1 2.1 0 1 0 -4.2 0M667.2 548.0a2.1 2.1 0 1 0 4.2 0a2.1 2.1 0 1 0 -4.2 0M667.3 503.0a2.1 2.1 0 1 0 4.2 0a2.1 2.1 0 1 0 -4.2 0M667.4 541.6a2.1 2.1 0 1 0 4.2 0a2.1 2.1 0 1 0 -4.2 0M667.5 534.5a2.1 2.1 0 1 0 4.2 0a2.1 2.1 0 1 0 -4.2 0M667.7 522.9a2.1 2.1 0 1 0 4.2 0a2.1 2.1 0 1 0 -4.2 0M667.8 528.3a2.1 2.1 0 1 0 4.2 0a2.1 2.1 0 1 0 -4.2 0M667.9 527.1a2.1 2.1 0 1 0 4.2 0a2.1 2.1 0 1 0 -4.2 0M668.0 507.8a2.1 2.1 0 1 0 4.2 0a2.1 2.1 0 1 0 -4.2 0M668.2 548.9a2.1 2.1 0 1 0 4.2 0a2.1 2.1 0 1 0 -4.2 0M668.3 532.4a2.1 2.1 0 1 0 4.2 0a2.1 2.1 0 1 0 -4.2 0M668.4 519.9a2.1 2.1 0 1 0 4.2 0a2.1 2.1 0 1 0 -4.2 0M668.5 532.7a2.1 2.1 0 1 0 4.2 0a2.1 2.1 0 1 0 -4.2 0M668.7 518.8a2.1 2.1 0 1 0 4.2 0a2.1 2.1 0 1 0 -4.2 0M668.8 526.8a2.1 2.1 0 1 0 4.2 0a2.1 2.1 0 1 0 -4.2 0M668.9 500.4a2.1 2.1 0 1 0 4.2 0a2.1 2.1 0 1 0 -4.2 0M669.0 523.0a2.1 2.1 0 1 0 4.2 0a2.1 2.1 0 1 0 -4.2 0M669.2 553.2a2.1 2.1 0 1 0 4.2 0a2.1 2.1 0 1 0 -4.2 0M669.3 525.8a2.1 2.1 0 1 0 4.2 0a2.1 2.1 0 1 0 -4.2 0M669.4 503.2a2.1 2.1 0 1 0 4.2 0a2.1 2.1 0 1 0 -4.2 0M669.5 521.3a2.1 2.1 0 1 0 4.2 0a2.1 2.1 0 1 0 -4.2 0M669.7 509.0a2.1 2.1 0 1 0 4.2 0a2.1 2.1 0 1 0 -4.2 0M669.8 517.1a2.1 2.1 0 1 0 4.2 0a2.1 2.1 0 1 0 -4.2 0M669.9 530.2a2.1 2.1 0 1 0 4.2 0a2.1 2.1 0 1 0 -4.2 0M670.0 549.2a2.1 2.1 0 1 0 4.2 0a2.1 2.1 0 1 0 -4.2 0M670.2 538.6a2.1 2.1 0 1 0 4.2 0a2.1 2.1 0 1 0 -4.2 0M670.3 561.7a2.1 2.1 0 1 0 4.2 0a2.1 2.1 0 1 0 -4.2 0M670.4 543.5a2.1 2.1 0 1 0 4.2 0a2.1 2.1 0 1 0 -4.2 0M670.5 515.4a2.1 2.1 0 1 0 4.2 0a2.1 2.1 0 1 0 -4.2 0M670.7 515.3a2.1 2.1 0 1 0 4.2 0a2.1 2.1 0 1 0 -4.2 0M670.8 523.0a2.1 2.1 0 1 0 4.2 0a2.1 2.1 0 1 0 -4.2 0M670.9 515.5a2.1 2.1 0 1 0 4.2 0a2.1 2.1 0 1 0 -4.2 0M671.0 540.2a2.1 2.1 0 1 0 4.2 0a2.1 2.1 0 1 0 -4.2 0M671.2 520.2a2.1 2.1 0 1 0 4.2 0a2.1 2.1 0 1 0 -4.2 0M671.3 484.7a2.1 2.1 0 1 0 4.2 0a2.1 2.1 0 1 0 -4.2 0M671.4 513.6a2.1 2.1 0 1 0 4.2 0a2.1 2.1 0 1 0 -4.2 0M671.5 514.6a2.1 2.1 0 1 0 4.2 0a2.1 2.1 0 1 0 -4.2 0M671.7 534.6a2.1 2.1 0 1 0 4.2 0a2.1 2.1 0 1 0 -4.2 0M671.8 514.5a2.1 2.1 0 1 0 4.2 0a2.1 2.1 0 1 0 -4.2 0M671.9 516.3a2.1 2.1 0 1 0 4.2 0a2.1 2.1 0 1 0 -4.2 0M672.0 515.1a2.1 2.1 0 1 0 4.2 0a2.1 2.1 0 1 0 -4.2 0M672.2 514.9a2.1 2.1 0 1 0 4.2 0a2.1 2.1 0 1 0 -4.2 0M672.3 514.0a2.1 2.1 0 1 0 4.2 0a2.1 2.1 0 1 0 -4.2 0M672.4 514.7a2.1 2.1 0 1 0 4.2 0a2.1 2.1 0 1 0 -4.2 0M672.5 515.5a2.1 2.1 0 1 0 4.2 0a2.1 2.1 0 1 0 -4.2 0M672.7 515.9a2.1 2.1 0 1 0 4.2 0a2.1 2.1 0 1 0 -4.2 0M672.8 515.5a2.1 2.1 0 1 0 4.2 0a2.1 2.1 0 1 0 -4.2 0M672.9 515.9a2.1 2.1 0 1 0 4.2 0a2.1 2.1 0 1 0 -4.2 0M673.0 514.8a2.1 2.1 0 1 0 4.2 0a2.1 2.1 0 1 0 -4.2 0M673.2 515.2a2.1 2.1 0 1 0 4.2 0a2.1 2.1 0 1 0 -4.2 0M673.3 516.6a2.1 2.1 0 1 0 4.2 0a2.1 2.1 0 1 0 -4.2 0M673.4 516.5a2.1 2.1 0 1 0 4.2 0a2.1 2.1 0 1 0 -4.2 0M673.5 515.0a2.1 2.1 0 1 0 4.2 0a2.1 2.1 0 1 0 -4.2 0M673.7 515.8a2.1 2.1 0 1 0 4.2 0a2.1 2.1 0 1 0 -4.2 0M673.8 516.3a2.1 2.1 0 1 0 4.2 0a2.1 2.1 0 1 0 -4.2 0M673.9 515.3a2.1 2.1 0 1 0 4.2 0a2.1 2.1 0 1 0 -4.2 0M674.0 516.4a2.1 2.1 0 1 0 4.2 0a2.1 2.1 0 1 0 -4.2 0M674.2 516.4a2.1 2.1 0 1 0 4.2 0a2.1 2.1 0 1 0 -4.2 0M674.3 516.5a2.1 2.1 0 1 0 4.2 0a2.1 2.1 0 1 0 -4.2 0M674.4 517.7a2.1 2.1 0 1 0 4.2 0a2.1 2.1 0 1 0 -4.2 0M674.5 515.6a2.1 2.1 0 1 0 4.2 0a2.1 2.1 0 1 0 -4.2 0M674.7 517.1a2.1 2.1 0 1 0 4.2 0a2.1 2.1 0 1 0 -4.2 0M674.8 516.7a2.1 2.1 0 1 0 4.2 0a2.1 2.1 0 1 0 -4.2 0M674.9 516.8a2.1 2.1 0 1 0 4.2 0a2.1 2.1 0 1 0 -4.2 0M675.0 515.8a2.1 2.1 0 1 0 4.2 0a2.1 2.1 0 1 0 -4.2 0M675.2 516.3a2.1 2.1 0 1 0 4.2 0a2.1 2.1 0 1 0 -4.2 0M675.3 516.3a2.1 2.1 0 1 0 4.2 0a2.1 2.1 0 1 0 -4.2 0M675.4 517.5a2.1 2.1 0 1 0 4.2 0a2.1 2.1 0 1 0 -4.2 0M675.5 516.4a2.1 2.1 0 1 0 4.2 0a2.1 2.1 0 1 0 -4.2 0M675.7 517.4a2.1 2.1 0 1 0 4.2 0a2.1 2.1 0 1 0 -4.2 0M675.8 516.1a2.1 2.1 0 1 0 4.2 0a2.1 2.1 0 1 0 -4.2 0M675.9 516.0a2.1 2.1 0 1 0 4.2 0a2.1 2.1 0 1 0 -4.2 0M676.1 516.3a2.1 2.1 0 1 0 4.2 0a2.1 2.1 0 1 0 -4.2 0M676.2 514.8a2.1 2.1 0 1 0 4.2 0a2.1 2.1 0 1 0 -4.2 0M676.3 515.9a2.1 2.1 0 1 0 4.2 0a2.1 2.1 0 1 0 -4.2 0M676.4 515.8a2.1 2.1 0 1 0 4.2 0a2.1 2.1 0 1 0 -4.2 0M676.6 516.1a2.1 2.1 0 1 0 4.2 0a2.1 2.1 0 1 0 -4.2 0M676.7 516.3a2.1 2.1 0 1 0 4.2 0a2.1 2.1 0 1 0 -4.2 0M676.8 515.5a2.1 2.1 0 1 0 4.2 0a2.1 2.1 0 1 0 -4.2 0M676.9 515.3a2.1 2.1 0 1 0 4.2 0a2.1 2.1 0 1 0 -4.2 0M677.1 517.1a2.1 2.1 0 1 0 4.2 0a2.1 2.1 0 1 0 -4.2 0M677.2 515.3a2.1 2.1 0 1 0 4.2 0a2.1 2.1 0 1 0 -4.2 0M677.3 515.7a2.1 2.1 0 1 0 4.2 0a2.1 2.1 0 1 0 -4.2 0M677.4 515.3a2.1 2.1 0 1 0 4.2 0a2.1 2.1 0 1 0 -4.2 0M677.6 515.7a2.1 2.1 0 1 0 4.2 0a2.1 2.1 0 1 0 -4.2 0M677.7 516.9a2.1 2.1 0 1 0 4.2 0a2.1 2.1 0 1 0 -4.2 0M677.8 516.8a2.1 2.1 0 1 0 4.2 0a2.1 2.1 0 1 0 -4.2 0M677.9 514.6a2.1 2.1 0 1 0 4.2 0a2.1 2.1 0 1 0 -4.2 0M678.1 515.7a2.1 2.1 0 1 0 4.2 0a2.1 2.1 0 1 0 -4.2 0M678.2 516.9a2.1 2.1 0 1 0 4.2 0a2.1 2.1 0 1 0 -4.2 0M678.3 515.6a2.1 2.1 0 1 0 4.2 0a2.1 2.1 0 1 0 -4.2 0M678.4 516.1a2.1 2.1 0 1 0 4.2 0a2.1 2.1 0 1 0 -4.2 0M678.6 517.1a2.1 2.1 0 1 0 4.2 0a2.1 2.1 0 1 0 -4.2 0M678.7 517.4a2.1 2.1 0 1 0 4.2 0a2.1 2.1 0 1 0 -4.2 0M678.8 516.9a2.1 2.1 0 1 0 4.2 0a2.1 2.1 0 1 0 -4.2 0M678.9 515.4a2.1 2.1 0 1 0 4.2 0a2.1 2.1 0 1 0 -4.2 0M679.1 515.6a2.1 2.1 0 1 0 4.2 0a2.1 2.1 0 1 0 -4.2 0M679.2 515.7a2.1 2.1 0 1 0 4.2 0a2.1 2.1 0 1 0 -4.2 0M679.3 515.3a2.1 2.1 0 1 0 4.2 0a2.1 2.1 0 1 0 -4.2 0M679.4 515.0a2.1 2.1 0 1 0 4.2 0a2.1 2.1 0 1 0 -4.2 0M679.6 517.0a2.1 2.1 0 1 0 4.2 0a2.1 2.1 0 1 0 -4.2 0M679.7 515.6a2.1 2.1 0 1 0 4.2 0a2.1 2.1 0 1 0 -4.2 0M679.8 516.0a2.1 2.1 0 1 0 4.2 0a2.1 2.1 0 1 0 -4.2 0M679.9 516.2a2.1 2.1 0 1 0 4.2 0a2.1 2.1 0 1 0 -4.2 0M680.1 515.7a2.1 2.1 0 1 0 4.2 0a2.1 2.1 0 1 0 -4.2 0M680.2 515.3a2.1 2.1 0 1 0 4.2 0a2.1 2.1 0 1 0 -4.2 0M680.3 515.4a2.1 2.1 0 1 0 4.2 0a2.1 2.1 0 1 0 -4.2 0M680.4 516.2a2.1 2.1 0 1 0 4.2 0a2.1 2.1 0 1 0 -4.2 0M680.6 515.5a2.1 2.1 0 1 0 4.2 0a2.1 2.1 0 1 0 -4.2 0M680.7 513.6a2.1 2.1 0 1 0 4.2 0a2.1 2.1 0 1 0 -4.2 0M680.8 510.9a2.1 2.1 0 1 0 4.2 0a2.1 2.1 0 1 0 -4.2 0M680.9 512.2a2.1 2.1 0 1 0 4.2 0a2.1 2.1 0 1 0 -4.2 0M681.1 509.6a2.1 2.1 0 1 0 4.2 0a2.1 2.1 0 1 0 -4.2 0M681.2 509.9a2.1 2.1 0 1 0 4.2 0a2.1 2.1 0 1 0 -4.2 0M681.3 488.5a2.1 2.1 0 1 0 4.2 0a2.1 2.1 0 1 0 -4.2 0M681.4 516.1a2.1 2.1 0 1 0 4.2 0a2.1 2.1 0 1 0 -4.2 0M681.6 529.8a2.1 2.1 0 1 0 4.2 0a2.1 2.1 0 1 0 -4.2 0M681.7 498.6a2.1 2.1 0 1 0 4.2 0a2.1 2.1 0 1 0 -4.2 0M681.8 505.0a2.1 2.1 0 1 0 4.2 0a2.1 2.1 0 1 0 -4.2 0M681.9 489.9a2.1 2.1 0 1 0 4.2 0a2.1 2.1 0 1 0 -4.2 0M682.1 518.5a2.1 2.1 0 1 0 4.2 0a2.1 2.1 0 1 0 -4.2 0M682.2 523.9a2.1 2.1 0 1 0 4.2 0a2.1 2.1 0 1 0 -4.2 0M682.3 515.2a2.1 2.1 0 1 0 4.2 0a2.1 2.1 0 1 0 -4.2 0M682.4 538.7a2.1 2.1 0 1 0 4.2 0a2.1 2.1 0 1 0 -4.2 0M682.6 523.5a2.1 2.1 0 1 0 4.2 0a2.1 2.1 0 1 0 -4.2 0M682.7 517.8a2.1 2.1 0 1 0 4.2 0a2.1 2.1 0 1 0 -4.2 0M682.8 514.0a2.1 2.1 0 1 0 4.2 0a2.1 2.1 0 1 0 -4.2 0M682.9 528.3a2.1 2.1 0 1 0 4.2 0a2.1 2.1 0 1 0 -4.2 0M683.1 520.3a2.1 2.1 0 1 0 4.2 0a2.1 2.1 0 1 0 -4.2 0M683.2 524.4a2.1 2.1 0 1 0 4.2 0a2.1 2.1 0 1 0 -4.2 0M683.3 529.5a2.1 2.1 0 1 0 4.2 0a2.1 2.1 0 1 0 -4.2 0M683.4 518.4a2.1 2.1 0 1 0 4.2 0a2.1 2.1 0 1 0 -4.2 0M683.6 521.8a2.1 2.1 0 1 0 4.2 0a2.1 2.1 0 1 0 -4.2 0M683.7 531.4a2.1 2.1 0 1 0 4.2 0a2.1 2.1 0 1 0 -4.2 0M683.8 523.9a2.1 2.1 0 1 0 4.2 0a2.1 2.1 0 1 0 -4.2 0M683.9 494.8a2.1 2.1 0 1 0 4.2 0a2.1 2.1 0 1 0 -4.2 0M684.1 489.1a2.1 2.1 0 1 0 4.2 0a2.1 2.1 0 1 0 -4.2 0M684.2 524.9a2.1 2.1 0 1 0 4.2 0a2.1 2.1 0 1 0 -4.2 0M684.3 504.0a2.1 2.1 0 1 0 4.2 0a2.1 2.1 0 1 0 -4.2 0M684.4 537.4a2.1 2.1 0 1 0 4.2 0a2.1 2.1 0 1 0 -4.2 0M684.6 501.9a2.1 2.1 0 1 0 4.2 0a2.1 2.1 0 1 0 -4.2 0M684.7 532.3a2.1 2.1 0 1 0 4.2 0a2.1 2.1 0 1 0 -4.2 0M684.8 525.9a2.1 2.1 0 1 0 4.2 0a2.1 2.1 0 1 0 -4.2 0M684.9 509.5a2.1 2.1 0 1 0 4.2 0a2.1 2.1 0 1 0 -4.2 0M685.1 538.7a2.1 2.1 0 1 0 4.2 0a2.1 2.1 0 1 0 -4.2 0M685.2 493.4a2.1 2.1 0 1 0 4.2 0a2.1 2.1 0 1 0 -4.2 0M685.3 516.5a2.1 2.1 0 1 0 4.2 0a2.1 2.1 0 1 0 -4.2 0M685.4 521.5a2.1 2.1 0 1 0 4.2 0a2.1 2.1 0 1 0 -4.2 0M685.6 529.1a2.1 2.1 0 1 0 4.2 0a2.1 2.1 0 1 0 -4.2 0M685.7 516.6a2.1 2.1 0 1 0 4.2 0a2.1 2.1 0 1 0 -4.2 0M685.8 500.5a2.1 2.1 0 1 0 4.2 0a2.1 2.1 0 1 0 -4.2 0M685.9 533.9a2.1 2.1 0 1 0 4.2 0a2.1 2.1 0 1 0 -4.2 0M686.1 527.5a2.1 2.1 0 1 0 4.2 0a2.1 2.1 0 1 0 -4.2 0M686.2 513.5a2.1 2.1 0 1 0 4.2 0a2.1 2.1 0 1 0 -4.2 0M686.3 530.8a2.1 2.1 0 1 0 4.2 0a2.1 2.1 0 1 0 -4.2 0M686.4 512.9a2.1 2.1 0 1 0 4.2 0a2.1 2.1 0 1 0 -4.2 0M686.6 526.3a2.1 2.1 0 1 0 4.2 0a2.1 2.1 0 1 0 -4.2 0M686.7 484.2a2.1 2.1 0 1 0 4.2 0a2.1 2.1 0 1 0 -4.2 0M686.8 514.6a2.1 2.1 0 1 0 4.2 0a2.1 2.1 0 1 0 -4.2 0M686.9 510.9a2.1 2.1 0 1 0 4.2 0a2.1 2.1 0 1 0 -4.2 0M687.1 512.4a2.1 2.1 0 1 0 4.2 0a2.1 2.1 0 1 0 -4.2 0M687.2 505.6a2.1 2.1 0 1 0 4.2 0a2.1 2.1 0 1 0 -4.2 0M687.3 507.6a2.1 2.1 0 1 0 4.2 0a2.1 2.1 0 1 0 -4.2 0M687.4 488.2a2.1 2.1 0 1 0 4.2 0a2.1 2.1 0 1 0 -4.2 0M687.6 495.1a2.1 2.1 0 1 0 4.2 0a2.1 2.1 0 1 0 -4.2 0M687.7 514.0a2.1 2.1 0 1 0 4.2 0a2.1 2.1 0 1 0 -4.2 0M687.8 516.3a2.1 2.1 0 1 0 4.2 0a2.1 2.1 0 1 0 -4.2 0M687.9 484.2a2.1 2.1 0 1 0 4.2 0a2.1 2.1 0 1 0 -4.2 0M688.1 520.3a2.1 2.1 0 1 0 4.2 0a2.1 2.1 0 1 0 -4.2 0M688.2 512.8a2.1 2.1 0 1 0 4.2 0a2.1 2.1 0 1 0 -4.2 0M688.3 512.5a2.1 2.1 0 1 0 4.2 0a2.1 2.1 0 1 0 -4.2 0M688.4 513.6a2.1 2.1 0 1 0 4.2 0a2.1 2.1 0 1 0 -4.2 0M688.6 513.8a2.1 2.1 0 1 0 4.2 0a2.1 2.1 0 1 0 -4.2 0M688.7 511.2a2.1 2.1 0 1 0 4.2 0a2.1 2.1 0 1 0 -4.2 0M688.8 513.1a2.1 2.1 0 1 0 4.2 0a2.1 2.1 0 1 0 -4.2 0M688.9 511.2a2.1 2.1 0 1 0 4.2 0a2.1 2.1 0 1 0 -4.2 0M689.1 512.4a2.1 2.1 0 1 0 4.2 0a2.1 2.1 0 1 0 -4.2 0M689.2 512.7a2.1 2.1 0 1 0 4.2 0a2.1 2.1 0 1 0 -4.2 0M689.3 512.4a2.1 2.1 0 1 0 4.2 0a2.1 2.1 0 1 0 -4.2 0M689.4 512.3a2.1 2.1 0 1 0 4.2 0a2.1 2.1 0 1 0 -4.2 0M689.6 511.9a2.1 2.1 0 1 0 4.2 0a2.1 2.1 0 1 0 -4.2 0M689.7 512.4a2.1 2.1 0 1 0 4.2 0a2.1 2.1 0 1 0 -4.2 0M689.8 512.6a2.1 2.1 0 1 0 4.2 0a2.1 2.1 0 1 0 -4.2 0M689.9 512.6a2.1 2.1 0 1 0 4.2 0a2.1 2.1 0 1 0 -4.2 0M690.1 511.8a2.1 2.1 0 1 0 4.2 0a2.1 2.1 0 1 0 -4.2 0M690.2 512.2a2.1 2.1 0 1 0 4.2 0a2.1 2.1 0 1 0 -4.2 0M690.3 513.6a2.1 2.1 0 1 0 4.2 0a2.1 2.1 0 1 0 -4.2 0M690.5 513.4a2.1 2.1 0 1 0 4.2 0a2.1 2.1 0 1 0 -4.2 0M690.6 512.8a2.1 2.1 0 1 0 4.2 0a2.1 2.1 0 1 0 -4.2 0M690.7 513.6a2.1 2.1 0 1 0 4.2 0a2.1 2.1 0 1 0 -4.2 0M690.8 513.5a2.1 2.1 0 1 0 4.2 0a2.1 2.1 0 1 0 -4.2 0M691.0 514.0a2.1 2.1 0 1 0 4.2 0a2.1 2.1 0 1 0 -4.2 0M691.1 513.6a2.1 2.1 0 1 0 4.2 0a2.1 2.1 0 1 0 -4.2 0M691.2 513.2a2.1 2.1 0 1 0 4.2 0a2.1 2.1 0 1 0 -4.2 0M691.3 512.9a2.1 2.1 0 1 0 4.2 0a2.1 2.1 0 1 0 -4.2 0M691.5 513.7a2.1 2.1 0 1 0 4.2 0a2.1 2.1 0 1 0 -4.2 0M691.6 512.3a2.1 2.1 0 1 0 4.2 0a2.1 2.1 0 1 0 -4.2 0M691.7 514.0a2.1 2.1 0 1 0 4.2 0a2.1 2.1 0 1 0 -4.2 0M691.8 511.8a2.1 2.1 0 1 0 4.2 0a2.1 2.1 0 1 0 -4.2 0M692.0 513.5a2.1 2.1 0 1 0 4.2 0a2.1 2.1 0 1 0 -4.2 0M692.1 514.1a2.1 2.1 0 1 0 4.2 0a2.1 2.1 0 1 0 -4.2 0M692.2 514.9a2.1 2.1 0 1 0 4.2 0a2.1 2.1 0 1 0 -4.2 0M692.3 516.8a2.1 2.1 0 1 0 4.2 0a2.1 2.1 0 1 0 -4.2 0M692.5 515.0a2.1 2.1 0 1 0 4.2 0a2.1 2.1 0 1 0 -4.2 0M692.6 514.9a2.1 2.1 0 1 0 4.2 0a2.1 2.1 0 1 0 -4.2 0M692.7 513.8a2.1 2.1 0 1 0 4.2 0a2.1 2.1 0 1 0 -4.2 0M692.8 516.4a2.1 2.1 0 1 0 4.2 0a2.1 2.1 0 1 0 -4.2 0M693.0 514.2a2.1 2.1 0 1 0 4.2 0a2.1 2.1 0 1 0 -4.2 0M693.1 516.0a2.1 2.1 0 1 0 4.2 0a2.1 2.1 0 1 0 -4.2 0M693.2 515.5a2.1 2.1 0 1 0 4.2 0a2.1 2.1 0 1 0 -4.2 0M693.3 518.1a2.1 2.1 0 1 0 4.2 0a2.1 2.1 0 1 0 -4.2 0M693.5 516.3a2.1 2.1 0 1 0 4.2 0a2.1 2.1 0 1 0 -4.2 0M693.6 516.8a2.1 2.1 0 1 0 4.2 0a2.1 2.1 0 1 0 -4.2 0M693.7 516.3a2.1 2.1 0 1 0 4.2 0a2.1 2.1 0 1 0 -4.2 0M693.8 516.9a2.1 2.1 0 1 0 4.2 0a2.1 2.1 0 1 0 -4.2 0M694.0 518.0a2.1 2.1 0 1 0 4.2 0a2.1 2.1 0 1 0 -4.2 0M694.1 516.7a2.1 2.1 0 1 0 4.2 0a2.1 2.1 0 1 0 -4.2 0M694.2 517.1a2.1 2.1 0 1 0 4.2 0a2.1 2.1 0 1 0 -4.2 0M694.3 517.4a2.1 2.1 0 1 0 4.2 0a2.1 2.1 0 1 0 -4.2 0M694.5 517.3a2.1 2.1 0 1 0 4.2 0a2.1 2.1 0 1 0 -4.2 0M694.6 517.4a2.1 2.1 0 1 0 4.2 0a2.1 2.1 0 1 0 -4.2 0M694.7 518.5a2.1 2.1 0 1 0 4.2 0a2.1 2.1 0 1 0 -4.2 0M694.8 519.6a2.1 2.1 0 1 0 4.2 0a2.1 2.1 0 1 0 -4.2 0M695.0 519.9a2.1 2.1 0 1 0 4.2 0a2.1 2.1 0 1 0 -4.2 0M695.1 479.3a2.1 2.1 0 1 0 4.2 0a2.1 2.1 0 1 0 -4.2 0M695.2 518.8a2.1 2.1 0 1 0 4.2 0a2.1 2.1 0 1 0 -4.2 0M695.3 510.4a2.1 2.1 0 1 0 4.2 0a2.1 2.1 0 1 0 -4.2 0M695.5 530.8a2.1 2.1 0 1 0 4.2 0a2.1 2.1 0 1 0 -4.2 0M695.6 490.7a2.1 2.1 0 1 0 4.2 0a2.1 2.1 0 1 0 -4.2 0M695.7 522.8a2.1 2.1 0 1 0 4.2 0a2.1 2.1 0 1 0 -4.2 0M695.8 499.8a2.1 2.1 0 1 0 4.2 0a2.1 2.1 0 1 0 -4.2 0M696.0 499.0a2.1 2.1 0 1 0 4.2 0a2.1 2.1 0 1 0 -4.2 0M696.1 526.9a2.1 2.1 0 1 0 4.2 0a2.1 2.1 0 1 0 -4.2 0M696.2 508.9a2.1 2.1 0 1 0 4.2 0a2.1 2.1 0 1 0 -4.2 0M696.3 482.8a2.1 2.1 0 1 0 4.2 0a2.1 2.1 0 1 0 -4.2 0M696.5 514.6a2.1 2.1 0 1 0 4.2 0a2.1 2.1 0 1 0 -4.2 0M696.6 512.4a2.1 2.1 0 1 0 4.2 0a2.1 2.1 0 1 0 -4.2 0M696.7 524.3a2.1 2.1 0 1 0 4.2 0a2.1 2.1 0 1 0 -4.2 0M696.8 525.6a2.1 2.1 0 1 0 4.2 0a2.1 2.1 0 1 0 -4.2 0M697.0 499.8a2.1 2.1 0 1 0 4.2 0a2.1 2.1 0 1 0 -4.2 0M697.1 483.3a2.1 2.1 0 1 0 4.2 0a2.1 2.1 0 1 0 -4.2 0M697.2 500.6a2.1 2.1 0 1 0 4.2 0a2.1 2.1 0 1 0 -4.2 0M697.3 492.9a2.1 2.1 0 1 0 4.2 0a2.1 2.1 0 1 0 -4.2 0M697.5 515.7a2.1 2.1 0 1 0 4.2 0a2.1 2.1 0 1 0 -4.2 0M697.6 515.8a2.1 2.1 0 1 0 4.2 0a2.1 2.1 0 1 0 -4.2 0M697.7 515.6a2.1 2.1 0 1 0 4.2 0a2.1 2.1 0 1 0 -4.2 0M697.8 507.5a2.1 2.1 0 1 0 4.2 0a2.1 2.1 0 1 0 -4.2 0M698.0 525.2a2.1 2.1 0 1 0 4.2 0a2.1 2.1 0 1 0 -4.2 0M698.1 515.7a2.1 2.1 0 1 0 4.2 0a2.1 2.1 0 1 0 -4.2 0M698.2 510.7a2.1 2.1 0 1 0 4.2 0a2.1 2.1 0 1 0 -4.2 0M698.3 513.0a2.1 2.1 0 1 0 4.2 0a2.1 2.1 0 1 0 -4.2 0M698.5 513.1a2.1 2.1 0 1 0 4.2 0a2.1 2.1 0 1 0 -4.2 0M698.6 509.5a2.1 2.1 0 1 0 4.2 0a2.1 2.1 0 1 0 -4.2 0M698.7 503.4a2.1 2.1 0 1 0 4.2 0a2.1 2.1 0 1 0 -4.2 0M698.8 504.0a2.1 2.1 0 1 0 4.2 0a2.1 2.1 0 1 0 -4.2 0M699.0 512.4a2.1 2.1 0 1 0 4.2 0a2.1 2.1 0 1 0 -4.2 0M699.1 529.8a2.1 2.1 0 1 0 4.2 0a2.1 2.1 0 1 0 -4.2 0M699.2 500.1a2.1 2.1 0 1 0 4.2 0a2.1 2.1 0 1 0 -4.2 0M699.3 498.9a2.1 2.1 0 1 0 4.2 0a2.1 2.1 0 1 0 -4.2 0M699.5 507.4a2.1 2.1 0 1 0 4.2 0a2.1 2.1 0 1 0 -4.2 0M699.6 481.7a2.1 2.1 0 1 0 4.2 0a2.1 2.1 0 1 0 -4.2 0M699.7 518.7a2.1 2.1 0 1 0 4.2 0a2.1 2.1 0 1 0 -4.2 0M699.8 508.4a2.1 2.1 0 1 0 4.2 0a2.1 2.1 0 1 0 -4.2 0M700.0 498.1a2.1 2.1 0 1 0 4.2 0a2.1 2.1 0 1 0 -4.2 0M700.1 493.6a2.1 2.1 0 1 0 4.2 0a2.1 2.1 0 1 0 -4.2 0M700.2 506.5a2.1 2.1 0 1 0 4.2 0a2.1 2.1 0 1 0 -4.2 0M700.3 520.9a2.1 2.1 0 1 0 4.2 0a2.1 2.1 0 1 0 -4.2 0M700.5 499.7a2.1 2.1 0 1 0 4.2 0a2.1 2.1 0 1 0 -4.2 0M700.6 486.8a2.1 2.1 0 1 0 4.2 0a2.1 2.1 0 1 0 -4.2 0M700.7 502.9a2.1 2.1 0 1 0 4.2 0a2.1 2.1 0 1 0 -4.2 0M700.8 482.8a2.1 2.1 0 1 0 4.2 0a2.1 2.1 0 1 0 -4.2 0M701.0 528.4a2.1 2.1 0 1 0 4.2 0a2.1 2.1 0 1 0 -4.2 0M701.1 518.2a2.1 2.1 0 1 0 4.2 0a2.1 2.1 0 1 0 -4.2 0M701.2 506.0a2.1 2.1 0 1 0 4.2 0a2.1 2.1 0 1 0 -4.2 0M701.3 488.8a2.1 2.1 0 1 0 4.2 0a2.1 2.1 0 1 0 -4.2 0M701.5 528.1a2.1 2.1 0 1 0 4.2 0a2.1 2.1 0 1 0 -4.2 0M701.6 482.2a2.1 2.1 0 1 0 4.2 0a2.1 2.1 0 1 0 -4.2 0M701.7 491.1a2.1 2.1 0 1 0 4.2 0a2.1 2.1 0 1 0 -4.2 0M701.8 500.2a2.1 2.1 0 1 0 4.2 0a2.1 2.1 0 1 0 -4.2 0M702.0 527.0a2.1 2.1 0 1 0 4.2 0a2.1 2.1 0 1 0 -4.2 0M702.1 528.1a2.1 2.1 0 1 0 4.2 0a2.1 2.1 0 1 0 -4.2 0M702.2 526.2a2.1 2.1 0 1 0 4.2 0a2.1 2.1 0 1 0 -4.2 0M702.3 527.8a2.1 2.1 0 1 0 4.2 0a2.1 2.1 0 1 0 -4.2 0M702.5 527.7a2.1 2.1 0 1 0 4.2 0a2.1 2.1 0 1 0 -4.2 0M702.6 527.7a2.1 2.1 0 1 0 4.2 0a2.1 2.1 0 1 0 -4.2 0M702.7 527.9a2.1 2.1 0 1 0 4.2 0a2.1 2.1 0 1 0 -4.2 0M702.8 527.0a2.1 2.1 0 1 0 4.2 0a2.1 2.1 0 1 0 -4.2 0M703.0 527.3a2.1 2.1 0 1 0 4.2 0a2.1 2.1 0 1 0 -4.2 0M703.1 526.0a2.1 2.1 0 1 0 4.2 0a2.1 2.1 0 1 0 -4.2 0M703.2 526.7a2.1 2.1 0 1 0 4.2 0a2.1 2.1 0 1 0 -4.2 0M703.3 526.6a2.1 2.1 0 1 0 4.2 0a2.1 2.1 0 1 0 -4.2 0M703.5 527.1a2.1 2.1 0 1 0 4.2 0a2.1 2.1 0 1 0 -4.2 0M703.6 527.9a2.1 2.1 0 1 0 4.2 0a2.1 2.1 0 1 0 -4.2 0M703.7 526.8a2.1 2.1 0 1 0 4.2 0a2.1 2.1 0 1 0 -4.2 0M703.8 527.2a2.1 2.1 0 1 0 4.2 0a2.1 2.1 0 1 0 -4.2 0M704.0 525.8a2.1 2.1 0 1 0 4.2 0a2.1 2.1 0 1 0 -4.2 0M704.1 526.4a2.1 2.1 0 1 0 4.2 0a2.1 2.1 0 1 0 -4.2 0M704.2 525.1a2.1 2.1 0 1 0 4.2 0a2.1 2.1 0 1 0 -4.2 0M704.4 525.6a2.1 2.1 0 1 0 4.2 0a2.1 2.1 0 1 0 -4.2 0M704.5 525.5a2.1 2.1 0 1 0 4.2 0a2.1 2.1 0 1 0 -4.2 0M704.6 525.8a2.1 2.1 0 1 0 4.2 0a2.1 2.1 0 1 0 -4.2 0M704.7 525.7a2.1 2.1 0 1 0 4.2 0a2.1 2.1 0 1 0 -4.2 0M704.9 525.2a2.1 2.1 0 1 0 4.2 0a2.1 2.1 0 1 0 -4.2 0M705.0 524.9a2.1 2.1 0 1 0 4.2 0a2.1 2.1 0 1 0 -4.2 0M705.1 526.0a2.1 2.1 0 1 0 4.2 0a2.1 2.1 0 1 0 -4.2 0M705.2 525.0a2.1 2.1 0 1 0 4.2 0a2.1 2.1 0 1 0 -4.2 0M705.4 523.3a2.1 2.1 0 1 0 4.2 0a2.1 2.1 0 1 0 -4.2 0M705.5 525.2a2.1 2.1 0 1 0 4.2 0a2.1 2.1 0 1 0 -4.2 0M705.6 525.2a2.1 2.1 0 1 0 4.2 0a2.1 2.1 0 1 0 -4.2 0M705.7 525.4a2.1 2.1 0 1 0 4.2 0a2.1 2.1 0 1 0 -4.2 0M705.9 525.8a2.1 2.1 0 1 0 4.2 0a2.1 2.1 0 1 0 -4.2 0M706.0 523.7a2.1 2.1 0 1 0 4.2 0a2.1 2.1 0 1 0 -4.2 0M706.1 524.4a2.1 2.1 0 1 0 4.2 0a2.1 2.1 0 1 0 -4.2 0M706.2 524.0a2.1 2.1 0 1 0 4.2 0a2.1 2.1 0 1 0 -4.2 0M706.4 522.7a2.1 2.1 0 1 0 4.2 0a2.1 2.1 0 1 0 -4.2 0M706.5 522.0a2.1 2.1 0 1 0 4.2 0a2.1 2.1 0 1 0 -4.2 0M706.6 524.3a2.1 2.1 0 1 0 4.2 0a2.1 2.1 0 1 0 -4.2 0M706.7 522.7a2.1 2.1 0 1 0 4.2 0a2.1 2.1 0 1 0 -4.2 0M706.9 522.8a2.1 2.1 0 1 0 4.2 0a2.1 2.1 0 1 0 -4.2 0M707.0 522.8a2.1 2.1 0 1 0 4.2 0a2.1 2.1 0 1 0 -4.2 0M707.1 522.5a2.1 2.1 0 1 0 4.2 0a2.1 2.1 0 1 0 -4.2 0M707.2 522.6a2.1 2.1 0 1 0 4.2 0a2.1 2.1 0 1 0 -4.2 0M707.4 521.2a2.1 2.1 0 1 0 4.2 0a2.1 2.1 0 1 0 -4.2 0M707.5 521.6a2.1 2.1 0 1 0 4.2 0a2.1 2.1 0 1 0 -4.2 0M707.6 521.6a2.1 2.1 0 1 0 4.2 0a2.1 2.1 0 1 0 -4.2 0M707.7 520.6a2.1 2.1 0 1 0 4.2 0a2.1 2.1 0 1 0 -4.2 0M707.9 520.6a2.1 2.1 0 1 0 4.2 0a2.1 2.1 0 1 0 -4.2 0M708.0 520.6a2.1 2.1 0 1 0 4.2 0a2.1 2.1 0 1 0 -4.2 0M708.1 520.4a2.1 2.1 0 1 0 4.2 0a2.1 2.1 0 1 0 -4.2 0M708.2 519.1a2.1 2.1 0 1 0 4.2 0a2.1 2.1 0 1 0 -4.2 0M708.4 519.7a2.1 2.1 0 1 0 4.2 0a2.1 2.1 0 1 0 -4.2 0M708.5 519.8a2.1 2.1 0 1 0 4.2 0a2.1 2.1 0 1 0 -4.2 0M708.6 520.0a2.1 2.1 0 1 0 4.2 0a2.1 2.1 0 1 0 -4.2 0M708.7 519.3a2.1 2.1 0 1 0 4.2 0a2.1 2.1 0 1 0 -4.2 0M708.9 519.5a2.1 2.1 0 1 0 4.2 0a2.1 2.1 0 1 0 -4.2 0M709.0 518.3a2.1 2.1 0 1 0 4.2 0a2.1 2.1 0 1 0 -4.2 0M709.1 517.7a2.1 2.1 0 1 0 4.2 0a2.1 2.1 0 1 0 -4.2 0M709.2 518.9a2.1 2.1 0 1 0 4.2 0a2.1 2.1 0 1 0 -4.2 0M709.4 516.9a2.1 2.1 0 1 0 4.2 0a2.1 2.1 0 1 0 -4.2 0M709.5 515.9a2.1 2.1 0 1 0 4.2 0a2.1 2.1 0 1 0 -4.2 0M709.6 515.7a2.1 2.1 0 1 0 4.2 0a2.1 2.1 0 1 0 -4.2 0M709.7 515.9a2.1 2.1 0 1 0 4.2 0a2.1 2.1 0 1 0 -4.2 0M709.9 513.6a2.1 2.1 0 1 0 4.2 0a2.1 2.1 0 1 0 -4.2 0M710.0 514.4a2.1 2.1 0 1 0 4.2 0a2.1 2.1 0 1 0 -4.2 0M710.1 514.1a2.1 2.1 0 1 0 4.2 0a2.1 2.1 0 1 0 -4.2 0M710.2 513.4a2.1 2.1 0 1 0 4.2 0a2.1 2.1 0 1 0 -4.2 0M710.4 511.9a2.1 2.1 0 1 0 4.2 0a2.1 2.1 0 1 0 -4.2 0M710.5 510.5a2.1 2.1 0 1 0 4.2 0a2.1 2.1 0 1 0 -4.2 0M710.6 509.7a2.1 2.1 0 1 0 4.2 0a2.1 2.1 0 1 0 -4.2 0M710.7 509.7a2.1 2.1 0 1 0 4.2 0a2.1 2.1 0 1 0 -4.2 0M710.9 510.1a2.1 2.1 0 1 0 4.2 0a2.1 2.1 0 1 0 -4.2 0M711.0 509.0a2.1 2.1 0 1 0 4.2 0a2.1 2.1 0 1 0 -4.2 0M711.1 508.6a2.1 2.1 0 1 0 4.2 0a2.1 2.1 0 1 0 -4.2 0M711.2 507.4a2.1 2.1 0 1 0 4.2 0a2.1 2.1 0 1 0 -4.2 0M711.4 508.0a2.1 2.1 0 1 0 4.2 0a2.1 2.1 0 1 0 -4.2 0M711.5 506.1a2.1 2.1 0 1 0 4.2 0a2.1 2.1 0 1 0 -4.2 0M711.6 505.2a2.1 2.1 0 1 0 4.2 0a2.1 2.1 0 1 0 -4.2 0M711.7 505.3a2.1 2.1 0 1 0 4.2 0a2.1 2.1 0 1 0 -4.2 0M711.9 504.4a2.1 2.1 0 1 0 4.2 0a2.1 2.1 0 1 0 -4.2 0M712.0 505.0a2.1 2.1 0 1 0 4.2 0a2.1 2.1 0 1 0 -4.2 0M712.1 505.0a2.1 2.1 0 1 0 4.2 0a2.1 2.1 0 1 0 -4.2 0M712.2 504.0a2.1 2.1 0 1 0 4.2 0a2.1 2.1 0 1 0 -4.2 0M712.4 502.3a2.1 2.1 0 1 0 4.2 0a2.1 2.1 0 1 0 -4.2 0M712.5 502.1a2.1 2.1 0 1 0 4.2 0a2.1 2.1 0 1 0 -4.2 0M712.6 502.8a2.1 2.1 0 1 0 4.2 0a2.1 2.1 0 1 0 -4.2 0M712.7 501.2a2.1 2.1 0 1 0 4.2 0a2.1 2.1 0 1 0 -4.2 0M712.9 502.0a2.1 2.1 0 1 0 4.2 0a2.1 2.1 0 1 0 -4.2 0M713.0 500.3a2.1 2.1 0 1 0 4.2 0a2.1 2.1 0 1 0 -4.2 0M713.1 500.8a2.1 2.1 0 1 0 4.2 0a2.1 2.1 0 1 0 -4.2 0M713.2 501.1a2.1 2.1 0 1 0 4.2 0a2.1 2.1 0 1 0 -4.2 0M713.4 499.9a2.1 2.1 0 1 0 4.2 0a2.1 2.1 0 1 0 -4.2 0M713.5 500.8a2.1 2.1 0 1 0 4.2 0a2.1 2.1 0 1 0 -4.2 0M713.6 500.6a2.1 2.1 0 1 0 4.2 0a2.1 2.1 0 1 0 -4.2 0M713.7 500.7a2.1 2.1 0 1 0 4.2 0a2.1 2.1 0 1 0 -4.2 0M713.9 499.1a2.1 2.1 0 1 0 4.2 0a2.1 2.1 0 1 0 -4.2 0M714.0 499.1a2.1 2.1 0 1 0 4.2 0a2.1 2.1 0 1 0 -4.2 0M714.1 498.8a2.1 2.1 0 1 0 4.2 0a2.1 2.1 0 1 0 -4.2 0M714.2 498.8a2.1 2.1 0 1 0 4.2 0a2.1 2.1 0 1 0 -4.2 0M714.4 497.2a2.1 2.1 0 1 0 4.2 0a2.1 2.1 0 1 0 -4.2 0M714.5 498.3a2.1 2.1 0 1 0 4.2 0a2.1 2.1 0 1 0 -4.2 0M714.6 467.2a2.1 2.1 0 1 0 4.2 0a2.1 2.1 0 1 0 -4.2 0M714.7 496.5a2.1 2.1 0 1 0 4.2 0a2.1 2.1 0 1 0 -4.2 0M714.9 456.7a2.1 2.1 0 1 0 4.2 0a2.1 2.1 0 1 0 -4.2 0M715.0 496.7a2.1 2.1 0 1 0 4.2 0a2.1 2.1 0 1 0 -4.2 0M715.1 470.8a2.1 2.1 0 1 0 4.2 0a2.1 2.1 0 1 0 -4.2 0M715.2 480.5a2.1 2.1 0 1 0 4.2 0a2.1 2.1 0 1 0 -4.2 0M715.4 495.7a2.1 2.1 0 1 0 4.2 0a2.1 2.1 0 1 0 -4.2 0M715.5 512.8a2.1 2.1 0 1 0 4.2 0a2.1 2.1 0 1 0 -4.2 0M715.6 494.5a2.1 2.1 0 1 0 4.2 0a2.1 2.1 0 1 0 -4.2 0M715.7 496.5a2.1 2.1 0 1 0 4.2 0a2.1 2.1 0 1 0 -4.2 0M715.9 488.0a2.1 2.1 0 1 0 4.2 0a2.1 2.1 0 1 0 -4.2 0M716.0 495.5a2.1 2.1 0 1 0 4.2 0a2.1 2.1 0 1 0 -4.2 0M716.1 493.8a2.1 2.1 0 1 0 4.2 0a2.1 2.1 0 1 0 -4.2 0M716.2 520.7a2.1 2.1 0 1 0 4.2 0a2.1 2.1 0 1 0 -4.2 0M716.4 493.6a2.1 2.1 0 1 0 4.2 0a2.1 2.1 0 1 0 -4.2 0M716.5 494.6a2.1 2.1 0 1 0 4.2 0a2.1 2.1 0 1 0 -4.2 0M716.6 495.0a2.1 2.1 0 1 0 4.2 0a2.1 2.1 0 1 0 -4.2 0M716.7 494.5a2.1 2.1 0 1 0 4.2 0a2.1 2.1 0 1 0 -4.2 0M716.9 463.5a2.1 2.1 0 1 0 4.2 0a2.1 2.1 0 1 0 -4.2 0M717.0 494.1a2.1 2.1 0 1 0 4.2 0a2.1 2.1 0 1 0 -4.2 0M717.1 492.2a2.1 2.1 0 1 0 4.2 0a2.1 2.1 0 1 0 -4.2 0M717.2 489.3a2.1 2.1 0 1 0 4.2 0a2.1 2.1 0 1 0 -4.2 0M717.4 507.5a2.1 2.1 0 1 0 4.2 0a2.1 2.1 0 1 0 -4.2 0M717.5 450.5a2.1 2.1 0 1 0 4.2 0a2.1 2.1 0 1 0 -4.2 0M717.6 492.4a2.1 2.1 0 1 0 4.2 0a2.1 2.1 0 1 0 -4.2 0M717.7 476.4a2.1 2.1 0 1 0 4.2 0a2.1 2.1 0 1 0 -4.2 0M717.9 462.4a2.1 2.1 0 1 0 4.2 0a2.1 2.1 0 1 0 -4.2 0M718.0 470.5a2.1 2.1 0 1 0 4.2 0a2.1 2.1 0 1 0 -4.2 0M718.1 491.2a2.1 2.1 0 1 0 4.2 0a2.1 2.1 0 1 0 -4.2 0M718.2 523.7a2.1 2.1 0 1 0 4.2 0a2.1 2.1 0 1 0 -4.2 0M718.4 451.3a2.1 2.1 0 1 0 4.2 0a2.1 2.1 0 1 0 -4.2 0M718.5 452.9a2.1 2.1 0 1 0 4.2 0a2.1 2.1 0 1 0 -4.2 0M718.6 491.6a2.1 2.1 0 1 0 4.2 0a2.1 2.1 0 1 0 -4.2 0M718.8 490.3a2.1 2.1 0 1 0 4.2 0a2.1 2.1 0 1 0 -4.2 0M718.9 490.3a2.1 2.1 0 1 0 4.2 0a2.1 2.1 0 1 0 -4.2 0M719.0 490.7a2.1 2.1 0 1 0 4.2 0a2.1 2.1 0 1 0 -4.2 0M719.1 525.3a2.1 2.1 0 1 0 4.2 0a2.1 2.1 0 1 0 -4.2 0M719.3 488.6a2.1 2.1 0 1 0 4.2 0a2.1 2.1 0 1 0 -4.2 0M719.4 506.9a2.1 2.1 0 1 0 4.2 0a2.1 2.1 0 1 0 -4.2 0M719.5 470.0a2.1 2.1 0 1 0 4.2 0a2.1 2.1 0 1 0 -4.2 0M719.6 453.5a2.1 2.1 0 1 0 4.2 0a2.1 2.1 0 1 0 -4.2 0M719.8 489.5a2.1 2.1 0 1 0 4.2 0a2.1 2.1 0 1 0 -4.2 0M719.9 467.6a2.1 2.1 0 1 0 4.2 0a2.1 2.1 0 1 0 -4.2 0M720.0 488.1a2.1 2.1 0 1 0 4.2 0a2.1 2.1 0 1 0 -4.2 0M720.1 468.1a2.1 2.1 0 1 0 4.2 0a2.1 2.1 0 1 0 -4.2 0M720.3 520.4a2.1 2.1 0 1 0 4.2 0a2.1 2.1 0 1 0 -4.2 0M720.4 487.9a2.1 2.1 0 1 0 4.2 0a2.1 2.1 0 1 0 -4.2 0M720.5 501.1a2.1 2.1 0 1 0 4.2 0a2.1 2.1 0 1 0 -4.2 0M720.6 472.9a2.1 2.1 0 1 0 4.2 0a2.1 2.1 0 1 0 -4.2 0M720.8 500.3a2.1 2.1 0 1 0 4.2 0a2.1 2.1 0 1 0 -4.2 0M720.9 492.2a2.1 2.1 0 1 0 4.2 0a2.1 2.1 0 1 0 -4.2 0M721.0 485.0a2.1 2.1 0 1 0 4.2 0a2.1 2.1 0 1 0 -4.2 0M721.1 502.7a2.1 2.1 0 1 0 4.2 0a2.1 2.1 0 1 0 -4.2 0M721.3 486.6a2.1 2.1 0 1 0 4.2 0a2.1 2.1 0 1 0 -4.2 0M721.4 470.4a2.1 2.1 0 1 0 4.2 0a2.1 2.1 0 1 0 -4.2 0M721.5 509.1a2.1 2.1 0 1 0 4.2 0a2.1 2.1 0 1 0 -4.2 0M721.6 486.1a2.1 2.1 0 1 0 4.2 0a2.1 2.1 0 1 0 -4.2 0M721.8 485.1a2.1 2.1 0 1 0 4.2 0a2.1 2.1 0 1 0 -4.2 0M721.9 485.6a2.1 2.1 0 1 0 4.2 0a2.1 2.1 0 1 0 -4.2 0M722.0 485.3a2.1 2.1 0 1 0 4.2 0a2.1 2.1 0 1 0 -4.2 0M722.1 475.1a2.1 2.1 0 1 0 4.2 0a2.1 2.1 0 1 0 -4.2 0M722.3 485.8a2.1 2.1 0 1 0 4.2 0a2.1 2.1 0 1 0 -4.2 0M722.4 485.4a2.1 2.1 0 1 0 4.2 0a2.1 2.1 0 1 0 -4.2 0M722.5 494.4a2.1 2.1 0 1 0 4.2 0a2.1 2.1 0 1 0 -4.2 0M722.6 484.3a2.1 2.1 0 1 0 4.2 0a2.1 2.1 0 1 0 -4.2 0M722.8 491.5a2.1 2.1 0 1 0 4.2 0a2.1 2.1 0 1 0 -4.2 0M722.9 484.8a2.1 2.1 0 1 0 4.2 0a2.1 2.1 0 1 0 -4.2 0M723.0 483.6a2.1 2.1 0 1 0 4.2 0a2.1 2.1 0 1 0 -4.2 0M723.1 475.1a2.1 2.1 0 1 0 4.2 0a2.1 2.1 0 1 0 -4.2 0M723.3 520.9a2.1 2.1 0 1 0 4.2 0a2.1 2.1 0 1 0 -4.2 0M723.4 481.9a2.1 2.1 0 1 0 4.2 0a2.1 2.1 0 1 0 -4.2 0M723.5 482.9a2.1 2.1 0 1 0 4.2 0a2.1 2.1 0 1 0 -4.2 0M723.6 482.8a2.1 2.1 0 1 0 4.2 0a2.1 2.1 0 1 0 -4.2 0M723.8 481.7a2.1 2.1 0 1 0 4.2 0a2.1 2.1 0 1 0 -4.2 0M723.9 482.2a2.1 2.1 0 1 0 4.2 0a2.1 2.1 0 1 0 -4.2 0M724.0 517.4a2.1 2.1 0 1 0 4.2 0a2.1 2.1 0 1 0 -4.2 0M724.1 480.1a2.1 2.1 0 1 0 4.2 0a2.1 2.1 0 1 0 -4.2 0M724.3 482.3a2.1 2.1 0 1 0 4.2 0a2.1 2.1 0 1 0 -4.2 0M724.4 481.3a2.1 2.1 0 1 0 4.2 0a2.1 2.1 0 1 0 -4.2 0M724.5 516.5a2.1 2.1 0 1 0 4.2 0a2.1 2.1 0 1 0 -4.2 0M724.6 497.6a2.1 2.1 0 1 0 4.2 0a2.1 2.1 0 1 0 -4.2 0M724.8 464.3a2.1 2.1 0 1 0 4.2 0a2.1 2.1 0 1 0 -4.2 0M724.9 472.1a2.1 2.1 0 1 0 4.2 0a2.1 2.1 0 1 0 -4.2 0M725.0 503.2a2.1 2.1 0 1 0 4.2 0a2.1 2.1 0 1 0 -4.2 0M725.1 529.2a2.1 2.1 0 1 0 4.2 0a2.1 2.1 0 1 0 -4.2 0M725.3 479.3a2.1 2.1 0 1 0 4.2 0a2.1 2.1 0 1 0 -4.2 0M725.4 478.5a2.1 2.1 0 1 0 4.2 0a2.1 2.1 0 1 0 -4.2 0M725.5 478.6a2.1 2.1 0 1 0 4.2 0a2.1 2.1 0 1 0 -4.2 0M725.6 479.2a2.1 2.1 0 1 0 4.2 0a2.1 2.1 0 1 0 -4.2 0M725.8 477.6a2.1 2.1 0 1 0 4.2 0a2.1 2.1 0 1 0 -4.2 0M725.9 477.5a2.1 2.1 0 1 0 4.2 0a2.1 2.1 0 1 0 -4.2 0M726.0 452.6a2.1 2.1 0 1 0 4.2 0a2.1 2.1 0 1 0 -4.2 0M726.1 476.1a2.1 2.1 0 1 0 4.2 0a2.1 2.1 0 1 0 -4.2 0M726.3 475.8a2.1 2.1 0 1 0 4.2 0a2.1 2.1 0 1 0 -4.2 0M726.4 475.9a2.1 2.1 0 1 0 4.2 0a2.1 2.1 0 1 0 -4.2 0M726.5 475.6a2.1 2.1 0 1 0 4.2 0a2.1 2.1 0 1 0 -4.2 0M726.6 476.2a2.1 2.1 0 1 0 4.2 0a2.1 2.1 0 1 0 -4.2 0M726.8 475.1a2.1 2.1 0 1 0 4.2 0a2.1 2.1 0 1 0 -4.2 0M726.9 466.4a2.1 2.1 0 1 0 4.2 0a2.1 2.1 0 1 0 -4.2 0M727.0 474.5a2.1 2.1 0 1 0 4.2 0a2.1 2.1 0 1 0 -4.2 0M727.1 473.8a2.1 2.1 0 1 0 4.2 0a2.1 2.1 0 1 0 -4.2 0M727.3 496.4a2.1 2.1 0 1 0 4.2 0a2.1 2.1 0 1 0 -4.2 0M727.4 471.9a2.1 2.1 0 1 0 4.2 0a2.1 2.1 0 1 0 -4.2 0M727.5 528.7a2.1 2.1 0 1 0 4.2 0a2.1 2.1 0 1 0 -4.2 0M727.6 496.3a2.1 2.1 0 1 0 4.2 0a2.1 2.1 0 1 0 -4.2 0M727.8 471.6a2.1 2.1 0 1 0 4.2 0a2.1 2.1 0 1 0 -4.2 0M727.9 497.3a2.1 2.1 0 1 0 4.2 0a2.1 2.1 0 1 0 -4.2 0M728.0 492.0a2.1 2.1 0 1 0 4.2 0a2.1 2.1 0 1 0 -4.2 0M728.1 487.9a2.1 2.1 0 1 0 4.2 0a2.1 2.1 0 1 0 -4.2 0M728.3 470.1a2.1 2.1 0 1 0 4.2 0a2.1 2.1 0 1 0 -4.2 0M728.4 470.0a2.1 2.1 0 1 0 4.2 0a2.1 2.1 0 1 0 -4.2 0M728.5 525.1a2.1 2.1 0 1 0 4.2 0a2.1 2.1 0 1 0 -4.2 0M728.6 484.6a2.1 2.1 0 1 0 4.2 0a2.1 2.1 0 1 0 -4.2 0M728.8 468.1a2.1 2.1 0 1 0 4.2 0a2.1 2.1 0 1 0 -4.2 0M728.9 468.7a2.1 2.1 0 1 0 4.2 0a2.1 2.1 0 1 0 -4.2 0M729.0 467.3a2.1 2.1 0 1 0 4.2 0a2.1 2.1 0 1 0 -4.2 0M729.1 467.2a2.1 2.1 0 1 0 4.2 0a2.1 2.1 0 1 0 -4.2 0M729.3 466.1a2.1 2.1 0 1 0 4.2 0a2.1 2.1 0 1 0 -4.2 0M729.4 466.5a2.1 2.1 0 1 0 4.2 0a2.1 2.1 0 1 0 -4.2 0M729.5 465.4a2.1 2.1 0 1 0 4.2 0a2.1 2.1 0 1 0 -4.2 0M729.6 490.0a2.1 2.1 0 1 0 4.2 0a2.1 2.1 0 1 0 -4.2 0M729.8 464.8a2.1 2.1 0 1 0 4.2 0a2.1 2.1 0 1 0 -4.2 0M729.9 465.0a2.1 2.1 0 1 0 4.2 0a2.1 2.1 0 1 0 -4.2 0M730.0 464.3a2.1 2.1 0 1 0 4.2 0a2.1 2.1 0 1 0 -4.2 0M730.1 464.0a2.1 2.1 0 1 0 4.2 0a2.1 2.1 0 1 0 -4.2 0M730.3 462.9a2.1 2.1 0 1 0 4.2 0a2.1 2.1 0 1 0 -4.2 0M730.4 487.6a2.1 2.1 0 1 0 4.2 0a2.1 2.1 0 1 0 -4.2 0M730.5 462.5a2.1 2.1 0 1 0 4.2 0a2.1 2.1 0 1 0 -4.2 0M730.6 463.4a2.1 2.1 0 1 0 4.2 0a2.1 2.1 0 1 0 -4.2 0M730.8 461.0a2.1 2.1 0 1 0 4.2 0a2.1 2.1 0 1 0 -4.2 0M730.9 462.9a2.1 2.1 0 1 0 4.2 0a2.1 2.1 0 1 0 -4.2 0M731.0 461.7a2.1 2.1 0 1 0 4.2 0a2.1 2.1 0 1 0 -4.2 0M731.1 461.8a2.1 2.1 0 1 0 4.2 0a2.1 2.1 0 1 0 -4.2 0M731.3 458.9a2.1 2.1 0 1 0 4.2 0a2.1 2.1 0 1 0 -4.2 0M731.4 460.6a2.1 2.1 0 1 0 4.2 0a2.1 2.1 0 1 0 -4.2 0M731.5 459.1a2.1 2.1 0 1 0 4.2 0a2.1 2.1 0 1 0 -4.2 0M731.6 459.1a2.1 2.1 0 1 0 4.2 0a2.1 2.1 0 1 0 -4.2 0M731.8 459.6a2.1 2.1 0 1 0 4.2 0a2.1 2.1 0 1 0 -4.2 0M731.9 458.1a2.1 2.1 0 1 0 4.2 0a2.1 2.1 0 1 0 -4.2 0M732.0 493.2a2.1 2.1 0 1 0 4.2 0a2.1 2.1 0 1 0 -4.2 0M732.1 457.1a2.1 2.1 0 1 0 4.2 0a2.1 2.1 0 1 0 -4.2 0M732.3 455.8a2.1 2.1 0 1 0 4.2 0a2.1 2.1 0 1 0 -4.2 0M732.4 456.4a2.1 2.1 0 1 0 4.2 0a2.1 2.1 0 1 0 -4.2 0M732.5 455.7a2.1 2.1 0 1 0 4.2 0a2.1 2.1 0 1 0 -4.2 0M732.6 455.5a2.1 2.1 0 1 0 4.2 0a2.1 2.1 0 1 0 -4.2 0M732.8 454.6a2.1 2.1 0 1 0 4.2 0a2.1 2.1 0 1 0 -4.2 0M732.9 453.0a2.1 2.1 0 1 0 4.2 0a2.1 2.1 0 1 0 -4.2 0M733.0 453.7a2.1 2.1 0 1 0 4.2 0a2.1 2.1 0 1 0 -4.2 0M733.2 453.5a2.1 2.1 0 1 0 4.2 0a2.1 2.1 0 1 0 -4.2 0M733.3 453.7a2.1 2.1 0 1 0 4.2 0a2.1 2.1 0 1 0 -4.2 0M733.4 453.4a2.1 2.1 0 1 0 4.2 0a2.1 2.1 0 1 0 -4.2 0M733.5 451.4a2.1 2.1 0 1 0 4.2 0a2.1 2.1 0 1 0 -4.2 0M733.7 452.9a2.1 2.1 0 1 0 4.2 0a2.1 2.1 0 1 0 -4.2 0M733.8 452.4a2.1 2.1 0 1 0 4.2 0a2.1 2.1 0 1 0 -4.2 0M733.9 451.4a2.1 2.1 0 1 0 4.2 0a2.1 2.1 0 1 0 -4.2 0M734.0 451.2a2.1 2.1 0 1 0 4.2 0a2.1 2.1 0 1 0 -4.2 0M734.2 449.1a2.1 2.1 0 1 0 4.2 0a2.1 2.1 0 1 0 -4.2 0M734.3 451.9a2.1 2.1 0 1 0 4.2 0a2.1 2.1 0 1 0 -4.2 0M734.4 449.5a2.1 2.1 0 1 0 4.2 0a2.1 2.1 0 1 0 -4.2 0M734.5 448.8a2.1 2.1 0 1 0 4.2 0a2.1 2.1 0 1 0 -4.2 0M734.7 449.7a2.1 2.1 0 1 0 4.2 0a2.1 2.1 0 1 0 -4.2 0M734.8 448.9a2.1 2.1 0 1 0 4.2 0a2.1 2.1 0 1 0 -4.2 0M734.9 447.7a2.1 2.1 0 1 0 4.2 0a2.1 2.1 0 1 0 -4.2 0M735.0 446.4a2.1 2.1 0 1 0 4.2 0a2.1 2.1 0 1 0 -4.2 0M735.2 447.8a2.1 2.1 0 1 0 4.2 0a2.1 2.1 0 1 0 -4.2 0M735.3 447.8a2.1 2.1 0 1 0 4.2 0a2.1 2.1 0 1 0 -4.2 0M735.4 445.4a2.1 2.1 0 1 0 4.2 0a2.1 2.1 0 1 0 -4.2 0M735.5 444.4a2.1 2.1 0 1 0 4.2 0a2.1 2.1 0 1 0 -4.2 0M735.7 445.2a2.1 2.1 0 1 0 4.2 0a2.1 2.1 0 1 0 -4.2 0M735.8 446.0a2.1 2.1 0 1 0 4.2 0a2.1 2.1 0 1 0 -4.2 0M735.9 442.7a2.1 2.1 0 1 0 4.2 0a2.1 2.1 0 1 0 -4.2 0M736.0 443.1a2.1 2.1 0 1 0 4.2 0a2.1 2.1 0 1 0 -4.2 0M736.2 441.2a2.1 2.1 0 1 0 4.2 0a2.1 2.1 0 1 0 -4.2 0M736.3 441.1a2.1 2.1 0 1 0 4.2 0a2.1 2.1 0 1 0 -4.2 0M736.4 440.2a2.1 2.1 0 1 0 4.2 0a2.1 2.1 0 1 0 -4.2 0M736.5 439.1a2.1 2.1 0 1 0 4.2 0a2.1 2.1 0 1 0 -4.2 0M736.7 436.5a2.1 2.1 0 1 0 4.2 0a2.1 2.1 0 1 0 -4.2 0M736.8 435.2a2.1 2.1 0 1 0 4.2 0a2.1 2.1 0 1 0 -4.2 0M736.9 436.6a2.1 2.1 0 1 0 4.2 0a2.1 2.1 0 1 0 -4.2 0M737.0 434.4a2.1 2.1 0 1 0 4.2 0a2.1 2.1 0 1 0 -4.2 0M737.2 431.1a2.1 2.1 0 1 0 4.2 0a2.1 2.1 0 1 0 -4.2 0M737.3 431.5a2.1 2.1 0 1 0 4.2 0a2.1 2.1 0 1 0 -4.2 0M737.4 431.0a2.1 2.1 0 1 0 4.2 0a2.1 2.1 0 1 0 -4.2 0M737.5 428.9a2.1 2.1 0 1 0 4.2 0a2.1 2.1 0 1 0 -4.2 0M737.7 427.9a2.1 2.1 0 1 0 4.2 0a2.1 2.1 0 1 0 -4.2 0M737.8 426.9a2.1 2.1 0 1 0 4.2 0a2.1 2.1 0 1 0 -4.2 0M737.9 426.4a2.1 2.1 0 1 0 4.2 0a2.1 2.1 0 1 0 -4.2 0M738.0 425.5a2.1 2.1 0 1 0 4.2 0a2.1 2.1 0 1 0 -4.2 0M738.2 425.0a2.1 2.1 0 1 0 4.2 0a2.1 2.1 0 1 0 -4.2 0M738.3 424.0a2.1 2.1 0 1 0 4.2 0a2.1 2.1 0 1 0 -4.2 0M738.4 424.7a2.1 2.1 0 1 0 4.2 0a2.1 2.1 0 1 0 -4.2 0M738.5 424.2a2.1 2.1 0 1 0 4.2 0a2.1 2.1 0 1 0 -4.2 0M738.7 424.2a2.1 2.1 0 1 0 4.2 0a2.1 2.1 0 1 0 -4.2 0M738.8 423.2a2.1 2.1 0 1 0 4.2 0a2.1 2.1 0 1 0 -4.2 0M738.9 424.1a2.1 2.1 0 1 0 4.2 0a2.1 2.1 0 1 0 -4.2 0M739.0 424.8a2.1 2.1 0 1 0 4.2 0a2.1 2.1 0 1 0 -4.2 0M739.2 424.7a2.1 2.1 0 1 0 4.2 0a2.1 2.1 0 1 0 -4.2 0M739.3 425.2a2.1 2.1 0 1 0 4.2 0a2.1 2.1 0 1 0 -4.2 0M739.4 425.1a2.1 2.1 0 1 0 4.2 0a2.1 2.1 0 1 0 -4.2 0M739.5 426.1a2.1 2.1 0 1 0 4.2 0a2.1 2.1 0 1 0 -4.2 0M739.7 425.7a2.1 2.1 0 1 0 4.2 0a2.1 2.1 0 1 0 -4.2 0M739.8 426.6a2.1 2.1 0 1 0 4.2 0a2.1 2.1 0 1 0 -4.2 0M739.9 428.3a2.1 2.1 0 1 0 4.2 0a2.1 2.1 0 1 0 -4.2 0M740.0 429.2a2.1 2.1 0 1 0 4.2 0a2.1 2.1 0 1 0 -4.2 0M740.2 429.0a2.1 2.1 0 1 0 4.2 0a2.1 2.1 0 1 0 -4.2 0M740.3 430.0a2.1 2.1 0 1 0 4.2 0a2.1 2.1 0 1 0 -4.2 0M740.4 431.2a2.1 2.1 0 1 0 4.2 0a2.1 2.1 0 1 0 -4.2 0M740.5 433.3a2.1 2.1 0 1 0 4.2 0a2.1 2.1 0 1 0 -4.2 0M740.7 435.2a2.1 2.1 0 1 0 4.2 0a2.1 2.1 0 1 0 -4.2 0M740.8 435.6a2.1 2.1 0 1 0 4.2 0a2.1 2.1 0 1 0 -4.2 0M740.9 437.7a2.1 2.1 0 1 0 4.2 0a2.1 2.1 0 1 0 -4.2 0M741.0 440.3a2.1 2.1 0 1 0 4.2 0a2.1 2.1 0 1 0 -4.2 0M741.2 444.6a2.1 2.1 0 1 0 4.2 0a2.1 2.1 0 1 0 -4.2 0M741.3 445.8a2.1 2.1 0 1 0 4.2 0a2.1 2.1 0 1 0 -4.2 0M741.4 449.8a2.1 2.1 0 1 0 4.2 0a2.1 2.1 0 1 0 -4.2 0M741.5 451.9a2.1 2.1 0 1 0 4.2 0a2.1 2.1 0 1 0 -4.2 0M741.7 454.5a2.1 2.1 0 1 0 4.2 0a2.1 2.1 0 1 0 -4.2 0M741.8 457.7a2.1 2.1 0 1 0 4.2 0a2.1 2.1 0 1 0 -4.2 0M741.9 459.5a2.1 2.1 0 1 0 4.2 0a2.1 2.1 0 1 0 -4.2 0M742.0 462.1a2.1 2.1 0 1 0 4.2 0a2.1 2.1 0 1 0 -4.2 0M742.2 462.3a2.1 2.1 0 1 0 4.2 0a2.1 2.1 0 1 0 -4.2 0M742.3 463.3a2.1 2.1 0 1 0 4.2 0a2.1 2.1 0 1 0 -4.2 0M742.4 461.7a2.1 2.1 0 1 0 4.2 0a2.1 2.1 0 1 0 -4.2 0M742.5 461.9a2.1 2.1 0 1 0 4.2 0a2.1 2.1 0 1 0 -4.2 0M742.7 461.1a2.1 2.1 0 1 0 4.2 0a2.1 2.1 0 1 0 -4.2 0M742.8 461.3a2.1 2.1 0 1 0 4.2 0a2.1 2.1 0 1 0 -4.2 0M742.9 461.9a2.1 2.1 0 1 0 4.2 0a2.1 2.1 0 1 0 -4.2 0M743.0 460.9a2.1 2.1 0 1 0 4.2 0a2.1 2.1 0 1 0 -4.2 0M743.2 461.2a2.1 2.1 0 1 0 4.2 0a2.1 2.1 0 1 0 -4.2 0M743.3 460.2a2.1 2.1 0 1 0 4.2 0a2.1 2.1 0 1 0 -4.2 0M743.4 460.1a2.1 2.1 0 1 0 4.2 0a2.1 2.1 0 1 0 -4.2 0M743.5 460.8a2.1 2.1 0 1 0 4.2 0a2.1 2.1 0 1 0 -4.2 0M743.7 459.7a2.1 2.1 0 1 0 4.2 0a2.1 2.1 0 1 0 -4.2 0M743.8 459.4a2.1 2.1 0 1 0 4.2 0a2.1 2.1 0 1 0 -4.2 0M743.9 459.3a2.1 2.1 0 1 0 4.2 0a2.1 2.1 0 1 0 -4.2 0M744.0 458.1a2.1 2.1 0 1 0 4.2 0a2.1 2.1 0 1 0 -4.2 0M744.2 457.2a2.1 2.1 0 1 0 4.2 0a2.1 2.1 0 1 0 -4.2 0M744.3 458.5a2.1 2.1 0 1 0 4.2 0a2.1 2.1 0 1 0 -4.2 0M744.4 458.2a2.1 2.1 0 1 0 4.2 0a2.1 2.1 0 1 0 -4.2 0M744.5 459.4a2.1 2.1 0 1 0 4.2 0a2.1 2.1 0 1 0 -4.2 0M744.7 457.5a2.1 2.1 0 1 0 4.2 0a2.1 2.1 0 1 0 -4.2 0M744.8 457.5a2.1 2.1 0 1 0 4.2 0a2.1 2.1 0 1 0 -4.2 0M744.9 458.4a2.1 2.1 0 1 0 4.2 0a2.1 2.1 0 1 0 -4.2 0M745.0 456.3a2.1 2.1 0 1 0 4.2 0a2.1 2.1 0 1 0 -4.2 0M745.2 455.8a2.1 2.1 0 1 0 4.2 0a2.1 2.1 0 1 0 -4.2 0M745.3 456.4a2.1 2.1 0 1 0 4.2 0a2.1 2.1 0 1 0 -4.2 0M745.4 455.8a2.1 2.1 0 1 0 4.2 0a2.1 2.1 0 1 0 -4.2 0M745.5 456.0a2.1 2.1 0 1 0 4.2 0a2.1 2.1 0 1 0 -4.2 0M745.7 454.4a2.1 2.1 0 1 0 4.2 0a2.1 2.1 0 1 0 -4.2 0M745.8 455.8a2.1 2.1 0 1 0 4.2 0a2.1 2.1 0 1 0 -4.2 0M745.9 454.6a2.1 2.1 0 1 0 4.2 0a2.1 2.1 0 1 0 -4.2 0M746.0 452.7a2.1 2.1 0 1 0 4.2 0a2.1 2.1 0 1 0 -4.2 0M746.2 453.8a2.1 2.1 0 1 0 4.2 0a2.1 2.1 0 1 0 -4.2 0M746.3 453.3a2.1 2.1 0 1 0 4.2 0a2.1 2.1 0 1 0 -4.2 0M746.4 453.5a2.1 2.1 0 1 0 4.2 0a2.1 2.1 0 1 0 -4.2 0M746.5 454.1a2.1 2.1 0 1 0 4.2 0a2.1 2.1 0 1 0 -4.2 0M746.7 453.2a2.1 2.1 0 1 0 4.2 0a2.1 2.1 0 1 0 -4.2 0M746.8 452.8a2.1 2.1 0 1 0 4.2 0a2.1 2.1 0 1 0 -4.2 0M746.9 453.8a2.1 2.1 0 1 0 4.2 0a2.1 2.1 0 1 0 -4.2 0M747.0 452.8a2.1 2.1 0 1 0 4.2 0a2.1 2.1 0 1 0 -4.2 0M747.2 452.2a2.1 2.1 0 1 0 4.2 0a2.1 2.1 0 1 0 -4.2 0M747.3 452.4a2.1 2.1 0 1 0 4.2 0a2.1 2.1 0 1 0 -4.2 0M747.4 459.7a2.1 2.1 0 1 0 4.2 0a2.1 2.1 0 1 0 -4.2 0M747.6 454.4a2.1 2.1 0 1 0 4.2 0a2.1 2.1 0 1 0 -4.2 0M747.7 455.3a2.1 2.1 0 1 0 4.2 0a2.1 2.1 0 1 0 -4.2 0M747.8 464.4a2.1 2.1 0 1 0 4.2 0a2.1 2.1 0 1 0 -4.2 0M747.9 454.5a2.1 2.1 0 1 0 4.2 0a2.1 2.1 0 1 0 -4.2 0M748.1 454.9a2.1 2.1 0 1 0 4.2 0a2.1 2.1 0 1 0 -4.2 0M748.2 456.7a2.1 2.1 0 1 0 4.2 0a2.1 2.1 0 1 0 -4.2 0M748.3 457.5a2.1 2.1 0 1 0 4.2 0a2.1 2.1 0 1 0 -4.2 0M748.4 457.2a2.1 2.1 0 1 0 4.2 0a2.1 2.1 0 1 0 -4.2 0M748.6 457.8a2.1 2.1 0 1 0 4.2 0a2.1 2.1 0 1 0 -4.2 0M748.7 540.2a2.1 2.1 0 1 0 4.2 0a2.1 2.1 0 1 0 -4.2 0M748.8 471.9a2.1 2.1 0 1 0 4.2 0a2.1 2.1 0 1 0 -4.2 0M748.9 459.6a2.1 2.1 0 1 0 4.2 0a2.1 2.1 0 1 0 -4.2 0M749.1 466.0a2.1 2.1 0 1 0 4.2 0a2.1 2.1 0 1 0 -4.2 0M749.2 462.4a2.1 2.1 0 1 0 4.2 0a2.1 2.1 0 1 0 -4.2 0M749.3 479.1a2.1 2.1 0 1 0 4.2 0a2.1 2.1 0 1 0 -4.2 0M749.4 463.3a2.1 2.1 0 1 0 4.2 0a2.1 2.1 0 1 0 -4.2 0M749.6 463.8a2.1 2.1 0 1 0 4.2 0a2.1 2.1 0 1 0 -4.2 0M749.7 464.9a2.1 2.1 0 1 0 4.2 0a2.1 2.1 0 1 0 -4.2 0M749.8 492.3a2.1 2.1 0 1 0 4.2 0a2.1 2.1 0 1 0 -4.2 0M749.9 466.7a2.1 2.1 0 1 0 4.2 0a2.1 2.1 0 1 0 -4.2 0M750.1 466.5a2.1 2.1 0 1 0 4.2 0a2.1 2.1 0 1 0 -4.2 0M750.2 480.1a2.1 2.1 0 1 0 4.2 0a2.1 2.1 0 1 0 -4.2 0M750.3 502.6a2.1 2.1 0 1 0 4.2 0a2.1 2.1 0 1 0 -4.2 0M750.4 470.5a2.1 2.1 0 1 0 4.2 0a2.1 2.1 0 1 0 -4.2 0M750.6 512.5a2.1 2.1 0 1 0 4.2 0a2.1 2.1 0 1 0 -4.2 0M750.7 471.8a2.1 2.1 0 1 0 4.2 0a2.1 2.1 0 1 0 -4.2 0M750.8 477.0a2.1 2.1 0 1 0 4.2 0a2.1 2.1 0 1 0 -4.2 0M750.9 479.6a2.1 2.1 0 1 0 4.2 0a2.1 2.1 0 1 0 -4.2 0M751.1 486.6a2.1 2.1 0 1 0 4.2 0a2.1 2.1 0 1 0 -4.2 0M751.2 515.3a2.1 2.1 0 1 0 4.2 0a2.1 2.1 0 1 0 -4.2 0M751.3 488.1a2.1 2.1 0 1 0 4.2 0a2.1 2.1 0 1 0 -4.2 0M751.4 497.9a2.1 2.1 0 1 0 4.2 0a2.1 2.1 0 1 0 -4.2 0M751.6 499.9a2.1 2.1 0 1 0 4.2 0a2.1 2.1 0 1 0 -4.2 0M751.7 481.7a2.1 2.1 0 1 0 4.2 0a2.1 2.1 0 1 0 -4.2 0M751.8 496.7a2.1 2.1 0 1 0 4.2 0a2.1 2.1 0 1 0 -4.2 0M751.9 478.1a2.1 2.1 0 1 0 4.2 0a2.1 2.1 0 1 0 -4.2 0M752.1 475.8a2.1 2.1 0 1 0 4.2 0a2.1 2.1 0 1 0 -4.2 0M752.2 485.7a2.1 2.1 0 1 0 4.2 0a2.1 2.1 0 1 0 -4.2 0M752.3 502.5a2.1 2.1 0 1 0 4.2 0a2.1 2.1 0 1 0 -4.2 0M752.4 475.9a2.1 2.1 0 1 0 4.2 0a2.1 2.1 0 1 0 -4.2 0M752.6 488.7a2.1 2.1 0 1 0 4.2 0a2.1 2.1 0 1 0 -4.2 0M752.7 475.6a2.1 2.1 0 1 0 4.2 0a2.1 2.1 0 1 0 -4.2 0M752.8 517.3a2.1 2.1 0 1 0 4.2 0a2.1 2.1 0 1 0 -4.2 0M752.9 499.9a2.1 2.1 0 1 0 4.2 0a2.1 2.1 0 1 0 -4.2 0M753.1 491.6a2.1 2.1 0 1 0 4.2 0a2.1 2.1 0 1 0 -4.2 0M753.2 475.0a2.1 2.1 0 1 0 4.2 0a2.1 2.1 0 1 0 -4.2 0M753.3 493.3a2.1 2.1 0 1 0 4.2 0a2.1 2.1 0 1 0 -4.2 0M753.4 482.4a2.1 2.1 0 1 0 4.2 0a2.1 2.1 0 1 0 -4.2 0M753.6 482.7a2.1 2.1 0 1 0 4.2 0a2.1 2.1 0 1 0 -4.2 0M753.7 496.2a2.1 2.1 0 1 0 4.2 0a2.1 2.1 0 1 0 -4.2 0M753.8 481.3a2.1 2.1 0 1 0 4.2 0a2.1 2.1 0 1 0 -4.2 0M753.9 474.9a2.1 2.1 0 1 0 4.2 0a2.1 2.1 0 1 0 -4.2 0M754.1 497.7a2.1 2.1 0 1 0 4.2 0a2.1 2.1 0 1 0 -4.2 0M754.2 528.3a2.1 2.1 0 1 0 4.2 0a2.1 2.1 0 1 0 -4.2 0M754.3 499.1a2.1 2.1 0 1 0 4.2 0a2.1 2.1 0 1 0 -4.2 0M754.4 490.9a2.1 2.1 0 1 0 4.2 0a2.1 2.1 0 1 0 -4.2 0M754.6 500.0a2.1 2.1 0 1 0 4.2 0a2.1 2.1 0 1 0 -4.2 0M754.7 499.7a2.1 2.1 0 1 0 4.2 0a2.1 2.1 0 1 0 -4.2 0M754.8 501.3a2.1 2.1 0 1 0 4.2 0a2.1 2.1 0 1 0 -4.2 0M754.9 501.3a2.1 2.1 0 1 0 4.2 0a2.1 2.1 0 1 0 -4.2 0M755.1 486.6a2.1 2.1 0 1 0 4.2 0a2.1 2.1 0 1 0 -4.2 0M755.2 474.3a2.1 2.1 0 1 0 4.2 0a2.1 2.1 0 1 0 -4.2 0M755.3 532.2a2.1 2.1 0 1 0 4.2 0a2.1 2.1 0 1 0 -4.2 0M755.4 520.8a2.1 2.1 0 1 0 4.2 0a2.1 2.1 0 1 0 -4.2 0M755.6 504.8a2.1 2.1 0 1 0 4.2 0a2.1 2.1 0 1 0 -4.2 0M755.7 505.2a2.1 2.1 0 1 0 4.2 0a2.1 2.1 0 1 0 -4.2 0M755.8 505.1a2.1 2.1 0 1 0 4.2 0a2.1 2.1 0 1 0 -4.2 0M755.9 505.5a2.1 2.1 0 1 0 4.2 0a2.1 2.1 0 1 0 -4.2 0M756.1 523.7a2.1 2.1 0 1 0 4.2 0a2.1 2.1 0 1 0 -4.2 0M756.2 506.7a2.1 2.1 0 1 0 4.2 0a2.1 2.1 0 1 0 -4.2 0M756.3 512.1a2.1 2.1 0 1 0 4.2 0a2.1 2.1 0 1 0 -4.2 0M756.4 498.8a2.1 2.1 0 1 0 4.2 0a2.1 2.1 0 1 0 -4.2 0M756.6 498.8a2.1 2.1 0 1 0 4.2 0a2.1 2.1 0 1 0 -4.2 0M756.7 493.9a2.1 2.1 0 1 0 4.2 0a2.1 2.1 0 1 0 -4.2 0M756.8 478.2a2.1 2.1 0 1 0 4.2 0a2.1 2.1 0 1 0 -4.2 0M756.9 509.8a2.1 2.1 0 1 0 4.2 0a2.1 2.1 0 1 0 -4.2 0M757.1 525.7a2.1 2.1 0 1 0 4.2 0a2.1 2.1 0 1 0 -4.2 0M757.2 510.2a2.1 2.1 0 1 0 4.2 0a2.1 2.1 0 1 0 -4.2 0M757.3 471.8a2.1 2.1 0 1 0 4.2 0a2.1 2.1 0 1 0 -4.2 0M757.4 486.7a2.1 2.1 0 1 0 4.2 0a2.1 2.1 0 1 0 -4.2 0M757.6 511.3a2.1 2.1 0 1 0 4.2 0a2.1 2.1 0 1 0 -4.2 0M757.7 512.6a2.1 2.1 0 1 0 4.2 0a2.1 2.1 0 1 0 -4.2 0M757.8 512.6a2.1 2.1 0 1 0 4.2 0a2.1 2.1 0 1 0 -4.2 0M757.9 513.1a2.1 2.1 0 1 0 4.2 0a2.1 2.1 0 1 0 -4.2 0M758.1 512.2a2.1 2.1 0 1 0 4.2 0a2.1 2.1 0 1 0 -4.2 0M758.2 515.1a2.1 2.1 0 1 0 4.2 0a2.1 2.1 0 1 0 -4.2 0M758.3 513.8a2.1 2.1 0 1 0 4.2 0a2.1 2.1 0 1 0 -4.2 0M758.4 515.1a2.1 2.1 0 1 0 4.2 0a2.1 2.1 0 1 0 -4.2 0M758.6 514.5a2.1 2.1 0 1 0 4.2 0a2.1 2.1 0 1 0 -4.2 0M758.7 526.1a2.1 2.1 0 1 0 4.2 0a2.1 2.1 0 1 0 -4.2 0M758.8 515.3a2.1 2.1 0 1 0 4.2 0a2.1 2.1 0 1 0 -4.2 0M758.9 515.0a2.1 2.1 0 1 0 4.2 0a2.1 2.1 0 1 0 -4.2 0M759.1 509.8a2.1 2.1 0 1 0 4.2 0a2.1 2.1 0 1 0 -4.2 0M759.2 514.3a2.1 2.1 0 1 0 4.2 0a2.1 2.1 0 1 0 -4.2 0M759.3 515.4a2.1 2.1 0 1 0 4.2 0a2.1 2.1 0 1 0 -4.2 0M759.4 522.7a2.1 2.1 0 1 0 4.2 0a2.1 2.1 0 1 0 -4.2 0M759.6 491.0a2.1 2.1 0 1 0 4.2 0a2.1 2.1 0 1 0 -4.2 0M759.7 532.8a2.1 2.1 0 1 0 4.2 0a2.1 2.1 0 1 0 -4.2 0M759.8 516.5a2.1 2.1 0 1 0 4.2 0a2.1 2.1 0 1 0 -4.2 0M759.9 517.7a2.1 2.1 0 1 0 4.2 0a2.1 2.1 0 1 0 -4.2 0M760.1 518.1a2.1 2.1 0 1 0 4.2 0a2.1 2.1 0 1 0 -4.2 0M760.2 518.0a2.1 2.1 0 1 0 4.2 0a2.1 2.1 0 1 0 -4.2 0M760.3 519.5a2.1 2.1 0 1 0 4.2 0a2.1 2.1 0 1 0 -4.2 0M760.4 518.3a2.1 2.1 0 1 0 4.2 0a2.1 2.1 0 1 0 -4.2 0M760.6 519.1a2.1 2.1 0 1 0 4.2 0a2.1 2.1 0 1 0 -4.2 0M760.7 519.1a2.1 2.1 0 1 0 4.2 0a2.1 2.1 0 1 0 -4.2 0M760.8 520.2a2.1 2.1 0 1 0 4.2 0a2.1 2.1 0 1 0 -4.2 0M760.9 519.6a2.1 2.1 0 1 0 4.2 0a2.1 2.1 0 1 0 -4.2 0M761.1 520.8a2.1 2.1 0 1 0 4.2 0a2.1 2.1 0 1 0 -4.2 0M761.2 515.1a2.1 2.1 0 1 0 4.2 0a2.1 2.1 0 1 0 -4.2 0M761.3 519.9a2.1 2.1 0 1 0 4.2 0a2.1 2.1 0 1 0 -4.2 0M761.5 520.3a2.1 2.1 0 1 0 4.2 0a2.1 2.1 0 1 0 -4.2 0M761.6 520.8a2.1 2.1 0 1 0 4.2 0a2.1 2.1 0 1 0 -4.2 0M761.7 520.9a2.1 2.1 0 1 0 4.2 0a2.1 2.1 0 1 0 -4.2 0M761.8 523.6a2.1 2.1 0 1 0 4.2 0a2.1 2.1 0 1 0 -4.2 0M762.0 521.1a2.1 2.1 0 1 0 4.2 0a2.1 2.1 0 1 0 -4.2 0M762.1 522.1a2.1 2.1 0 1 0 4.2 0a2.1 2.1 0 1 0 -4.2 0M762.2 522.0a2.1 2.1 0 1 0 4.2 0a2.1 2.1 0 1 0 -4.2 0M762.3 522.3a2.1 2.1 0 1 0 4.2 0a2.1 2.1 0 1 0 -4.2 0M762.5 523.3a2.1 2.1 0 1 0 4.2 0a2.1 2.1 0 1 0 -4.2 0M762.6 502.5a2.1 2.1 0 1 0 4.2 0a2.1 2.1 0 1 0 -4.2 0M762.7 480.8a2.1 2.1 0 1 0 4.2 0a2.1 2.1 0 1 0 -4.2 0M762.8 476.6a2.1 2.1 0 1 0 4.2 0a2.1 2.1 0 1 0 -4.2 0M763.0 522.9a2.1 2.1 0 1 0 4.2 0a2.1 2.1 0 1 0 -4.2 0M763.1 513.9a2.1 2.1 0 1 0 4.2 0a2.1 2.1 0 1 0 -4.2 0M763.2 521.3a2.1 2.1 0 1 0 4.2 0a2.1 2.1 0 1 0 -4.2 0M763.3 523.1a2.1 2.1 0 1 0 4.2 0a2.1 2.1 0 1 0 -4.2 0M763.5 520.9a2.1 2.1 0 1 0 4.2 0a2.1 2.1 0 1 0 -4.2 0M763.6 521.4a2.1 2.1 0 1 0 4.2 0a2.1 2.1 0 1 0 -4.2 0M763.7 523.1a2.1 2.1 0 1 0 4.2 0a2.1 2.1 0 1 0 -4.2 0M763.8 492.3a2.1 2.1 0 1 0 4.2 0a2.1 2.1 0 1 0 -4.2 0M764.0 521.2a2.1 2.1 0 1 0 4.2 0a2.1 2.1 0 1 0 -4.2 0M764.1 473.0a2.1 2.1 0 1 0 4.2 0a2.1 2.1 0 1 0 -4.2 0M764.2 519.3a2.1 2.1 0 1 0 4.2 0a2.1 2.1 0 1 0 -4.2 0M764.3 522.7a2.1 2.1 0 1 0 4.2 0a2.1 2.1 0 1 0 -4.2 0M764.5 480.4a2.1 2.1 0 1 0 4.2 0a2.1 2.1 0 1 0 -4.2 0M764.6 522.7a2.1 2.1 0 1 0 4.2 0a2.1 2.1 0 1 0 -4.2 0M764.7 508.4a2.1 2.1 0 1 0 4.2 0a2.1 2.1 0 1 0 -4.2 0M764.8 522.1a2.1 2.1 0 1 0 4.2 0a2.1 2.1 0 1 0 -4.2 0M765.0 521.8a2.1 2.1 0 1 0 4.2 0a2.1 2.1 0 1 0 -4.2 0M765.1 520.9a2.1 2.1 0 1 0 4.2 0a2.1 2.1 0 1 0 -4.2 0M765.2 521.2a2.1 2.1 0 1 0 4.2 0a2.1 2.1 0 1 0 -4.2 0M765.3 522.0a2.1 2.1 0 1 0 4.2 0a2.1 2.1 0 1 0 -4.2 0M765.5 522.6a2.1 2.1 0 1 0 4.2 0a2.1 2.1 0 1 0 -4.2 0M765.6 522.9a2.1 2.1 0 1 0 4.2 0a2.1 2.1 0 1 0 -4.2 0M765.7 522.7a2.1 2.1 0 1 0 4.2 0a2.1 2.1 0 1 0 -4.2 0M765.8 523.1a2.1 2.1 0 1 0 4.2 0a2.1 2.1 0 1 0 -4.2 0M766.0 522.7a2.1 2.1 0 1 0 4.2 0a2.1 2.1 0 1 0 -4.2 0M766.1 524.4a2.1 2.1 0 1 0 4.2 0a2.1 2.1 0 1 0 -4.2 0M766.2 522.4a2.1 2.1 0 1 0 4.2 0a2.1 2.1 0 1 0 -4.2 0M766.3 522.5a2.1 2.1 0 1 0 4.2 0a2.1 2.1 0 1 0 -4.2 0M766.5 520.6a2.1 2.1 0 1 0 4.2 0a2.1 2.1 0 1 0 -4.2 0M766.6 521.9a2.1 2.1 0 1 0 4.2 0a2.1 2.1 0 1 0 -4.2 0M766.7 522.8a2.1 2.1 0 1 0 4.2 0a2.1 2.1 0 1 0 -4.2 0M766.8 522.1a2.1 2.1 0 1 0 4.2 0a2.1 2.1 0 1 0 -4.2 0M767.0 523.4a2.1 2.1 0 1 0 4.2 0a2.1 2.1 0 1 0 -4.2 0M767.1 522.9a2.1 2.1 0 1 0 4.2 0a2.1 2.1 0 1 0 -4.2 0M767.2 523.9a2.1 2.1 0 1 0 4.2 0a2.1 2.1 0 1 0 -4.2 0M767.3 521.4a2.1 2.1 0 1 0 4.2 0a2.1 2.1 0 1 0 -4.2 0M767.5 522.1a2.1 2.1 0 1 0 4.2 0a2.1 2.1 0 1 0 -4.2 0M767.6 523.4a2.1 2.1 0 1 0 4.2 0a2.1 2.1 0 1 0 -4.2 0M767.7 522.5a2.1 2.1 0 1 0 4.2 0a2.1 2.1 0 1 0 -4.2 0M767.8 521.8a2.1 2.1 0 1 0 4.2 0a2.1 2.1 0 1 0 -4.2 0M768.0 522.1a2.1 2.1 0 1 0 4.2 0a2.1 2.1 0 1 0 -4.2 0M768.1 522.2a2.1 2.1 0 1 0 4.2 0a2.1 2.1 0 1 0 -4.2 0M768.2 523.1a2.1 2.1 0 1 0 4.2 0a2.1 2.1 0 1 0 -4.2 0M768.3 523.0a2.1 2.1 0 1 0 4.2 0a2.1 2.1 0 1 0 -4.2 0M768.5 522.4a2.1 2.1 0 1 0 4.2 0a2.1 2.1 0 1 0 -4.2 0M768.6 521.8a2.1 2.1 0 1 0 4.2 0a2.1 2.1 0 1 0 -4.2 0M768.7 523.1a2.1 2.1 0 1 0 4.2 0a2.1 2.1 0 1 0 -4.2 0M768.8 523.3a2.1 2.1 0 1 0 4.2 0a2.1 2.1 0 1 0 -4.2 0M769.0 521.6a2.1 2.1 0 1 0 4.2 0a2.1 2.1 0 1 0 -4.2 0M769.1 523.2a2.1 2.1 0 1 0 4.2 0a2.1 2.1 0 1 0 -4.2 0M769.2 521.7a2.1 2.1 0 1 0 4.2 0a2.1 2.1 0 1 0 -4.2 0M769.3 522.3a2.1 2.1 0 1 0 4.2 0a2.1 2.1 0 1 0 -4.2 0M769.5 521.8a2.1 2.1 0 1 0 4.2 0a2.1 2.1 0 1 0 -4.2 0M769.6 521.1a2.1 2.1 0 1 0 4.2 0a2.1 2.1 0 1 0 -4.2 0M769.7 521.9a2.1 2.1 0 1 0 4.2 0a2.1 2.1 0 1 0 -4.2 0M769.8 521.8a2.1 2.1 0 1 0 4.2 0a2.1 2.1 0 1 0 -4.2 0M770.0 523.0a2.1 2.1 0 1 0 4.2 0a2.1 2.1 0 1 0 -4.2 0M770.1 522.8a2.1 2.1 0 1 0 4.2 0a2.1 2.1 0 1 0 -4.2 0M770.2 521.8a2.1 2.1 0 1 0 4.2 0a2.1 2.1 0 1 0 -4.2 0M770.3 521.1a2.1 2.1 0 1 0 4.2 0a2.1 2.1 0 1 0 -4.2 0M770.5 521.1a2.1 2.1 0 1 0 4.2 0a2.1 2.1 0 1 0 -4.2 0M770.6 520.4a2.1 2.1 0 1 0 4.2 0a2.1 2.1 0 1 0 -4.2 0M770.7 521.8a2.1 2.1 0 1 0 4.2 0a2.1 2.1 0 1 0 -4.2 0M770.8 521.9a2.1 2.1 0 1 0 4.2 0a2.1 2.1 0 1 0 -4.2 0M771.0 521.2a2.1 2.1 0 1 0 4.2 0a2.1 2.1 0 1 0 -4.2 0M771.1 521.9a2.1 2.1 0 1 0 4.2 0a2.1 2.1 0 1 0 -4.2 0M771.2 521.9a2.1 2.1 0 1 0 4.2 0a2.1 2.1 0 1 0 -4.2 0M771.3 522.6a2.1 2.1 0 1 0 4.2 0a2.1 2.1 0 1 0 -4.2 0M771.5 521.0a2.1 2.1 0 1 0 4.2 0a2.1 2.1 0 1 0 -4.2 0M771.6 522.5a2.1 2.1 0 1 0 4.2 0a2.1 2.1 0 1 0 -4.2 0M771.7 521.3a2.1 2.1 0 1 0 4.2 0a2.1 2.1 0 1 0 -4.2 0M771.8 522.6a2.1 2.1 0 1 0 4.2 0a2.1 2.1 0 1 0 -4.2 0M772.0 520.7a2.1 2.1 0 1 0 4.2 0a2.1 2.1 0 1 0 -4.2 0M772.1 522.2a2.1 2.1 0 1 0 4.2 0a2.1 2.1 0 1 0 -4.2 0M772.2 520.8a2.1 2.1 0 1 0 4.2 0a2.1 2.1 0 1 0 -4.2 0M772.3 522.5a2.1 2.1 0 1 0 4.2 0a2.1 2.1 0 1 0 -4.2 0M772.5 521.6a2.1 2.1 0 1 0 4.2 0a2.1 2.1 0 1 0 -4.2 0M772.6 520.3a2.1 2.1 0 1 0 4.2 0a2.1 2.1 0 1 0 -4.2 0M772.7 521.7a2.1 2.1 0 1 0 4.2 0a2.1 2.1 0 1 0 -4.2 0M772.8 521.0a2.1 2.1 0 1 0 4.2 0a2.1 2.1 0 1 0 -4.2 0M773.0 521.3a2.1 2.1 0 1 0 4.2 0a2.1 2.1 0 1 0 -4.2 0M773.1 522.6a2.1 2.1 0 1 0 4.2 0a2.1 2.1 0 1 0 -4.2 0M773.2 520.5a2.1 2.1 0 1 0 4.2 0a2.1 2.1 0 1 0 -4.2 0M773.3 520.3a2.1 2.1 0 1 0 4.2 0a2.1 2.1 0 1 0 -4.2 0M773.5 521.2a2.1 2.1 0 1 0 4.2 0a2.1 2.1 0 1 0 -4.2 0M773.6 519.8a2.1 2.1 0 1 0 4.2 0a2.1 2.1 0 1 0 -4.2 0M773.7 520.6a2.1 2.1 0 1 0 4.2 0a2.1 2.1 0 1 0 -4.2 0M773.8 520.6a2.1 2.1 0 1 0 4.2 0a2.1 2.1 0 1 0 -4.2 0M774.0 533.4a2.1 2.1 0 1 0 4.2 0a2.1 2.1 0 1 0 -4.2 0M774.1 552.3a2.1 2.1 0 1 0 4.2 0a2.1 2.1 0 1 0 -4.2 0M774.2 517.5a2.1 2.1 0 1 0 4.2 0a2.1 2.1 0 1 0 -4.2 0M774.3 520.2a2.1 2.1 0 1 0 4.2 0a2.1 2.1 0 1 0 -4.2 0M774.5 534.6a2.1 2.1 0 1 0 4.2 0a2.1 2.1 0 1 0 -4.2 0M774.6 534.0a2.1 2.1 0 1 0 4.2 0a2.1 2.1 0 1 0 -4.2 0M774.7 495.1a2.1 2.1 0 1 0 4.2 0a2.1 2.1 0 1 0 -4.2 0M774.8 496.4a2.1 2.1 0 1 0 4.2 0a2.1 2.1 0 1 0 -4.2 0M775.0 522.9a2.1 2.1 0 1 0 4.2 0a2.1 2.1 0 1 0 -4.2 0M775.1 554.5a2.1 2.1 0 1 0 4.2 0a2.1 2.1 0 1 0 -4.2 0M775.2 517.6a2.1 2.1 0 1 0 4.2 0a2.1 2.1 0 1 0 -4.2 0M775.3 548.3a2.1 2.1 0 1 0 4.2 0a2.1 2.1 0 1 0 -4.2 0M775.5 497.0a2.1 2.1 0 1 0 4.2 0a2.1 2.1 0 1 0 -4.2 0M775.6 540.8a2.1 2.1 0 1 0 4.2 0a2.1 2.1 0 1 0 -4.2 0M775.7 509.1a2.1 2.1 0 1 0 4.2 0a2.1 2.1 0 1 0 -4.2 0M775.9 517.3a2.1 2.1 0 1 0 4.2 0a2.1 2.1 0 1 0 -4.2 0M776.0 532.8a2.1 2.1 0 1 0 4.2 0a2.1 2.1 0 1 0 -4.2 0M776.1 490.5a2.1 2.1 0 1 0 4.2 0a2.1 2.1 0 1 0 -4.2 0M776.2 520.5a2.1 2.1 0 1 0 4.2 0a2.1 2.1 0 1 0 -4.2 0M776.4 493.2a2.1 2.1 0 1 0 4.2 0a2.1 2.1 0 1 0 -4.2 0M776.5 515.1a2.1 2.1 0 1 0 4.2 0a2.1 2.1 0 1 0 -4.2 0M776.6 527.5a2.1 2.1 0 1 0 4.2 0a2.1 2.1 0 1 0 -4.2 0M776.7 520.6a2.1 2.1 0 1 0 4.2 0a2.1 2.1 0 1 0 -4.2 0M776.9 543.6a2.1 2.1 0 1 0 4.2 0a2.1 2.1 0 1 0 -4.2 0M777.0 553.7a2.1 2.1 0 1 0 4.2 0a2.1 2.1 0 1 0 -4.2 0M777.1 496.9a2.1 2.1 0 1 0 4.2 0a2.1 2.1 0 1 0 -4.2 0M777.2 474.8a2.1 2.1 0 1 0 4.2 0a2.1 2.1 0 1 0 -4.2 0M777.4 527.1a2.1 2.1 0 1 0 4.2 0a2.1 2.1 0 1 0 -4.2 0M777.5 506.5a2.1 2.1 0 1 0 4.2 0a2.1 2.1 0 1 0 -4.2 0M777.6 491.9a2.1 2.1 0 1 0 4.2 0a2.1 2.1 0 1 0 -4.2 0M777.7 559.4a2.1 2.1 0 1 0 4.2 0a2.1 2.1 0 1 0 -4.2 0M777.9 522.2a2.1 2.1 0 1 0 4.2 0a2.1 2.1 0 1 0 -4.2 0M778.0 509.9a2.1 2.1 0 1 0 4.2 0a2.1 2.1 0 1 0 -4.2 0M778.1 555.8a2.1 2.1 0 1 0 4.2 0a2.1 2.1 0 1 0 -4.2 0M778.2 517.9a2.1 2.1 0 1 0 4.2 0a2.1 2.1 0 1 0 -4.2 0M778.4 516.4a2.1 2.1 0 1 0 4.2 0a2.1 2.1 0 1 0 -4.2 0M778.5 515.9a2.1 2.1 0 1 0 4.2 0a2.1 2.1 0 1 0 -4.2 0M778.6 515.1a2.1 2.1 0 1 0 4.2 0a2.1 2.1 0 1 0 -4.2 0M778.7 515.9a2.1 2.1 0 1 0 4.2 0a2.1 2.1 0 1 0 -4.2 0M778.9 515.8a2.1 2.1 0 1 0 4.2 0a2.1 2.1 0 1 0 -4.2 0M779.0 516.0a2.1 2.1 0 1 0 4.2 0a2.1 2.1 0 1 0 -4.2 0M779.1 515.0a2.1 2.1 0 1 0 4.2 0a2.1 2.1 0 1 0 -4.2 0M779.2 515.7a2.1 2.1 0 1 0 4.2 0a2.1 2.1 0 1 0 -4.2 0M779.4 515.8a2.1 2.1 0 1 0 4.2 0a2.1 2.1 0 1 0 -4.2 0M779.5 515.8a2.1 2.1 0 1 0 4.2 0a2.1 2.1 0 1 0 -4.2 0M779.6 514.7a2.1 2.1 0 1 0 4.2 0a2.1 2.1 0 1 0 -4.2 0M779.7 515.5a2.1 2.1 0 1 0 4.2 0a2.1 2.1 0 1 0 -4.2 0M779.9 516.2a2.1 2.1 0 1 0 4.2 0a2.1 2.1 0 1 0 -4.2 0M780.0 514.4a2.1 2.1 0 1 0 4.2 0a2.1 2.1 0 1 0 -4.2 0M780.1 515.3a2.1 2.1 0 1 0 4.2 0a2.1 2.1 0 1 0 -4.2 0M780.2 514.4a2.1 2.1 0 1 0 4.2 0a2.1 2.1 0 1 0 -4.2 0M780.4 514.3a2.1 2.1 0 1 0 4.2 0a2.1 2.1 0 1 0 -4.2 0M780.5 513.6a2.1 2.1 0 1 0 4.2 0a2.1 2.1 0 1 0 -4.2 0M780.6 513.6a2.1 2.1 0 1 0 4.2 0a2.1 2.1 0 1 0 -4.2 0M780.7 514.6a2.1 2.1 0 1 0 4.2 0a2.1 2.1 0 1 0 -4.2 0M780.9 514.2a2.1 2.1 0 1 0 4.2 0a2.1 2.1 0 1 0 -4.2 0M781.0 514.9a2.1 2.1 0 1 0 4.2 0a2.1 2.1 0 1 0 -4.2 0M781.1 512.6a2.1 2.1 0 1 0 4.2 0a2.1 2.1 0 1 0 -4.2 0M781.2 513.3a2.1 2.1 0 1 0 4.2 0a2.1 2.1 0 1 0 -4.2 0M781.4 512.5a2.1 2.1 0 1 0 4.2 0a2.1 2.1 0 1 0 -4.2 0M781.5 513.6a2.1 2.1 0 1 0 4.2 0a2.1 2.1 0 1 0 -4.2 0M781.6 514.7a2.1 2.1 0 1 0 4.2 0a2.1 2.1 0 1 0 -4.2 0M781.7 511.9a2.1 2.1 0 1 0 4.2 0a2.1 2.1 0 1 0 -4.2 0M781.9 512.8a2.1 2.1 0 1 0 4.2 0a2.1 2.1 0 1 0 -4.2 0M782.0 512.6a2.1 2.1 0 1 0 4.2 0a2.1 2.1 0 1 0 -4.2 0M782.1 512.5a2.1 2.1 0 1 0 4.2 0a2.1 2.1 0 1 0 -4.2 0M782.2 511.9a2.1 2.1 0 1 0 4.2 0a2.1 2.1 0 1 0 -4.2 0M782.4 511.8a2.1 2.1 0 1 0 4.2 0a2.1 2.1 0 1 0 -4.2 0M782.5 513.2a2.1 2.1 0 1 0 4.2 0a2.1 2.1 0 1 0 -4.2 0M782.6 511.0a2.1 2.1 0 1 0 4.2 0a2.1 2.1 0 1 0 -4.2 0M782.7 512.0a2.1 2.1 0 1 0 4.2 0a2.1 2.1 0 1 0 -4.2 0M782.9 511.8a2.1 2.1 0 1 0 4.2 0a2.1 2.1 0 1 0 -4.2 0M783.0 510.0a2.1 2.1 0 1 0 4.2 0a2.1 2.1 0 1 0 -4.2 0M783.1 510.4a2.1 2.1 0 1 0 4.2 0a2.1 2.1 0 1 0 -4.2 0M783.2 511.1a2.1 2.1 0 1 0 4.2 0a2.1 2.1 0 1 0 -4.2 0M783.4 512.1a2.1 2.1 0 1 0 4.2 0a2.1 2.1 0 1 0 -4.2 0M783.5 510.4a2.1 2.1 0 1 0 4.2 0a2.1 2.1 0 1 0 -4.2 0M783.6 509.9a2.1 2.1 0 1 0 4.2 0a2.1 2.1 0 1 0 -4.2 0M783.7 510.2a2.1 2.1 0 1 0 4.2 0a2.1 2.1 0 1 0 -4.2 0M783.9 510.9a2.1 2.1 0 1 0 4.2 0a2.1 2.1 0 1 0 -4.2 0M784.0 510.3a2.1 2.1 0 1 0 4.2 0a2.1 2.1 0 1 0 -4.2 0M784.1 510.5a2.1 2.1 0 1 0 4.2 0a2.1 2.1 0 1 0 -4.2 0M784.2 509.2a2.1 2.1 0 1 0 4.2 0a2.1 2.1 0 1 0 -4.2 0M784.4 508.6a2.1 2.1 0 1 0 4.2 0a2.1 2.1 0 1 0 -4.2 0M784.5 508.3a2.1 2.1 0 1 0 4.2 0a2.1 2.1 0 1 0 -4.2 0M784.6 509.4a2.1 2.1 0 1 0 4.2 0a2.1 2.1 0 1 0 -4.2 0M784.7 508.5a2.1 2.1 0 1 0 4.2 0a2.1 2.1 0 1 0 -4.2 0M784.9 508.1a2.1 2.1 0 1 0 4.2 0a2.1 2.1 0 1 0 -4.2 0M785.0 508.7a2.1 2.1 0 1 0 4.2 0a2.1 2.1 0 1 0 -4.2 0M785.1 508.3a2.1 2.1 0 1 0 4.2 0a2.1 2.1 0 1 0 -4.2 0M785.2 506.4a2.1 2.1 0 1 0 4.2 0a2.1 2.1 0 1 0 -4.2 0M785.4 507.7a2.1 2.1 0 1 0 4.2 0a2.1 2.1 0 1 0 -4.2 0M785.5 507.0a2.1 2.1 0 1 0 4.2 0a2.1 2.1 0 1 0 -4.2 0M785.6 507.9a2.1 2.1 0 1 0 4.2 0a2.1 2.1 0 1 0 -4.2 0M785.7 507.4a2.1 2.1 0 1 0 4.2 0a2.1 2.1 0 1 0 -4.2 0M785.9 508.5a2.1 2.1 0 1 0 4.2 0a2.1 2.1 0 1 0 -4.2 0M786.0 507.1a2.1 2.1 0 1 0 4.2 0a2.1 2.1 0 1 0 -4.2 0M786.1 506.1a2.1 2.1 0 1 0 4.2 0a2.1 2.1 0 1 0 -4.2 0M786.2 505.2a2.1 2.1 0 1 0 4.2 0a2.1 2.1 0 1 0 -4.2 0M786.4 505.8a2.1 2.1 0 1 0 4.2 0a2.1 2.1 0 1 0 -4.2 0M786.5 506.0a2.1 2.1 0 1 0 4.2 0a2.1 2.1 0 1 0 -4.2 0M786.6 506.3a2.1 2.1 0 1 0 4.2 0a2.1 2.1 0 1 0 -4.2 0M786.7 506.6a2.1 2.1 0 1 0 4.2 0a2.1 2.1 0 1 0 -4.2 0M786.9 506.1a2.1 2.1 0 1 0 4.2 0a2.1 2.1 0 1 0 -4.2 0M787.0 505.4a2.1 2.1 0 1 0 4.2 0a2.1 2.1 0 1 0 -4.2 0M787.1 506.2a2.1 2.1 0 1 0 4.2 0a2.1 2.1 0 1 0 -4.2 0M787.2 504.8a2.1 2.1 0 1 0 4.2 0a2.1 2.1 0 1 0 -4.2 0M787.4 506.0a2.1 2.1 0 1 0 4.2 0a2.1 2.1 0 1 0 -4.2 0M787.5 506.5a2.1 2.1 0 1 0 4.2 0a2.1 2.1 0 1 0 -4.2 0M787.6 505.7a2.1 2.1 0 1 0 4.2 0a2.1 2.1 0 1 0 -4.2 0M787.7 506.0a2.1 2.1 0 1 0 4.2 0a2.1 2.1 0 1 0 -4.2 0M787.9 505.7a2.1 2.1 0 1 0 4.2 0a2.1 2.1 0 1 0 -4.2 0M788.0 503.6a2.1 2.1 0 1 0 4.2 0a2.1 2.1 0 1 0 -4.2 0M788.1 504.5a2.1 2.1 0 1 0 4.2 0a2.1 2.1 0 1 0 -4.2 0M788.2 504.0a2.1 2.1 0 1 0 4.2 0a2.1 2.1 0 1 0 -4.2 0M788.4 503.2a2.1 2.1 0 1 0 4.2 0a2.1 2.1 0 1 0 -4.2 0M788.5 502.9a2.1 2.1 0 1 0 4.2 0a2.1 2.1 0 1 0 -4.2 0M788.6 504.1a2.1 2.1 0 1 0 4.2 0a2.1 2.1 0 1 0 -4.2 0M788.7 502.6a2.1 2.1 0 1 0 4.2 0a2.1 2.1 0 1 0 -4.2 0M788.9 503.1a2.1 2.1 0 1 0 4.2 0a2.1 2.1 0 1 0 -4.2 0M789.0 503.3a2.1 2.1 0 1 0 4.2 0a2.1 2.1 0 1 0 -4.2 0M789.1 502.8a2.1 2.1 0 1 0 4.2 0a2.1 2.1 0 1 0 -4.2 0M789.2 504.1a2.1 2.1 0 1 0 4.2 0a2.1 2.1 0 1 0 -4.2 0M789.4 503.5a2.1 2.1 0 1 0 4.2 0a2.1 2.1 0 1 0 -4.2 0M789.5 502.9a2.1 2.1 0 1 0 4.2 0a2.1 2.1 0 1 0 -4.2 0M789.6 502.3a2.1 2.1 0 1 0 4.2 0a2.1 2.1 0 1 0 -4.2 0M789.7 502.9a2.1 2.1 0 1 0 4.2 0a2.1 2.1 0 1 0 -4.2 0M789.9 502.6a2.1 2.1 0 1 0 4.2 0a2.1 2.1 0 1 0 -4.2 0M790.0 501.7a2.1 2.1 0 1 0 4.2 0a2.1 2.1 0 1 0 -4.2 0M790.1 501.3a2.1 2.1 0 1 0 4.2 0a2.1 2.1 0 1 0 -4.2 0M790.3 501.7a2.1 2.1 0 1 0 4.2 0a2.1 2.1 0 1 0 -4.2 0M790.4 501.3a2.1 2.1 0 1 0 4.2 0a2.1 2.1 0 1 0 -4.2 0M790.5 502.5a2.1 2.1 0 1 0 4.2 0a2.1 2.1 0 1 0 -4.2 0M790.6 502.4a2.1 2.1 0 1 0 4.2 0a2.1 2.1 0 1 0 -4.2 0M790.8 501.9a2.1 2.1 0 1 0 4.2 0a2.1 2.1 0 1 0 -4.2 0M790.9 502.3a2.1 2.1 0 1 0 4.2 0a2.1 2.1 0 1 0 -4.2 0M791.0 502.4a2.1 2.1 0 1 0 4.2 0a2.1 2.1 0 1 0 -4.2 0M791.1 500.8a2.1 2.1 0 1 0 4.2 0a2.1 2.1 0 1 0 -4.2 0M791.3 502.2a2.1 2.1 0 1 0 4.2 0a2.1 2.1 0 1 0 -4.2 0M791.4 502.8a2.1 2.1 0 1 0 4.2 0a2.1 2.1 0 1 0 -4.2 0M791.5 501.8a2.1 2.1 0 1 0 4.2 0a2.1 2.1 0 1 0 -4.2 0M791.6 500.8a2.1 2.1 0 1 0 4.2 0a2.1 2.1 0 1 0 -4.2 0M791.8 502.1a2.1 2.1 0 1 0 4.2 0a2.1 2.1 0 1 0 -4.2 0M791.9 501.3a2.1 2.1 0 1 0 4.2 0a2.1 2.1 0 1 0 -4.2 0M792.0 502.6a2.1 2.1 0 1 0 4.2 0a2.1 2.1 0 1 0 -4.2 0M792.1 502.7a2.1 2.1 0 1 0 4.2 0a2.1 2.1 0 1 0 -4.2 0M792.3 503.0a2.1 2.1 0 1 0 4.2 0a2.1 2.1 0 1 0 -4.2 0M792.4 502.6a2.1 2.1 0 1 0 4.2 0a2.1 2.1 0 1 0 -4.2 0M792.5 501.3a2.1 2.1 0 1 0 4.2 0a2.1 2.1 0 1 0 -4.2 0M792.6 503.6a2.1 2.1 0 1 0 4.2 0a2.1 2.1 0 1 0 -4.2 0M792.8 501.6a2.1 2.1 0 1 0 4.2 0a2.1 2.1 0 1 0 -4.2 0M792.9 503.7a2.1 2.1 0 1 0 4.2 0a2.1 2.1 0 1 0 -4.2 0M793.0 503.2a2.1 2.1 0 1 0 4.2 0a2.1 2.1 0 1 0 -4.2 0M793.1 502.6a2.1 2.1 0 1 0 4.2 0a2.1 2.1 0 1 0 -4.2 0M793.3 502.8a2.1 2.1 0 1 0 4.2 0a2.1 2.1 0 1 0 -4.2 0M793.4 503.2a2.1 2.1 0 1 0 4.2 0a2.1 2.1 0 1 0 -4.2 0M793.5 504.8a2.1 2.1 0 1 0 4.2 0a2.1 2.1 0 1 0 -4.2 0M793.6 503.4a2.1 2.1 0 1 0 4.2 0a2.1 2.1 0 1 0 -4.2 0M793.8 504.6a2.1 2.1 0 1 0 4.2 0a2.1 2.1 0 1 0 -4.2 0M793.9 502.1a2.1 2.1 0 1 0 4.2 0a2.1 2.1 0 1 0 -4.2 0M794.0 504.3a2.1 2.1 0 1 0 4.2 0a2.1 2.1 0 1 0 -4.2 0M794.1 504.2a2.1 2.1 0 1 0 4.2 0a2.1 2.1 0 1 0 -4.2 0M794.3 505.3a2.1 2.1 0 1 0 4.2 0a2.1 2.1 0 1 0 -4.2 0M794.4 461.5a2.1 2.1 0 1 0 4.2 0a2.1 2.1 0 1 0 -4.2 0M794.5 502.6a2.1 2.1 0 1 0 4.2 0a2.1 2.1 0 1 0 -4.2 0M794.6 553.4a2.1 2.1 0 1 0 4.2 0a2.1 2.1 0 1 0 -4.2 0M794.8 506.8a2.1 2.1 0 1 0 4.2 0a2.1 2.1 0 1 0 -4.2 0M794.9 469.6a2.1 2.1 0 1 0 4.2 0a2.1 2.1 0 1 0 -4.2 0M795.0 490.5a2.1 2.1 0 1 0 4.2 0a2.1 2.1 0 1 0 -4.2 0M795.1 534.0a2.1 2.1 0 1 0 4.2 0a2.1 2.1 0 1 0 -4.2 0M795.3 522.3a2.1 2.1 0 1 0 4.2 0a2.1 2.1 0 1 0 -4.2 0M795.4 553.6a2.1 2.1 0 1 0 4.2 0a2.1 2.1 0 1 0 -4.2 0M795.5 545.2a2.1 2.1 0 1 0 4.2 0a2.1 2.1 0 1 0 -4.2 0M795.6 548.0a2.1 2.1 0 1 0 4.2 0a2.1 2.1 0 1 0 -4.2 0M795.8 548.4a2.1 2.1 0 1 0 4.2 0a2.1 2.1 0 1 0 -4.2 0M795.9 507.7a2.1 2.1 0 1 0 4.2 0a2.1 2.1 0 1 0 -4.2 0M796.0 529.5a2.1 2.1 0 1 0 4.2 0a2.1 2.1 0 1 0 -4.2 0M796.1 492.9a2.1 2.1 0 1 0 4.2 0a2.1 2.1 0 1 0 -4.2 0M796.3 516.8a2.1 2.1 0 1 0 4.2 0a2.1 2.1 0 1 0 -4.2 0M796.4 478.9a2.1 2.1 0 1 0 4.2 0a2.1 2.1 0 1 0 -4.2 0M796.5 541.1a2.1 2.1 0 1 0 4.2 0a2.1 2.1 0 1 0 -4.2 0M796.6 558.4a2.1 2.1 0 1 0 4.2 0a2.1 2.1 0 1 0 -4.2 0M796.8 468.7a2.1 2.1 0 1 0 4.2 0a2.1 2.1 0 1 0 -4.2 0M796.9 566.0a2.1 2.1 0 1 0 4.2 0a2.1 2.1 0 1 0 -4.2 0M797.0 501.6a2.1 2.1 0 1 0 4.2 0a2.1 2.1 0 1 0 -4.2 0M797.1 507.5a2.1 2.1 0 1 0 4.2 0a2.1 2.1 0 1 0 -4.2 0M797.3 525.1a2.1 2.1 0 1 0 4.2 0a2.1 2.1 0 1 0 -4.2 0M797.4 549.1a2.1 2.1 0 1 0 4.2 0a2.1 2.1 0 1 0 -4.2 0M797.5 559.1a2.1 2.1 0 1 0 4.2 0a2.1 2.1 0 1 0 -4.2 0M797.6 516.9a2.1 2.1 0 1 0 4.2 0a2.1 2.1 0 1 0 -4.2 0M797.8 492.8a2.1 2.1 0 1 0 4.2 0a2.1 2.1 0 1 0 -4.2 0M797.9 504.8a2.1 2.1 0 1 0 4.2 0a2.1 2.1 0 1 0 -4.2 0M798.0 492.0a2.1 2.1 0 1 0 4.2 0a2.1 2.1 0 1 0 -4.2 0M798.1 549.9a2.1 2.1 0 1 0 4.2 0a2.1 2.1 0 1 0 -4.2 0M798.3 539.6a2.1 2.1 0 1 0 4.2 0a2.1 2.1 0 1 0 -4.2 0M798.4 475.8a2.1 2.1 0 1 0 4.2 0a2.1 2.1 0 1 0 -4.2 0M798.5 507.6a2.1 2.1 0 1 0 4.2 0a2.1 2.1 0 1 0 -4.2 0M798.6 526.2a2.1 2.1 0 1 0 4.2 0a2.1 2.1 0 1 0 -4.2 0M798.8 512.2a2.1 2.1 0 1 0 4.2 0a2.1 2.1 0 1 0 -4.2 0M798.9 510.9a2.1 2.1 0 1 0 4.2 0a2.1 2.1 0 1 0 -4.2 0M799.0 493.1a2.1 2.1 0 1 0 4.2 0a2.1 2.1 0 1 0 -4.2 0M799.1 541.6a2.1 2.1 0 1 0 4.2 0a2.1 2.1 0 1 0 -4.2 0M799.3 512.9a2.1 2.1 0 1 0 4.2 0a2.1 2.1 0 1 0 -4.2 0M799.4 507.2a2.1 2.1 0 1 0 4.2 0a2.1 2.1 0 1 0 -4.2 0M799.5 486.2a2.1 2.1 0 1 0 4.2 0a2.1 2.1 0 1 0 -4.2 0M799.6 525.2a2.1 2.1 0 1 0 4.2 0a2.1 2.1 0 1 0 -4.2 0M799.8 490.4a2.1 2.1 0 1 0 4.2 0a2.1 2.1 0 1 0 -4.2 0M799.9 487.8a2.1 2.1 0 1 0 4.2 0a2.1 2.1 0 1 0 -4.2 0M800.0 515.4a2.1 2.1 0 1 0 4.2 0a2.1 2.1 0 1 0 -4.2 0M800.1 515.2a2.1 2.1 0 1 0 4.2 0a2.1 2.1 0 1 0 -4.2 0M800.3 515.6a2.1 2.1 0 1 0 4.2 0a2.1 2.1 0 1 0 -4.2 0M800.4 514.9a2.1 2.1 0 1 0 4.2 0a2.1 2.1 0 1 0 -4.2 0M800.5 515.6a2.1 2.1 0 1 0 4.2 0a2.1 2.1 0 1 0 -4.2 0M800.6 516.6a2.1 2.1 0 1 0 4.2 0a2.1 2.1 0 1 0 -4.2 0M800.8 518.5a2.1 2.1 0 1 0 4.2 0a2.1 2.1 0 1 0 -4.2 0M800.9 516.4a2.1 2.1 0 1 0 4.2 0a2.1 2.1 0 1 0 -4.2 0M801.0 516.5a2.1 2.1 0 1 0 4.2 0a2.1 2.1 0 1 0 -4.2 0M801.1 518.0a2.1 2.1 0 1 0 4.2 0a2.1 2.1 0 1 0 -4.2 0M801.3 518.9a2.1 2.1 0 1 0 4.2 0a2.1 2.1 0 1 0 -4.2 0M801.4 518.5a2.1 2.1 0 1 0 4.2 0a2.1 2.1 0 1 0 -4.2 0M801.5 517.1a2.1 2.1 0 1 0 4.2 0a2.1 2.1 0 1 0 -4.2 0M801.6 534.2a2.1 2.1 0 1 0 4.2 0a2.1 2.1 0 1 0 -4.2 0M801.8 513.7a2.1 2.1 0 1 0 4.2 0a2.1 2.1 0 1 0 -4.2 0M801.9 535.1a2.1 2.1 0 1 0 4.2 0a2.1 2.1 0 1 0 -4.2 0M802.0 511.3a2.1 2.1 0 1 0 4.2 0a2.1 2.1 0 1 0 -4.2 0M802.1 507.4a2.1 2.1 0 1 0 4.2 0a2.1 2.1 0 1 0 -4.2 0M802.3 518.7a2.1 2.1 0 1 0 4.2 0a2.1 2.1 0 1 0 -4.2 0M802.4 519.1a2.1 2.1 0 1 0 4.2 0a2.1 2.1 0 1 0 -4.2 0M802.5 542.3a2.1 2.1 0 1 0 4.2 0a2.1 2.1 0 1 0 -4.2 0M802.6 529.9a2.1 2.1 0 1 0 4.2 0a2.1 2.1 0 1 0 -4.2 0M802.8 527.0a2.1 2.1 0 1 0 4.2 0a2.1 2.1 0 1 0 -4.2 0M802.9 497.4a2.1 2.1 0 1 0 4.2 0a2.1 2.1 0 1 0 -4.2 0M803.0 529.0a2.1 2.1 0 1 0 4.2 0a2.1 2.1 0 1 0 -4.2 0M803.1 519.9a2.1 2.1 0 1 0 4.2 0a2.1 2.1 0 1 0 -4.2 0M803.3 520.1a2.1 2.1 0 1 0 4.2 0a2.1 2.1 0 1 0 -4.2 0M803.4 519.0a2.1 2.1 0 1 0 4.2 0a2.1 2.1 0 1 0 -4.2 0M803.5 512.8a2.1 2.1 0 1 0 4.2 0a2.1 2.1 0 1 0 -4.2 0M803.6 519.1a2.1 2.1 0 1 0 4.2 0a2.1 2.1 0 1 0 -4.2 0M803.8 510.1a2.1 2.1 0 1 0 4.2 0a2.1 2.1 0 1 0 -4.2 0M803.9 503.2a2.1 2.1 0 1 0 4.2 0a2.1 2.1 0 1 0 -4.2 0M804.0 534.1a2.1 2.1 0 1 0 4.2 0a2.1 2.1 0 1 0 -4.2 0M804.2 515.8a2.1 2.1 0 1 0 4.2 0a2.1 2.1 0 1 0 -4.2 0M804.3 506.9a2.1 2.1 0 1 0 4.2 0a2.1 2.1 0 1 0 -4.2 0M804.4 514.6a2.1 2.1 0 1 0 4.2 0a2.1 2.1 0 1 0 -4.2 0M804.5 523.0a2.1 2.1 0 1 0 4.2 0a2.1 2.1 0 1 0 -4.2 0M804.7 493.1a2.1 2.1 0 1 0 4.2 0a2.1 2.1 0 1 0 -4.2 0M804.8 495.1a2.1 2.1 0 1 0 4.2 0a2.1 2.1 0 1 0 -4.2 0M804.9 501.6a2.1 2.1 0 1 0 4.2 0a2.1 2.1 0 1 0 -4.2 0M805.0 528.6a2.1 2.1 0 1 0 4.2 0a2.1 2.1 0 1 0 -4.2 0M805.2 509.7a2.1 2.1 0 1 0 4.2 0a2.1 2.1 0 1 0 -4.2 0M805.3 502.6a2.1 2.1 0 1 0 4.2 0a2.1 2.1 0 1 0 -4.2 0M805.4 527.2a2.1 2.1 0 1 0 4.2 0a2.1 2.1 0 1 0 -4.2 0M805.5 502.1a2.1 2.1 0 1 0 4.2 0a2.1 2.1 0 1 0 -4.2 0M805.7 494.3a2.1 2.1 0 1 0 4.2 0a2.1 2.1 0 1 0 -4.2 0M805.8 489.7a2.1 2.1 0 1 0 4.2 0a2.1 2.1 0 1 0 -4.2 0M805.9 545.5a2.1 2.1 0 1 0 4.2 0a2.1 2.1 0 1 0 -4.2 0M806.0 532.8a2.1 2.1 0 1 0 4.2 0a2.1 2.1 0 1 0 -4.2 0M806.2 527.3a2.1 2.1 0 1 0 4.2 0a2.1 2.1 0 1 0 -4.2 0M806.3 521.0a2.1 2.1 0 1 0 4.2 0a2.1 2.1 0 1 0 -4.2 0M806.4 520.8a2.1 2.1 0 1 0 4.2 0a2.1 2.1 0 1 0 -4.2 0M806.5 522.3a2.1 2.1 0 1 0 4.2 0a2.1 2.1 0 1 0 -4.2 0M806.7 519.7a2.1 2.1 0 1 0 4.2 0a2.1 2.1 0 1 0 -4.2 0M806.8 526.4a2.1 2.1 0 1 0 4.2 0a2.1 2.1 0 1 0 -4.2 0M806.9 522.4a2.1 2.1 0 1 0 4.2 0a2.1 2.1 0 1 0 -4.2 0M807.0 521.8a2.1 2.1 0 1 0 4.2 0a2.1 2.1 0 1 0 -4.2 0M807.2 522.7a2.1 2.1 0 1 0 4.2 0a2.1 2.1 0 1 0 -4.2 0M807.3 493.8a2.1 2.1 0 1 0 4.2 0a2.1 2.1 0 1 0 -4.2 0M807.4 520.0a2.1 2.1 0 1 0 4.2 0a2.1 2.1 0 1 0 -4.2 0M807.5 522.0a2.1 2.1 0 1 0 4.2 0a2.1 2.1 0 1 0 -4.2 0M807.7 500.9a2.1 2.1 0 1 0 4.2 0a2.1 2.1 0 1 0 -4.2 0M807.8 515.9a2.1 2.1 0 1 0 4.2 0a2.1 2.1 0 1 0 -4.2 0M807.9 521.5a2.1 2.1 0 1 0 4.2 0a2.1 2.1 0 1 0 -4.2 0M808.0 522.5a2.1 2.1 0 1 0 4.2 0a2.1 2.1 0 1 0 -4.2 0M808.2 507.9a2.1 2.1 0 1 0 4.2 0a2.1 2.1 0 1 0 -4.2 0M808.3 506.5a2.1 2.1 0 1 0 4.2 0a2.1 2.1 0 1 0 -4.2 0M808.4 499.7a2.1 2.1 0 1 0 4.2 0a2.1 2.1 0 1 0 -4.2 0M808.5 521.4a2.1 2.1 0 1 0 4.2 0a2.1 2.1 0 1 0 -4.2 0M808.7 516.8a2.1 2.1 0 1 0 4.2 0a2.1 2.1 0 1 0 -4.2 0M808.8 522.4a2.1 2.1 0 1 0 4.2 0a2.1 2.1 0 1 0 -4.2 0M808.9 522.7a2.1 2.1 0 1 0 4.2 0a2.1 2.1 0 1 0 -4.2 0M809.0 521.2a2.1 2.1 0 1 0 4.2 0a2.1 2.1 0 1 0 -4.2 0M809.2 502.0a2.1 2.1 0 1 0 4.2 0a2.1 2.1 0 1 0 -4.2 0M809.3 498.4a2.1 2.1 0 1 0 4.2 0a2.1 2.1 0 1 0 -4.2 0M809.4 531.7a2.1 2.1 0 1 0 4.2 0a2.1 2.1 0 1 0 -4.2 0M809.5 504.9a2.1 2.1 0 1 0 4.2 0a2.1 2.1 0 1 0 -4.2 0M809.7 520.2a2.1 2.1 0 1 0 4.2 0a2.1 2.1 0 1 0 -4.2 0M809.8 509.8a2.1 2.1 0 1 0 4.2 0a2.1 2.1 0 1 0 -4.2 0M809.9 516.7a2.1 2.1 0 1 0 4.2 0a2.1 2.1 0 1 0 -4.2 0M810.0 521.0a2.1 2.1 0 1 0 4.2 0a2.1 2.1 0 1 0 -4.2 0M810.2 520.6a2.1 2.1 0 1 0 4.2 0a2.1 2.1 0 1 0 -4.2 0M810.3 526.1a2.1 2.1 0 1 0 4.2 0a2.1 2.1 0 1 0 -4.2 0M810.4 519.9a2.1 2.1 0 1 0 4.2 0a2.1 2.1 0 1 0 -4.2 0M810.5 519.9a2.1 2.1 0 1 0 4.2 0a2.1 2.1 0 1 0 -4.2 0M810.7 525.7a2.1 2.1 0 1 0 4.2 0a2.1 2.1 0 1 0 -4.2 0M810.8 505.9a2.1 2.1 0 1 0 4.2 0a2.1 2.1 0 1 0 -4.2 0M810.9 519.4a2.1 2.1 0 1 0 4.2 0a2.1 2.1 0 1 0 -4.2 0M811.0 502.1a2.1 2.1 0 1 0 4.2 0a2.1 2.1 0 1 0 -4.2 0M811.2 493.2a2.1 2.1 0 1 0 4.2 0a2.1 2.1 0 1 0 -4.2 0M811.3 512.6a2.1 2.1 0 1 0 4.2 0a2.1 2.1 0 1 0 -4.2 0M811.4 519.9a2.1 2.1 0 1 0 4.2 0a2.1 2.1 0 1 0 -4.2 0M811.5 518.6a2.1 2.1 0 1 0 4.2 0a2.1 2.1 0 1 0 -4.2 0M811.7 498.4a2.1 2.1 0 1 0 4.2 0a2.1 2.1 0 1 0 -4.2 0M811.8 522.2a2.1 2.1 0 1 0 4.2 0a2.1 2.1 0 1 0 -4.2 0M811.9 518.9a2.1 2.1 0 1 0 4.2 0a2.1 2.1 0 1 0 -4.2 0M812.0 516.8a2.1 2.1 0 1 0 4.2 0a2.1 2.1 0 1 0 -4.2 0M812.2 498.4a2.1 2.1 0 1 0 4.2 0a2.1 2.1 0 1 0 -4.2 0M812.3 499.6a2.1 2.1 0 1 0 4.2 0a2.1 2.1 0 1 0 -4.2 0M812.4 512.4a2.1 2.1 0 1 0 4.2 0a2.1 2.1 0 1 0 -4.2 0M812.5 493.8a2.1 2.1 0 1 0 4.2 0a2.1 2.1 0 1 0 -4.2 0M812.7 521.5a2.1 2.1 0 1 0 4.2 0a2.1 2.1 0 1 0 -4.2 0M812.8 516.4a2.1 2.1 0 1 0 4.2 0a2.1 2.1 0 1 0 -4.2 0M812.9 514.4a2.1 2.1 0 1 0 4.2 0a2.1 2.1 0 1 0 -4.2 0M813.0 503.6a2.1 2.1 0 1 0 4.2 0a2.1 2.1 0 1 0 -4.2 0M813.2 516.8a2.1 2.1 0 1 0 4.2 0a2.1 2.1 0 1 0 -4.2 0M813.3 514.3a2.1 2.1 0 1 0 4.2 0a2.1 2.1 0 1 0 -4.2 0M813.4 498.8a2.1 2.1 0 1 0 4.2 0a2.1 2.1 0 1 0 -4.2 0M813.5 525.4a2.1 2.1 0 1 0 4.2 0a2.1 2.1 0 1 0 -4.2 0M813.7 526.5a2.1 2.1 0 1 0 4.2 0a2.1 2.1 0 1 0 -4.2 0M813.8 516.3a2.1 2.1 0 1 0 4.2 0a2.1 2.1 0 1 0 -4.2 0M813.9 515.5a2.1 2.1 0 1 0 4.2 0a2.1 2.1 0 1 0 -4.2 0M814.0 511.2a2.1 2.1 0 1 0 4.2 0a2.1 2.1 0 1 0 -4.2 0M814.2 535.6a2.1 2.1 0 1 0 4.2 0a2.1 2.1 0 1 0 -4.2 0M814.3 529.6a2.1 2.1 0 1 0 4.2 0a2.1 2.1 0 1 0 -4.2 0M814.4 514.4a2.1 2.1 0 1 0 4.2 0a2.1 2.1 0 1 0 -4.2 0M814.5 513.3a2.1 2.1 0 1 0 4.2 0a2.1 2.1 0 1 0 -4.2 0M814.7 507.9a2.1 2.1 0 1 0 4.2 0a2.1 2.1 0 1 0 -4.2 0M814.8 516.1a2.1 2.1 0 1 0 4.2 0a2.1 2.1 0 1 0 -4.2 0M814.9 491.6a2.1 2.1 0 1 0 4.2 0a2.1 2.1 0 1 0 -4.2 0M815.0 515.1a2.1 2.1 0 1 0 4.2 0a2.1 2.1 0 1 0 -4.2 0M815.2 500.9a2.1 2.1 0 1 0 4.2 0a2.1 2.1 0 1 0 -4.2 0M815.3 515.6a2.1 2.1 0 1 0 4.2 0a2.1 2.1 0 1 0 -4.2 0M815.4 501.4a2.1 2.1 0 1 0 4.2 0a2.1 2.1 0 1 0 -4.2 0M815.5 498.3a2.1 2.1 0 1 0 4.2 0a2.1 2.1 0 1 0 -4.2 0M815.7 508.2a2.1 2.1 0 1 0 4.2 0a2.1 2.1 0 1 0 -4.2 0M815.8 492.1a2.1 2.1 0 1 0 4.2 0a2.1 2.1 0 1 0 -4.2 0M815.9 505.3a2.1 2.1 0 1 0 4.2 0a2.1 2.1 0 1 0 -4.2 0M816.0 532.4a2.1 2.1 0 1 0 4.2 0a2.1 2.1 0 1 0 -4.2 0M816.2 534.7a2.1 2.1 0 1 0 4.2 0a2.1 2.1 0 1 0 -4.2 0M816.3 504.6a2.1 2.1 0 1 0 4.2 0a2.1 2.1 0 1 0 -4.2 0M816.4 492.8a2.1 2.1 0 1 0 4.2 0a2.1 2.1 0 1 0 -4.2 0M816.5 534.5a2.1 2.1 0 1 0 4.2 0a2.1 2.1 0 1 0 -4.2 0M816.7 516.3a2.1 2.1 0 1 0 4.2 0a2.1 2.1 0 1 0 -4.2 0M816.8 518.3a2.1 2.1 0 1 0 4.2 0a2.1 2.1 0 1 0 -4.2 0M816.9 520.4a2.1 2.1 0 1 0 4.2 0a2.1 2.1 0 1 0 -4.2 0M817.0 498.1a2.1 2.1 0 1 0 4.2 0a2.1 2.1 0 1 0 -4.2 0M817.2 533.7a2.1 2.1 0 1 0 4.2 0a2.1 2.1 0 1 0 -4.2 0M817.3 495.4a2.1 2.1 0 1 0 4.2 0a2.1 2.1 0 1 0 -4.2 0M817.4 516.6a2.1 2.1 0 1 0 4.2 0a2.1 2.1 0 1 0 -4.2 0M817.5 516.3a2.1 2.1 0 1 0 4.2 0a2.1 2.1 0 1 0 -4.2 0M817.7 522.1a2.1 2.1 0 1 0 4.2 0a2.1 2.1 0 1 0 -4.2 0M817.8 516.3a2.1 2.1 0 1 0 4.2 0a2.1 2.1 0 1 0 -4.2 0M817.9 531.0a2.1 2.1 0 1 0 4.2 0a2.1 2.1 0 1 0 -4.2 0M818.0 528.4a2.1 2.1 0 1 0 4.2 0a2.1 2.1 0 1 0 -4.2 0M818.2 510.5a2.1 2.1 0 1 0 4.2 0a2.1 2.1 0 1 0 -4.2 0M321.7 457.1a2.1 2.1 0 1 0 4.2 0a2.1 2.1 0 1 0 -4.2 0M321.1 586.5a2.1 2.1 0 1 0 4.2 0a2.1 2.1 0 1 0 -4.2 0M322.3 595.0a2.1 2.1 0 1 0 4.2 0a2.1 2.1 0 1 0 -4.2 0M312.9 552.1a2.1 2.1 0 1 0 4.2 0a2.1 2.1 0 1 0 -4.2 0M314.8 559.4a2.1 2.1 0 1 0 4.2 0a2.1 2.1 0 1 0 -4.2 0M401.8 559.4a2.1 2.1 0 1 0 4.2 0a2.1 2.1 0 1 0 -4.2 0M402.1 566.8a2.1 2.1 0 1 0 4.2 0a2.1 2.1 0 1 0 -4.2 0M402.4 595.0a2.1 2.1 0 1 0 4.2 0a2.1 2.1 0 1 0 -4.2 0M402.8 603.6a2.1 2.1 0 1 0 4.2 0a2.1 2.1 0 1 0 -4.2 0M424.4 419.5a2.1 2.1 0 1 0 4.2 0a2.1 2.1 0 1 0 -4.2 0M424.6 455.1a2.1 2.1 0 1 0 4.2 0a2.1 2.1 0 1 0 -4.2 0M425.0 587.7a2.1 2.1 0 1 0 4.2 0a2.1 2.1 0 1 0 -4.2 0M423.7 549.6a2.1 2.1 0 1 0 4.2 0a2.1 2.1 0 1 0 -4.2 0M497.0 433.0a2.1 2.1 0 1 0 4.2 0a2.1 2.1 0 1 0 -4.2 0M497.6 440.4a2.1 2.1 0 1 0 4.2 0a2.1 2.1 0 1 0 -4.2 0M634.7 372.9a2.1 2.1 0 1 0 4.2 0a2.1 2.1 0 1 0 -4.2 0M635.0 377.8a2.1 2.1 0 1 0 4.2 0a2.1 2.1 0 1 0 -4.2 0M635.5 392.5a2.1 2.1 0 1 0 4.2 0a2.1 2.1 0 1 0 -4.2 0M636.0 397.4a2.1 2.1 0 1 0 4.2 0a2.1 2.1 0 1 0 -4.2 0M636.6 407.2a2.1 2.1 0 1 0 4.2 0a2.1 2.1 0 1 0 -4.2 0M776.2 586.5a2.1 2.1 0 1 0 4.2 0a2.1 2.1 0 1 0 -4.2 0M776.9 595.0a2.1 2.1 0 1 0 4.2 0a2.1 2.1 0 1 0 -4.2 0M797.5 566.8a2.1 2.1 0 1 0 4.2 0a2.1 2.1 0 1 0 -4.2 0M798.1 561.9a2.1 2.1 0 1 0 4.2 0a2.1 2.1 0 1 0 -4.2 0M646.0 537.4a2.1 2.1 0 1 0 4.2 0a2.1 2.1 0 1 0 -4.2 0M664.8 564.4a2.1 2.1 0 1 0 4.2 0a2.1 2.1 0 1 0 -4.2 0M666.0 559.4a2.1 2.1 0 1 0 4.2 0a2.1 2.1 0 1 0 -4.2 0M686.1 559.4a2.1 2.1 0 1 0 4.2 0a2.1 2.1 0 1 0 -4.2 0" fill="none" stroke="#ff0000" stroke-width="0.65"/>
<polyline points="307.5,512.8 308.0,512.8 308.5,512.8 309.0,512.8 309.5,512.8 310.0,512.8 310.5,512.8 311.0,512.8 311.5,512.8 312.0,512.8 312.5,512.8 313.0,512.8 313.5,512.8 314.0,512.8 314.5,512.8 315.0,512.8 315.5,512.8 316.0,512.8 316.5,512.8 317.0,512.8 317.5,512.8 318.0,512.8 318.5,512.8 319.0,512.8 319.5,512.8 320.0,512.8 320.5,512.8 321.0,512.8 321.5,512.8 322.0,512.8 322.5,512.8 323.0,512.8 323.5,512.8 324.0,512.8 324.5,512.8 325.0,512.8 325.5,512.8 326.0,512.8 326.5,512.8 327.0,512.8 327.5,512.8 328.0,512.8 328.5,512.8 329.0,512.8 329.5,512.8 330.0,512.8 330.5,512.8 331.0,512.8 331.5,512.8 332.0,512.8 332.5,512.8 333.0,512.8 333.5,512.8 334.0,512.8 334.5,512.8 335.0,512.8 335.5,512.8 336.1,512.8 336.6,512.8 337.1,512.8 337.6,512.8 338.1,512.8 338.6,512.8 339.1,512.8 339.6,512.8 340.1,512.8 340.6,512.8 341.1,512.8 341.6,512.8 342.1,512.8 342.6,512.8 343.1,512.8 343.6,512.8 344.1,512.8 344.6,512.8 345.1,512.8 345.6,512.8 346.1,512.8 346.6,512.8 347.1,512.8 347.6,512.8 348.1,512.8 348.6,512.8 349.1,512.8 349.6,512.8 350.1,512.8 350.6,512.8 351.1,512.8 351.6,512.8 352.1,512.8 352.6,512.8 353.1,512.8 353.6,512.8 354.1,512.8 354.6,512.8 355.1,512.8 355.6,512.8 356.1,512.8 356.6,512.8 357.1,512.8 357.6,512.8 358.1,512.8 358.6,512.8 359.1,512.8 359.6,512.8 360.1,512.8 360.6,512.8 361.1,512.8 361.6,512.8 362.1,512.8 362.6,512.8 363.1,512.8 363.6,512.8 364.1,512.8 364.6,512.8 365.1,512.8 365.6,512.8 366.1,512.8 366.6,512.8 367.1,512.8 367.6,512.8 368.1,512.8 368.6,512.8 369.1,512.8 369.6,512.8 370.1,512.8 370.6,512.8 371.1,512.8 371.6,512.8 372.1,512.8 372.6,512.8 373.1,512.8 373.6,512.8 374.1,512.8 374.6,512.8 375.1,512.8 375.6,512.8 376.1,512.8 376.6,512.8 377.1,512.8 377.6,512.8 378.1,512.8 378.6,512.8 379.1,512.8 379.6,512.8 380.1,512.8 380.6,512.8 381.1,512.8 381.6,512.8 382.1,512.8 382.6,512.8 383.1,512.8 383.6,512.8 384.1,512.8 384.6,512.8 385.1,512.8 385.6,512.8 386.1,512.8 386.6,512.8 387.1,512.8 387.6,512.8 388.1,512.8 388.6,512.8 389.1,512.8 389.6,512.8 390.1,512.8 390.6,512.8 391.1,512.8 391.6,512.8 392.1,512.8 392.6,512.8 393.2,512.8 393.7,512.8 394.2,512.8 394.7,512.8 395.2,512.8 395.7,512.8 396.2,512.8 396.7,512.8 397.2,512.8 397.7,512.8 398.2,512.8 398.7,512.8 399.2,512.8 399.7,512.8 400.2,512.8 400.7,512.8 401.2,512.8 401.7,512.8 402.2,512.8 402.7,512.8 403.2,512.8 403.7,512.8 404.2,512.8 404.7,512.8 405.2,512.8 405.7,512.8 406.2,512.8 406.7,512.8 407.2,512.8 407.7,512.8 408.2,512.8 408.7,512.8 409.2,512.8 409.7,512.8 410.2,512.8 410.7,512.8 411.2,512.8 411.7,512.8 412.2,512.8 412.7,512.8 413.2,512.8 413.7,512.8 414.2,512.8 414.7,512.8 415.2,512.8 415.7,512.8 416.2,512.8 416.7,512.8 417.2,512.8 417.7,512.8 418.2,512.8 418.7,512.8 419.2,512.8 419.7,512.8 420.2,512.8 420.7,512.8 421.2,512.8 421.7,512.8 422.2,512.8 422.7,512.8 423.2,512.8 423.7,512.8 424.2,512.8 424.7,512.8 425.2,512.8 425.7,512.8 426.2,512.8 426.7,512.8 427.2,512.8 427.7,512.8 428.2,512.8 428.7,512.8 429.2,512.8 429.7,512.8 430.2,512.8 430.7,512.8 431.2,512.8 431.7,512.8 432.2,512.8 432.7,512.8 433.2,512.8 433.7,512.8 434.2,512.8 434.7,512.7 435.2,512.7 435.7,512.7 436.2,512.7 436.7,512.7 437.2,512.7 437.7,512.7 438.2,512.6 438.7,512.6 439.2,512.6 439.7,512.5 440.2,512.5 440.7,512.4 441.2,512.4 441.7,512.3 442.2,512.2 442.7,512.1 443.2,512.0 443.7,511.9 444.2,511.8 444.7,511.6 445.2,511.5 445.7,511.3 446.2,511.1 446.7,510.8 447.2,510.6 447.7,510.3 448.2,509.9 448.7,509.6 449.2,509.2 449.7,508.8 450.3,508.3 450.8,507.8 451.3,507.2 451.8,506.6 452.3,505.9 452.8,505.2 453.3,504.4 453.8,503.6 454.3,502.7 454.8,501.7 455.3,500.7 455.8,499.6 456.3,498.5 456.8,497.2 457.3,496.0 457.8,494.6 458.3,493.2 458.8,491.7 459.3,490.1 459.8,488.5 460.3,486.9 460.8,485.1 461.3,483.4 461.8,481.6 462.3,479.7 462.8,477.8 463.3,475.9 463.8,474.0 464.3,472.0 464.8,470.1 465.3,468.2 465.8,466.2 466.3,464.4 466.8,462.5 467.3,460.7 467.8,458.9 468.3,457.2 468.8,455.6 469.3,454.1 469.8,452.6 470.3,451.3 470.8,450.0 471.3,448.9 471.8,447.9 472.3,447.0 472.8,446.3 473.3,445.7 473.8,445.3 474.3,445.0 474.8,444.8 475.3,444.8 475.8,445.0 476.3,445.3 476.8,445.7 477.3,446.3 477.8,447.0 478.3,447.9 478.8,448.9 479.3,450.0 479.8,451.3 480.3,452.6 480.8,454.1 481.3,455.6 481.8,457.2 482.3,458.9 482.8,460.7 483.3,462.5 483.8,464.4 484.3,466.2 484.8,468.2 485.3,470.1 485.8,472.0 486.3,474.0 486.8,475.9 487.3,477.8 487.8,479.7 488.3,481.6 488.8,483.4 489.3,485.1 489.8,486.9 490.3,488.5 490.8,490.1 491.3,491.7 491.8,493.2 492.3,494.6 492.8,496.0 493.3,497.2 493.8,498.5 494.3,499.6 494.8,500.7 495.3,501.7 495.8,502.7 496.3,503.6 496.8,504.4 497.3,505.2 497.8,505.9 498.3,506.6 498.8,507.2 499.3,507.8 499.8,508.3 500.3,508.8 500.8,509.2 501.3,509.6 501.8,509.9 502.3,510.3 502.8,510.6 503.3,510.8 503.8,511.1 504.3,511.3 504.8,511.5 505.3,511.6 505.8,511.8 506.3,511.9 506.8,512.0 507.4,512.1 507.9,512.2 508.4,512.3 508.9,512.4 509.4,512.4 509.9,512.5 510.4,512.5 510.9,512.6 511.4,512.6 511.9,512.6 512.4,512.7 512.9,512.7 513.4,512.7 513.9,512.7 514.4,512.7 514.9,512.7 515.4,512.7 515.9,512.8 516.4,512.8 516.9,512.8 517.4,512.8 517.9,512.8 518.4,512.8 518.9,512.8 519.4,512.8 519.9,512.8 520.4,512.8 520.9,512.8 521.4,512.8 521.9,512.8 522.4,512.8 522.9,512.8 523.4,512.8 523.9,512.8 524.4,512.8 524.9,512.8 525.4,512.8 525.9,512.8 526.4,512.8 526.9,512.8 527.4,512.8 527.9,512.8 528.4,512.8 528.9,512.8 529.4,512.8 529.9,512.8 530.4,512.8 530.9,512.8 531.4,512.8 531.9,512.8 532.4,512.8 532.9,512.8 533.4,512.8 533.9,512.8 534.4,512.8 534.9,512.8 535.4,512.8 535.9,512.8 536.4,512.8 536.9,512.8 537.4,512.8 537.9,512.8 538.4,512.8 538.9,512.8 539.4,512.8 539.9,512.8 540.4,512.8 540.9,512.8 541.4,512.8 541.9,512.8 542.4,512.8 542.9,512.8 543.4,512.8 543.9,512.8 544.4,512.8 544.9,512.8 545.4,512.8 545.9,512.8 546.4,512.8 546.9,512.8 547.4,512.8 547.9,512.8 548.4,512.8 548.9,512.8 549.4,512.8 549.9,512.8 550.4,512.8 550.9,512.8 551.4,512.8 551.9,512.8 552.4,512.8 552.9,512.8 553.4,512.8 553.9,512.8 554.4,512.8 554.9,512.8 555.4,512.8 555.9,512.8 556.4,512.8 556.9,512.8 557.4,512.8 557.9,512.8 558.4,512.8 558.9,512.8 559.4,512.8 559.9,512.8 560.4,512.8 560.9,512.8 561.4,512.8 561.9,512.8 562.4,512.8 562.9,512.8 563.4,512.8 564.0,512.8 564.5,512.8 565.0,512.8 565.5,512.8 566.0,512.8 566.5,512.8 567.0,512.8 567.5,512.8 568.0,512.8 568.5,512.8 569.0,512.8 569.5,512.8 570.0,512.8 570.5,512.8 571.0,512.8 571.5,512.8 572.0,512.8 572.5,512.8 573.0,512.8 573.5,512.8 574.0,512.8 574.5,512.8 575.0,512.8 575.5,512.8 576.0,512.8 576.5,512.8 577.0,512.8 577.5,512.8 578.0,512.8 578.5,512.8 579.0,512.8 579.5,512.8 580.0,512.8 580.5,512.8 581.0,512.8 581.5,512.8 582.0,512.8 582.5,512.8 583.0,512.8 583.5,512.8 584.0,512.8 584.5,512.8 585.0,512.8 585.5,512.8 586.0,512.8 586.5,512.8 587.0,512.8 587.5,512.8 588.0,512.8 588.5,512.8 589.0,512.8 589.5,512.8 590.0,512.8 590.5,512.8 591.0,512.8 591.5,512.8 592.0,512.8 592.5,512.8 593.0,512.8 593.5,512.8 594.0,512.8 594.5,512.8 595.0,512.8 595.5,512.8 596.0,512.8 596.5,512.8 597.0,512.8 597.5,512.8 598.0,512.8 598.5,512.7 599.0,512.7 599.5,512.7 600.0,512.7 600.5,512.7 601.0,512.7 601.5,512.7 602.0,512.6 602.5,512.6 603.0,512.6 603.5,512.5 604.0,512.5 604.5,512.4 605.0,512.3 605.5,512.3 606.0,512.2 606.5,512.1 607.0,512.0 607.5,511.9 608.0,511.7 608.5,511.6 609.0,511.4 609.5,511.2 610.0,510.9 610.5,510.7 611.0,510.4 611.5,510.1 612.0,509.7 612.5,509.3 613.0,508.9 613.5,508.4 614.0,507.9 614.5,507.3 615.0,506.6 615.5,505.9 616.0,505.2 616.5,504.3 617.0,503.4 617.5,502.5 618.0,501.4 618.5,500.3 619.0,499.1 619.5,497.8 620.0,496.4 620.5,495.0 621.1,493.4 621.6,491.8 622.1,490.1 622.6,488.3 623.1,486.4 623.6,484.4 624.1,482.4 624.6,480.3 625.1,478.1 625.6,475.8 626.1,473.5 626.6,471.1 627.1,468.7 627.6,466.2 628.1,463.7 628.6,461.2 629.1,458.7 629.6,456.2 630.1,453.7 630.6,451.2 631.1,448.8 631.6,446.4 632.1,444.1 632.6,441.9 633.1,439.7 633.6,437.7 634.1,435.7 634.6,433.9 635.1,432.2 635.6,430.7 636.1,429.3 636.6,428.1 637.1,427.1 637.6,426.2 638.1,425.5 638.6,425.1 639.1,424.8 639.6,424.7 640.1,424.8 640.6,425.1 641.1,425.5 641.6,426.2 642.1,427.1 642.6,428.1 643.1,429.3 643.6,430.7 644.1,432.2 644.6,433.9 645.1,435.7 645.6,437.7 646.1,439.7 646.6,441.9 647.1,444.1 647.6,446.4 648.1,448.8 648.6,451.2 649.1,453.7 649.6,456.2 650.1,458.7 650.6,461.2 651.1,463.7 651.6,466.2 652.1,468.7 652.6,471.1 653.1,473.5 653.6,475.8 654.1,478.1 654.6,480.3 655.1,482.4 655.6,484.4 656.1,486.4 656.6,488.3 657.1,490.1 657.6,491.8 658.1,493.4 658.6,495.0 659.1,496.4 659.6,497.8 660.1,499.1 660.6,500.3 661.1,501.4 661.6,502.5 662.1,503.4 662.6,504.3 663.1,505.2 663.6,505.9 664.1,506.6 664.6,507.3 665.1,507.9 665.6,508.4 666.1,508.9 666.6,509.3 667.1,509.7 667.6,510.1 668.1,510.4 668.6,510.7 669.1,510.9 669.6,511.2 670.1,511.4 670.6,511.6 671.1,511.7 671.6,511.9 672.1,512.0 672.6,512.1 673.1,512.2 673.6,512.3 674.1,512.3 674.6,512.4 675.1,512.5 675.6,512.5 676.1,512.6 676.6,512.6 677.1,512.6 677.6,512.7 678.2,512.7 678.7,512.7 679.2,512.7 679.7,512.7 680.2,512.7 680.7,512.7 681.2,512.8 681.7,512.8 682.2,512.8 682.7,512.8 683.2,512.8 683.7,512.8 684.2,512.8 684.7,512.8 685.2,512.8 685.7,512.8 686.2,512.8 686.7,512.8 687.2,512.8 687.7,512.8 688.2,512.8 688.7,512.8 689.2,512.8 689.7,512.8 690.2,512.8 690.7,512.8 691.2,512.8 691.7,512.8 692.2,512.8 692.7,512.8 693.2,512.8 693.7,512.8 694.2,512.8 694.7,512.8 695.2,512.8 695.7,512.8 696.2,512.8 696.7,512.8 697.2,512.8 697.7,512.8 698.2,512.8 698.7,512.8 699.2,512.8 699.7,512.8 700.2,512.8 700.7,512.8 701.2,512.8 701.7,512.8 702.2,512.8 702.7,512.8 703.2,512.8 703.7,512.8 704.2,512.8 704.7,512.8 705.2,512.8 705.7,512.8 706.2,512.8 706.7,512.8 707.2,512.8 707.7,512.8 708.2,512.8 708.7,512.8 709.2,512.8 709.7,512.7 710.2,512.7 710.7,512.7 711.2,512.7 711.7,512.7 712.2,512.6 712.7,512.6 713.2,512.6 713.7,512.5 714.2,512.4 714.7,512.4 715.2,512.3 715.7,512.2 716.2,512.0 716.7,511.9 717.2,511.7 717.7,511.5 718.2,511.2 718.7,511.0 719.2,510.6 719.7,510.3 720.2,509.8 720.7,509.3 721.2,508.8 721.7,508.2 722.2,507.5 722.7,506.7 723.2,505.9 723.7,504.9 724.2,503.9 724.7,502.7 725.2,501.4 725.7,500.1 726.2,498.6 726.7,497.0 727.2,495.3 727.7,493.5 728.2,491.5 728.7,489.5 729.2,487.3 729.7,485.1 730.2,482.8 730.7,480.3 731.2,477.9 731.7,475.4 732.2,472.8 732.7,470.2 733.2,467.6 733.7,465.1 734.2,462.6 734.7,460.1 735.3,457.7 735.8,455.5 736.3,453.3 736.8,451.3 737.3,449.5 737.8,447.8 738.3,446.4 738.8,445.2 739.3,444.1 739.8,443.4 740.3,442.9 740.8,442.6 741.3,442.6 741.8,442.9 742.3,443.4 742.8,444.1 743.3,445.2 743.8,446.4 744.3,447.8 744.8,449.5 745.3,451.3 745.8,453.3 746.3,455.5 746.8,457.7 747.3,460.1 747.8,462.6 748.3,465.1 748.8,467.6 749.3,470.2 749.8,472.8 750.3,475.4 750.8,477.9 751.3,480.3 751.8,482.8 752.3,485.1 752.8,487.3 753.3,489.5 753.8,491.5 754.3,493.5 754.8,495.3 755.3,497.0 755.8,498.6 756.3,500.1 756.8,501.4 757.3,502.7 757.8,503.9 758.3,504.9 758.8,505.9 759.3,506.7 759.8,507.5 760.3,508.2 760.8,508.8 761.3,509.3 761.8,509.8 762.3,510.3 762.8,510.6 763.3,511.0 763.8,511.2 764.3,511.5 764.8,511.7 765.3,511.9 765.8,512.0 766.3,512.2 766.8,512.3 767.3,512.4 767.8,512.4 768.3,512.5 768.8,512.6 769.3,512.6 769.8,512.6 770.3,512.7 770.8,512.7 771.3,512.7 771.8,512.7 772.3,512.7 772.8,512.8 773.3,512.8 773.8,512.8 774.3,512.8 774.8,512.8 775.3,512.8 775.8,512.8 776.3,512.8 776.8,512.8 777.3,512.8 777.8,512.8 778.3,512.8 778.8,512.8 779.3,512.8 779.8,512.8 780.3,512.8 780.8,512.8 781.3,512.8 781.8,512.8 782.3,512.8 782.8,512.8 783.3,512.8 783.8,512.8 784.3,512.8 784.8,512.8 785.3,512.8 785.8,512.8 786.3,512.8 786.8,512.8 787.3,512.8 787.8,512.8 788.3,512.8 788.8,512.8 789.3,512.8 789.8,512.8 790.3,512.8 790.8,512.8 791.3,512.8 791.8,512.8 792.4,512.8 792.9,512.8 793.4,512.8 793.9,512.8 794.4,512.8 794.9,512.8 795.4,512.8 795.9,512.8 796.4,512.8 796.9,512.8 797.4,512.8 797.9,512.8 798.4,512.8 798.9,512.8 799.4,512.8 799.9,512.8 800.4,512.8 800.9,512.8 801.4,512.8 801.9,512.8 802.4,512.8 802.9,512.8 803.4,512.8 803.9,512.8 804.4,512.8 804.9,512.8 805.4,512.8 805.9,512.8 806.4,512.8 806.9,512.8 807.4,512.8 807.9,512.8 808.4,512.8 808.9,512.8 809.4,512.8 809.9,512.8 810.4,512.8 810.9,512.8 811.4,512.8 811.9,512.8 812.4,512.8 812.9,512.8 813.4,512.8 813.9,512.8 814.4,512.8 814.9,512.8 815.4,512.8 815.9,512.8 816.4,512.8 816.9,512.8 817.4,512.8 817.9,512.8 818.4,512.8 818.9,512.8 819.4,512.8 819.9,512.8" fill="none" stroke="#000" stroke-width="2.2"/></g>
<rect x="307.3" y="365.5" width="180.3" height="46.5" fill="#fff" stroke="#9a9a9a" stroke-width="1"/>
<circle cx="333.8" cy="378.2" r="2.35" fill="none" stroke="#ff0000" stroke-width="0.75"/>
<text x="350.7" y="383.7" font-size="15.95" text-anchor="start" fill="#262626">denoised waveform</text>
<line x1="320" y1="399.2" x2="347.4" y2="399.2" stroke="#000" stroke-width="2.2"/>
<text x="350.7" y="404.6" font-size="15.95" text-anchor="start" fill="#262626">LM fitting result</text>
<text x="563.95" y="655.8" font-size="18.6" text-anchor="middle" fill="#262626">Time</text>
<text x="0" y="0" transform="translate(278.8 487.9) rotate(-90)" font-size="19.85" text-anchor="middle" fill="#262626">Amplitude</text>
<text x="558.3" y="676.1" font-size="20.5" text-anchor="middle" fill="#262626">(b)</text>
</svg>
</body></html>
